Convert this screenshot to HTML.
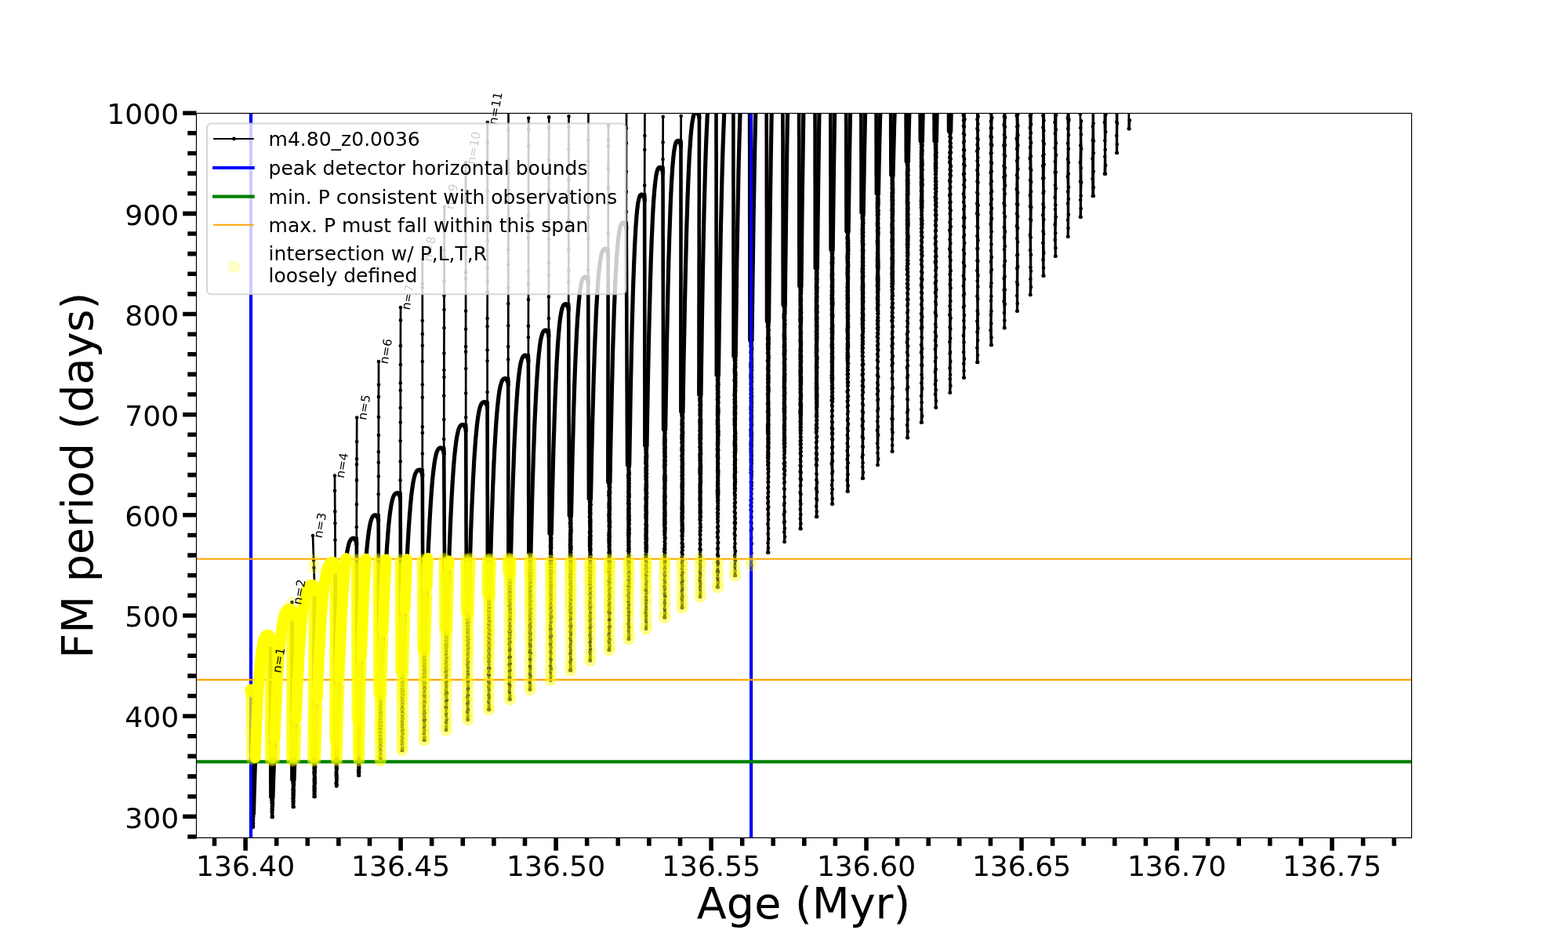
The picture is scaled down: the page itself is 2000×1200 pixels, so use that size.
<!DOCTYPE html>
<html><head><meta charset="utf-8"><title>FM period vs Age</title><style>html,body{margin:0;padding:0;background:#fff;overflow:hidden}svg{display:block}</style></head><body>
<svg width="2000" height="1200" viewBox="0 0 2000 1200">
<defs><clipPath id="ax"><rect x="250.5" y="144.5" width="1550.0" height="923.8499999999999"/></clipPath></defs>
<rect width="2000" height="1200" fill="#fff"/>
<g clip-path="url(#ax)">
<path d="M320.3 881L320.3 884L320.4 887L320.4 890L320.5 893L320.5 896L320.5 899L320.6 902L320.6 905L320.6 908L320.7 911L320.7 914L320.8 917L320.8 920L320.8 923L320.9 926L320.9 929L320.9 932L321 935L321 938L321.1 941L321.1 944L321.1 947L321.2 950L321.2 953L321.2 956L321.3 959L321.3 962L321.4 965L321.4 968L321.4 971L321.5 974L321.5 977L321.6 980L321.6 983L321.6 986L321.7 989L321.7 992L321.7 995L321.8 998L321.8 1001L321.9 1004L321.9 1007L321.9 1010L322 1013L322 1016L322 1019L322.1 1022L322.1 1025L322.2 1028L322.2 1031L322.2 1034L322.3 1037L322.3 1040L322.3 1043L322.4 1046L322.4 1049L322.5 1052L322.5 1055M322.8 1055L323.1 1053.4L323.1 1050L323 1046.9L323.1 1044.6L323.3 1041.4L323.5 1038.8L323.5 1037.1M346.7 1042L347 1038.7L346.6 1035.3L346.7 1032.1L346.8 1028.5L347 1026L346.6 1023.7L346.4 1020.6L346.3 1018L346.6 1016.4M345.4 1016.4L346.6 1017.9M347.7 1042L347.6 1040.4L347.5 1036.6L347.7 1033.1L347.7 1030L348.1 1026.6L348 1023.8L348 1021.7L348.2 1018.8L348 1016.4M372.7 779.7L372.5 768M373.7 1029L373.7 1025.7L373.5 1022.2L373.5 1019.1L373.5 1016.7L373.5 1013.3L373.6 1010.8L373.4 1007.5L373.7 1004.9L373.8 1001.8L373.5 998.8L373.5 996.5L373.6 994.4M372.4 994.4L373.6 995.9M374.8 1029L374.3 1027.3L374.4 1024.6L374.6 1021.8L374.5 1018.6L374.6 1016.3L374.8 1013.6L374.9 1010.1L374.9 1007.3L374.6 1004.4L375.1 1001.2L375.1 998.3L374.9 996L375 994.4M401.2 748.9L400.4 724L400.1 714.6L399 683M400.5 1016L400.6 1012.6L400.7 1009.9L400.5 1007.4L400.5 1004.8L400.5 1002L400.8 998.5L400.6 996.1L400.6 993.6L400.9 991.4L400.7 988.1L400.4 985.6L400.6 983.6L400.8 981.5L400.4 979.5L400.6 976.7L400.6 974.8L400.6 973.1L400.6 971.1M399.4 971.1L400.6 972.6M401.7 1016L401.6 1014.3L401.5 1011.4L401.7 1008.7L401.8 1005.5L401.5 1002.7L402 999.2L401.9 995.8L401.9 992.6L401.8 990.3L401.5 987.9L401.7 986L402 983.8L401.9 980.8L402.2 978L401.9 975.2L401.8 973.2L401.8 971.2L402 971.1M427.7 720.1L427.5 688.6L427.4 667.2L427.3 652.4L427.1 625.8L427 606.5M429 1002.5L428.5 999.1L429 995.5L428.9 991.8L428.6 988.7L428.6 985.2L429 981.9L428.7 979.2L428.8 975.9L428.5 973.7L428.9 971.6L428.5 968.7L429 965.9L428.6 963.4L428.4 961.1L428.9 959.3L428.7 956.9L428.6 954.1L428.8 951.3L428.5 949.4L428.5 947.3L428.5 944.9L428.6 944.8M427.4 944.8L428.6 946.3M429.3 1002.5L429.8 1000.8L429.5 997.6L429.8 994.2L429.8 991.2L429.6 988.1L429.4 985L429.5 982.2L429.9 980.1L429.7 977.8L429.8 974.8L429.8 972.4L430 969.9L429.8 967.9L429.7 965.8L429.8 963.2L430 960.8L429.9 958L429.9 955.6L430 953.3L430 951.1L430.2 948.8L430.2 946.2L430 944.8M454.8 689.3L454.8 672.2L454.9 643.2L455 612.4L455 592.2L455.1 585.3L455.1 563.2L455.2 532.5M457.3 989L457 985.5L457 982.5L457.4 979L457.1 975.2L457.3 971.8L457.5 969.3L457.1 965.8L457.2 962.4L457.5 959.7L457 956.7L457.2 954.3L457 952.1L457.3 949.9L457.2 948.2L456.9 945.9L457.2 943.8L456.9 941.5L457.3 938.7L456.9 935.8L456.9 933.8L457 931.2L457.1 929.3L457.3 926.5L456.9 924.5L457.2 921.7L456.9 919.2L457.1 918.5M455.9 918.5L457.1 920M458.1 989L458 987.2L458.3 984.5L458.2 981L458.3 978.4L458.3 975.9L458 972.9L458.4 969.8L457.9 967.2L458 964.4L458 962.2L458 960.1L458.1 957.8L458.1 954.9L458.1 952.5L458 950.3L458 948.3L458.3 945.7L458.3 943.8L458.1 941L458.3 938.3L458.6 936L458.4 933.8L458.7 931.3L458.6 929.2L458.5 926.7L458.4 924.5L458.2 922.7L458.6 920.9L458.3 918.9L458.5 918.5M482.7 659.8L482.7 630.2L482.8 607.5L482.8 589.8L482.8 576.3L482.9 555L482.9 531.8L482.9 506.1L483 490.6L483 461M484.8 970L484.6 964.8L485.1 958.4L484.6 953.3L484.6 947.2L484.4 942.7L484.7 938.3L484.5 933.7L484.4 929.1L484.4 925.2L484.4 921L484.6 917.8L484.7 914.1L484.8 909.9L484.8 905.5L484.6 900.7L484.9 897.2L484.8 894L484.3 890L484.8 885.7L484.6 885.4M483.4 885.4L484.6 886.9M485.6 970L485.7 967.4L485.6 963.1L485.8 958L485.8 952.2L485.9 947.1L485.8 941.9L485.4 937.8L485.6 934L485.9 930.4L485.8 925.8L485.9 921.1L485.5 916.8L486 912L485.9 907.9L485.6 903.5L485.8 899.1L485.8 896L485.8 891.8L486.3 887.6L486 885.4M510.6 631.6L510.6 612.4L510.7 588.5L510.7 562.2L510.8 538.6L510.8 520.1L510.8 497.8L510.8 488.4L510.9 465.1L510.9 441L511 408.4L511 392M512.7 957L512.8 950L512.5 944.9L512.9 939.1L512.9 932.1L512.7 926.6L512.7 920.7L513 916.1L513 911.3L512.4 904.7L512.9 899.6L512.6 893.4L512.5 889.1L512.5 883.4L512.4 878.7L512.9 874.4L512.8 871L512.9 866.9L512.4 862.6L512.6 858.1L512.6 857M511.4 857L512.6 858.5M513.2 957L513.5 953.5L513.4 946.8L513.5 941.3L513.8 935.5L513.8 930.8L513.4 923.6L513.8 916.5L513.6 909.8L513.7 904.8L513.8 898.2L513.8 893.6L513.6 889.3L514.1 885.6L514.1 881.5L513.8 877.7L513.7 873.4L514.2 869.5L514.1 864.7L514.2 860.6L514 857M538.8 602.2L538.8 578.5L538.8 552.1L538.8 544.3L538.8 506.7L538.8 490.3L538.8 461L538.8 440.8L538.8 426.1L538.8 408.7L538.8 366.8L538.8 361.8L538.8 331M540.8 944L540.7 935.5L540.9 928.2L540.6 918.5L540.6 910.5L540.7 903.3L540.5 897.6L541 892.1L540.5 885.8L541 878.6L540.5 873.1L540.4 868.5L540.4 863.7L540.5 859.3L540.9 854.3L540.6 849.1L540.6 844.8L540.5 840.9L540.5 837.7L540.4 832.9L540.6 829.9M539.4 829.9L540.6 831.4M541.6 944L541.7 939.8L541.4 932.6L541.5 925.6L541.9 918.1L541.9 909.4L541.4 904.1L541.9 896.6L541.8 890.2L541.7 885.6L542 878.4L542.1 871.7L541.6 867L541.9 862.7L542.1 857.2L542 852L541.9 846.8L541.7 842.4L541.8 837.7L542.1 833L542 829.9M566.2 574L566.2 560L566.3 535.1L566.3 504.5L566.4 481L566.4 471.7L566.4 450.5L566.5 418.3L566.5 394.9L566.5 377L566.6 358.5L566.6 328L566.7 318.8L566.7 290.3L566.8 263.8M568.8 931L569.1 921L569 910.8L568.6 901.9L569 894.5L568.6 885.5L568.7 879.6L568.7 871.5L568.8 865.3L568.5 857.2L568.6 852.3L568.8 846.5L568.8 841.6L568.7 835.4L568.9 830.9L568.8 826.4L568.5 822.3L568.5 817.1L568.6 811.8L568.4 808.4L568.7 804.7L568.6 802.8M567.4 802.8L568.6 804.3M569.3 931L569.5 926L569.8 917.6L569.3 910L569.5 903L569.9 892.7L570 883.7L569.6 874.4L570 868.3L569.5 860.6L569.7 853.6L569.7 847.9L569.5 843L569.8 838L569.7 831.4L569.7 825.2L570.1 820.8L569.9 815.6L569.9 812.3L570.2 808.5L569.9 805.2L570 802.8M594.2 544.5L594.2 532.3L594.2 501.5L594.2 470.1L594.1 448.6L594.1 442.1L594.1 419.7L594.1 396.6L594.1 355.3L594.1 347.3L594.1 314.1L594 288.2L594 278L594 257L594 219.4L594 207M596.4 918L596.1 907.9L596.2 897.2L596 889.1L596.5 879.2L596.5 870.3L596.1 864.3L596.5 856.8L596.1 847.9L596.1 841.9L596.4 835.4L596.4 830.1L596.4 823.4L596.2 816.9L596 812L596.3 807.2L595.9 803.3L596 798L595.8 794.4L596 790L596.3 784.9L596.1 782.2M594.9 782.2L596.1 783.7M596.9 918L596.8 912.9L597 905.1L597.1 894.5L597.1 886.7L597.3 877.5L597.4 868.3L597 859.9L597.1 851.2L597.2 844L597.1 836.5L597.2 831L597.6 826L597.3 820L597.7 814.7L597.2 809.4L597.5 803.6L597.2 797.7L597.7 793.3L597.7 788.3L597.4 785.1L597.5 782.2M621.6 515.7L621.6 500L621.6 460.3L621.6 446.4L621.6 416.3L621.6 406.1L621.7 372.7L621.7 359.4L621.7 341.1L621.7 307.2L621.7 281.1L621.7 277.1L621.7 243.8L621.7 220.8L621.7 207.2L621.7 181.4L621.8 156M623.1 905L623.1 894.8L623.3 886.2L623.1 876.1L623.1 869.3L623 859.9L623.1 852.4L623.2 843.3L623 837.4L623.2 830.6L622.9 823.1L623.3 817.6L623 811.5L623.4 806L623.2 800.7L623.1 795.5L623.4 789.1L623 784.3L623 778.8L623.4 775.3L623.3 771L623.3 766.9L622.9 762.8L623.1 759.8L623.1 757.6M621.9 757.6L623.1 759.1M624.2 905L623.8 899.9L624 889.3L623.9 879.7L624.1 871.6L623.9 860.9L624.4 852.7L624 842.9L624.5 836.8L624.3 827.9L624.5 822.6L624.5 816.3L624.5 809.6L624.5 804.6L624.3 799.6L624.6 793.1L624.2 788.6L624.4 783.8L624.2 779.2L624.6 775.1L624.2 769.7L624.6 765.3L624.7 762.2L624.6 759L624.5 757.6M648.2 485.5L648.2 458.4L648.2 442.1L648.3 415.3L648.3 387.3L648.3 367L648.3 337.3L648.3 318.3L648.4 294.5L648.4 280.4L648.4 242L648.4 221L648.4 203.1L648.5 166.3L648.5 141.9M649.8 892L649.6 881.6L649.5 871.9L649.7 864.1L649.7 856.8L649.5 847.9L649.5 838.8L649.9 829.7L649.4 821.9L649.6 814.5L649.5 805.8L650 797.8L649.9 790.7L650 785.5L649.9 779.6L649.5 772.8L649.9 766.6L649.6 762.6L649.4 757.1L649.5 751.4L649.4 746.2L649.9 742L649.5 738.5L649.5 734.5L649.4 731.6L649.6 730.5M648.4 730.5L649.6 732M650.8 892L650.6 886.8L650.4 874.7L650.4 863.7L650.7 854.4L650.9 846.2L650.7 837.5L650.5 827.9L650.8 818.4L650.9 811.5L651.1 805.3L650.7 798.3L650.8 791L651 785.9L651 781.3L650.9 776.3L650.9 769.4L650.8 763.8L650.6 760L651 756.1L650.9 751.5L650.7 746.2L651.1 742.5L650.7 739.4L650.7 735.7L650.8 732.2L651 730.5M673.9 456.1L673.9 430.2L673.9 415.8L674 382L674 361.9L674 346.4L674 303.5L674 296.4L674.1 275L674.1 252.6L674.1 215.9L674.1 186.6L674.2 165.1L674.2 150.5M675.7 879.5L675.5 869L675.8 858.3L675.9 849.5L676 840.6L675.6 830.8L675.5 820.8L675.7 812.9L675.5 806.3L675.4 798.1L676 791.1L675.5 785.7L675.7 779L675.9 772.6L675.6 767.8L675.4 762.8L675.8 756.5L675.4 751L675.8 745.4L675.8 740.9L675.5 736.7L675.5 733.4L675.5 730.3L675.7 726L675.7 721.7L675.6 718.6L675.8 715.4L675.5 712L675.9 708.5L675.8 705.6L675.6 705.2M674.4 705.2L675.6 706.7M676.4 879.5L676.4 874.3L676.8 862.8L676.5 851.9L676.5 840.9L676.9 833.2L676.8 824.3L677 815.6L676.9 808.1L676.9 800L676.9 793.3L676.7 786.4L676.9 781L677 776.2L676.5 771.4L677.1 766.8L676.6 761.8L676.6 757.7L676.9 752.2L677 746.9L676.9 743.3L677.1 739.2L677.2 734.3L677.1 731.1L677.2 726.4L676.8 723.5L676.7 720.6L677.2 716.6L677.2 713L676.9 709.5L676.8 706.8L677 705.2M699.9 424L699.9 406.1L699.9 378.4L700 351L700 335.7L700 305.1L700 279.5L700.1 244.1L700.1 227.5L700.1 203.7L700.2 163.3L700.2 149.4M702.3 867.5L702.2 856.9L702 849.2L702.2 839.8L702.2 831.2L701.9 822.1L701.8 812.2L701.8 802.9L701.8 797.2L702.3 789L702 783.8L702.2 777.1L702 771.8L702.2 766.2L702.3 761L701.8 756.1L702 750.2L702.1 746.1L702.1 742.2L702.1 737L701.9 732.3L701.9 728.3L701.7 723.4L701.7 718.9L701.8 715.8L701.9 711.6L702.2 708.5L701.9 705.8L702.1 702.7L702 699.3L701.8 696.4L702.1 693.9L702.1 690.6L701.9 688L702 684.5L701.9 682L701.9 680.4M700.7 680.4L701.9 681.9M702.6 867.5L702.6 862.2L703 852.9L702.7 841.3L702.7 833.5L702.9 825.3L702.8 818.2L703.2 811.2L702.7 802.3L702.8 793.1L703.3 786.4L703.2 778.6L702.9 772.4L702.8 765.9L703 760.9L703 756.6L703.2 750.4L703.2 745.4L702.9 740.6L703.1 735.7L703.4 730.8L703.2 726.8L703.1 722.3L703.3 719L703.4 714.7L703.4 711L703.3 707.4L703.1 704.4L703 701.2L703.4 698.2L703.3 694.8L703.2 692.2L703.3 689.2L703.4 686.2L703.1 682.5L703.3 680.4M725.2 390.7L725.2 359.8L725.3 345L725.3 318.3L725.3 282.5L725.3 280.8L725.4 244.5L725.4 229.4L725.4 190.3L725.5 162.3L725.5 148.2M727.1 855L727.3 844.3L727.4 833.9L727.4 824.3L727.3 813.7L727.5 805.5L727.4 798.6L727.4 791.2L727.5 785.2L727 778.7L727.2 772.7L727.2 767.8L727.3 761.9L727.1 756.5L727.3 751.7L727.2 745.2L727.4 740.9L727 736.4L727.3 732.7L727.3 727.7L727.2 723.7L727.4 720.4L727.2 717L727.3 712.9L727 709.7L726.9 706.5L727.1 703L727 699.7L727 697.1L726.9 694.4L727.3 692.3L727 689.8L727.1 687.3L727.2 684.6L727 681.5L727.3 678.1L727.3 676L727.3 672.6L727.3 670.3L726.8 667.3L727.4 665.2L727 662.2L726.9 659.9L727.1 657.6M725.9 657.6L727.1 659.1M728.2 855L727.9 849.6L728.3 841L727.9 829.6L728.2 818.4L728.2 808.3L728.3 798.4L728 789.4L728.2 781.4L728.2 773.7L728.3 766L728.1 760.6L728.2 755.9L728.2 751.6L728.3 747.2L728.3 742.1L728 736.4L728.3 731.1L728.4 726.7L728.3 722L728.6 718.4L728.4 715.6L728.1 711.9L728.5 708.5L728.3 704.8L728.4 701.2L728.6 698.4L728.5 696.3L728.3 693.3L728.3 690L728.4 687.2L728.3 684.1L728.4 681.3L728.6 678.5L728.7 676L728.5 673.3L728.5 670.8L728.6 667.3L728.4 664.1L728.4 661.6L728.6 658.7L728.5 657.6M750.2 356.1L750.2 344L750.3 304.4L750.3 277.4L750.3 262.4L750.3 251.1L750.4 221.9L750.4 205.8L750.4 178.3L750.5 137.5M752.4 842.5L752.4 831.7L752.5 820L752.3 809.9L752.4 800.4L752.4 791.6L752.3 784.8L752.4 777.4L752 771.7L752.4 766.5L752.3 758.6L752.4 753L752.2 746.4L752.1 741.7L752.1 736.8L752.3 732.2L751.9 726.7L751.9 722.3L752.4 719.1L752.4 715.1L751.9 711.7L752.2 708.5L752.5 704.6L752.1 701.7L752.2 699.4L752 697.1L751.9 695.1L751.9 692.2L751.9 688.9L751.9 685.7L752.3 683.7L752.3 681.3L751.9 679.1L752.3 676L752.3 672.9L752.2 670.8L752.1 667.8L752 664.6L752.3 661.3L751.8 659.2L752.3 656.4L752 654.3L751.9 651.3L752.1 648.1L752 646L752.1 643.3L751.9 640.3L752 637.3L752.1 636.2M750.9 636.2L752.1 637.7M753.1 842.5L753 837.1L753.2 827.2L753.2 815L753 805.4L753.4 798.6L753.3 789.5L753.2 782.3L753.4 773.2L753.1 765.9L753.4 759.7L753.3 754L753.5 747.9L753.1 741.6L753.1 737.8L753.3 733.1L753.5 727.8L753.5 724.5L753.5 719.8L753.2 715.8L753.5 711.5L753.6 707.9L753.1 704.9L753.5 701.9L753.5 699.5L753.2 696.2L753.5 693.4L753.2 690.8L753.5 688.4L753.4 685.4L753.6 683.2L753.2 680.2L753.6 677.4L753.4 674.2L753.5 671.6L753.2 669.3L753.5 667.1L753.5 664.6L753.4 662L753.2 659.8L753.4 656.5L753.5 654.3L753.3 651.3L753.4 648.5L753.2 645.8L753.8 643.7L753.5 640.6L753.4 637.8L753.5 636.2M775.7 320.2L775.7 297.5L775.8 260.6L775.8 240.4L775.9 214.7L775.9 186.8L775.9 179.3L775.9 160.1M776.6 829L776.6 818.1L776.5 809.9L777 799.9L777 791L776.5 780.6L776.7 772.3L777 766.3L776.8 760.1L777 753L776.7 746.3L776.5 740.7L777 734L776.4 729.7L776.6 725.5L776.9 720.1L776.4 715.2L776.8 710.8L777 707L776.5 704.4L776.9 700.8L776.6 697.6L776.8 694.8L776.6 692.7L776.4 690.5L776.5 687.9L776.5 685.7L776.4 682.9L776.5 680.1L776.9 678.1L776.9 676L776.9 672.9L776.6 670.8L776.9 668.8L776.7 665.8L776.5 663.3L776.6 660.4L776.4 657.7L776.4 655.5L776.7 652.6L776.9 650.5L776.6 648.3L776.5 646.2L776.5 643.2L776.6 641.1L776.9 638.8L776.9 636.7L776.9 634.7L776.4 631.9L776.5 629.4L776.4 627.2L776.9 624.8L776.9 621.6L776.5 619.6L776.3 616.5L776.6 615M775.4 615L776.6 616.5M777.4 829L777.8 823.5L777.7 815.5L777.3 806.2L777.8 799.1L777.4 789.9L777.9 781.6L777.7 774.8L777.4 768.6L777.8 760.4L777.4 754.8L777.8 749.8L777.6 743.8L777.8 739L777.9 733.1L777.6 727.9L777.9 724.3L777.9 720.1L777.9 716.9L778 713.2L777.8 708.8L778 706.2L778 703L777.6 700.3L777.7 696.9L777.7 694.6L777.5 691.9L777.8 689.4L777.6 686.8L778 684L777.7 680.9L777.8 678.1L777.6 675.3L778.1 672.2L777.9 669.7L777.9 667.1L778.2 665.2L777.7 663L777.7 660.9L777.6 658L778 655.9L777.6 653.8L778 651.1L778 648.5L778.1 646.5L777.7 643.6L777.9 641.6L777.8 639L777.9 637L778 634.9L777.7 631.9L778.1 629.2L778.2 627.1L777.9 624L778.2 621.5L777.9 619L778.2 615.8L778 615M798.8 286.9L798.8 269.9L798.9 244.5L798.9 218.8L799 182.5L799 163.6L799.1 137.8M801.7 815L801.7 803.9L801.5 795.9L801.7 784L801.4 776.1L801.4 767.2L801.2 759.3L801.4 752.3L801.2 747.1L801.6 739.2L801.5 732L801.7 725.8L801.1 719.9L801.3 715L801.3 710.4L801.7 706.4L801.2 702.6L801.4 699.2L801.3 695.3L801.5 692.7L801.4 690.6L801.4 687.4L801.4 685.3L801.2 682.8L801.2 680.8L801.3 678.7L801.2 676.5L801.4 674.6L801.4 671.7L801.5 669.2L801.5 667.2L801.4 664.8L801.3 662.2L801.2 660L801.4 657.9L801.4 655.7L801.3 653.8L801.2 651L801.3 648.5L801.6 646.3L801.5 644.1L801.1 642.1L801.3 639.2L801.3 637.4L801.5 635L801.2 633.1L801.5 630.1L801.2 628.1L801.4 625.8L801.5 623.3L801.3 620.4L801.5 617.7L801.3 615L801.4 612.2L801.1 609.3L801 606.4L801.4 603.7L801.6 601.2L801.3 598.7L801.5 596L801.2 593.4L801.3 593.3M800.1 593.3L801.3 594.8M802.2 815L802.3 809.5L802.2 799.9L802.2 789.6L802.4 781.1L802.3 770.8L802.1 763L802.1 756.3L802.4 748.9L802.6 743.8L802.6 738.1L802.7 731.3L802.4 726.8L802.1 720.7L802.5 717.2L802.7 712.8L802.5 708.2L802.5 703.5L802.6 700L802.4 697L802.4 693.9L802.6 690.5L802.2 687.9L802.4 685.6L802.5 683.1L802.8 680.2L802.5 677.8L802.8 675.3L802.5 673L802.3 670.2L802.8 668L802.5 665.2L802.8 663.2L802.7 660.6L802.8 657.6L802.4 655.2L802.6 653.1L802.4 650.6L802.7 648.6L802.5 646L802.7 643L802.5 641.2L802.5 638.4L802.3 635.7L802.8 633.5L802.7 631L802.6 628.9L802.5 626.5L802.6 623.9L802.7 620.8L802.4 618.5L802.8 616.5L802.4 614.6L802.7 612.5L802.7 609.7L802.4 606.9L802.8 605.1L802.8 602.9L802.5 600.6L802.4 598.5L802.7 595.6L802.7 593.3M822.2 251L822.2 236.4L822.3 191L822.4 173.1L822.5 138.8M823.8 801.7L823.9 790.5L823.5 781.5L824 769.7L824 761.8L823.6 752.3L824 744.5L824 737.6L823.7 732.1L823.6 725.5L824 720.6L823.9 715.6L823.5 711.5L823.5 707.4L823.6 702.4L823.5 698.5L823.6 695.1L823.4 692.1L823.9 689.7L823.5 687.2L823.6 685L823.4 682.9L823.6 680.4L823.8 678.5L823.6 676.7L823.5 674L823.9 671.8L823.5 669.1L823.8 667L824 664.8L824 662.9L823.5 660.6L823.5 658.3L823.5 655.8L823.7 653L823.5 650.9L823.5 648.5L823.4 645.7L823.7 643.4L823.8 641.4L823.8 639.2L823.5 636.8L823.4 634.7L823.9 632.7L823.8 630.6L823.7 628.8L823.7 626.6L823.4 624.6L823.5 622.5L823.8 620.6L823.6 618.6L823.8 615.8L823.9 613.1L823.5 611.2L823.7 609.4L823.5 606.9L823.7 604.7L823.5 602.2L823.5 599.5L823.4 597.1L823.9 595.2L823.7 592.6L823.3 590.9L823.4 589L823.5 586.9L823.5 585.1L823.4 582.7L823.7 580L823.5 577.4L823.7 575.2L823.3 573.1L823.8 570.4L823.6 568.4M822.4 568.4L823.6 569.9M824.2 801.7L824.7 796.1L824.3 784.8L824.3 776.1L824.4 765.5L824.7 755.3L824.7 749.2L824.8 742.4L824.5 734.6L824.9 729.7L824.9 724.2L824.8 718.3L824.8 712.6L824.4 708.3L824.7 703.7L825 699.9L824.9 697L824.9 694.5L824.6 690.9L825 688L824.8 685.2L824.5 683.1L824.7 681L824.6 679L824.9 677.1L824.6 674.6L824.8 672.6L825 670.4L824.7 668.3L824.6 665.5L824.7 663.1L824.8 660.5L824.6 657.9L824.9 655.4L825 653.1L824.6 650.5L824.7 648.4L824.6 646.4L824.7 644.4L824.8 641.9L824.7 640L824.8 637.7L824.6 635.8L825.2 634.1L824.6 631.5L825.2 628.9L824.6 626.6L824.8 624.3L824.9 622.3L825.1 620.6L825 618.1L825 615.3L824.8 613.3L824.6 611.4L825.1 608.8L824.7 606.8L825.1 604.3L824.7 601.5L825.1 598.9L824.8 596.3L825.1 594.4L824.9 592.3L824.9 589.9L824.8 587.2L825 585.5L825.2 583L825.2 580.5L825 577.7L824.8 575.4L825 573.3L825.1 571.5L825 569.6L825 568.4M845.5 216.4L845.5 203.3L845.6 181.5L845.7 148.9M847.3 787.5L847.6 776.2L847.7 768.4L847.6 756.9L847.3 748.3L847.5 739.5L847.4 732.3L847.5 725.6L847.7 718.2L847.3 713.3L847.5 708.1L847.2 703.5L847.3 699.8L847.7 695.5L847.6 690.7L847.7 686.2L847.6 682.8L847.5 680.5L847.3 677.5L847.7 674.8L847.5 672.5L847.3 670.4L847.1 667.7L847.5 665.7L847.1 663.5L847.3 661L847.3 658.6L847.4 656.3L847.2 654.1L847.6 652.2L847.2 649.8L847.2 647.1L847.4 645.3L847.4 643.3L847.2 640.9L847.1 638.5L847.4 636.2L847.3 634.4L847.3 632.6L847.4 629.8L847.5 627.3L847.7 625.4L847.1 622.9L847.3 620.2L847.6 618.3L847.5 615.9L847.5 614L847.2 612.2L847.1 610.1L847.2 607.7L847.5 605.6L847.6 603.4L847.6 601L847.6 598.6L847.1 595.9L847.2 593.3L847.4 590.7L847.1 588L847.5 585.8L847.5 583L847.4 581.3L847.4 579.4L847.1 576.8L847.4 574L847.1 572L847.5 569.7L847.1 567.3L847.1 565.6L847.1 562.9L847.2 560.6L847.2 558.1L847.5 556.2L847.4 553.8L847.6 551.2L847.2 549.4L847.3 547.8M846.1 547.8L847.3 549.3M848.2 787.5L848.4 781.9L848 769.4L848.4 761.1L848.2 751.1L848.1 742.8L848.2 733.7L848.4 725.3L848.2 720.3L848.6 715.2L848.1 709.4L848.3 705.1L848.4 700.4L848.3 696.3L848.4 693.2L848.1 689.7L848.7 686.3L848.2 683.7L848.3 680.4L848.4 677.9L848.5 675.6L848.7 673.2L848.2 670.3L848.6 667.9L848.6 665.2L848.5 662.8L848.3 660.6L848.7 658L848.6 655.2L848.6 653.1L848.5 650.5L848.4 648.1L848.4 645.7L848.4 643.9L848.8 641.8L848.4 639.5L848.4 637.5L848.3 635.4L848.7 633.7L848.5 631.4L848.4 629.1L848.3 627.1L848.4 625.1L848.6 622.5L848.5 619.7L848.6 616.9L848.4 615.1L848.9 612.7L848.7 610.6L848.8 608.4L848.6 606.5L848.4 603.8L848.3 601.8L848.5 599.9L848.4 597.3L848.4 595.1L848.8 592.7L848.4 590.2L848.9 587.7L848.4 585.3L848.9 582.6L848.4 580.5L848.7 578.5L848.7 575.8L848.5 573L848.8 570.9L848.6 568.5L848.6 566L848.6 564.2L848.7 562.4L848.7 560.3L848.5 557.9L848.4 555.6L848.7 552.8L848.4 550L848.7 547.8M868.5 182.4L868.7 148.1M869.7 775L869.5 763.6L869.6 754.9L869.5 743.9L869.7 733.7L869.8 725.6L869.8 718.1L869.6 711.1L869.6 704.3L869.9 698.2L869.6 692.6L870 687.4L869.6 683.4L870 679.6L869.4 676.8L869.8 673.7L869.6 670.3L869.6 667L869.5 664.3L869.5 662.6L869.7 660.8L869.5 658.4L869.6 655.6L869.5 653.7L870 651.2L869.4 649.2L869.5 646.6L869.7 643.8L869.6 641.3L869.7 638.7L869.9 636.6L869.8 634.7L869.8 632.9L869.9 630.7L869.7 628.9L869.9 626.7L869.8 623.9L869.5 621.9L869.6 619.9L869.5 617.9L869.8 615.3L870 613.3L869.7 611.3L869.9 609.4L869.5 606.7L869.9 604.1L869.6 602L869.9 599.7L869.8 597.8L869.6 595.4L869.9 593L869.9 591.1L869.8 588.9L869.5 586.2L869.9 583.5L869.4 581.4L869.9 579.6L869.9 577.8L869.8 575.9L869.4 574.1L869.4 571.6L869.9 569.5L869.9 566.9L869.4 564.1L869.8 562.1L869.4 559.5L869.5 557.2L869.4 555L869.9 553.3L869.8 551.2L869.6 549.3L869.6 547.4L869.7 545.5L869.8 543.6L869.4 541.3L869.6 539.2L869.5 536.4L869.9 534.4L869.7 531.7L869.4 529.6L869.3 527.6L869.6 525.8L869.6 525.1M868.4 525.1L869.6 526.6M870.5 775L870.4 769.3L870.6 761L870.6 750L870.7 740.5L870.8 729.9L870.5 721.4L870.6 715.1L870.6 707.2L870.6 701.8L871 697.4L870.7 693.7L870.5 688.1L870.6 683.8L870.5 680.5L870.9 677.6L870.9 673.9L870.8 671.6L870.8 669.1L870.6 666.5L870.4 663.6L870.9 661L870.8 658.7L870.6 655.8L870.9 653.4L870.9 651.2L870.8 649L870.9 646.6L870.8 644.5L870.6 642.2L870.6 639.7L870.8 637L870.8 634.4L870.6 632.1L871 630.3L870.8 627.9L871 625.6L870.6 623.6L870.8 620.9L871 618.5L871 615.7L870.8 613.9L871 611.2L870.6 609.4L870.6 607.4L871 605.2L870.8 602.9L870.8 601.1L871 598.2L870.8 596L871 593.3L871 591.4L870.9 589.3L870.8 587.3L870.8 585.2L870.7 583.4L870.6 581L871 579.1L870.8 577.1L871.1 575.1L871 573.2L870.7 570.5L871.1 568.3L870.8 565.9L870.9 564.1L871.1 562L870.9 559.9L871.1 557.4L870.9 555.3L871.2 552.9L871.2 550.9L870.9 548.4L870.9 545.9L871.1 544.1L871 541.9L871.2 539.7L870.7 537.1L871 534.6L871.2 532.4L871 530.2L871 527.4L871 525.2L871 525.1M892.9 761L892.9 749.5L892.5 739.4L892.8 728.7L892.9 718.6L892.6 712L892.9 706L892.5 700.3L892.8 692.8L892.9 688L892.7 681.7L892.8 677.7L892.8 673L892.9 667.4L892.5 662.6L892.7 659.3L893 656.7L892.6 653.9L892.6 651.2L892.7 648L892.7 645.5L892.6 643.7L892.9 641L892.6 638.3L892.4 636.3L892.6 634L892.7 631.7L892.6 629.3L892.5 626.7L892.7 623.9L892.6 622.1L892.6 619.8L892.6 617.4L892.9 615.3L892.8 613.3L892.7 610.6L892.9 608.4L892.9 606.2L892.6 604.4L892.4 601.9L892.4 599.2L892.5 596.8L892.7 594L892.7 591.3L892.8 588.8L892.5 586.8L892.5 584.1L892.5 581.3L892.4 579.5L892.9 576.8L892.8 574.6L892.9 572.6L892.4 570.1L892.8 568.3L892.9 566.5L892.5 564.5L892.5 562.1L892.4 559.7L892.5 556.9L892.4 554.2L892.9 551.6L892.4 549.4L892.7 547.3L892.7 545.3L892.6 543.5L892.6 540.9L892.4 538.4L892.4 535.7L892.9 532.9L892.6 530.1L892.5 528.1L892.6 525.5L892.4 522.7L892.8 520.4L892.6 518L892.4 516.2L892.8 514.1L892.4 511.4L892.3 508.6L892.9 506.2L892.9 504.1L892.6 503.4M891.4 503.4L892.6 504.9M893.2 761L893.4 755.2L893.4 744.4L893.4 733L893.5 722.4L893.6 715.8L893.6 709.4L893.7 701L893.3 694.4L893.4 688.1L893.4 682L893.6 676.6L893.8 672.1L893.5 668.5L893.6 663.4L893.9 659.1L893.5 655.7L893.9 653.2L893.7 650.9L893.5 648.1L893.5 645.7L893.7 643.3L893.6 641.2L893.6 639L893.6 637.1L893.7 634.4L893.5 631.6L893.7 628.8L893.8 626.2L893.6 623.7L893.6 621.1L893.5 619.1L893.8 616.9L894 614.8L893.8 613L893.8 611L893.9 608.4L893.6 606.6L894.1 604.2L893.9 602.4L894 599.9L894 597.8L894.1 595.5L894.1 593.8L893.8 591.6L893.7 589.7L893.9 587.2L893.7 585.3L893.7 583.4L893.7 581.4L894.2 578.6L893.8 575.9L894 573.6L894 570.9L893.7 568.4L894.1 566L893.6 563.3L893.8 560.8L894.2 558.9L894 556.4L894.1 554.5L894.1 551.7L894.1 549.1L894 546.5L894.1 544.2L894.1 541.6L894.2 539.5L894.2 537.2L894.2 535.3L893.8 532.7L893.8 530L893.9 528.1L894 526.1L894.1 523.3L893.9 520.8L894.1 518.1L894.2 515.6L893.9 513L894.1 511.1L893.9 508.4L894.2 506L894 503.4M914.9 748.8L915.2 737.2L915 729L915.1 717.3L915.1 707.6L915 699.8L915.4 692.5L915 684.7L915 679.4L915.1 672.4L915.3 666.2L915.2 661.9L915.3 658L915 654.1L915 648.7L915.4 645.3L915.4 641.4L915.1 638.2L915.1 634.3L914.9 630.8L914.9 627.7L914.8 625.4L915.4 623.4L915.3 621.2L915 619.2L915.1 617.3L915.1 614.6L915.4 612.5L915.2 609.7L915.2 607.9L915.4 605.7L915.2 603.5L915 601.1L915.2 598.7L915.1 596L915.4 593.8L915.3 592L915.1 589.5L915.2 587.3L915.2 584.5L914.8 581.9L914.9 579.8L915.3 577L915.1 575.1L914.8 572.7L915.2 570.6L914.9 568.1L914.9 565.5L915 563.2L915.1 560.3L915.2 557.7L915.3 555.5L915.2 552.9L914.9 550.9L915.2 548.5L915 545.9L915.1 544L914.8 541.3L914.8 538.7L914.8 536.6L915 534.5L915.3 531.7L914.9 529.8L914.9 526.9L915 524.9L914.9 523L915 520.8L914.9 518L915.3 516L915.2 513.8L915.2 511.3L914.8 509.2L915 506.7L915.1 504.3L914.9 501.7L915.3 499.5L914.9 497.2L914.9 494.8L914.7 492.2L915 489.5L915.3 487.3L914.9 485.3L915 483.5L915.1 480.9L915.2 478.7L915 478.4M913.8 478.4L915 479.9M915.8 748.8L916 743L916 729.2L916.1 718L916.2 709.3L915.9 699.6L916.2 692.1L915.8 685.4L916.1 677.4L916.1 671.1L915.8 664.3L915.8 659.6L916.1 655L916.2 649.7L916 645.5L916 641.7L916.3 637.7L915.9 634L916.3 631L916.4 628.4L916.3 625.5L916.2 622.8L915.9 620.1L916.3 617.5L916 615.1L916.2 613.3L916 610.6L916 608.7L916.3 606.8L916.3 604L916.3 601.8L916.4 600L915.9 597.9L916 595.5L915.9 593.4L916.2 591.2L915.9 588.6L916 585.9L916.3 583.9L916.1 581.8L916 579.4L916 576.8L916.4 574.1L915.9 571.7L915.9 569.1L916.2 566.8L916.3 565L916.3 562.4L916.3 560.3L916.1 557.9L916.6 555.1L916.5 552.5L916.6 550.4L916.3 548.6L916.2 546.7L916.4 544.2L916.2 541.9L916.2 540L916.1 537.9L916.3 535.4L916.1 533.1L916.1 530.6L916.3 528.6L916.6 526.1L916.6 523.5L916.5 520.7L916.1 518.1L916 516.2L916.5 513.5L916.2 511L916.1 508.9L916.6 506.4L916.1 504.3L916.3 502.4L916.5 499.7L916.1 497.4L916.2 495.6L916.4 492.9L916.6 490.1L916.4 487.4L916.2 484.8L916.4 482.9L916.2 480.6L916.1 478.6L916.4 478.4M937.2 734L937.3 722.2L937 708.7L937 697.7L937.2 687.2L936.7 680.4L937.1 673.7L936.7 666.8L937.2 658.9L936.7 652.8L937 645.9L936.9 641.8L937.2 636.5L937.1 632L936.8 628.4L936.9 623.6L937 620.7L936.8 617.9L937 614.8L937.1 611.7L936.7 609L936.7 606.2L936.9 603.9L937.1 601.4L937 599.4L936.9 596.9L937.2 595L936.7 592.6L937.2 590.6L936.9 588.6L937.1 586L937.1 583.5L936.7 581.7L937.1 578.9L936.7 577.1L937.2 575.1L937 573.1L937 570.3L936.8 567.6L936.6 565.7L936.7 563.1L937.1 560.2L937.1 558.3L936.9 556.4L937.1 554.5L937.2 551.8L937.1 550L937.1 547.7L937 545.4L937.1 543L936.6 541.2L936.8 538.8L936.6 536.6L936.6 534L937.1 531.4L936.7 529.1L936.7 526.6L936.7 524.4L936.9 521.6L936.7 519.4L937.1 516.9L936.7 514.2L936.8 512L936.7 509.4L937.2 507L936.6 504.4L936.7 502.6L936.9 500.1L936.9 497.7L936.9 495.5L937.1 493.1L937.1 490.5L937.1 487.7L936.6 485.2L937.1 482.7L937.1 480.5L937.1 478.5L937 476.3L936.7 474.3L936.8 472.1L936.8 470.3L937 467.5L937 464.7L937.2 462L936.7 459.4L936.8 457.4L936.7 455.6L936.9 454.6M935.6 454.6L936.9 456.1M938 734L937.7 728.1L937.9 715.3L938 702.9L937.6 693.2L937.7 683.1L937.8 674.5L938.1 667L937.9 661.4L937.9 654.5L937.8 647.3L938 640.8L937.7 634.8L937.8 631L937.7 626L938.1 622.7L937.8 618.3L938.1 615.1L938.1 611.9L937.8 608.8L937.7 606.6L937.8 604L938.3 602L938 599.5L938.1 597L937.9 594.5L937.7 592.7L937.9 591L937.8 589.1L938.3 586.8L937.9 584.3L937.8 581.6L937.9 579.8L938.1 577.6L938.2 575.4L938.3 573.5L938.2 571.4L938.2 569.7L938.3 567.7L938.2 565L937.8 563L938.3 561L938.2 559.1L938.2 556.7L937.9 554.8L938.4 553L938.2 550.8L937.9 548.4L937.8 546.6L937.9 543.9L938 541.1L937.9 538.5L938 535.9L938.1 533.7L938 531.9L938 529.3L938.3 527.1L937.9 525.1L938.1 523.1L938.2 521L938.4 518.7L938.2 516.9L938 514.3L938.1 512.5L938.1 510.6L937.9 508.1L938.1 506.2L938 504.3L937.9 502.1L938.1 500.3L938.4 498L937.9 495.6L938.3 493.7L938.4 491.3L938.4 488.5L938.5 486.6L938 484.3L938.4 482.4L938 480.4L938.5 478.4L938.4 476.1L938.2 474.3L938 472.2L938.1 469.7L938.5 467.9L938 465.6L938.3 463.8L938 461.5L938.4 459.3L938.1 456.9L938.2 454.6M957.9 721L957.9 709.1L958 700L957.9 687.4L957.7 676.2L957.6 665.8L957.8 659L957.5 650.1L957.5 644.2L957.5 638.1L957.9 633.1L958 627.3L957.8 622.4L958 618.7L957.7 614.8L958 610.5L958 606.6L957.5 602.7L957.5 598.8L957.7 594.9L958 592.5L957.7 590.1L957.8 587.8L957.6 586.1L957.9 584.1L957.8 582.4L957.7 580.4L957.8 578L957.5 576.1L958 574.3L957.5 572.4L957.7 570.1L957.4 567.3L957.5 565.3L957.7 562.9L957.9 560.7L957.9 558.2L957.5 555.4L957.6 552.6L957.9 550.8L957.4 549L957.6 546.9L957.9 544.1L957.7 541.9L957.9 539.2L957.7 536.7L957.5 534.8L957.7 532.4L957.9 529.7L957.5 526.9L957.9 525.1L957.5 522.7L957.5 520.2L957.6 518.2L957.8 515.8L957.8 514L957.6 511.6L957.8 509.1L957.6 507.3L957.8 504.8L957.5 502.4L957.8 499.5L957.6 497.6L957.5 494.7L957.9 492.5L957.5 489.8L957.6 487.2L957.8 484.7L957.5 482.8L957.5 480.9L957.4 479.1L957.6 476.9L957.7 475.1L957.7 472.3L957.7 470.2L957.4 467.9L957.3 465.6L957.4 463.1L957.9 461L957.8 458.4L957.7 455.9L957.9 453.4L957.8 451.4L957.5 449.4L957.7 446.7L957.8 444L957.4 441.6L957.6 439.9L957.5 437.3L957.3 435.5L957.6 433.9M956.4 433.9L957.6 435.4M958.6 721L958.2 715.1L958.4 705.2L958.8 693.3L958.3 685.8L958.9 674.4L958.5 667.3L958.5 659.2L958.6 652.1L958.4 646L958.4 640.9L958.7 636L958.5 629.7L958.8 623.6L958.7 619.1L958.9 615.2L958.4 610.8L958.8 607.5L958.8 604L958.9 601L958.5 597.3L958.5 594.2L958.9 591.1L958.6 588.2L958.8 586.3L958.5 584L958.8 582L958.8 580.2L958.6 578.2L958.8 576L958.5 573.4L958.6 570.8L958.8 568.8L958.8 566.3L958.6 563.5L958.9 561.4L958.6 559.4L958.9 557.4L958.9 554.7L959 551.9L958.7 549.8L958.5 547.3L958.6 544.8L958.8 543.1L959.1 541.2L958.8 538.4L958.6 536.5L958.8 534.2L959 532L959 529.7L958.6 527.8L958.8 525.7L958.9 523.7L958.7 521.7L959 519.4L958.8 516.8L959.1 514.6L958.9 511.8L958.8 509.9L958.7 507.5L959.2 505.7L958.7 502.9L959 500.7L958.6 498.6L959.1 496L958.6 493.8L958.7 491.6L958.6 488.8L959.1 486.7L958.7 484.8L958.7 483L959.1 480.7L958.7 478.8L958.9 476.2L958.7 474L959.2 472L958.8 470.2L959.2 467.6L958.9 464.8L959 462L958.9 459.9L959.1 457.4L958.8 455.5L958.7 452.7L958.9 450L958.8 448L959.3 445.8L959.2 443.9L958.8 441.8L958.9 439.2L958.9 437.3L959.2 434.6L959 433.9M979.1 704.6L979.5 692.6L979.6 680.8L979.3 668.2L979.6 657.1L979.3 649.4L979.3 641.8L979.1 634.7L979.6 628.5L979.4 622.2L979.5 614.7L979.6 609.8L979.6 603.6L979.5 598.1L979.2 592.9L979.2 588.4L979.1 583.9L979.2 580.3L979.2 576.4L979.5 572.9L979.1 569.6L979.5 566.5L979.4 564L979.5 562.2L979.3 559.8L979.5 557.7L979.5 555.1L979.2 553.1L979.1 551.1L979 549L979.1 546.4L979 544.6L979.1 542L979.2 539.7L979.6 537.1L979.4 535L979.3 532.3L979.4 529.5L979.5 527.4L979 525L979.5 522.6L979.3 520.3L979.5 518.1L979.1 515.6L979.2 513.5L979.4 510.6L979.5 508.8L979.3 507L979.4 504.8L979 502.6L979.5 500.2L979.2 497.6L979.4 495.6L979.1 493L979.6 490.2L979.2 488L979.5 485.5L979.1 483.5L979.4 481.4L979.3 479.5L979.3 477.2L979.5 475.3L979.3 472.4L979.1 469.8L979.3 467L979.5 464.4L979.5 462.3L978.9 460.3L979.5 458L979.5 455.2L979.5 452.9L979 450.6L979.4 448.1L979.3 445.9L979.1 443.9L979.2 441.7L979 439.4L979.1 437.7L979.4 435.1L979.1 433.1L979 430.8L979.5 428.4L979.3 426.4L979.4 423.9L979.3 421.3L979.4 419.3L978.9 416.5L979.2 413.7L978.9 411.9L979.2 409.8M978 409.8L979.2 411.3M980.2 704.6L979.9 698.6L980.2 687.3L980.1 673.8L980 662.6L980 654.9L980.3 646.8L980 639.6L980 633.2L980.1 627.3L980.1 620.7L980.2 614.7L980.3 607.6L980.3 601.2L980.3 597.2L980.1 593.5L980.4 590.2L980.2 585.3L980.3 581.9L980.4 578.8L980.1 575.8L980.4 572.3L980.5 570.2L980.2 567.3L980.6 564.8L980.3 562.6L980.4 560.5L980.5 558L980.1 555.2L980.6 553.1L980.4 550.5L980.3 547.9L980.4 545.1L980.2 542.9L980.6 541.1L980.1 538.4L980.4 536.3L980.3 534.1L980.3 531.3L980.7 529L980.4 526.5L980.3 524.4L980.6 522L980.3 519.9L980.3 517.8L980.4 515L980.3 513L980.2 510.3L980.1 507.8L980.2 505.8L980.2 503.2L980.2 501.2L980.6 499.2L980.7 496.6L980.5 493.8L980.2 491L980.4 488.2L980.6 486.3L980.4 483.6L980.7 481.7L980.5 479.1L980.2 476.3L980.3 474.5L980.6 472.7L980.3 470.3L980.3 468.4L980.6 466L980.4 463.1L980.5 460.3L980.4 458.1L980.8 456.1L980.6 453.2L980.3 451.3L980.4 449.4L980.3 446.8L980.6 444.5L980.5 442.7L980.6 440.1L980.8 437.9L980.5 435.4L980.8 433.3L980.8 430.5L980.4 428.2L980.5 426.2L980.3 423.7L980.8 421.1L980.3 418.8L980.5 416.1L980.6 413.6L980.5 411.1L980.6 409.8M1000.4 691L1000.3 678.5L1000 666.3L999.9 656.2L1000.2 644.2L1000.3 633.8L1000.2 623.3L1000.2 616.3L1000.1 610L1000.3 604.4L999.9 598.1L999.8 591L1000.2 584.4L1000.2 580.4L1000.3 575.6L1000 571.1L999.8 566.3L999.8 562.1L999.8 559.2L1000 555.5L999.9 552.3L1000.1 549.3L1000 547.4L999.8 544.8L999.9 542.4L1000.3 540.2L1000.3 537.4L1000 535.2L1000.2 532.5L1000.2 530.3L1000.3 528.1L999.8 525.8L999.8 523.2L999.7 520.7L1000 517.9L999.8 515.3L999.9 512.8L1000.2 510.8L1000 509.1L1000.2 507.2L999.7 504.5L1000 502.2L1000.1 499.7L1000.2 497.5L999.8 495.6L999.7 492.9L1000 491L999.8 488.9L999.9 486.1L999.8 483.5L999.8 480.7L1000 477.9L1000.1 475.1L1000 472.6L999.9 469.9L1000.2 468.1L1000.1 465.4L999.8 462.9L1000.1 460.6L1000.2 457.8L1000.1 455.9L999.9 453.5L999.7 451.6L999.9 449.3L999.9 447.3L1000.1 444.9L999.7 442.5L999.9 439.8L1000.2 436.9L1000 435.1L999.9 432.2L999.8 429.9L999.7 428.1L999.8 426.2L1000 423.8L1000 421L1000.2 418.8L999.9 416.4L1000 413.7L1000 411.5L1000.2 409.5L1000.2 407.4L999.6 405.6L999.7 403.3L999.7 401L1000 398.3L1000.2 395.8L1000 392.9L999.6 390.4L999.9 388.9M998.7 388.9L999.9 390.4M1000.8 691L1001.1 684.8L1000.9 673.9L1000.8 665.4L1000.9 652.6L1000.6 641.3L1000.7 633.7L1000.7 623.9L1000.8 614.5L1000.9 606.1L1001.2 600.2L1001.1 594.5L1001.2 590.1L1000.7 583.5L1000.8 578L1000.9 574.3L1001.3 569.8L1001.3 565L1001.1 561.2L1001.2 558.5L1000.9 555.3L1000.9 551.9L1000.8 549.8L1001.1 547.7L1000.8 545.1L1001.1 542.8L1001 540.4L1000.8 538L1001 536.2L1001.2 534.2L1001.3 532.2L1000.8 530.2L1001 528L1001.2 525.9L1001.2 523.9L1001.1 521.2L1001.3 518.9L1000.9 516.5L1000.8 514.7L1000.8 512.6L1001.1 510.1L1001.1 508L1001 505.2L1001 503.3L1001.4 501.2L1001.1 498.7L1000.8 496.7L1001.3 494.9L1000.9 492.4L1000.9 490L1001 487.7L1001.3 485.8L1001.2 483.3L1001.2 481.3L1001.2 479.1L1001.4 477.3L1001 475.6L1001 473.4L1001.3 471.6L1001.1 468.7L1001.3 466.7L1001.1 464.7L1001.1 462.2L1000.9 460.3L1001.5 457.9L1001 455.1L1001.2 452.8L1001.3 450.9L1001.4 448.6L1001.5 446.5L1001.2 443.9L1001.2 442L1001.3 440.1L1001.3 437.6L1001 434.7L1001.4 432.2L1001.1 430.3L1001.3 428.5L1001.1 426L1001.2 423.4L1001.1 420.9L1001.2 418.1L1001 416.3L1001.5 413.8L1001.1 411.3L1001.4 408.6L1001.2 406.7L1001 404.2L1001.2 402.5L1001.6 399.7L1001.5 397.6L1001.5 395L1001.6 392.6L1001.6 390.1L1001.3 388.9M1020.6 674.3L1020.8 661.4L1020.7 649.5L1020.8 639L1020.6 628.2L1020.8 619.6L1020.7 610.6L1020.6 601.5L1020.6 593.7L1020.9 585.6L1020.7 578L1021 572.8L1020.7 567.1L1020.7 562.4L1020.9 556.9L1020.9 552.4L1020.7 548.8L1020.6 545.1L1020.9 541.7L1020.5 537.9L1020.9 535.1L1020.8 531.9L1020.8 529L1020.4 526.7L1020.4 524.5L1020.7 521.7L1021 519.2L1020.5 516.5L1020.5 514.4L1020.8 511.8L1020.6 509.5L1020.7 507.4L1020.9 504.9L1020.9 502.2L1020.6 500L1021 497.9L1020.5 496L1020.9 493.9L1020.6 491.2L1020.9 488.5L1020.5 486.3L1020.6 483.7L1020.9 481.8L1020.6 479.6L1020.5 477.2L1020.6 475.4L1020.4 473.3L1020.8 471.1L1020.8 469L1020.5 466.5L1020.8 464.8L1020.5 462.4L1020.9 460.4L1020.5 457.6L1020.7 455.2L1020.4 453.2L1020.7 451.1L1020.7 448.6L1020.5 446.8L1020.6 444.7L1020.9 442.5L1020.9 440.7L1020.9 438.7L1020.7 436.7L1020.4 434.5L1020.8 431.9L1020.8 429.8L1020.9 427.6L1020.6 425.8L1020.7 423.8L1020.8 421.2L1020.6 418.8L1020.4 416.2L1020.8 414.2L1020.9 411.9L1020.6 410.1L1020.3 408.1L1020.4 406.3L1020.6 404.1L1020.5 401.8L1020.6 399.3L1020.4 396.4L1020.6 394.1L1020.8 392L1020.8 390L1020.5 387.9L1020.7 385.4L1020.4 383.4L1020.5 380.6L1020.7 378.7L1020.5 376.4L1020.8 374.3L1020.6 372.2L1020.5 369.3L1020.4 367.1L1020.6 364.9M1019.4 364.9L1020.6 366.4M1021.6 674.3L1021.5 667.8L1021.4 656L1021.5 642.7L1021.5 630.2L1021.3 619.3L1021.9 611.6L1021.7 602.4L1021.6 594.6L1021.4 588.5L1021.8 581.2L1021.7 575.7L1021.7 570.9L1021.7 566.2L1021.7 561.5L1021.7 557.5L1021.5 552.7L1021.8 548.9L1021.8 544.8L1021.8 540.6L1021.7 537.7L1021.8 534L1021.7 530.8L1022 528.2L1021.8 525.3L1021.8 523.4L1022 521.7L1021.9 518.8L1022 516.8L1022 514.9L1021.5 512.6L1021.7 509.8L1021.9 507.1L1022 504.8L1022 502.8L1021.5 500.7L1021.5 498.6L1021.9 496.8L1021.6 494.9L1021.7 492.9L1022 490.1L1022.1 487.4L1022 485.1L1022.1 483.1L1022 480.4L1021.6 478.4L1021.9 475.7L1022 473.2L1021.9 471.3L1022 469.1L1021.7 466.8L1021.7 464L1022 461.4L1022 459.4L1021.7 457.2L1022.1 455.3L1021.9 453.1L1021.6 450.8L1022 448.2L1021.8 445.5L1021.8 443.5L1022 440.9L1021.9 438.8L1022.1 436.9L1021.9 434.6L1021.7 432L1021.8 429.4L1021.7 426.7L1022 424.7L1021.8 422.4L1021.7 420L1021.6 417.8L1021.8 415.2L1022 412.5L1022 410.1L1022.1 408.2L1022.2 406.1L1022 403.5L1021.9 400.8L1022.2 398.3L1021.7 396.4L1022 394.2L1021.8 392.3L1021.9 389.6L1021.8 387.7L1021.8 385.3L1022 383L1022 380.8L1021.7 378.1L1021.8 375.3L1022.1 373.5L1022 371.2L1022.2 369.2L1022.1 367.1L1022 365.1L1022 364.9M1041.1 659L1041.2 645.6L1041.3 635.9L1041 623.1L1041.3 612L1041.4 604L1040.9 592.8L1040.9 585.3L1040.9 578.2L1041 570.7L1041.1 564.4L1041.3 558.2L1040.9 551.4L1040.8 546.6L1040.9 541.7L1041.3 536.3L1040.9 530.7L1041.3 527.5L1041.4 523.7L1041 520.3L1041.4 517.6L1041.1 514.4L1041.3 511.6L1041.1 508.3L1041 506.2L1041 503.4L1041.1 500.9L1041.1 498.6L1041.1 496.6L1040.8 493.9L1041.3 491.8L1040.8 488.9L1041.2 486.5L1041.1 483.8L1041 481.9L1041.2 479.4L1041.2 477.4L1041.2 474.9L1041 473.2L1041.1 471.1L1040.9 469L1041 466.5L1041 463.8L1041.3 461.5L1041.2 459.6L1041.3 457.8L1041.2 456.1L1040.9 453.9L1041.1 451.7L1040.8 449.5L1040.9 447.2L1041 444.4L1040.9 442.1L1041 439.3L1041.3 436.8L1041.2 434.7L1040.8 432.6L1041 430.8L1040.9 428.1L1041.2 425.9L1040.8 423.8L1041 421.5L1041.3 418.7L1041.1 416.7L1040.8 414.5L1041.3 412.3L1041.1 410.2L1040.8 407.7L1040.8 404.9L1041.2 402.8L1041 401L1041 399.2L1040.8 397.4L1040.8 395.4L1040.8 393.6L1040.8 391.3L1041 388.6L1040.9 386.6L1040.8 383.9L1040.8 381.3L1041 378.5L1041.2 376.1L1040.8 374.3L1041.1 371.8L1040.9 369.2L1040.8 366.9L1040.9 364.7L1040.9 362.3L1041.1 360.2L1041.2 358.4L1040.8 356.1L1041 354.3L1041.1 352L1041 349.8L1040.9 347.1L1041.2 344.2L1041 342.3M1039.8 342.3L1041 343.8M1042.2 659L1041.8 652.3L1042 637.4L1042.2 627.3L1042.2 615.4L1041.7 604.8L1041.8 593.6L1042.1 586L1042 579.1L1041.8 570.7L1041.8 563.1L1042.2 556.7L1041.8 550.1L1042.4 545.5L1042 540.5L1042.2 536L1042.2 530.9L1042.2 527L1041.9 523.1L1042.4 518.7L1042.4 515L1042.3 512L1042.3 509.6L1042.4 506.7L1042.4 503.9L1042.3 501.8L1042 499.6L1042.3 497.4L1042.4 494.7L1042 492.2L1042.2 490.3L1042.1 488.4L1042 486.5L1042 484L1042.1 481.3L1042.1 478.6L1042.1 476.5L1042.2 474.8L1041.9 472.6L1042.1 469.9L1042.5 468.2L1042.1 466.2L1042 464.5L1042.3 461.9L1042.1 459.6L1042.5 457.6L1042.5 455.4L1042 452.7L1041.9 450L1042.4 447.4L1042.3 444.9L1042 442.2L1042.1 439.9L1042.1 437.7L1042.3 435.2L1042.3 432.5L1042.5 430.1L1042.3 427.5L1042.5 425.4L1042 423.2L1042.4 421.1L1042.4 418.3L1042.5 415.8L1042.3 413.2L1042.4 410.9L1042.1 408.9L1042.5 406.4L1042.4 404.4L1042.1 401.7L1042.3 399.8L1042.6 397.7L1042.3 394.8L1042.4 392.2L1042.6 390.2L1042.1 388.3L1042 386.1L1042.3 383.8L1042.3 381L1042.5 378.3L1042.2 375.9L1042.3 373.8L1042.4 371.6L1042.3 369.3L1042.7 366.9L1042.3 364.9L1042.1 363.2L1042.3 361.4L1042.5 358.7L1042.6 355.9L1042.4 353.5L1042.3 351.7L1042.5 349.7L1042.4 347.9L1042.4 345.7L1042.2 343.6L1042.4 342.3M1061.2 642.8L1061.1 629L1061 618.5L1061.3 604.1L1060.7 591.4L1061.1 579.1L1061.2 570.7L1061.2 560.3L1061 553.1L1060.8 545.9L1061 537.7L1061 531.6L1061 524L1061 517.1L1060.6 510.5L1060.9 505.8L1061.2 500.8L1060.9 496.4L1060.9 492.3L1061.2 488.3L1060.8 485.8L1060.6 482.1L1060.6 478.8L1061.1 476L1060.8 473.8L1061 471.8L1061 469.5L1060.9 467.4L1061.1 464.6L1060.7 461.7L1060.8 459.4L1061.1 457.3L1060.9 455.4L1061.1 452.8L1060.7 451L1061.1 448.7L1061.1 446.8L1060.9 444.6L1060.6 441.8L1060.7 439.7L1060.8 437.9L1060.9 435.3L1061.1 433.5L1060.7 431.2L1061.1 428.5L1061.1 426.5L1060.7 423.9L1061.1 422.1L1060.6 419.5L1061 416.8L1061.1 414.4L1060.8 411.5L1061.1 408.9L1061 406.8L1061.1 404.3L1060.7 401.9L1060.9 399.9L1061.1 398L1060.7 395.2L1060.9 392.7L1061 390.8L1060.7 388.2L1060.7 386.4L1060.8 383.8L1060.6 381.1L1060.7 379.3L1060.6 376.5L1061 374.7L1060.9 372.9L1060.7 371.1L1061.1 368.6L1060.8 366.4L1060.7 364.6L1061 362.6L1061 360.1L1060.9 357.7L1060.8 355.9L1060.7 353.8L1060.6 351.2L1060.7 349.1L1060.9 346.4L1060.7 344.1L1061.1 341.4L1060.9 339.1L1060.7 336.4L1060.6 334.4L1061 332.1L1060.8 330.2L1060.8 327.3L1061 325.1L1060.7 322.4L1060.9 320.5L1060.8 318.7M1059.6 318.7L1060.8 320.2M1062 642.8L1061.8 635.9L1061.7 623.8L1061.7 612.6L1062 601L1062 587.8L1062.1 577.8L1062.1 570.1L1062.1 560.6L1062.1 552.7L1062.1 546.8L1061.8 538.4L1061.7 530.5L1061.9 523.6L1061.7 518.1L1062 512L1062.2 508.1L1061.8 504.1L1062 499.9L1062.2 495L1061.9 491L1061.7 488.2L1062 484.9L1062.2 481.9L1061.9 479.1L1061.8 476.6L1062 473.5L1061.9 471.2L1061.9 469.2L1061.9 466.9L1062 464L1061.7 462L1061.9 460.1L1062.2 457.5L1062.2 455.5L1062 453.3L1061.7 450.9L1062.1 449.1L1061.9 446.6L1062.2 443.8L1061.8 441.8L1062.1 439.4L1061.7 437.4L1061.7 435.1L1062.1 432.6L1062 430.5L1061.8 428.5L1062.2 426.6L1062.2 424.4L1062.2 422.2L1062.1 419.8L1062.1 417.6L1062.3 415.7L1062.1 413.2L1061.8 410.7L1061.9 408.6L1061.8 405.9L1062.3 403.7L1062.2 401.1L1061.9 399L1062 396.5L1062 393.9L1062.1 391.3L1062.4 388.6L1062.4 386.5L1062.3 384.8L1062.1 383L1062.3 380.8L1061.9 378.7L1062.1 376.1L1062.1 373.5L1062.3 371.7L1062.1 369.8L1062 368L1062.3 365.6L1062.1 363.1L1062.2 360.5L1062.2 358.6L1062.3 356.2L1062 354.2L1061.9 352.1L1062.3 350L1062 347.6L1061.9 345L1062 342.4L1062 340.6L1062 338.3L1062.4 335.5L1062.3 333.5L1062.2 330.9L1062.5 328.9L1061.9 326.1L1062.1 324L1062.2 322L1061.9 319.3L1062.2 318.7M1080.8 626.6L1080.6 612.3L1080.7 596.2L1080.6 585.7L1080.6 574.8L1080.7 565.6L1080.8 554.9L1080.9 546.2L1081 535.9L1081.1 528.1L1080.9 519.1L1080.7 511.8L1081.1 506.3L1080.6 499.4L1081.1 492.1L1080.9 487.8L1080.8 483.3L1080.7 477.4L1080.9 472.8L1080.9 469.2L1081.1 465.3L1080.9 462.1L1080.7 459.3L1080.6 456.5L1080.6 453.2L1080.6 449.8L1081 446.8L1080.6 444.7L1080.8 441.9L1080.7 439.1L1081.1 436.9L1081.1 434.8L1080.6 432L1081 429.7L1081 427.8L1080.9 425.2L1080.5 422.8L1080.5 420L1080.9 417.3L1080.9 415.2L1080.9 413L1081 411.3L1081 409.1L1081 406.8L1080.8 404.8L1080.8 403L1081 401.2L1080.7 398.7L1081 395.8L1080.5 393L1080.9 390.5L1080.5 388.1L1080.7 385.3L1080.9 382.9L1080.5 380.8L1080.6 378L1080.5 376.3L1080.9 373.4L1080.5 371.4L1080.8 368.7L1080.5 366.3L1081 364.1L1080.7 362.3L1081 360.6L1081 358.7L1080.9 356L1080.9 354.2L1080.7 351.9L1080.7 350.1L1080.5 347.4L1080.7 344.7L1080.6 342.6L1080.8 340.4L1081 338L1080.7 335.7L1080.6 332.8L1080.6 331.1L1080.5 329L1080.4 326.8L1080.7 324L1080.8 321.3L1080.9 318.7L1080.9 316.6L1080.7 314.7L1080.9 312.3L1080.6 310.4L1080.9 307.7L1080.5 304.8L1080.5 302.9L1080.9 300.3L1080.9 297.8L1080.7 295.5L1080.7 295.2M1079.5 295.2L1080.7 296.7M1081.7 626.6L1081.7 619.4L1081.6 605L1081.7 590.4L1081.6 580.7L1081.6 569.8L1081.6 558.9L1081.7 549.5L1082 540.8L1081.5 533.9L1081.7 524.7L1081.8 517.2L1081.6 510.5L1082 505.4L1081.7 497.6L1081.7 491.7L1082 487.4L1081.7 481.3L1081.9 477L1081.8 471.8L1081.7 467.8L1082.1 463.2L1081.6 458.9L1082.1 455.3L1081.8 451.8L1081.6 449.4L1081.6 446.3L1082 443.3L1082.1 441L1082 438.2L1081.9 436.3L1081.7 434.1L1082 431.3L1081.7 429.5L1081.9 427.4L1081.9 425.3L1081.7 422.6L1081.8 420L1082.2 417.2L1082 415.1L1081.9 413.3L1082 410.8L1081.6 408.7L1082 406.9L1081.8 404.9L1082.2 402.5L1081.8 400.2L1081.8 397.8L1081.7 395.2L1081.9 393.1L1081.8 390.4L1081.7 388.4L1081.9 386.4L1082.1 384.3L1082 382.1L1082.1 379.9L1081.9 377.1L1081.8 374.3L1082 371.5L1081.9 369L1081.8 366.9L1081.9 364.2L1082 361.7L1081.8 359.3L1081.9 357.4L1082 354.9L1082.1 353.2L1081.8 351L1081.8 348.9L1082.1 346.3L1081.9 344.2L1081.9 342.1L1082.2 340L1082.2 337.3L1082.1 334.6L1081.8 332.7L1081.9 330.8L1082.2 328.5L1082 326.1L1082.3 324.1L1082 321.5L1082.4 319.7L1082.3 317.7L1082.2 315.9L1082.3 313.7L1081.8 311.6L1082.3 309.7L1082.2 306.8L1082 304.3L1081.8 302.3L1081.8 299.4L1082 297L1082.1 295.2M1100 610L1100.2 595.2L1099.8 583.1L1100.1 569.2L1099.8 556.9L1099.7 543.3L1099.8 534.4L1099.9 524.3L1100.1 514.6L1099.9 504.1L1100.1 497.8L1099.8 491.9L1100 485.8L1099.7 477.8L1100.1 471.9L1099.7 465.2L1100.1 458.9L1099.7 453.8L1099.8 448.4L1099.7 444.6L1099.7 440.3L1099.9 436.4L1099.8 432.3L1099.6 428.1L1100.2 425L1100.1 421.1L1099.9 417.8L1099.9 414.6L1099.7 412.5L1100.1 410.5L1099.8 408.4L1099.6 406.1L1100.1 403.5L1100.1 400.9L1099.7 398.8L1100 396.2L1099.8 394L1100.1 392.1L1100.1 389.9L1099.8 387.8L1100 385.5L1099.8 382.7L1099.8 380.2L1100 377.5L1099.8 375.1L1100.1 373.1L1099.7 370.4L1099.7 368.6L1099.6 365.8L1099.9 363.1L1099.9 360.8L1099.9 358.6L1100.1 356.7L1099.6 354.9L1099.9 352.4L1100 349.7L1099.6 346.9L1099.7 345.2L1099.6 342.6L1100 340.2L1099.9 338.3L1100 335.6L1099.8 333.4L1100.1 331.4L1099.9 328.7L1100 326.7L1100 324.4L1100.1 322.2L1099.8 319.7L1100 317.3L1100.1 315L1100.1 313.3L1099.8 310.7L1099.6 308L1099.9 305.9L1099.7 303.2L1099.9 300.4L1099.6 298.6L1099.9 296.8L1099.7 294.7L1099.6 292.4L1100 289.7L1099.8 287.3L1099.9 285.2L1100.1 283.1L1099.9 280.3L1099.5 277.6L1099.7 275.7L1099.8 273.9L1099.8 271.3M1098.6 271.3L1099.8 272.8M1100.9 610L1101 602.6L1100.6 590.3L1100.6 580L1100.8 569.9L1100.9 558.9L1100.9 547L1100.9 537.2L1101 526L1100.8 516.6L1100.6 508.6L1100.9 500.3L1101.1 493.6L1101.1 484.7L1100.9 476.7L1100.8 471.2L1101.2 464.4L1100.6 459.8L1100.8 454.8L1100.7 449.5L1100.8 443.9L1100.9 438.6L1100.8 434.9L1101 430.2L1100.7 426L1101.1 422.7L1101.2 418.8L1100.9 416.6L1101 413.2L1100.8 410.1L1101.3 408.4L1101 406.3L1101.1 404.2L1101.3 401.4L1100.9 398.7L1100.7 396L1101.3 393.8L1100.9 391.8L1100.9 389.4L1101.1 386.8L1101.3 385L1101.2 383.2L1100.8 381.1L1101.3 379.2L1101 376.6L1101.3 374L1101.1 371.2L1101.1 369.1L1101.2 366.3L1101.3 363.8L1101.1 361.6L1100.9 358.9L1100.8 356.2L1101.1 353.8L1101.3 351.9L1100.9 349.7L1101.1 347.5L1100.8 345.3L1101.2 343.5L1100.9 341.6L1101.3 338.9L1100.9 336.2L1101.3 334.5L1101 332L1101.1 330.3L1101.2 328.3L1100.9 325.4L1101.2 323.6L1101 321.8L1101.4 319.6L1101 317.5L1100.9 315.2L1101.3 313L1101.3 310.9L1100.9 309L1101.1 306.5L1100.9 303.7L1101.3 301.2L1100.9 299L1101.3 296.6L1101.1 294.3L1101.2 291.8L1101 289.6L1101.2 287.3L1101.5 284.6L1101.1 282.2L1101.3 280.2L1101 277.6L1101.5 275.1L1101.5 273L1101.2 271.3M1119.3 593L1119.4 577.8L1119.1 565.6L1118.9 548.7L1119.2 537.4L1119.2 524L1119.3 510.5L1118.9 502.8L1119.1 495.3L1119.2 488.1L1119 478.6L1119.1 468.8L1119 459.2L1119.1 451.6L1119.3 445.6L1119 440.8L1119.3 435.3L1118.8 429.5L1119.2 424.7L1118.9 418.7L1119 413.3L1119 408.8L1119.4 404.8L1119.3 400L1119.2 396L1118.8 393.2L1119.2 389.4L1119 386.2L1119.3 383.7L1118.8 381L1119 378.7L1119.4 376.9L1119.3 374.1L1119 372.4L1119.2 370.5L1119.2 367.9L1118.8 365.2L1118.8 363.5L1119.3 360.8L1118.9 358.5L1118.8 355.8L1118.8 353.7L1119 350.8L1119.2 348.2L1119.3 345.8L1119.3 343.2L1118.8 340.4L1118.9 337.8L1119 335.7L1118.8 332.8L1118.8 330.6L1119 327.7L1119.1 325.2L1118.9 322.6L1119.2 320.4L1119.3 317.8L1119.2 315.8L1119.1 313.2L1119.1 311L1118.8 309.2L1118.8 307.1L1119.2 305.3L1119.1 302.8L1119.2 300.8L1119.1 298.1L1119.1 296.1L1118.9 293.9L1119.2 292.1L1119.3 289.6L1118.9 287.7L1118.8 285.4L1119 283.3L1119.3 281L1119.1 278.6L1119.2 276.2L1118.7 274.1L1119.2 271.2L1118.8 269.4L1119.1 267.4L1118.7 265.5L1118.7 263.2L1118.9 261.2L1118.7 259.2L1118.9 257.2L1119 255.1L1118.9 253L1119.2 251.2L1119 248.6L1119 247M1117.8 247L1119 248.5M1119.7 593L1120.2 585.4L1119.8 570.9L1120.2 554.8L1120 544.3L1119.8 531.6L1120.1 521.1L1120.1 509.3L1120 498.4L1119.8 491L1120.3 480.3L1119.8 470.1L1119.9 461.2L1119.9 454.5L1120.3 446.3L1120.1 438.8L1120 431.6L1120.2 425.8L1120.1 421.3L1120.3 417.4L1119.9 413.4L1120.2 409.5L1120.2 405L1120.3 400.3L1120.2 397.2L1120 394.3L1119.9 391.6L1120.4 388.7L1120 385.5L1120.3 383.1L1119.9 380.5L1120.2 378.5L1120 376L1120.1 373.4L1120.2 371L1120.5 368.9L1120.2 366.7L1120.4 364.4L1120.4 361.5L1120.4 359.2L1120.5 356.7L1120.4 353.9L1120.3 351.9L1120.1 349.7L1120.1 347L1120.3 344.5L1120.4 342.3L1120.6 339.7L1120.5 336.8L1120.4 334.8L1120.5 332.5L1120.2 330.3L1120.3 328.5L1120.2 326.2L1120.3 324.3L1120.1 322.5L1120.2 320.3L1120.3 318L1120.1 315.8L1120.3 314.1L1120.2 311.2L1120.2 309.1L1120.3 306.5L1120 303.9L1120.1 302L1120.3 299.9L1120.6 297.7L1120.4 295.5L1120.4 292.6L1120.5 290.2L1120.1 288.1L1120.4 285.3L1120.1 282.9L1120.3 280.3L1120.2 277.9L1120.3 275.1L1120.6 273L1120.2 271.1L1120.7 268.8L1120.2 266.9L1120.1 264.3L1120.5 262.1L1120.6 259.5L1120.6 257.7L1120.6 255.5L1120.6 253.3L1120.2 251L1120.4 249.1L1120.2 247.3L1120.4 247M1137.8 575.7L1138 560L1137.8 547.8L1137.5 534L1138 522.3L1137.8 508.3L1138 495.8L1137.8 482.3L1138 474.3L1137.6 466.1L1137.7 458.5L1137.7 449.3L1137.5 441L1137.7 432.3L1137.9 425.6L1138 417.1L1137.4 409.1L1137.7 403.4L1137.8 398.4L1137.5 391.9L1138 386.9L1137.7 381.2L1137.7 377.7L1137.9 373.4L1137.6 370.1L1137.4 365.4L1137.4 361.8L1137.6 358.1L1137.5 354.4L1137.5 351L1137.4 348.9L1137.6 347L1137.6 344L1137.4 341.4L1137.7 339.1L1137.7 337.3L1137.6 335L1137.8 332.3L1137.4 330.5L1137.5 328.7L1137.9 326.2L1137.9 323.4L1137.8 321.5L1137.6 318.9L1137.7 316.1L1137.5 314.2L1137.7 312.3L1137.9 309.9L1137.4 308.1L1137.5 305.3L1137.9 303.3L1137.8 301.4L1137.7 298.7L1137.3 296.2L1137.7 293.8L1137.6 291.2L1137.5 289.3L1137.4 286.9L1137.5 285L1137.7 282.4L1137.9 280.2L1137.5 277.9L1137.8 275.5L1137.6 273.3L1137.9 270.9L1137.4 268.5L1137.5 266.1L1137.8 263.8L1137.6 262.1L1137.7 260L1137.6 257.3L1137.5 254.9L1137.6 252.8L1137.4 250.5L1137.6 247.9L1137.5 245.8L1137.9 243.1L1137.5 240.3L1137.7 238.5L1137.8 236.7L1137.5 234.2L1137.7 232L1137.5 230.1L1137.7 227.4L1137.4 225L1137.6 223.3M1136.4 223.3L1137.6 224.8M1138.4 575.7L1138.2 567.9L1138.6 551.6L1138.6 534.2L1138.6 518.2L1138.5 505.7L1138.9 494.3L1138.3 483.4L1138.5 473.8L1138.7 463.4L1138.9 454.4L1138.4 444.6L1138.8 438.4L1138.8 430.3L1138.4 423L1138.9 416.4L1138.5 409.6L1139 404.7L1138.5 398.8L1139 392.8L1138.9 386.8L1138.5 381.4L1139 377L1138.6 373.2L1138.9 368.5L1138.5 365.8L1139.1 362.2L1139 358.7L1138.9 356.2L1138.7 353.7L1138.8 351.4L1138.9 349.3L1139.1 346.6L1138.6 343.9L1138.9 341.2L1138.8 338.4L1139 336.6L1139.1 334.6L1139.1 332.3L1138.7 330L1139 327.5L1138.7 325.2L1139 323L1138.7 321.1L1139 318.8L1138.7 317L1138.7 314.1L1138.8 311.5L1138.9 309.7L1139 307L1139 305.2L1138.9 302.7L1138.9 300.3L1139 298.3L1138.8 296.4L1138.9 293.7L1139 291.4L1138.8 289.1L1138.6 286.8L1138.6 284.7L1139.2 281.8L1138.7 279.3L1138.8 276.6L1139 273.9L1139.1 271.5L1139.1 269.5L1139.1 267.1L1138.8 264.5L1138.9 262.3L1139.2 260.4L1138.9 257.9L1139.2 255.6L1138.9 253.8L1139 251.3L1138.8 249L1139.1 247L1139.2 244.9L1139.3 242.1L1139 240.1L1138.9 238.2L1139 236.4L1139.1 233.6L1138.9 231.4L1138.7 228.6L1139.2 225.9L1139.3 224.1L1139 223.3M1157.1 558.3L1157.1 542.1L1157.2 526L1157.4 508.9L1156.9 496.5L1157.2 481.8L1156.9 468.7L1157.4 459.6L1157.1 449.4L1156.9 436.5L1156.9 426L1157.3 416.5L1157.3 409.3L1157.3 398.9L1157.4 390L1157.1 381.8L1157.3 373.8L1157.2 366.9L1157 361.7L1157.3 356.4L1157 350L1156.8 343.4L1157 339.6L1157.3 335.9L1157 331.7L1157.1 326.6L1157 322.3L1157.3 318.6L1157.1 315.4L1156.8 312L1157.1 309.3L1157 305.7L1157.3 303.4L1157.3 301.1L1157.1 299L1156.9 296.9L1157.2 294.5L1157 292.2L1157.1 290L1157.3 288L1156.8 286L1157 283.7L1156.8 281.1L1157 278.6L1156.9 275.8L1156.9 273.6L1156.9 271.2L1157 268.8L1156.9 266.2L1157.1 264L1157.1 261.4L1156.8 259.2L1156.8 257.3L1156.8 255.4L1156.9 252.9L1156.9 250.1L1156.8 248.1L1157.1 246.2L1156.9 243.9L1157.1 241.2L1157.1 239L1157 236.5L1156.9 234.7L1156.9 231.9L1156.8 229.4L1157.2 226.8L1156.9 224.6L1156.9 222.3L1156.8 220.3L1157 217.8L1157.3 215L1157.3 212.3L1156.7 209.6L1157.3 207.7L1157 205.9M1155.8 205.9L1157 207.4M1158 558.3L1158 550.2L1157.9 535L1158 522.7L1157.7 510L1158 493.9L1157.9 478.7L1157.9 466.2L1157.9 453L1158.1 441.6L1157.8 432.4L1158.1 422.9L1157.9 412.4L1158 405.2L1158 395.8L1157.9 387.7L1158.3 381.9L1157.9 375L1158.4 368.5L1158.2 362.7L1158.2 357L1158.4 352.6L1158.1 347L1158 342.5L1158.4 336.5L1158.3 332.3L1158 327.8L1158.4 324.7L1158.3 321.4L1158 318.6L1158.3 315.6L1158.5 311.9L1158.3 308.4L1158.5 306L1158.5 303.1L1158.5 300.9L1158.1 298.3L1158 295.8L1158.1 293.3L1158.1 290.8L1158.4 288.3L1158.6 285.7L1158.4 283.7L1158.5 281.5L1158.5 278.8L1158.2 276.4L1158.6 273.6L1158.2 270.8L1158.4 268.1L1158.5 265.4L1158.3 263.2L1158.4 260.6L1158.5 258.2L1158 256.4L1158.1 254.2L1158.1 251.5L1158.2 248.8L1158.5 246.9L1158.3 244.4L1158.4 242L1158.4 239.1L1158.3 236.8L1158.5 234.6L1158.5 232.7L1158.5 230L1158.3 227.6L1158.1 225.8L1158.6 223.4L1158.2 220.7L1158.6 218.1L1158.6 215.8L1158.3 213.9L1158.5 211.6L1158.3 209.3L1158.3 206.6L1158.4 205.9M1175 538.8L1175.2 522.2L1175.1 504.7L1175.2 488.5L1175.4 477.8L1175.2 465.5L1175 449.4L1175 439.8L1175.4 430L1174.9 418.5L1175.1 408.9L1175 400.1L1175.1 388.2L1175.2 380L1175.1 372.7L1174.9 363.4L1175 355L1175.2 346.2L1175.2 337.3L1174.9 331.5L1175.3 324.1L1175 319.1L1175.1 313.7L1175.1 306.8L1175.2 300.6L1175.1 296L1175 291.3L1175.2 286.4L1175.3 282.7L1174.9 279L1175.3 274.1L1175.3 270.4L1175.3 267.6L1174.8 264.5L1174.8 260.5L1174.7 256.8L1175 254.3L1175 251.9L1175.2 249.3L1175.3 246.5L1174.8 243.4L1175.3 240.4L1175 238L1174.9 236.1L1174.8 234.1L1174.9 231.7L1175.1 229.1L1174.8 226.4L1175 223.7L1174.9 221.3L1175 218.7L1175.1 216.2L1174.9 214.3L1174.7 211.7L1175 209.3L1174.9 206.7L1175 204.4L1174.8 201.9L1174.9 199.5L1174.9 197.1L1174.8 195.2L1174.9 192.4L1175.1 189.7L1175 187.7L1175.3 185.9L1174.8 183.5L1175 181.1L1175 180M1173.8 180L1175 181.5M1175.8 538.8L1176.2 530.5L1175.7 513.3L1176.2 495.4L1176.1 482.3L1176.2 465.9L1176.2 455.6L1176.2 444.6L1176 431.3L1176.3 417.5L1176.4 404.1L1176.2 393.5L1176.1 383L1176.1 373.9L1176 366.4L1176.4 356.6L1176.3 347.9L1176.2 340.4L1175.9 332.7L1176.5 326.1L1176.2 320.7L1176.1 315.8L1175.9 308.9L1176.4 302.4L1176.1 296.2L1176.2 290.1L1176.5 285.5L1176.4 280.9L1176 277.5L1176 273.8L1176.1 269.3L1176.4 264.7L1176.4 261.8L1176.3 258.7L1176.5 256.2L1176.3 252.7L1176.2 249.5L1176.2 247.2L1176.3 244.2L1176.2 242.2L1176 239.8L1176.3 238L1176.6 236.1L1176.5 234.3L1176.2 231.6L1176.6 229.3L1176.3 226.8L1176.2 224L1176.2 221.2L1176.2 219L1176.6 216.5L1176.2 214L1176.5 211.1L1176.6 208.8L1176.4 206.9L1176.5 204.3L1176.1 201.8L1176.2 199.5L1176.3 197.1L1176.4 194.9L1176.6 192.5L1176.3 190.4L1176.2 188.5L1176.6 185.8L1176.3 183.9L1176.6 181.1L1176.4 180M1193.4 519.8L1193 502.7L1192.9 489.9L1192.8 474.2L1193 461L1192.8 445.2L1192.9 434L1192.8 423.5L1193.2 413.2L1192.8 398.5L1193.2 385L1192.9 373.1L1192.8 360.8L1193.3 353.1L1193.2 344.7L1192.7 334.2L1193.1 327.2L1193.1 320.2L1192.8 311.2L1192.8 303.5L1193 294.6L1193 286.9L1193.2 281.6L1193 274.2L1192.9 267.7L1193 261L1193 256.1L1192.6 251.5L1193.2 246.2L1192.8 240.7L1193 236L1192.9 231.3L1193 227L1192.9 222.2L1193 217.7L1192.8 214.8L1192.8 211.5L1192.8 208.1L1193.1 204.1L1193 201.2L1192.7 197.6L1193.2 194.7L1193.1 192.2L1192.8 189.2L1193.1 187.2L1192.8 185L1193 182.8L1192.9 180.2M1191.7 180.2L1192.9 181.7M1194 519.8L1194 511.3L1193.8 497.3L1193.7 485.2L1193.7 470.9L1193.7 456.1L1193.9 440.8L1194 428.9L1193.7 417L1194.1 402.4L1193.9 388.3L1194.1 378.3L1194.3 369.4L1194.1 358.2L1193.9 350.5L1194.4 341.3L1194.1 333.8L1194.4 326.8L1194.3 317.3L1193.9 308.2L1193.8 301.5L1193.9 293.9L1193.9 287.9L1194.3 279.7L1194.4 274L1194 268.8L1194.4 263.2L1194.4 258.7L1194.4 253.1L1193.9 248.3L1194.3 244.2L1194.4 239.4L1194.1 235.4L1194.4 231.6L1194 226.9L1194 222.3L1194.1 218.5L1194.4 214.3L1194.1 210.4L1194.3 207.8L1194 204.3L1194.5 200.7L1194.3 198L1194.5 194.9L1194.3 192.1L1194.3 189.2L1194.3 187.3L1194.2 185.1L1194.1 182.9L1194.4 180.8L1194.3 180.2M1211.5 500.7L1211.7 483.2L1211.5 469.4L1211.6 451L1211.3 436L1211.5 417.2L1211.3 401.5L1211.5 390.2L1211.7 377.1L1211.6 362.8L1211.6 349.7L1211.7 339.7L1211.5 327.3L1211.1 317.6L1211.5 305.3L1211.2 293.7L1211.5 283.5L1211.6 272.8L1211.5 265.2L1211.4 258.2L1211.1 249L1211.4 240.6L1211.1 230.6L1211.5 222.5L1211.6 216.2L1211.2 206.9L1211.1 200.7L1211.3 194.6L1211.6 187.1L1211.6 180.3L1211.4 174.2L1211.3 169.6L1211.3 167.5M1210.1 167.5L1211.3 169M1212 500.7L1212.4 491.9L1212.1 478L1212.3 461.1L1212 448.7L1212.2 431.6L1212.3 419.6L1212.6 405.8L1212.2 394.8L1212.4 383.9L1212.6 367.3L1212.4 357L1212.7 345.3L1212.5 332L1212.4 321.8L1212.4 310.3L1212.3 299.1L1212.8 289L1212.5 279.4L1212.7 268.4L1212.5 257.8L1212.4 247.8L1212.3 238.6L1212.4 231.5L1212.8 224L1212.8 218L1212.9 211.9L1212.7 202.8L1212.9 194.5L1212.9 187.8L1212.8 182.8L1212.9 175.9L1212.4 170.8L1212.7 167.5M1229.2 481.7L1229.2 463.7L1229.1 449L1228.9 428L1229.3 408.9L1229 391.7L1229 376.9L1228.8 364.8L1228.8 351.8L1228.9 334.8L1229 318.5L1229.2 302.6L1229 288.5L1229 277.7L1229.2 266.8L1229.1 257.7L1228.9 247.2L1229.3 235.8L1228.9 222.3L1229.2 209.5L1229 199.3L1229.1 191L1229.1 181.5L1229 170.3L1228.9 160.6L1228.9 153.5L1228.7 146.9L1228.8 136.7M1229.9 481.7L1229.6 472.7L1229.9 457.5L1229.6 436.5L1229.9 418L1229.9 402L1229.8 390.1L1229.9 374.6L1229.9 356.1L1230.2 339.3L1230 323.4L1230.2 310L1229.9 299.5L1230.1 289.9L1230.4 277.8L1230.1 263.1L1229.9 251.5L1230.2 238.8L1230.4 229.7L1230 221.5L1230.5 211.2L1230.1 202.9L1230.1 191.6L1229.9 180L1230.1 172L1230 161.5L1230.5 152.1L1230.5 141.7L1230.3 135.5M1246.3 462L1246.3 443.6L1246.5 423.6L1246.3 409.6L1246.7 396.4L1246.4 377.8L1246.7 358.2L1246.3 345.1L1246.5 332.4L1246.4 317.1L1246.4 301L1246.5 288.6L1246.1 272.3L1246.2 259.5L1246.3 245.5L1246.5 231.4L1246.4 217.1L1246.6 205.3L1246.2 192.8L1246.6 184.4L1246.6 176.3L1246.4 164.1L1246.4 152.3L1246.4 141.8L1246.1 134M1247.2 462L1247 452.8L1247.1 434.1L1247.5 418.6L1247.4 400.5L1247.3 381.3L1247.3 365.6L1247.5 351.2L1247.3 333.1L1247.2 316.9L1247.5 306.2L1247.4 290.5L1247.6 273.8L1247.7 262.1L1247.3 247.4L1247.5 232.8L1247.5 222.4L1247.6 210.8L1247.3 200.9L1247.7 189.5L1247.6 178L1247.4 166.2L1247.4 158.2L1247.7 148.5L1247.7 140.5L1247.4 133.7M1264 440L1263.5 421.2L1263.8 401.5L1264 383.5L1264 365.2L1264 347.1L1263.9 334.1L1264 319.8L1264 302.3L1263.6 285.7L1263.9 271.2L1263.7 260.5L1263.8 246.5L1263.7 234.4L1263.6 220.1L1263.9 206.7L1263.7 195.5L1263.8 184L1263.5 174L1263.7 163.6L1263.9 154.8L1263.8 144.4L1263.3 134.7M1264.8 440L1264.6 430.6L1264.3 412.5L1264.5 396.7L1264.4 377.9L1264.5 361.1L1264.8 344L1264.8 327.9L1264.5 311.5L1264.7 295.3L1265 278.8L1265 265.8L1264.9 254L1265 243.9L1264.8 231.3L1264.8 218.6L1265 208L1264.6 195.2L1265.2 185L1264.8 174.9L1264.9 163.5L1265.3 150.4L1264.8 142L1265 133.6M1280.9 418.3L1281 399.1L1280.5 384.5L1280.7 369.8L1280.7 355.3L1280.9 339.1L1281 318.3L1280.8 302.7L1280.8 289.8L1280.9 271.5L1280.5 259.3L1280.8 241.8L1280.4 226L1280.4 211.7L1280.8 197L1280.3 185.5L1280.9 171.7L1280.5 159.1L1280.8 148.5L1280.5 134.6M1281.5 418.3L1281.4 408.7L1281.8 387.7L1281.8 369.6L1281.6 352.8L1281.9 332.9L1281.8 314.1L1282 295.3L1281.8 276.2L1281.5 262L1281.7 247.3L1282.1 236.6L1282.1 224.1L1281.8 213.9L1282 198.9L1281.9 185.1L1282.1 175.3L1281.9 161.7L1282.1 149.7L1282 138.4M1297.2 396.7L1297.2 377.1L1297.2 359.7L1297.2 342.3L1297.3 325.4L1297.2 304.1L1296.9 288.2L1297.1 272.4L1297 260.2L1296.7 241.3L1297 223.3L1297.1 205.3L1297.1 189.8L1296.7 176.9L1297.2 161.5L1296.7 147.4L1296.9 135.2M1297.8 396.7L1297.8 386.9L1297.9 363L1298.2 339.9L1298.1 324.9L1298 308.5L1298.1 290.9L1298.1 276.1L1298.2 261.1L1298.2 245.6L1298 226.7L1298.4 215.7L1298.3 201.3L1298.4 185.2L1298.5 172.6L1298.4 160.4L1298.2 145.7L1298.2 134M1314 376L1314.3 356L1314.4 340.9L1314.1 319.1L1313.9 299.5L1314.2 279.5L1314 263.3L1313.8 249L1314.1 229.9L1314.1 214.7L1313.7 201.9L1314 188.1L1314 176L1313.8 163.1L1313.8 147.8L1314.1 133M1314.5 376L1315 366L1314.9 345.8L1314.9 324.9L1314.7 302.7L1315.1 280.7L1315.3 264.3L1315.1 244.3L1315.2 232.2L1315.2 217.1L1314.9 199.3L1315.1 182L1314.9 169.6L1315.1 158.4L1315.5 144.7L1315.2 133.7M1330.6 351.7L1330.4 331.3L1330.3 309.8L1330.5 295L1330.2 274.2L1330.5 260.2L1330.7 246.4L1330.2 227.5L1330.1 211.5L1330.3 198.7L1330.6 179.8L1330.4 162.6L1330.3 147.2M1331.4 351.7L1331.1 341.5L1331.4 322.4L1331.2 298.3L1331.3 280.1L1331.3 264.5L1331.3 244.1L1331.3 227.1L1331.7 209.8L1331.5 196.7L1331.7 183.4L1331.4 166.6L1331.5 153.8L1331.9 140.5M1346 326.7L1345.7 305.9L1345.6 286.2L1346 267L1345.7 251.8L1345.9 236.1L1345.7 219.8L1345.8 206.1L1345.8 188.8L1345.8 170.3L1345.5 156.1L1345.3 139.6M1346.6 326.7L1346.5 316.3L1346.3 297.2L1346.8 276.8L1346.4 261.2L1346.7 240.6L1346.7 219.7L1347 197.8L1346.9 182.4L1346.9 165.2L1347.1 146.7M1362 301.7L1362.1 280.5L1362.1 259.5L1362.2 244.4L1361.8 225.4L1362 203.1L1362.1 182.7L1362.2 164L1361.8 150.7L1362 136.8M1362.5 301.7L1362.6 291.1L1362.9 273.6L1362.9 253.7L1363 238.8L1362.8 221.8L1362.9 207.2L1362.9 189.7L1363 172.2L1363.5 152.9L1363 137.6M1377.9 276.7L1378.2 255.1L1378 231.5L1377.8 207.3L1378.2 185.6L1378.2 163L1377.9 145.4M1378.7 276.7L1378.7 265.9L1378.7 249.6L1379.2 232.6L1378.9 214.2L1379.2 189.8L1378.9 171.5L1379.1 154.3M1393.7 250L1393.5 228L1393.5 202.4L1393.7 178.9L1393.9 161.2L1393.9 142.5M1394.8 250L1394.8 239L1394.7 218.7L1394.8 195.2L1394.9 179.7L1394.7 157.2L1394.7 141.9M1408.9 221.7L1409.3 199.7L1409.3 179.3L1408.9 156.1L1408.9 139.2M1410 221.7L1410.1 210.7L1409.7 190.9L1410.2 168.1L1410.4 146.2M1424.2 195L1424.2 173L1424.3 155.6L1423.7 133.1M1424.9 195L1424.8 184L1425 157.6L1425.2 136.8M1439.7 164.3L1439.9 142.3M1440.5 164.3L1440.9 153.3" fill="none" stroke="#000" stroke-width="2.7"/>
<path d="M323.5 1037.1L324 1017.3L324.6 999L325.1 982L325.6 966.2L326.2 951.6L326.7 938L327.2 925.6L327.7 914.1L328.2 903.5L328.6 893.8L329.1 884.9L329.6 876.8L330.1 869.4L330.5 862.6L331 856.5L331.4 851L331.9 846L332.3 841.5L332.7 837.4L333.1 833.8L333.5 830.5L333.9 827.7L334.3 825.1L334.7 822.9L335.1 820.9L335.5 819.2L335.8 817.7L336.2 816.4L336.5 815.2L336.9 814.3L337.2 813.5L337.5 812.8L337.8 812.2L338.1 811.7L338.4 811.3L338.7 811L339 810.8L339.2 810.6L339.5 810.4L339.7 810.3L340 810.2L340.2 810.1L340.4 810.1L340.6 810L340.8 810L340.9 810L341.1 810L341.2 810L341.4 810L341.5 810L341.6 810L341.7 810L344.7 815L344.9 818M348 1016.4L348.6 995.6L349.3 976.2L349.9 958.2L350.5 941.5L351.1 926.1L351.7 911.8L352.3 898.7L352.9 886.5L353.5 875.4L354.1 865.1L354.6 855.8L355.2 847.2L355.7 839.4L356.3 832.3L356.8 825.8L357.3 819.9L357.9 814.6L358.4 809.9L358.9 805.6L359.4 801.8L359.8 798.4L360.3 795.3L360.8 792.6L361.2 790.3L361.7 788.2L362.1 786.4L362.5 784.8L363 783.4L363.4 782.2L363.8 781.2L364.2 780.3L364.5 779.6L364.9 779L365.3 778.5L365.6 778.1L365.9 777.8L366.3 777.5L366.6 777.3L366.9 777.1L367.2 777L367.4 776.9L367.7 776.8L367.9 776.8L368.2 776.7L368.4 776.7L368.6 776.7L368.8 776.7L369 776.7L369.1 776.7L369.2 776.7L369.4 776.7L369.4 776.7L369.5 776.7L372.5 781.7L372.7 784.7M375 994.4L375.7 972.8L376.4 952.7L377 934.1L377.7 916.8L378.4 900.8L379 886L379.6 872.4L380.3 859.8L380.9 848.2L381.5 837.6L382.1 827.9L382.7 819L383.3 810.9L383.9 803.5L384.4 796.8L385 790.8L385.6 785.3L386.1 780.3L386.6 775.9L387.2 771.9L387.7 768.4L388.2 765.3L388.7 762.5L389.2 760L389.6 757.8L390.1 756L390.6 754.3L391 752.9L391.4 751.7L391.9 750.6L392.3 749.7L392.7 749L393.1 748.3L393.5 747.8L393.8 747.4L394.2 747L394.5 746.8L394.9 746.5L395.2 746.4L395.5 746.2L395.8 746.1L396.1 746.1L396.3 746L396.6 746L396.8 745.9L397 745.9L397.2 745.9L397.4 745.9L397.6 745.9L397.7 745.9L397.8 745.9L397.9 745.9L398 745.9L401 750.9L401.2 753.9M402 971.1L402.7 949.1L403.3 928.6L404 909.5L404.6 891.8L405.3 875.5L405.9 860.3L406.5 846.4L407.2 833.5L407.8 821.7L408.4 810.9L409 800.9L409.5 791.8L410.1 783.5L410.7 776L411.2 769.1L411.8 762.9L412.3 757.3L412.9 752.3L413.4 747.8L413.9 743.7L414.4 740.1L414.9 736.9L415.4 734L415.9 731.5L416.3 729.3L416.8 727.3L417.2 725.7L417.7 724.2L418.1 723L418.5 721.9L418.9 721L419.3 720.2L419.7 719.6L420.1 719L420.4 718.6L420.8 718.2L421.1 717.9L421.4 717.7L421.8 717.5L422.1 717.4L422.3 717.3L422.6 717.2L422.9 717.2L423.1 717.1L423.3 717.1L423.6 717.1L423.8 717.1L423.9 717.1L424.1 717.1L424.2 717.1L424.3 717.1L424.4 717.1L424.5 717.1L427.5 722.1L427.7 725.1M430 944.8L430.6 922.4L431.3 901.5L431.9 882.1L432.5 864.1L433.1 847.5L433.8 832.1L434.4 817.9L434.9 804.8L435.5 792.8L436.1 781.7L436.7 771.6L437.2 762.4L437.8 753.9L438.3 746.3L438.9 739.3L439.4 733L439.9 727.3L440.4 722.1L440.9 717.5L441.4 713.4L441.9 709.7L442.4 706.4L442.8 703.5L443.3 701L443.7 698.7L444.2 696.8L444.6 695.1L445 693.6L445.4 692.3L445.8 691.2L446.2 690.3L446.6 689.5L447 688.8L447.3 688.3L447.7 687.9L448 687.5L448.3 687.2L448.7 687L449 686.8L449.2 686.6L449.5 686.5L449.8 686.5L450 686.4L450.3 686.4L450.5 686.4L450.7 686.3L450.9 686.3L451.1 686.3L451.2 686.3L451.3 686.3L451.5 686.3L451.5 686.3L451.6 686.3L454.6 691.3L454.8 694.3M458.5 918.5L459.1 895.8L459.7 874.7L460.4 855L461 836.8L461.6 820L462.2 804.4L462.7 790L463.3 776.8L463.9 764.6L464.4 753.4L465 743.2L465.5 733.8L466.1 725.3L466.6 717.5L467.1 710.5L467.6 704.1L468.1 698.3L468.6 693.1L469.1 688.4L469.6 684.3L470.1 680.5L470.5 677.2L471 674.3L471.4 671.7L471.9 669.4L472.3 667.4L472.7 665.7L473.1 664.2L473.5 662.9L473.9 661.8L474.3 660.8L474.7 660.1L475 659.4L475.4 658.8L475.7 658.4L476 658L476.3 657.7L476.6 657.5L476.9 657.3L477.2 657.2L477.5 657.1L477.7 657L478 656.9L478.2 656.9L478.4 656.9L478.6 656.9L478.8 656.8L479 656.8L479.1 656.8L479.3 656.8L479.4 656.8L479.4 656.8L479.5 656.8L482.5 661.8L482.7 664.8M486 885.4L486.6 863.1L487.3 842.4L487.9 823.1L488.5 805.3L489.1 788.7L489.7 773.4L490.3 759.3L490.9 746.3L491.5 734.4L492 723.4L492.6 713.4L493.2 704.2L493.7 695.8L494.3 688.2L494.8 681.3L495.3 675L495.8 669.3L496.3 664.2L496.8 659.6L497.3 655.5L497.8 651.9L498.3 648.6L498.7 645.8L499.2 643.2L499.6 641L500.1 639L500.5 637.3L500.9 635.9L501.3 634.6L501.7 633.5L502.1 632.6L502.5 631.8L502.8 631.2L503.2 630.6L503.5 630.2L503.9 629.8L504.2 629.5L504.5 629.3L504.8 629.1L505.1 629L505.3 628.9L505.6 628.8L505.9 628.7L506.1 628.7L506.3 628.7L506.5 628.7L506.7 628.7L506.9 628.6L507 628.6L507.1 628.6L507.3 628.6L507.3 628.6L507.4 628.6L510.4 633.6L510.6 636.6M514 857L514.6 834.6L515.3 813.8L515.9 794.5L516.5 776.5L517.1 759.9L517.8 744.6L518.4 730.4L518.9 717.4L519.5 705.4L520.1 694.3L520.7 684.3L521.2 675L521.8 666.6L522.3 659L522.9 652L523.4 645.7L523.9 640L524.4 634.9L524.9 630.3L525.4 626.2L525.9 622.5L526.4 619.2L526.8 616.3L527.3 613.8L527.7 611.6L528.2 609.6L528.6 607.9L529 606.4L529.4 605.1L529.8 604L530.2 603.1L530.6 602.3L531 601.7L531.3 601.1L531.7 600.7L532 600.3L532.3 600L532.7 599.8L533 599.6L533.2 599.5L533.5 599.4L533.8 599.3L534 599.3L534.3 599.2L534.5 599.2L534.7 599.2L534.9 599.2L535.1 599.2L535.2 599.2L535.3 599.2L535.5 599.2L535.5 599.2L535.6 599.2L538.6 604.2L538.8 607.2M542 829.9L542.6 807.4L543.2 786.5L543.9 767.1L544.5 749.1L545.1 732.4L545.7 717L546.2 702.8L546.8 689.7L547.4 677.6L547.9 666.6L548.5 656.4L549 647.2L549.6 638.7L550.1 631L550.6 624L551.1 617.7L551.6 612L552.1 606.9L552.6 602.2L553.1 598.1L553.6 594.4L554 591.1L554.5 588.2L554.9 585.7L555.4 583.4L555.8 581.4L556.2 579.7L556.6 578.2L557 577L557.4 575.9L557.8 574.9L558.2 574.2L558.5 573.5L558.9 573L559.2 572.5L559.5 572.1L559.8 571.9L560.1 571.6L560.4 571.4L560.7 571.3L561 571.2L561.2 571.1L561.5 571.1L561.7 571L561.9 571L562.1 571L562.3 571L562.5 571L562.6 571L562.8 571L562.9 571L562.9 571L563 571L566 576L566.2 579M570 802.8L570.6 780.1L571.2 759L571.9 739.4L572.5 721.3L573.1 704.4L573.7 688.9L574.2 674.5L574.8 661.3L575.4 649.1L575.9 638L576.5 627.7L577 618.4L577.6 609.9L578.1 602.1L578.6 595L579.1 588.7L579.6 582.9L580.1 577.7L580.6 573.1L581.1 568.9L581.6 565.2L582 561.8L582.5 558.9L582.9 556.3L583.4 554L583.8 552.1L584.2 550.3L584.6 548.8L585 547.5L585.4 546.4L585.8 545.5L586.2 544.7L586.5 544L586.9 543.5L587.2 543L587.5 542.7L587.8 542.4L588.1 542.2L588.4 542L588.7 541.8L589 541.7L589.2 541.7L589.5 541.6L589.7 541.6L589.9 541.5L590.1 541.5L590.3 541.5L590.5 541.5L590.6 541.5L590.8 541.5L590.9 541.5L590.9 541.5L591 541.5L594 546.5L594.2 549.5M597.5 782.2L598.1 758.7L598.7 737L599.3 716.8L600 698L600.5 680.7L601.1 664.6L601.7 649.8L602.3 636.2L602.9 623.6L603.4 612.1L604 601.6L604.5 591.9L605 583.2L605.6 575.1L606.1 567.9L606.6 561.3L607.1 555.4L607.6 550L608.1 545.2L608.5 540.9L609 537.1L609.5 533.6L609.9 530.6L610.4 527.9L610.8 525.6L611.2 523.6L611.6 521.8L612 520.2L612.4 518.9L612.8 517.8L613.2 516.8L613.6 516L613.9 515.3L614.3 514.7L614.6 514.3L614.9 513.9L615.3 513.6L615.6 513.3L615.8 513.2L616.1 513L616.4 512.9L616.6 512.8L616.9 512.8L617.1 512.7L617.3 512.7L617.5 512.7L617.7 512.7L617.9 512.7L618 512.7L618.2 512.7L618.3 512.7L618.3 512.7L618.4 512.7L621.4 517.7L621.6 520.7M624.5 757.6L625.1 733.7L625.7 711.5L626.3 690.9L626.9 671.7L627.5 654L628.1 637.7L628.6 622.5L629.2 608.6L629.7 595.8L630.3 584.1L630.8 573.3L631.4 563.5L631.9 554.5L632.4 546.3L632.9 538.9L633.4 532.2L633.9 526.1L634.4 520.7L634.9 515.8L635.3 511.4L635.8 507.4L636.2 504L636.7 500.9L637.1 498.1L637.5 495.8L638 493.7L638.4 491.8L638.8 490.3L639.2 488.9L639.5 487.7L639.9 486.8L640.3 485.9L640.6 485.2L641 484.7L641.3 484.2L641.6 483.8L641.9 483.5L642.2 483.2L642.5 483L642.8 482.9L643 482.8L643.3 482.7L643.5 482.6L643.7 482.6L643.9 482.6L644.1 482.6L644.3 482.6L644.5 482.5L644.6 482.5L644.8 482.5L644.9 482.5L644.9 482.5L648 487.5L648.2 490.5M651 730.5L651.6 706.4L652.2 684L652.7 663.2L653.3 643.9L653.9 626L654.4 609.5L655 594.3L655.5 580.2L656 567.3L656.6 555.5L657.1 544.6L657.6 534.7L658.1 525.6L658.6 517.4L659.1 509.9L659.6 503.1L660 497L660.5 491.5L661 486.6L661.4 482.1L661.9 478.2L662.3 474.7L662.7 471.6L663.1 468.8L663.5 466.4L663.9 464.3L664.3 462.4L664.7 460.9L665.1 459.5L665.5 458.3L665.8 457.3L666.2 456.5L666.5 455.8L666.8 455.2L667.1 454.7L667.4 454.3L667.7 454L668 453.8L668.3 453.6L668.6 453.4L668.8 453.3L669 453.2L669.3 453.2L669.5 453.1L669.7 453.1L669.9 453.1L670 453.1L670.2 453.1L670.3 453.1L670.5 453.1L670.6 453.1L670.6 453.1L673.7 458.1L673.9 461.1M677 705.2L677.6 680.5L678.2 657.6L678.7 636.3L679.3 616.5L679.9 598.2L680.4 581.3L681 565.7L681.5 551.3L682 538.1L682.6 525.9L683.1 514.8L683.6 504.6L684.1 495.4L684.6 486.9L685.1 479.3L685.6 472.3L686 466.1L686.5 460.4L687 455.3L687.4 450.8L687.9 446.7L688.3 443.1L688.7 440L689.1 437.1L689.5 434.7L689.9 432.5L690.3 430.6L690.7 429L691.1 427.6L691.5 426.4L691.8 425.4L692.2 424.5L692.5 423.8L692.8 423.2L693.1 422.7L693.4 422.3L693.7 422L694 421.7L694.3 421.5L694.6 421.4L694.8 421.3L695 421.2L695.3 421.1L695.5 421.1L695.7 421.1L695.9 421L696 421L696.2 421L696.3 421L696.5 421L696.6 421L696.6 421L699.7 426L699.9 429M703.3 680.4L703.9 655L704.4 631.3L705 609.4L705.5 589L706 570.2L706.6 552.7L707.1 536.7L707.6 521.9L708.1 508.2L708.6 495.7L709.1 484.3L709.6 473.8L710 464.3L710.5 455.6L711 447.7L711.4 440.5L711.9 434.1L712.3 428.3L712.8 423L713.2 418.4L713.6 414.2L714 410.5L714.4 407.2L714.8 404.3L715.2 401.8L715.6 399.5L716 397.6L716.3 395.9L716.7 394.5L717 393.2L717.4 392.2L717.7 391.3L718 390.6L718.3 389.9L718.6 389.4L718.9 389L719.2 388.7L719.5 388.4L719.7 388.2L720 388.1L720.2 388L720.4 387.9L720.6 387.8L720.8 387.8L721 387.7L721.2 387.7L721.4 387.7L721.5 387.7L721.7 387.7L721.8 387.7L721.9 387.7L721.9 387.7L725 392.7L725.2 395.7M728.5 657.6L729.1 631.2L729.6 606.6L730.1 583.7L730.7 562.6L731.2 543L731.7 524.8L732.2 508.1L732.7 492.7L733.2 478.5L733.7 465.5L734.2 453.6L734.7 442.7L735.2 432.8L735.6 423.7L736.1 415.5L736.5 408.1L737 401.4L737.4 395.3L737.9 389.9L738.3 385L738.7 380.7L739.1 376.8L739.5 373.4L739.9 370.4L740.3 367.7L740.7 365.4L741 363.4L741.4 361.6L741.7 360.1L742.1 358.9L742.4 357.8L742.7 356.8L743 356.1L743.4 355.4L743.6 354.9L743.9 354.5L744.2 354.1L744.5 353.9L744.7 353.7L745 353.5L745.2 353.4L745.4 353.3L745.7 353.2L745.9 353.2L746.1 353.1L746.2 353.1L746.4 353.1L746.5 353.1L746.7 353.1L746.8 353.1L746.9 353.1L746.9 353.1L750 358.1L750.2 361.1M753.5 636.2L754.1 608.5L754.6 582.7L755.2 558.8L755.7 536.6L756.3 516.1L756.8 497.1L757.3 479.6L757.9 463.4L758.4 448.6L758.9 434.9L759.4 422.5L759.9 411.1L760.3 400.6L760.8 391.2L761.3 382.6L761.8 374.8L762.2 367.8L762.7 361.4L763.1 355.7L763.5 350.6L764 346.1L764.4 342L764.8 338.5L765.2 335.3L765.6 332.5L766 330.1L766.4 328L766.7 326.2L767.1 324.6L767.4 323.2L767.8 322.1L768.1 321.1L768.4 320.3L768.8 319.7L769.1 319.1L769.4 318.7L769.6 318.3L769.9 318L770.2 317.8L770.4 317.6L770.7 317.5L770.9 317.4L771.1 317.3L771.3 317.3L771.5 317.3L771.7 317.2L771.9 317.2L772 317.2L772.2 317.2L772.3 317.2L772.4 317.2L772.4 317.2L775.5 322.2L775.7 325.2M778 615L778.5 586.2L779 559.5L779.6 534.6L780.1 511.6L780.6 490.3L781.1 470.6L781.5 452.4L782 435.6L782.5 420.2L783 406.1L783.4 393.1L783.9 381.3L784.3 370.5L784.8 360.7L785.2 351.7L785.7 343.7L786.1 336.4L786.5 329.8L786.9 323.9L787.3 318.6L787.7 313.9L788.1 309.7L788.5 306L788.8 302.7L789.2 299.8L789.6 297.3L789.9 295.1L790.3 293.2L790.6 291.6L790.9 290.2L791.2 289L791.5 288L791.8 287.1L792.1 286.4L792.4 285.9L792.7 285.4L793 285L793.2 284.7L793.4 284.5L793.7 284.3L793.9 284.2L794.1 284.1L794.3 284L794.5 284L794.7 283.9L794.9 283.9L795 283.9L795.2 283.9L795.3 283.9L795.4 283.9L795.5 283.9L795.6 283.9L798.6 288.9L798.8 291.9M802.7 593.3L803.2 563.3L803.7 535.4L804.1 509.5L804.6 485.5L805.1 463.3L805.5 442.7L806 423.7L806.4 406.3L806.9 390.2L807.3 375.5L807.7 361.9L808.2 349.6L808.6 338.3L809 328.1L809.4 318.8L809.8 310.3L810.2 302.7L810.6 295.9L810.9 289.7L811.3 284.2L811.7 279.3L812 274.9L812.4 271L812.7 267.6L813.1 264.6L813.4 262L813.7 259.7L814 257.7L814.4 256L814.7 254.5L815 253.3L815.2 252.3L815.5 251.4L815.8 250.7L816 250.1L816.3 249.6L816.5 249.2L816.8 248.9L817 248.6L817.2 248.5L817.4 248.3L817.6 248.2L817.8 248.1L818 248.1L818.2 248.1L818.3 248L818.5 248L818.6 248L818.7 248L818.8 248L818.9 248L819 248L822 253L822.2 256M825 568.4L825.5 537.6L826 508.9L826.5 482.3L827 457.6L827.5 434.8L828 413.6L828.5 394.1L829 376.1L829.4 359.6L829.9 344.5L830.3 330.6L830.8 317.9L831.2 306.3L831.7 295.7L832.1 286.2L832.5 277.5L832.9 269.7L833.3 262.6L833.7 256.3L834.1 250.6L834.5 245.5L834.9 241L835.3 237.1L835.7 233.5L836 230.5L836.4 227.8L836.7 225.4L837 223.4L837.4 221.6L837.7 220.1L838 218.8L838.3 217.8L838.6 216.9L838.9 216.1L839.2 215.5L839.4 215L839.7 214.6L839.9 214.3L840.2 214.1L840.4 213.9L840.6 213.7L840.8 213.6L841 213.5L841.2 213.5L841.4 213.5L841.6 213.4L841.7 213.4L841.9 213.4L842 213.4L842.1 213.4L842.2 213.4L842.3 213.4L845.3 218.4L845.5 221.4M848.7 547.8L849.2 515.8L849.7 486.1L850.2 458.5L850.6 432.8L851.1 409.1L851.6 387.2L852 366.9L852.5 348.3L852.9 331.2L853.4 315.4L853.8 301L854.3 287.8L854.7 275.8L855.1 264.9L855.5 254.9L855.9 245.9L856.3 237.8L856.7 230.5L857.1 223.9L857.5 218L857.8 212.8L858.2 208.1L858.6 204L858.9 200.3L859.3 197.1L859.6 194.3L859.9 191.9L860.3 189.8L860.6 188L860.9 186.4L861.2 185.1L861.5 184L861.8 183L862 182.3L862.3 181.6L862.6 181.1L862.8 180.7L863 180.4L863.3 180.1L863.5 179.9L863.7 179.8L863.9 179.7L864.1 179.6L864.3 179.5L864.4 179.5L864.6 179.5L864.8 179.5L864.9 179.4L865 179.4L865.1 179.4L865.2 179.4L865.3 179.4L868.3 184.4L868.5 187.4M871 525.1L871.5 491.9L872 461L872.6 432.4L873.1 405.8L873.6 381.2L874.1 358.4L874.6 337.4L875.1 318.1L875.5 300.3L876 284L876.5 269L876.9 255.4L877.4 242.9L877.8 231.5L878.3 221.2L878.7 211.9L879.1 203.5L879.5 195.9L880 189.1L880.4 183L880.8 177.5L881.1 172.7L881.5 168.4L881.9 164.6L882.3 161.3L882.6 158.4L883 155.8L883.3 153.6L883.7 151.8L884 150.1L884.3 148.8L884.6 147.6L884.9 146.7L885.2 145.8L885.5 145.2L885.8 144.7L886 144.2L886.3 143.9L886.5 143.6L886.8 143.4L887 143.3L887.2 143.1L887.4 143.1L887.6 143L887.8 143L888 142.9L888.1 142.9L888.3 142.9L888.4 142.9L888.5 142.9L888.6 142.9L888.7 142.9L891.7 147.9L891.9 150.9M894 503.4L894.5 468.5L895 436.1L895.4 406L895.9 378.1L896.3 352.2L896.8 328.3L897.2 306.3L897.7 286L898.1 267.3L898.6 250.1L899 234.4L899.4 220.1L899.8 207L900.2 195.1L900.6 184.2L901 174.4L901.4 165.6L901.8 157.6L902.1 150.4L902.5 144L902.9 138.3L903.2 133.2M916.4 478.4L916.9 444.5L917.3 412.9L917.8 383.7L918.2 356.5L918.7 331.4L919.1 308.1L919.5 286.7L920 266.9L920.4 248.8L920.8 232.1L921.2 216.8L921.6 202.8L922 190.1L922.4 178.5L922.8 168L923.2 158.5L923.5 149.8L923.9 142.1L924.3 135.1L924.4 133M938.2 454.6L938.7 420.3L939.1 388.4L939.5 358.7L939.9 331.2L940.4 305.8L940.8 282.3L941.2 260.6L941.6 240.6L941.9 222.2L942.3 205.3L942.7 189.8L943.1 175.7L943.5 162.8L943.8 151.1L944.2 140.4L944.4 133.9M959 433.9L959.5 396.7L959.9 362.2L960.4 330.1L960.8 300.3L961.2 272.7L961.7 247.2L962.1 223.7L962.5 202.1L962.9 182.1L963.3 163.8L963.7 147.1L964 136.7M980.6 409.8L981 369.9L981.5 332.8L981.9 298.4L982.3 266.4L982.7 236.8L983.1 209.5L983.5 184.2L983.9 161L984.3 139.6L984.4 132.8M1001.3 388.9L1001.7 348.8L1002.2 311.4L1002.6 276.8L1003 244.6L1003.4 214.9L1003.8 187.4L1004.2 162L1004.6 138.6M1022 364.9L1022.4 325.4L1022.8 288.7L1023.2 254.5L1023.7 222.9L1024.1 193.6L1024.5 166.6L1024.8 141.6L1025 133.7M1042.4 342.3L1042.8 305.9L1043.2 272.2L1043.6 240.8L1044 211.7L1044.4 184.8L1044.7 159.9L1045.1 136.9M1062.2 318.7L1062.6 284.4L1063 252.5L1063.4 222.8L1063.8 195.3L1064.2 169.9L1064.6 146.3L1064.7 138.9M1082.1 295.2L1082.5 266.9L1082.9 240.6L1083.2 216.2L1083.6 193.5L1084 172.6L1084.3 153.2L1084.7 135.3M1101.2 271.3L1101.6 247.3L1102 225.1L1102.3 204.4L1102.7 185.2L1103.1 167.4L1103.4 151L1103.8 135.8M1120.4 247L1120.8 228.3L1121.1 211L1121.5 194.9L1121.8 179.9L1122.2 166.1L1122.5 153.3L1122.9 141.5L1123.1 134.2M1139 223.3L1139.4 206.6L1139.8 191L1140.2 176.6L1140.5 163.2L1140.9 150.9L1141.3 139.4L1141.4 135.8M1158.4 205.9L1158.7 189.2L1159.1 173.6L1159.4 159.2L1159.8 145.8L1160.1 133.5M1176.4 180L1176.7 163.3L1177.1 147.7L1177.4 133.3M1194.3 180.2L1194.7 163.5L1195 148L1195.4 133.5M1212.7 167.5L1213 150.8L1213.4 135.3" fill="none" stroke="#000" stroke-width="5.2" stroke-linecap="round" stroke-linejoin="round"/>
<path d="M344.9 810L344.9 820.3L344.9 830.6L345 840.9L345 851.3L345 861.6L345 871.9L345.1 882.2L345.1 892.5L345.1 902.9L345.1 913.2L345.2 923.5L345.2 933.8L345.2 944.1L345.2 954.5L345.3 964.8L345.3 975.1L345.3 985.4L345.3 995.7L345.4 1006L345.4 1016.4M372.7 776.7L372.7 787.6L372.7 798.4L372.7 809.3L372.6 820.2L372.6 831.1L372.6 842L372.6 852.9L372.6 863.8L372.6 874.6L372.5 885.5L372.5 896.4L372.5 907.3L372.5 918.2L372.5 929.1L372.5 940L372.5 950.9L372.4 961.7L372.4 972.6L372.4 983.5L372.4 994.4M401.2 745.9L401.1 757.2L401 768.4L400.9 779.7L400.8 791L400.8 802.2L400.7 813.5L400.6 824.7L400.5 836L400.4 847.3L400.3 858.5L400.2 869.8L400.1 881.1L400 892.3L399.9 903.6L399.8 914.8L399.8 926.1L399.7 937.4L399.6 948.6L399.5 959.9L399.4 971.1M427.7 717.1L427.7 728.5L427.7 739.9L427.7 751.2L427.6 762.6L427.6 774L427.6 785.4L427.6 796.8L427.6 808.2L427.6 819.6L427.5 831L427.5 842.3L427.5 853.7L427.5 865.1L427.5 876.5L427.5 887.9L427.5 899.3L427.4 910.7L427.4 922.1L427.4 933.4L427.4 944.8M454.8 686.3L454.9 697.9L454.9 709.5L455 721.1L455 732.8L455.1 744.4L455.1 756L455.2 767.6L455.2 779.2L455.3 790.8L455.4 802.4L455.4 814L455.5 825.6L455.5 837.2L455.6 848.9L455.6 860.5L455.7 872.1L455.7 883.7L455.8 895.3L455.8 906.9L455.9 918.5M482.7 656.8L482.7 668.3L482.8 679.7L482.8 691.1L482.8 702.6L482.9 714L482.9 725.4L482.9 736.8L483 748.3L483 759.7L483 771.1L483.1 782.6L483.1 794L483.2 805.4L483.2 816.8L483.2 828.3L483.3 839.7L483.3 851.1L483.3 862.6L483.4 874L483.4 885.4M510.6 628.6L510.6 640.1L510.7 651.5L510.7 662.9L510.8 674.3L510.8 685.7L510.8 697.2L510.9 708.6L510.9 720L511 731.4L511 742.8L511 754.3L511.1 765.7L511.1 777.1L511.2 788.5L511.2 799.9L511.2 811.4L511.3 822.8L511.3 834.2L511.4 845.6L511.4 857M538.8 599.2L538.8 610.7L538.9 622.2L538.9 633.8L538.9 645.3L539 656.9L539 668.4L539 679.9L539 691.5L539.1 703L539.1 714.6L539.1 726.1L539.2 737.6L539.2 749.2L539.2 760.7L539.2 772.2L539.3 783.8L539.3 795.3L539.3 806.9L539.4 818.4L539.4 829.9M566.2 571L566.3 582.6L566.3 594.2L566.4 605.8L566.4 617.3L566.5 628.9L566.6 640.5L566.6 652.1L566.7 663.7L566.7 675.3L566.8 686.9L566.9 698.5L566.9 710.1L567 721.7L567 733.3L567.1 744.9L567.2 756.5L567.2 768.1L567.3 779.7L567.3 791.2L567.4 802.8M594.2 541.5L594.2 553.5L594.3 565.6L594.3 577.6L594.3 589.6L594.4 601.7L594.4 613.7L594.4 625.7L594.5 637.8L594.5 649.8L594.5 661.8L594.6 673.9L594.6 685.9L594.7 697.9L594.7 710L594.7 722L594.8 734L594.8 746.1L594.8 758.1L594.9 770.1L594.9 782.2M621.6 512.7L621.6 524.9L621.6 537.2L621.6 549.4L621.7 561.7L621.7 573.9L621.7 586.1L621.7 598.4L621.7 610.6L621.7 622.9L621.8 635.1L621.8 647.4L621.8 659.6L621.8 671.9L621.8 684.1L621.8 696.4L621.8 708.6L621.9 720.9L621.9 733.1L621.9 745.4L621.9 757.6M648.2 482.5L648.2 494.9L648.2 507.3L648.2 519.7L648.2 532.1L648.2 544.5L648.3 556.9L648.3 569.3L648.3 581.7L648.3 594.1L648.3 606.5L648.3 618.9L648.3 631.3L648.3 643.7L648.3 656.1L648.4 668.5L648.4 680.9L648.4 693.3L648.4 705.7L648.4 718.1L648.4 730.5M673.9 453.1L673.9 465.7L674 478.3L674 490.9L674 503.5L674 516.1L674.1 528.7L674.1 541.3L674.1 553.9L674.1 566.5L674.2 579.1L674.2 591.7L674.2 604.3L674.2 617L674.2 629.6L674.3 642.2L674.3 654.8L674.3 667.4L674.4 680L674.4 692.6L674.4 705.2M699.9 421L699.9 434L700 447L700 459.9L700.1 472.9L700.1 485.9L700.1 498.8L700.2 511.8L700.2 524.8L700.3 537.7L700.3 550.7L700.3 563.7L700.4 576.6L700.4 589.6L700.5 602.6L700.5 615.5L700.5 628.5L700.6 641.5L700.6 654.5L700.7 667.4L700.7 680.4M725.2 387.7L725.2 401.2L725.3 414.7L725.3 428.2L725.3 441.7L725.4 455.2L725.4 468.7L725.4 482.2L725.5 495.7L725.5 509.2L725.5 522.7L725.6 536.2L725.6 549.7L725.7 563.2L725.7 576.7L725.7 590.2L725.8 603.6L725.8 617.1L725.8 630.6L725.9 644.1L725.9 657.6M750.2 353.1L750.2 367.3L750.3 381.4L750.3 395.6L750.3 409.7L750.4 423.9L750.4 438L750.4 452.2L750.5 466.3L750.5 480.5L750.5 494.6L750.6 508.8L750.6 522.9L750.7 537.1L750.7 551.2L750.7 565.4L750.8 579.6L750.8 593.7L750.8 607.9L750.9 622L750.9 636.2M775.7 317.2L775.7 332.1L775.7 347L775.7 361.9L775.6 376.8L775.6 391.7L775.6 406.5L775.6 421.4L775.6 436.3L775.6 451.2L775.5 466.1L775.5 481L775.5 495.9L775.5 510.8L775.5 525.6L775.5 540.5L775.5 555.4L775.4 570.3L775.4 585.2L775.4 600.1L775.4 615M798.8 283.9L798.9 299.4L798.9 314.8L799 330.3L799.1 345.8L799.1 361.2L799.2 376.7L799.3 392.2L799.3 407.6L799.4 423.1L799.5 438.6L799.5 454.1L799.6 469.5L799.6 485L799.7 500.5L799.8 515.9L799.8 531.4L799.9 546.9L800 562.3L800 577.8L800.1 593.3M822.2 248L822.2 264L822.2 280.1L822.2 296.1L822.2 312.1L822.2 328.1L822.3 344.1L822.3 360.2L822.3 376.2L822.3 392.2L822.3 408.2L822.3 424.3L822.3 440.3L822.3 456.3L822.3 472.3L822.4 488.3L822.4 504.4L822.4 520.4L822.4 536.4L822.4 552.4L822.4 568.4M845.5 213.4L845.5 230.1L845.6 246.8L845.6 263.6L845.6 280.3L845.6 297L845.7 313.7L845.7 330.5L845.7 347.2L845.8 363.9L845.8 380.6L845.8 397.3L845.9 414.1L845.9 430.8L845.9 447.5L846 464.2L846 481L846 497.7L846 514.4L846.1 531.1L846.1 547.8M868.5 179.4L868.5 196.7L868.5 214L868.5 231.3L868.5 248.6L868.5 265.9L868.5 283.1L868.5 300.4L868.5 317.7L868.5 335L868.5 352.3L868.4 369.5L868.4 386.8L868.4 404.1L868.4 421.4L868.4 438.7L868.4 456L868.4 473.2L868.4 490.5L868.4 507.8L868.4 525.1M891.9 142.9L891.9 160.9L891.9 179L891.8 197L891.8 215L891.8 233L891.8 251.1L891.7 269.1L891.7 287.1L891.7 305.1L891.7 323.2L891.6 341.2L891.6 359.2L891.6 377.2L891.5 395.3L891.5 413.3L891.5 431.3L891.5 449.3L891.5 467.4L891.4 485.4L891.4 503.4M913.5 142.6L913.5 160.3L913.5 178L913.6 195.7L913.6 213.3L913.6 231L913.6 248.7L913.6 266.3L913.6 284L913.6 301.7L913.7 319.3L913.7 337L913.7 354.7L913.7 372.4L913.7 390L913.7 407.7L913.8 425.4L913.8 443L913.8 460.7L913.8 478.4M935.4 141.5L935.4 157.9L935.4 174.4L935.4 190.9L935.4 207.4L935.4 223.9L935.5 240.3L935.5 256.8L935.5 273.3L935.5 289.8L935.5 306.3L935.5 322.8L935.5 339.2L935.6 355.7L935.6 372.2L935.6 388.7L935.6 405.2L935.6 421.6L935.6 438.1L935.6 454.6M956.1 140.4L956.1 155.9L956.1 171.3L956.2 186.8L956.2 202.2L956.2 217.7L956.2 233.1L956.2 248.6L956.2 264L956.2 279.4L956.3 294.9L956.3 310.3L956.3 325.8L956.3 341.2L956.3 356.7L956.3 372.1L956.4 387.6L956.4 403L956.4 418.5L956.4 433.9M977.7 139.2L977.7 153.5L977.7 167.7L977.8 181.9L977.8 196.2L977.8 210.4L977.8 224.7L977.8 238.9L977.8 253.2L977.9 267.4L977.9 281.6L977.9 295.9L977.9 310.1L977.9 324.4L977.9 338.6L977.9 352.9L978 367.1L978 381.3L978 395.6L978 409.8M998.4 138.2L998.4 151.4L998.4 164.6L998.5 177.8L998.5 191L998.5 204.2L998.5 217.4L998.5 230.5L998.5 243.7L998.5 256.9L998.6 270.1L998.6 283.3L998.6 296.5L998.6 309.7L998.6 322.9L998.6 336.1L998.7 349.3L998.7 362.5L998.7 375.7L998.7 388.9M1019.1 137L1019.1 149L1019.1 161L1019.2 173L1019.2 185L1019.2 196.9L1019.2 208.9L1019.2 220.9L1019.2 232.9L1019.2 244.9L1019.3 256.9L1019.3 268.9L1019.3 280.9L1019.3 292.9L1019.3 304.9L1019.3 316.9L1019.4 328.9L1019.4 340.9L1019.4 352.9L1019.4 364.9M1039.5 135.8L1039.5 146.7L1039.5 157.6L1039.6 168.4L1039.6 179.3L1039.6 190.2L1039.6 201L1039.6 211.9L1039.6 222.8L1039.7 233.6L1039.7 244.5L1039.7 255.3L1039.7 266.2L1039.7 277.1L1039.7 287.9L1039.7 298.8L1039.8 309.7L1039.8 320.5L1039.8 331.4L1039.8 342.3M1059.3 134.7L1059.3 144.4L1059.3 154L1059.4 163.7L1059.4 173.4L1059.4 183.1L1059.4 192.8L1059.4 202.5L1059.4 212.2L1059.5 221.9L1059.5 231.5L1059.5 241.2L1059.5 250.9L1059.5 260.6L1059.5 270.3L1059.5 280L1059.6 289.7L1059.6 299.4L1059.6 309.1L1059.6 318.7M1079.2 133.5L1079.2 142L1079.2 150.5L1079.3 159L1079.3 167.5L1079.3 176L1079.3 184.6L1079.3 193.1L1079.3 201.6L1079.3 210.1L1079.4 218.6L1079.4 227.1L1079.4 235.6L1079.4 244.1L1079.4 252.7L1079.4 261.2L1079.5 269.7L1079.5 278.2L1079.5 286.7L1079.5 295.2M1098.3 139.6L1098.3 146.9L1098.4 154.2L1098.4 161.6L1098.4 168.9L1098.4 176.2L1098.4 183.5L1098.4 190.8L1098.5 198.1L1098.5 205.4L1098.5 212.8L1098.5 220.1L1098.5 227.4L1098.5 234.7L1098.5 242L1098.6 249.3L1098.6 256.7L1098.6 264L1098.6 271.3M1117.5 137.2L1117.5 143.3L1117.6 149.4L1117.6 155.5L1117.6 161.6L1117.6 167.7L1117.6 173.8L1117.6 179.9L1117.7 186L1117.7 192.1L1117.7 198.2L1117.7 204.3L1117.7 210.4L1117.7 216.5L1117.7 222.6L1117.8 228.7L1117.8 234.8L1117.8 240.9L1117.8 247M1136.1 134.8L1136.1 139.7L1136.2 144.6L1136.2 149.5L1136.2 154.5L1136.2 159.4L1136.2 164.3L1136.2 169.2L1136.2 174.1L1136.3 179L1136.3 183.9L1136.3 188.9L1136.3 193.8L1136.3 198.7L1136.3 203.6L1136.4 208.5L1136.4 213.4L1136.4 218.3L1136.4 223.3M1155.5 133.1L1155.5 137.1L1155.6 141.2L1155.6 145.2L1155.6 149.2L1155.6 153.3L1155.6 157.3L1155.6 161.4L1155.7 165.4L1155.7 169.5L1155.7 173.5L1155.7 177.6L1155.7 181.6L1155.7 185.6L1155.7 189.7L1155.8 193.7L1155.8 197.8L1155.8 201.8L1155.8 205.9M1173.5 133.2L1173.6 136L1173.6 138.7L1173.6 141.5L1173.6 144.2L1173.6 147L1173.6 149.7L1173.7 152.5L1173.7 155.2L1173.7 158L1173.7 160.7L1173.7 163.5L1173.7 166.2L1173.7 169L1173.8 171.7L1173.8 174.5L1173.8 177.2L1173.8 180M1191.4 133.3L1191.5 136L1191.5 138.8L1191.5 141.5L1191.5 144.3L1191.5 147.1L1191.5 149.8L1191.5 152.6L1191.6 155.3L1191.6 158.1L1191.6 160.9L1191.6 163.6L1191.6 166.4L1191.6 169.1L1191.7 171.9L1191.7 174.7L1191.7 177.4L1191.7 180.2M1209.9 133.5L1209.9 135.6L1209.9 137.7L1209.9 139.9L1209.9 142L1209.9 144.1L1210 146.2L1210 148.4L1210 150.5L1210 152.6L1210 154.7L1210 156.9L1210 159L1210.1 161.1L1210.1 163.2L1210.1 165.4L1210.1 167.5" fill="none" stroke="#000" stroke-width="4.6" stroke-linecap="round" stroke-linejoin="round"/>
<path d="M320.3 881h0M320.3 884h0M320.4 887h0M320.4 890h0M320.5 893h0M320.5 896h0M320.5 899h0M320.6 902h0M320.6 905h0M320.6 908h0M320.7 911h0M320.7 914h0M320.8 917h0M320.8 920h0M320.8 923h0M320.9 926h0M320.9 929h0M320.9 932h0M321 935h0M321 938h0M321.1 941h0M321.1 944h0M321.1 947h0M321.2 950h0M321.2 953h0M321.2 956h0M321.3 959h0M321.3 962h0M321.4 965h0M321.4 968h0M321.4 971h0M321.5 974h0M321.5 977h0M321.6 980h0M321.6 983h0M321.6 986h0M321.7 989h0M321.7 992h0M321.7 995h0M321.8 998h0M321.8 1001h0M321.9 1004h0M321.9 1007h0M321.9 1010h0M322 1013h0M322 1016h0M322 1019h0M322.1 1022h0M322.1 1025h0M322.2 1028h0M322.2 1031h0M322.2 1034h0M322.3 1037h0M322.3 1040h0M322.3 1043h0M322.4 1046h0M322.4 1049h0M322.5 1052h0M322.5 1055h0M320.1 880h0M320.5 879.7h0M320.3 880.6h0M319.8 881h0M319.7 880.8h0M319.8 879.8h0M320.2 882h0M319.8 880.2h0M320.5 882.3h0M320.4 880.7h0M320.9 879.6h0M320.7 880.4h0M319.9 879.9h0M320.1 881.9h0M322.8 1055h0M323.1 1053.4h0M323.1 1050h0M323 1046.9h0M323.1 1044.6h0M323.3 1041.4h0M323.5 1038.8h0M323.5 1037.1h0M346.7 1042h0M347 1038.7h0M346.6 1035.3h0M346.7 1032.1h0M346.8 1028.5h0M347 1026h0M346.6 1023.7h0M346.4 1020.6h0M346.3 1018h0M346.6 1016.4h0M347.7 1042h0M347.6 1040.4h0M347.5 1036.6h0M347.7 1033.1h0M347.7 1030h0M348.1 1026.6h0M348 1023.8h0M348 1021.7h0M348.2 1018.8h0M348 1016.4h0M372.7 779.7h0M372.5 768h0M373.7 1029h0M373.7 1025.7h0M373.5 1022.2h0M373.5 1019.1h0M373.5 1016.7h0M373.5 1013.3h0M373.6 1010.8h0M373.4 1007.5h0M373.7 1004.9h0M373.8 1001.8h0M373.5 998.8h0M373.5 996.5h0M373.6 994.4h0M374.8 1029h0M374.3 1027.3h0M374.4 1024.6h0M374.6 1021.8h0M374.5 1018.6h0M374.6 1016.3h0M374.8 1013.6h0M374.9 1010.1h0M374.9 1007.3h0M374.6 1004.4h0M375.1 1001.2h0M375.1 998.3h0M374.9 996h0M375 994.4h0M401.2 748.9h0M400.4 724h0M400.1 714.6h0M399 683h0M400.5 1016h0M400.6 1012.6h0M400.7 1009.9h0M400.5 1007.4h0M400.5 1004.8h0M400.5 1002h0M400.8 998.5h0M400.6 996.1h0M400.6 993.6h0M400.9 991.4h0M400.7 988.1h0M400.4 985.6h0M400.6 983.6h0M400.8 981.5h0M400.4 979.5h0M400.6 976.7h0M400.6 974.8h0M400.6 973.1h0M400.6 971.1h0M401.7 1016h0M401.6 1014.3h0M401.5 1011.4h0M401.7 1008.7h0M401.8 1005.5h0M401.5 1002.7h0M402 999.2h0M401.9 995.8h0M401.9 992.6h0M401.8 990.3h0M401.5 987.9h0M401.7 986h0M402 983.8h0M401.9 980.8h0M402.2 978h0M401.9 975.2h0M401.8 973.2h0M401.8 971.2h0M402 971.1h0M427.7 720.1h0M427.5 688.6h0M427.4 667.2h0M427.3 652.4h0M427.1 625.8h0M427 606.5h0M429 1002.5h0M428.5 999.1h0M429 995.5h0M428.9 991.8h0M428.6 988.7h0M428.6 985.2h0M429 981.9h0M428.7 979.2h0M428.8 975.9h0M428.5 973.7h0M428.9 971.6h0M428.5 968.7h0M429 965.9h0M428.6 963.4h0M428.4 961.1h0M428.9 959.3h0M428.7 956.9h0M428.6 954.1h0M428.8 951.3h0M428.5 949.4h0M428.5 947.3h0M428.5 944.9h0M428.6 944.8h0M429.3 1002.5h0M429.8 1000.8h0M429.5 997.6h0M429.8 994.2h0M429.8 991.2h0M429.6 988.1h0M429.4 985h0M429.5 982.2h0M429.9 980.1h0M429.7 977.8h0M429.8 974.8h0M429.8 972.4h0M430 969.9h0M429.8 967.9h0M429.7 965.8h0M429.8 963.2h0M430 960.8h0M429.9 958h0M429.9 955.6h0M430 953.3h0M430 951.1h0M430.2 948.8h0M430.2 946.2h0M430 944.8h0M454.8 689.3h0M454.8 672.2h0M454.9 643.2h0M455 612.4h0M455 592.2h0M455.1 585.3h0M455.1 563.2h0M455.2 532.5h0M457.3 989h0M457 985.5h0M457 982.5h0M457.4 979h0M457.1 975.2h0M457.3 971.8h0M457.5 969.3h0M457.1 965.8h0M457.2 962.4h0M457.5 959.7h0M457 956.7h0M457.2 954.3h0M457 952.1h0M457.3 949.9h0M457.2 948.2h0M456.9 945.9h0M457.2 943.8h0M456.9 941.5h0M457.3 938.7h0M456.9 935.8h0M456.9 933.8h0M457 931.2h0M457.1 929.3h0M457.3 926.5h0M456.9 924.5h0M457.2 921.7h0M456.9 919.2h0M457.1 918.5h0M458.1 989h0M458 987.2h0M458.3 984.5h0M458.2 981h0M458.3 978.4h0M458.3 975.9h0M458 972.9h0M458.4 969.8h0M457.9 967.2h0M458 964.4h0M458 962.2h0M458 960.1h0M458.1 957.8h0M458.1 954.9h0M458.1 952.5h0M458 950.3h0M458 948.3h0M458.3 945.7h0M458.3 943.8h0M458.1 941h0M458.3 938.3h0M458.6 936h0M458.4 933.8h0M458.7 931.3h0M458.6 929.2h0M458.5 926.7h0M458.4 924.5h0M458.2 922.7h0M458.6 920.9h0M458.3 918.9h0M458.5 918.5h0M482.7 659.8h0M482.7 630.2h0M482.8 607.5h0M482.8 589.8h0M482.8 576.3h0M482.9 555h0M482.9 531.8h0M482.9 506.1h0M483 490.6h0M483 461h0M484.8 970h0M484.6 964.8h0M485.1 958.4h0M484.6 953.3h0M484.6 947.2h0M484.4 942.7h0M484.7 938.3h0M484.5 933.7h0M484.4 929.1h0M484.4 925.2h0M484.4 921h0M484.6 917.8h0M484.7 914.1h0M484.8 909.9h0M484.8 905.5h0M484.6 900.7h0M484.9 897.2h0M484.8 894h0M484.3 890h0M484.8 885.7h0M484.6 885.4h0M485.6 970h0M485.7 967.4h0M485.6 963.1h0M485.8 958h0M485.8 952.2h0M485.9 947.1h0M485.8 941.9h0M485.4 937.8h0M485.6 934h0M485.9 930.4h0M485.8 925.8h0M485.9 921.1h0M485.5 916.8h0M486 912h0M485.9 907.9h0M485.6 903.5h0M485.8 899.1h0M485.8 896h0M485.8 891.8h0M486.3 887.6h0M486 885.4h0M510.6 631.6h0M510.6 612.4h0M510.7 588.5h0M510.7 562.2h0M510.8 538.6h0M510.8 520.1h0M510.8 497.8h0M510.8 488.4h0M510.9 465.1h0M510.9 441h0M511 408.4h0M511 392h0M512.7 957h0M512.8 950h0M512.5 944.9h0M512.9 939.1h0M512.9 932.1h0M512.7 926.6h0M512.7 920.7h0M513 916.1h0M513 911.3h0M512.4 904.7h0M512.9 899.6h0M512.6 893.4h0M512.5 889.1h0M512.5 883.4h0M512.4 878.7h0M512.9 874.4h0M512.8 871h0M512.9 866.9h0M512.4 862.6h0M512.6 858.1h0M512.6 857h0M513.2 957h0M513.5 953.5h0M513.4 946.8h0M513.5 941.3h0M513.8 935.5h0M513.8 930.8h0M513.4 923.6h0M513.8 916.5h0M513.6 909.8h0M513.7 904.8h0M513.8 898.2h0M513.8 893.6h0M513.6 889.3h0M514.1 885.6h0M514.1 881.5h0M513.8 877.7h0M513.7 873.4h0M514.2 869.5h0M514.1 864.7h0M514.2 860.6h0M514 857h0M538.8 602.2h0M538.8 578.5h0M538.8 552.1h0M538.8 544.3h0M538.8 506.7h0M538.8 490.3h0M538.8 461h0M538.8 440.8h0M538.8 426.1h0M538.8 408.7h0M538.8 366.8h0M538.8 361.8h0M538.8 331h0M540.8 944h0M540.7 935.5h0M540.9 928.2h0M540.6 918.5h0M540.6 910.5h0M540.7 903.3h0M540.5 897.6h0M541 892.1h0M540.5 885.8h0M541 878.6h0M540.5 873.1h0M540.4 868.5h0M540.4 863.7h0M540.5 859.3h0M540.9 854.3h0M540.6 849.1h0M540.6 844.8h0M540.5 840.9h0M540.5 837.7h0M540.4 832.9h0M540.6 829.9h0M541.6 944h0M541.7 939.8h0M541.4 932.6h0M541.5 925.6h0M541.9 918.1h0M541.9 909.4h0M541.4 904.1h0M541.9 896.6h0M541.8 890.2h0M541.7 885.6h0M542 878.4h0M542.1 871.7h0M541.6 867h0M541.9 862.7h0M542.1 857.2h0M542 852h0M541.9 846.8h0M541.7 842.4h0M541.8 837.7h0M542.1 833h0M542 829.9h0M566.2 574h0M566.2 560h0M566.3 535.1h0M566.3 504.5h0M566.4 481h0M566.4 471.7h0M566.4 450.5h0M566.5 418.3h0M566.5 394.9h0M566.5 377h0M566.6 358.5h0M566.6 328h0M566.7 318.8h0M566.7 290.3h0M566.8 263.8h0M568.8 931h0M569.1 921h0M569 910.8h0M568.6 901.9h0M569 894.5h0M568.6 885.5h0M568.7 879.6h0M568.7 871.5h0M568.8 865.3h0M568.5 857.2h0M568.6 852.3h0M568.8 846.5h0M568.8 841.6h0M568.7 835.4h0M568.9 830.9h0M568.8 826.4h0M568.5 822.3h0M568.5 817.1h0M568.6 811.8h0M568.4 808.4h0M568.7 804.7h0M568.6 802.8h0M569.3 931h0M569.5 926h0M569.8 917.6h0M569.3 910h0M569.5 903h0M569.9 892.7h0M570 883.7h0M569.6 874.4h0M570 868.3h0M569.5 860.6h0M569.7 853.6h0M569.7 847.9h0M569.5 843h0M569.8 838h0M569.7 831.4h0M569.7 825.2h0M570.1 820.8h0M569.9 815.6h0M569.9 812.3h0M570.2 808.5h0M569.9 805.2h0M570 802.8h0M594.2 544.5h0M594.2 532.3h0M594.2 501.5h0M594.2 470.1h0M594.1 448.6h0M594.1 442.1h0M594.1 419.7h0M594.1 396.6h0M594.1 355.3h0M594.1 347.3h0M594.1 314.1h0M594 288.2h0M594 278h0M594 257h0M594 219.4h0M594 207h0M596.4 918h0M596.1 907.9h0M596.2 897.2h0M596 889.1h0M596.5 879.2h0M596.5 870.3h0M596.1 864.3h0M596.5 856.8h0M596.1 847.9h0M596.1 841.9h0M596.4 835.4h0M596.4 830.1h0M596.4 823.4h0M596.2 816.9h0M596 812h0M596.3 807.2h0M595.9 803.3h0M596 798h0M595.8 794.4h0M596 790h0M596.3 784.9h0M596.1 782.2h0M596.9 918h0M596.8 912.9h0M597 905.1h0M597.1 894.5h0M597.1 886.7h0M597.3 877.5h0M597.4 868.3h0M597 859.9h0M597.1 851.2h0M597.2 844h0M597.1 836.5h0M597.2 831h0M597.6 826h0M597.3 820h0M597.7 814.7h0M597.2 809.4h0M597.5 803.6h0M597.2 797.7h0M597.7 793.3h0M597.7 788.3h0M597.4 785.1h0M597.5 782.2h0M621.6 515.7h0M621.6 500h0M621.6 460.3h0M621.6 446.4h0M621.6 416.3h0M621.6 406.1h0M621.7 372.7h0M621.7 359.4h0M621.7 341.1h0M621.7 307.2h0M621.7 281.1h0M621.7 277.1h0M621.7 243.8h0M621.7 220.8h0M621.7 207.2h0M621.7 181.4h0M621.8 156h0M623.1 905h0M623.1 894.8h0M623.3 886.2h0M623.1 876.1h0M623.1 869.3h0M623 859.9h0M623.1 852.4h0M623.2 843.3h0M623 837.4h0M623.2 830.6h0M622.9 823.1h0M623.3 817.6h0M623 811.5h0M623.4 806h0M623.2 800.7h0M623.1 795.5h0M623.4 789.1h0M623 784.3h0M623 778.8h0M623.4 775.3h0M623.3 771h0M623.3 766.9h0M622.9 762.8h0M623.1 759.8h0M623.1 757.6h0M624.2 905h0M623.8 899.9h0M624 889.3h0M623.9 879.7h0M624.1 871.6h0M623.9 860.9h0M624.4 852.7h0M624 842.9h0M624.5 836.8h0M624.3 827.9h0M624.5 822.6h0M624.5 816.3h0M624.5 809.6h0M624.5 804.6h0M624.3 799.6h0M624.6 793.1h0M624.2 788.6h0M624.4 783.8h0M624.2 779.2h0M624.6 775.1h0M624.2 769.7h0M624.6 765.3h0M624.7 762.2h0M624.6 759h0M624.5 757.6h0M648.2 485.5h0M648.2 458.4h0M648.2 442.1h0M648.3 415.3h0M648.3 387.3h0M648.3 367h0M648.3 337.3h0M648.3 318.3h0M648.4 294.5h0M648.4 280.4h0M648.4 242h0M648.4 221h0M648.4 203.1h0M648.5 166.3h0M648.5 141.9h0M649.8 892h0M649.6 881.6h0M649.5 871.9h0M649.7 864.1h0M649.7 856.8h0M649.5 847.9h0M649.5 838.8h0M649.9 829.7h0M649.4 821.9h0M649.6 814.5h0M649.5 805.8h0M650 797.8h0M649.9 790.7h0M650 785.5h0M649.9 779.6h0M649.5 772.8h0M649.9 766.6h0M649.6 762.6h0M649.4 757.1h0M649.5 751.4h0M649.4 746.2h0M649.9 742h0M649.5 738.5h0M649.5 734.5h0M649.4 731.6h0M649.6 730.5h0M650.8 892h0M650.6 886.8h0M650.4 874.7h0M650.4 863.7h0M650.7 854.4h0M650.9 846.2h0M650.7 837.5h0M650.5 827.9h0M650.8 818.4h0M650.9 811.5h0M651.1 805.3h0M650.7 798.3h0M650.8 791h0M651 785.9h0M651 781.3h0M650.9 776.3h0M650.9 769.4h0M650.8 763.8h0M650.6 760h0M651 756.1h0M650.9 751.5h0M650.7 746.2h0M651.1 742.5h0M650.7 739.4h0M650.7 735.7h0M650.8 732.2h0M651 730.5h0M673.9 456.1h0M673.9 430.2h0M673.9 415.8h0M674 382h0M674 361.9h0M674 346.4h0M674 303.5h0M674 296.4h0M674.1 275h0M674.1 252.6h0M674.1 215.9h0M674.1 186.6h0M674.2 165.1h0M674.2 150.5h0M675.7 879.5h0M675.5 869h0M675.8 858.3h0M675.9 849.5h0M676 840.6h0M675.6 830.8h0M675.5 820.8h0M675.7 812.9h0M675.5 806.3h0M675.4 798.1h0M676 791.1h0M675.5 785.7h0M675.7 779h0M675.9 772.6h0M675.6 767.8h0M675.4 762.8h0M675.8 756.5h0M675.4 751h0M675.8 745.4h0M675.8 740.9h0M675.5 736.7h0M675.5 733.4h0M675.5 730.3h0M675.7 726h0M675.7 721.7h0M675.6 718.6h0M675.8 715.4h0M675.5 712h0M675.9 708.5h0M675.8 705.6h0M675.6 705.2h0M676.4 879.5h0M676.4 874.3h0M676.8 862.8h0M676.5 851.9h0M676.5 840.9h0M676.9 833.2h0M676.8 824.3h0M677 815.6h0M676.9 808.1h0M676.9 800h0M676.9 793.3h0M676.7 786.4h0M676.9 781h0M677 776.2h0M676.5 771.4h0M677.1 766.8h0M676.6 761.8h0M676.6 757.7h0M676.9 752.2h0M677 746.9h0M676.9 743.3h0M677.1 739.2h0M677.2 734.3h0M677.1 731.1h0M677.2 726.4h0M676.8 723.5h0M676.7 720.6h0M677.2 716.6h0M677.2 713h0M676.9 709.5h0M676.8 706.8h0M677 705.2h0M699.9 424h0M699.9 406.1h0M699.9 378.4h0M700 351h0M700 335.7h0M700 305.1h0M700 279.5h0M700.1 244.1h0M700.1 227.5h0M700.1 203.7h0M700.2 163.3h0M700.2 149.4h0M702.3 867.5h0M702.2 856.9h0M702 849.2h0M702.2 839.8h0M702.2 831.2h0M701.9 822.1h0M701.8 812.2h0M701.8 802.9h0M701.8 797.2h0M702.3 789h0M702 783.8h0M702.2 777.1h0M702 771.8h0M702.2 766.2h0M702.3 761h0M701.8 756.1h0M702 750.2h0M702.1 746.1h0M702.1 742.2h0M702.1 737h0M701.9 732.3h0M701.9 728.3h0M701.7 723.4h0M701.7 718.9h0M701.8 715.8h0M701.9 711.6h0M702.2 708.5h0M701.9 705.8h0M702.1 702.7h0M702 699.3h0M701.8 696.4h0M702.1 693.9h0M702.1 690.6h0M701.9 688h0M702 684.5h0M701.9 682h0M701.9 680.4h0M702.6 867.5h0M702.6 862.2h0M703 852.9h0M702.7 841.3h0M702.7 833.5h0M702.9 825.3h0M702.8 818.2h0M703.2 811.2h0M702.7 802.3h0M702.8 793.1h0M703.3 786.4h0M703.2 778.6h0M702.9 772.4h0M702.8 765.9h0M703 760.9h0M703 756.6h0M703.2 750.4h0M703.2 745.4h0M702.9 740.6h0M703.1 735.7h0M703.4 730.8h0M703.2 726.8h0M703.1 722.3h0M703.3 719h0M703.4 714.7h0M703.4 711h0M703.3 707.4h0M703.1 704.4h0M703 701.2h0M703.4 698.2h0M703.3 694.8h0M703.2 692.2h0M703.3 689.2h0M703.4 686.2h0M703.1 682.5h0M703.3 680.4h0M725.2 390.7h0M725.2 359.8h0M725.3 345h0M725.3 318.3h0M725.3 282.5h0M725.3 280.8h0M725.4 244.5h0M725.4 229.4h0M725.4 190.3h0M725.5 162.3h0M725.5 148.2h0M727.1 855h0M727.3 844.3h0M727.4 833.9h0M727.4 824.3h0M727.3 813.7h0M727.5 805.5h0M727.4 798.6h0M727.4 791.2h0M727.5 785.2h0M727 778.7h0M727.2 772.7h0M727.2 767.8h0M727.3 761.9h0M727.1 756.5h0M727.3 751.7h0M727.2 745.2h0M727.4 740.9h0M727 736.4h0M727.3 732.7h0M727.3 727.7h0M727.2 723.7h0M727.4 720.4h0M727.2 717h0M727.3 712.9h0M727 709.7h0M726.9 706.5h0M727.1 703h0M727 699.7h0M727 697.1h0M726.9 694.4h0M727.3 692.3h0M727 689.8h0M727.1 687.3h0M727.2 684.6h0M727 681.5h0M727.3 678.1h0M727.3 676h0M727.3 672.6h0M727.3 670.3h0M726.8 667.3h0M727.4 665.2h0M727 662.2h0M726.9 659.9h0M727.1 657.6h0M728.2 855h0M727.9 849.6h0M728.3 841h0M727.9 829.6h0M728.2 818.4h0M728.2 808.3h0M728.3 798.4h0M728 789.4h0M728.2 781.4h0M728.2 773.7h0M728.3 766h0M728.1 760.6h0M728.2 755.9h0M728.2 751.6h0M728.3 747.2h0M728.3 742.1h0M728 736.4h0M728.3 731.1h0M728.4 726.7h0M728.3 722h0M728.6 718.4h0M728.4 715.6h0M728.1 711.9h0M728.5 708.5h0M728.3 704.8h0M728.4 701.2h0M728.6 698.4h0M728.5 696.3h0M728.3 693.3h0M728.3 690h0M728.4 687.2h0M728.3 684.1h0M728.4 681.3h0M728.6 678.5h0M728.7 676h0M728.5 673.3h0M728.5 670.8h0M728.6 667.3h0M728.4 664.1h0M728.4 661.6h0M728.6 658.7h0M728.5 657.6h0M750.2 356.1h0M750.2 344h0M750.3 304.4h0M750.3 277.4h0M750.3 262.4h0M750.3 251.1h0M750.4 221.9h0M750.4 205.8h0M750.4 178.3h0M750.5 137.5h0M752.4 842.5h0M752.4 831.7h0M752.5 820h0M752.3 809.9h0M752.4 800.4h0M752.4 791.6h0M752.3 784.8h0M752.4 777.4h0M752 771.7h0M752.4 766.5h0M752.3 758.6h0M752.4 753h0M752.2 746.4h0M752.1 741.7h0M752.1 736.8h0M752.3 732.2h0M751.9 726.7h0M751.9 722.3h0M752.4 719.1h0M752.4 715.1h0M751.9 711.7h0M752.2 708.5h0M752.5 704.6h0M752.1 701.7h0M752.2 699.4h0M752 697.1h0M751.9 695.1h0M751.9 692.2h0M751.9 688.9h0M751.9 685.7h0M752.3 683.7h0M752.3 681.3h0M751.9 679.1h0M752.3 676h0M752.3 672.9h0M752.2 670.8h0M752.1 667.8h0M752 664.6h0M752.3 661.3h0M751.8 659.2h0M752.3 656.4h0M752 654.3h0M751.9 651.3h0M752.1 648.1h0M752 646h0M752.1 643.3h0M751.9 640.3h0M752 637.3h0M752.1 636.2h0M753.1 842.5h0M753 837.1h0M753.2 827.2h0M753.2 815h0M753 805.4h0M753.4 798.6h0M753.3 789.5h0M753.2 782.3h0M753.4 773.2h0M753.1 765.9h0M753.4 759.7h0M753.3 754h0M753.5 747.9h0M753.1 741.6h0M753.1 737.8h0M753.3 733.1h0M753.5 727.8h0M753.5 724.5h0M753.5 719.8h0M753.2 715.8h0M753.5 711.5h0M753.6 707.9h0M753.1 704.9h0M753.5 701.9h0M753.5 699.5h0M753.2 696.2h0M753.5 693.4h0M753.2 690.8h0M753.5 688.4h0M753.4 685.4h0M753.6 683.2h0M753.2 680.2h0M753.6 677.4h0M753.4 674.2h0M753.5 671.6h0M753.2 669.3h0M753.5 667.1h0M753.5 664.6h0M753.4 662h0M753.2 659.8h0M753.4 656.5h0M753.5 654.3h0M753.3 651.3h0M753.4 648.5h0M753.2 645.8h0M753.8 643.7h0M753.5 640.6h0M753.4 637.8h0M753.5 636.2h0M775.7 320.2h0M775.7 297.5h0M775.8 260.6h0M775.8 240.4h0M775.9 214.7h0M775.9 186.8h0M775.9 179.3h0M775.9 160.1h0M776.6 829h0M776.6 818.1h0M776.5 809.9h0M777 799.9h0M777 791h0M776.5 780.6h0M776.7 772.3h0M777 766.3h0M776.8 760.1h0M777 753h0M776.7 746.3h0M776.5 740.7h0M777 734h0M776.4 729.7h0M776.6 725.5h0M776.9 720.1h0M776.4 715.2h0M776.8 710.8h0M777 707h0M776.5 704.4h0M776.9 700.8h0M776.6 697.6h0M776.8 694.8h0M776.6 692.7h0M776.4 690.5h0M776.5 687.9h0M776.5 685.7h0M776.4 682.9h0M776.5 680.1h0M776.9 678.1h0M776.9 676h0M776.9 672.9h0M776.6 670.8h0M776.9 668.8h0M776.7 665.8h0M776.5 663.3h0M776.6 660.4h0M776.4 657.7h0M776.4 655.5h0M776.7 652.6h0M776.9 650.5h0M776.6 648.3h0M776.5 646.2h0M776.5 643.2h0M776.6 641.1h0M776.9 638.8h0M776.9 636.7h0M776.9 634.7h0M776.4 631.9h0M776.5 629.4h0M776.4 627.2h0M776.9 624.8h0M776.9 621.6h0M776.5 619.6h0M776.3 616.5h0M776.6 615h0M777.4 829h0M777.8 823.5h0M777.7 815.5h0M777.3 806.2h0M777.8 799.1h0M777.4 789.9h0M777.9 781.6h0M777.7 774.8h0M777.4 768.6h0M777.8 760.4h0M777.4 754.8h0M777.8 749.8h0M777.6 743.8h0M777.8 739h0M777.9 733.1h0M777.6 727.9h0M777.9 724.3h0M777.9 720.1h0M777.9 716.9h0M778 713.2h0M777.8 708.8h0M778 706.2h0M778 703h0M777.6 700.3h0M777.7 696.9h0M777.7 694.6h0M777.5 691.9h0M777.8 689.4h0M777.6 686.8h0M778 684h0M777.7 680.9h0M777.8 678.1h0M777.6 675.3h0M778.1 672.2h0M777.9 669.7h0M777.9 667.1h0M778.2 665.2h0M777.7 663h0M777.7 660.9h0M777.6 658h0M778 655.9h0M777.6 653.8h0M778 651.1h0M778 648.5h0M778.1 646.5h0M777.7 643.6h0M777.9 641.6h0M777.8 639h0M777.9 637h0M778 634.9h0M777.7 631.9h0M778.1 629.2h0M778.2 627.1h0M777.9 624h0M778.2 621.5h0M777.9 619h0M778.2 615.8h0M778 615h0M798.8 286.9h0M798.8 269.9h0M798.9 244.5h0M798.9 218.8h0M799 182.5h0M799 163.6h0M799.1 137.8h0M801.7 815h0M801.7 803.9h0M801.5 795.9h0M801.7 784h0M801.4 776.1h0M801.4 767.2h0M801.2 759.3h0M801.4 752.3h0M801.2 747.1h0M801.6 739.2h0M801.5 732h0M801.7 725.8h0M801.1 719.9h0M801.3 715h0M801.3 710.4h0M801.7 706.4h0M801.2 702.6h0M801.4 699.2h0M801.3 695.3h0M801.5 692.7h0M801.4 690.6h0M801.4 687.4h0M801.4 685.3h0M801.2 682.8h0M801.2 680.8h0M801.3 678.7h0M801.2 676.5h0M801.4 674.6h0M801.4 671.7h0M801.5 669.2h0M801.5 667.2h0M801.4 664.8h0M801.3 662.2h0M801.2 660h0M801.4 657.9h0M801.4 655.7h0M801.3 653.8h0M801.2 651h0M801.3 648.5h0M801.6 646.3h0M801.5 644.1h0M801.1 642.1h0M801.3 639.2h0M801.3 637.4h0M801.5 635h0M801.2 633.1h0M801.5 630.1h0M801.2 628.1h0M801.4 625.8h0M801.5 623.3h0M801.3 620.4h0M801.5 617.7h0M801.3 615h0M801.4 612.2h0M801.1 609.3h0M801 606.4h0M801.4 603.7h0M801.6 601.2h0M801.3 598.7h0M801.5 596h0M801.2 593.4h0M801.3 593.3h0M802.2 815h0M802.3 809.5h0M802.2 799.9h0M802.2 789.6h0M802.4 781.1h0M802.3 770.8h0M802.1 763h0M802.1 756.3h0M802.4 748.9h0M802.6 743.8h0M802.6 738.1h0M802.7 731.3h0M802.4 726.8h0M802.1 720.7h0M802.5 717.2h0M802.7 712.8h0M802.5 708.2h0M802.5 703.5h0M802.6 700h0M802.4 697h0M802.4 693.9h0M802.6 690.5h0M802.2 687.9h0M802.4 685.6h0M802.5 683.1h0M802.8 680.2h0M802.5 677.8h0M802.8 675.3h0M802.5 673h0M802.3 670.2h0M802.8 668h0M802.5 665.2h0M802.8 663.2h0M802.7 660.6h0M802.8 657.6h0M802.4 655.2h0M802.6 653.1h0M802.4 650.6h0M802.7 648.6h0M802.5 646h0M802.7 643h0M802.5 641.2h0M802.5 638.4h0M802.3 635.7h0M802.8 633.5h0M802.7 631h0M802.6 628.9h0M802.5 626.5h0M802.6 623.9h0M802.7 620.8h0M802.4 618.5h0M802.8 616.5h0M802.4 614.6h0M802.7 612.5h0M802.7 609.7h0M802.4 606.9h0M802.8 605.1h0M802.8 602.9h0M802.5 600.6h0M802.4 598.5h0M802.7 595.6h0M802.7 593.3h0M802.7 593.3h0M822.2 251h0M822.2 236.4h0M822.3 191h0M822.4 173.1h0M822.5 138.8h0M823.8 801.7h0M823.9 790.5h0M823.5 781.5h0M824 769.7h0M824 761.8h0M823.6 752.3h0M824 744.5h0M824 737.6h0M823.7 732.1h0M823.6 725.5h0M824 720.6h0M823.9 715.6h0M823.5 711.5h0M823.5 707.4h0M823.6 702.4h0M823.5 698.5h0M823.6 695.1h0M823.4 692.1h0M823.9 689.7h0M823.5 687.2h0M823.6 685h0M823.4 682.9h0M823.6 680.4h0M823.8 678.5h0M823.6 676.7h0M823.5 674h0M823.9 671.8h0M823.5 669.1h0M823.8 667h0M824 664.8h0M824 662.9h0M823.5 660.6h0M823.5 658.3h0M823.5 655.8h0M823.7 653h0M823.5 650.9h0M823.5 648.5h0M823.4 645.7h0M823.7 643.4h0M823.8 641.4h0M823.8 639.2h0M823.5 636.8h0M823.4 634.7h0M823.9 632.7h0M823.8 630.6h0M823.7 628.8h0M823.7 626.6h0M823.4 624.6h0M823.5 622.5h0M823.8 620.6h0M823.6 618.6h0M823.8 615.8h0M823.9 613.1h0M823.5 611.2h0M823.7 609.4h0M823.5 606.9h0M823.7 604.7h0M823.5 602.2h0M823.5 599.5h0M823.4 597.1h0M823.9 595.2h0M823.7 592.6h0M823.3 590.9h0M823.4 589h0M823.5 586.9h0M823.5 585.1h0M823.4 582.7h0M823.7 580h0M823.5 577.4h0M823.7 575.2h0M823.3 573.1h0M823.8 570.4h0M823.6 568.4h0M824.2 801.7h0M824.7 796.1h0M824.3 784.8h0M824.3 776.1h0M824.4 765.5h0M824.7 755.3h0M824.7 749.2h0M824.8 742.4h0M824.5 734.6h0M824.9 729.7h0M824.9 724.2h0M824.8 718.3h0M824.8 712.6h0M824.4 708.3h0M824.7 703.7h0M825 699.9h0M824.9 697h0M824.9 694.5h0M824.6 690.9h0M825 688h0M824.8 685.2h0M824.5 683.1h0M824.7 681h0M824.6 679h0M824.9 677.1h0M824.6 674.6h0M824.8 672.6h0M825 670.4h0M824.7 668.3h0M824.6 665.5h0M824.7 663.1h0M824.8 660.5h0M824.6 657.9h0M824.9 655.4h0M825 653.1h0M824.6 650.5h0M824.7 648.4h0M824.6 646.4h0M824.7 644.4h0M824.8 641.9h0M824.7 640h0M824.8 637.7h0M824.6 635.8h0M825.2 634.1h0M824.6 631.5h0M825.2 628.9h0M824.6 626.6h0M824.8 624.3h0M824.9 622.3h0M825.1 620.6h0M825 618.1h0M825 615.3h0M824.8 613.3h0M824.6 611.4h0M825.1 608.8h0M824.7 606.8h0M825.1 604.3h0M824.7 601.5h0M825.1 598.9h0M824.8 596.3h0M825.1 594.4h0M824.9 592.3h0M824.9 589.9h0M824.8 587.2h0M825 585.5h0M825.2 583h0M825.2 580.5h0M825 577.7h0M824.8 575.4h0M825 573.3h0M825.1 571.5h0M825 569.6h0M825 568.4h0M845.5 216.4h0M845.5 203.3h0M845.6 181.5h0M845.7 148.9h0M847.3 787.5h0M847.6 776.2h0M847.7 768.4h0M847.6 756.9h0M847.3 748.3h0M847.5 739.5h0M847.4 732.3h0M847.5 725.6h0M847.7 718.2h0M847.3 713.3h0M847.5 708.1h0M847.2 703.5h0M847.3 699.8h0M847.7 695.5h0M847.6 690.7h0M847.7 686.2h0M847.6 682.8h0M847.5 680.5h0M847.3 677.5h0M847.7 674.8h0M847.5 672.5h0M847.3 670.4h0M847.1 667.7h0M847.5 665.7h0M847.1 663.5h0M847.3 661h0M847.3 658.6h0M847.4 656.3h0M847.2 654.1h0M847.6 652.2h0M847.2 649.8h0M847.2 647.1h0M847.4 645.3h0M847.4 643.3h0M847.2 640.9h0M847.1 638.5h0M847.4 636.2h0M847.3 634.4h0M847.3 632.6h0M847.4 629.8h0M847.5 627.3h0M847.7 625.4h0M847.1 622.9h0M847.3 620.2h0M847.6 618.3h0M847.5 615.9h0M847.5 614h0M847.2 612.2h0M847.1 610.1h0M847.2 607.7h0M847.5 605.6h0M847.6 603.4h0M847.6 601h0M847.6 598.6h0M847.1 595.9h0M847.2 593.3h0M847.4 590.7h0M847.1 588h0M847.5 585.8h0M847.5 583h0M847.4 581.3h0M847.4 579.4h0M847.1 576.8h0M847.4 574h0M847.1 572h0M847.5 569.7h0M847.1 567.3h0M847.1 565.6h0M847.1 562.9h0M847.2 560.6h0M847.2 558.1h0M847.5 556.2h0M847.4 553.8h0M847.6 551.2h0M847.2 549.4h0M847.3 547.8h0M848.2 787.5h0M848.4 781.9h0M848 769.4h0M848.4 761.1h0M848.2 751.1h0M848.1 742.8h0M848.2 733.7h0M848.4 725.3h0M848.2 720.3h0M848.6 715.2h0M848.1 709.4h0M848.3 705.1h0M848.4 700.4h0M848.3 696.3h0M848.4 693.2h0M848.1 689.7h0M848.7 686.3h0M848.2 683.7h0M848.3 680.4h0M848.4 677.9h0M848.5 675.6h0M848.7 673.2h0M848.2 670.3h0M848.6 667.9h0M848.6 665.2h0M848.5 662.8h0M848.3 660.6h0M848.7 658h0M848.6 655.2h0M848.6 653.1h0M848.5 650.5h0M848.4 648.1h0M848.4 645.7h0M848.4 643.9h0M848.8 641.8h0M848.4 639.5h0M848.4 637.5h0M848.3 635.4h0M848.7 633.7h0M848.5 631.4h0M848.4 629.1h0M848.3 627.1h0M848.4 625.1h0M848.6 622.5h0M848.5 619.7h0M848.6 616.9h0M848.4 615.1h0M848.9 612.7h0M848.7 610.6h0M848.8 608.4h0M848.6 606.5h0M848.4 603.8h0M848.3 601.8h0M848.5 599.9h0M848.4 597.3h0M848.4 595.1h0M848.8 592.7h0M848.4 590.2h0M848.9 587.7h0M848.4 585.3h0M848.9 582.6h0M848.4 580.5h0M848.7 578.5h0M848.7 575.8h0M848.5 573h0M848.8 570.9h0M848.6 568.5h0M848.6 566h0M848.6 564.2h0M848.7 562.4h0M848.7 560.3h0M848.5 557.9h0M848.4 555.6h0M848.7 552.8h0M848.4 550h0M848.7 547.8h0M868.5 182.4h0M868.7 148.1h0M869.7 775h0M869.5 763.6h0M869.6 754.9h0M869.5 743.9h0M869.7 733.7h0M869.8 725.6h0M869.8 718.1h0M869.6 711.1h0M869.6 704.3h0M869.9 698.2h0M869.6 692.6h0M870 687.4h0M869.6 683.4h0M870 679.6h0M869.4 676.8h0M869.8 673.7h0M869.6 670.3h0M869.6 667h0M869.5 664.3h0M869.5 662.6h0M869.7 660.8h0M869.5 658.4h0M869.6 655.6h0M869.5 653.7h0M870 651.2h0M869.4 649.2h0M869.5 646.6h0M869.7 643.8h0M869.6 641.3h0M869.7 638.7h0M869.9 636.6h0M869.8 634.7h0M869.8 632.9h0M869.9 630.7h0M869.7 628.9h0M869.9 626.7h0M869.8 623.9h0M869.5 621.9h0M869.6 619.9h0M869.5 617.9h0M869.8 615.3h0M870 613.3h0M869.7 611.3h0M869.9 609.4h0M869.5 606.7h0M869.9 604.1h0M869.6 602h0M869.9 599.7h0M869.8 597.8h0M869.6 595.4h0M869.9 593h0M869.9 591.1h0M869.8 588.9h0M869.5 586.2h0M869.9 583.5h0M869.4 581.4h0M869.9 579.6h0M869.9 577.8h0M869.8 575.9h0M869.4 574.1h0M869.4 571.6h0M869.9 569.5h0M869.9 566.9h0M869.4 564.1h0M869.8 562.1h0M869.4 559.5h0M869.5 557.2h0M869.4 555h0M869.9 553.3h0M869.8 551.2h0M869.6 549.3h0M869.6 547.4h0M869.7 545.5h0M869.8 543.6h0M869.4 541.3h0M869.6 539.2h0M869.5 536.4h0M869.9 534.4h0M869.7 531.7h0M869.4 529.6h0M869.3 527.6h0M869.6 525.8h0M869.6 525.1h0M870.5 775h0M870.4 769.3h0M870.6 761h0M870.6 750h0M870.7 740.5h0M870.8 729.9h0M870.5 721.4h0M870.6 715.1h0M870.6 707.2h0M870.6 701.8h0M871 697.4h0M870.7 693.7h0M870.5 688.1h0M870.6 683.8h0M870.5 680.5h0M870.9 677.6h0M870.9 673.9h0M870.8 671.6h0M870.8 669.1h0M870.6 666.5h0M870.4 663.6h0M870.9 661h0M870.8 658.7h0M870.6 655.8h0M870.9 653.4h0M870.9 651.2h0M870.8 649h0M870.9 646.6h0M870.8 644.5h0M870.6 642.2h0M870.6 639.7h0M870.8 637h0M870.8 634.4h0M870.6 632.1h0M871 630.3h0M870.8 627.9h0M871 625.6h0M870.6 623.6h0M870.8 620.9h0M871 618.5h0M871 615.7h0M870.8 613.9h0M871 611.2h0M870.6 609.4h0M870.6 607.4h0M871 605.2h0M870.8 602.9h0M870.8 601.1h0M871 598.2h0M870.8 596h0M871 593.3h0M871 591.4h0M870.9 589.3h0M870.8 587.3h0M870.8 585.2h0M870.7 583.4h0M870.6 581h0M871 579.1h0M870.8 577.1h0M871.1 575.1h0M871 573.2h0M870.7 570.5h0M871.1 568.3h0M870.8 565.9h0M870.9 564.1h0M871.1 562h0M870.9 559.9h0M871.1 557.4h0M870.9 555.3h0M871.2 552.9h0M871.2 550.9h0M870.9 548.4h0M870.9 545.9h0M871.1 544.1h0M871 541.9h0M871.2 539.7h0M870.7 537.1h0M871 534.6h0M871.2 532.4h0M871 530.2h0M871 527.4h0M871 525.2h0M871 525.1h0M892.9 761h0M892.9 749.5h0M892.5 739.4h0M892.8 728.7h0M892.9 718.6h0M892.6 712h0M892.9 706h0M892.5 700.3h0M892.8 692.8h0M892.9 688h0M892.7 681.7h0M892.8 677.7h0M892.8 673h0M892.9 667.4h0M892.5 662.6h0M892.7 659.3h0M893 656.7h0M892.6 653.9h0M892.6 651.2h0M892.7 648h0M892.7 645.5h0M892.6 643.7h0M892.9 641h0M892.6 638.3h0M892.4 636.3h0M892.6 634h0M892.7 631.7h0M892.6 629.3h0M892.5 626.7h0M892.7 623.9h0M892.6 622.1h0M892.6 619.8h0M892.6 617.4h0M892.9 615.3h0M892.8 613.3h0M892.7 610.6h0M892.9 608.4h0M892.9 606.2h0M892.6 604.4h0M892.4 601.9h0M892.4 599.2h0M892.5 596.8h0M892.7 594h0M892.7 591.3h0M892.8 588.8h0M892.5 586.8h0M892.5 584.1h0M892.5 581.3h0M892.4 579.5h0M892.9 576.8h0M892.8 574.6h0M892.9 572.6h0M892.4 570.1h0M892.8 568.3h0M892.9 566.5h0M892.5 564.5h0M892.5 562.1h0M892.4 559.7h0M892.5 556.9h0M892.4 554.2h0M892.9 551.6h0M892.4 549.4h0M892.7 547.3h0M892.7 545.3h0M892.6 543.5h0M892.6 540.9h0M892.4 538.4h0M892.4 535.7h0M892.9 532.9h0M892.6 530.1h0M892.5 528.1h0M892.6 525.5h0M892.4 522.7h0M892.8 520.4h0M892.6 518h0M892.4 516.2h0M892.8 514.1h0M892.4 511.4h0M892.3 508.6h0M892.9 506.2h0M892.9 504.1h0M892.6 503.4h0M893.2 761h0M893.4 755.2h0M893.4 744.4h0M893.4 733h0M893.5 722.4h0M893.6 715.8h0M893.6 709.4h0M893.7 701h0M893.3 694.4h0M893.4 688.1h0M893.4 682h0M893.6 676.6h0M893.8 672.1h0M893.5 668.5h0M893.6 663.4h0M893.9 659.1h0M893.5 655.7h0M893.9 653.2h0M893.7 650.9h0M893.5 648.1h0M893.5 645.7h0M893.7 643.3h0M893.6 641.2h0M893.6 639h0M893.6 637.1h0M893.7 634.4h0M893.5 631.6h0M893.7 628.8h0M893.8 626.2h0M893.6 623.7h0M893.6 621.1h0M893.5 619.1h0M893.8 616.9h0M894 614.8h0M893.8 613h0M893.8 611h0M893.9 608.4h0M893.6 606.6h0M894.1 604.2h0M893.9 602.4h0M894 599.9h0M894 597.8h0M894.1 595.5h0M894.1 593.8h0M893.8 591.6h0M893.7 589.7h0M893.9 587.2h0M893.7 585.3h0M893.7 583.4h0M893.7 581.4h0M894.2 578.6h0M893.8 575.9h0M894 573.6h0M894 570.9h0M893.7 568.4h0M894.1 566h0M893.6 563.3h0M893.8 560.8h0M894.2 558.9h0M894 556.4h0M894.1 554.5h0M894.1 551.7h0M894.1 549.1h0M894 546.5h0M894.1 544.2h0M894.1 541.6h0M894.2 539.5h0M894.2 537.2h0M894.2 535.3h0M893.8 532.7h0M893.8 530h0M893.9 528.1h0M894 526.1h0M894.1 523.3h0M893.9 520.8h0M894.1 518.1h0M894.2 515.6h0M893.9 513h0M894.1 511.1h0M893.9 508.4h0M894.2 506h0M894 503.4h0M914.9 748.8h0M915.2 737.2h0M915 729h0M915.1 717.3h0M915.1 707.6h0M915 699.8h0M915.4 692.5h0M915 684.7h0M915 679.4h0M915.1 672.4h0M915.3 666.2h0M915.2 661.9h0M915.3 658h0M915 654.1h0M915 648.7h0M915.4 645.3h0M915.4 641.4h0M915.1 638.2h0M915.1 634.3h0M914.9 630.8h0M914.9 627.7h0M914.8 625.4h0M915.4 623.4h0M915.3 621.2h0M915 619.2h0M915.1 617.3h0M915.1 614.6h0M915.4 612.5h0M915.2 609.7h0M915.2 607.9h0M915.4 605.7h0M915.2 603.5h0M915 601.1h0M915.2 598.7h0M915.1 596h0M915.4 593.8h0M915.3 592h0M915.1 589.5h0M915.2 587.3h0M915.2 584.5h0M914.8 581.9h0M914.9 579.8h0M915.3 577h0M915.1 575.1h0M914.8 572.7h0M915.2 570.6h0M914.9 568.1h0M914.9 565.5h0M915 563.2h0M915.1 560.3h0M915.2 557.7h0M915.3 555.5h0M915.2 552.9h0M914.9 550.9h0M915.2 548.5h0M915 545.9h0M915.1 544h0M914.8 541.3h0M914.8 538.7h0M914.8 536.6h0M915 534.5h0M915.3 531.7h0M914.9 529.8h0M914.9 526.9h0M915 524.9h0M914.9 523h0M915 520.8h0M914.9 518h0M915.3 516h0M915.2 513.8h0M915.2 511.3h0M914.8 509.2h0M915 506.7h0M915.1 504.3h0M914.9 501.7h0M915.3 499.5h0M914.9 497.2h0M914.9 494.8h0M914.7 492.2h0M915 489.5h0M915.3 487.3h0M914.9 485.3h0M915 483.5h0M915.1 480.9h0M915.2 478.7h0M915 478.4h0M915.8 748.8h0M916 743h0M916 729.2h0M916.1 718h0M916.2 709.3h0M915.9 699.6h0M916.2 692.1h0M915.8 685.4h0M916.1 677.4h0M916.1 671.1h0M915.8 664.3h0M915.8 659.6h0M916.1 655h0M916.2 649.7h0M916 645.5h0M916 641.7h0M916.3 637.7h0M915.9 634h0M916.3 631h0M916.4 628.4h0M916.3 625.5h0M916.2 622.8h0M915.9 620.1h0M916.3 617.5h0M916 615.1h0M916.2 613.3h0M916 610.6h0M916 608.7h0M916.3 606.8h0M916.3 604h0M916.3 601.8h0M916.4 600h0M915.9 597.9h0M916 595.5h0M915.9 593.4h0M916.2 591.2h0M915.9 588.6h0M916 585.9h0M916.3 583.9h0M916.1 581.8h0M916 579.4h0M916 576.8h0M916.4 574.1h0M915.9 571.7h0M915.9 569.1h0M916.2 566.8h0M916.3 565h0M916.3 562.4h0M916.3 560.3h0M916.1 557.9h0M916.6 555.1h0M916.5 552.5h0M916.6 550.4h0M916.3 548.6h0M916.2 546.7h0M916.4 544.2h0M916.2 541.9h0M916.2 540h0M916.1 537.9h0M916.3 535.4h0M916.1 533.1h0M916.1 530.6h0M916.3 528.6h0M916.6 526.1h0M916.6 523.5h0M916.5 520.7h0M916.1 518.1h0M916 516.2h0M916.5 513.5h0M916.2 511h0M916.1 508.9h0M916.6 506.4h0M916.1 504.3h0M916.3 502.4h0M916.5 499.7h0M916.1 497.4h0M916.2 495.6h0M916.4 492.9h0M916.6 490.1h0M916.4 487.4h0M916.2 484.8h0M916.4 482.9h0M916.2 480.6h0M916.1 478.6h0M916.4 478.4h0M937.2 734h0M937.3 722.2h0M937 708.7h0M937 697.7h0M937.2 687.2h0M936.7 680.4h0M937.1 673.7h0M936.7 666.8h0M937.2 658.9h0M936.7 652.8h0M937 645.9h0M936.9 641.8h0M937.2 636.5h0M937.1 632h0M936.8 628.4h0M936.9 623.6h0M937 620.7h0M936.8 617.9h0M937 614.8h0M937.1 611.7h0M936.7 609h0M936.7 606.2h0M936.9 603.9h0M937.1 601.4h0M937 599.4h0M936.9 596.9h0M937.2 595h0M936.7 592.6h0M937.2 590.6h0M936.9 588.6h0M937.1 586h0M937.1 583.5h0M936.7 581.7h0M937.1 578.9h0M936.7 577.1h0M937.2 575.1h0M937 573.1h0M937 570.3h0M936.8 567.6h0M936.6 565.7h0M936.7 563.1h0M937.1 560.2h0M937.1 558.3h0M936.9 556.4h0M937.1 554.5h0M937.2 551.8h0M937.1 550h0M937.1 547.7h0M937 545.4h0M937.1 543h0M936.6 541.2h0M936.8 538.8h0M936.6 536.6h0M936.6 534h0M937.1 531.4h0M936.7 529.1h0M936.7 526.6h0M936.7 524.4h0M936.9 521.6h0M936.7 519.4h0M937.1 516.9h0M936.7 514.2h0M936.8 512h0M936.7 509.4h0M937.2 507h0M936.6 504.4h0M936.7 502.6h0M936.9 500.1h0M936.9 497.7h0M936.9 495.5h0M937.1 493.1h0M937.1 490.5h0M937.1 487.7h0M936.6 485.2h0M937.1 482.7h0M937.1 480.5h0M937.1 478.5h0M937 476.3h0M936.7 474.3h0M936.8 472.1h0M936.8 470.3h0M937 467.5h0M937 464.7h0M937.2 462h0M936.7 459.4h0M936.8 457.4h0M936.7 455.6h0M936.9 454.6h0M938 734h0M937.7 728.1h0M937.9 715.3h0M938 702.9h0M937.6 693.2h0M937.7 683.1h0M937.8 674.5h0M938.1 667h0M937.9 661.4h0M937.9 654.5h0M937.8 647.3h0M938 640.8h0M937.7 634.8h0M937.8 631h0M937.7 626h0M938.1 622.7h0M937.8 618.3h0M938.1 615.1h0M938.1 611.9h0M937.8 608.8h0M937.7 606.6h0M937.8 604h0M938.3 602h0M938 599.5h0M938.1 597h0M937.9 594.5h0M937.7 592.7h0M937.9 591h0M937.8 589.1h0M938.3 586.8h0M937.9 584.3h0M937.8 581.6h0M937.9 579.8h0M938.1 577.6h0M938.2 575.4h0M938.3 573.5h0M938.2 571.4h0M938.2 569.7h0M938.3 567.7h0M938.2 565h0M937.8 563h0M938.3 561h0M938.2 559.1h0M938.2 556.7h0M937.9 554.8h0M938.4 553h0M938.2 550.8h0M937.9 548.4h0M937.8 546.6h0M937.9 543.9h0M938 541.1h0M937.9 538.5h0M938 535.9h0M938.1 533.7h0M938 531.9h0M938 529.3h0M938.3 527.1h0M937.9 525.1h0M938.1 523.1h0M938.2 521h0M938.4 518.7h0M938.2 516.9h0M938 514.3h0M938.1 512.5h0M938.1 510.6h0M937.9 508.1h0M938.1 506.2h0M938 504.3h0M937.9 502.1h0M938.1 500.3h0M938.4 498h0M937.9 495.6h0M938.3 493.7h0M938.4 491.3h0M938.4 488.5h0M938.5 486.6h0M938 484.3h0M938.4 482.4h0M938 480.4h0M938.5 478.4h0M938.4 476.1h0M938.2 474.3h0M938 472.2h0M938.1 469.7h0M938.5 467.9h0M938 465.6h0M938.3 463.8h0M938 461.5h0M938.4 459.3h0M938.1 456.9h0M938.2 454.6h0M957.9 721h0M957.9 709.1h0M958 700h0M957.9 687.4h0M957.7 676.2h0M957.6 665.8h0M957.8 659h0M957.5 650.1h0M957.5 644.2h0M957.5 638.1h0M957.9 633.1h0M958 627.3h0M957.8 622.4h0M958 618.7h0M957.7 614.8h0M958 610.5h0M958 606.6h0M957.5 602.7h0M957.5 598.8h0M957.7 594.9h0M958 592.5h0M957.7 590.1h0M957.8 587.8h0M957.6 586.1h0M957.9 584.1h0M957.8 582.4h0M957.7 580.4h0M957.8 578h0M957.5 576.1h0M958 574.3h0M957.5 572.4h0M957.7 570.1h0M957.4 567.3h0M957.5 565.3h0M957.7 562.9h0M957.9 560.7h0M957.9 558.2h0M957.5 555.4h0M957.6 552.6h0M957.9 550.8h0M957.4 549h0M957.6 546.9h0M957.9 544.1h0M957.7 541.9h0M957.9 539.2h0M957.7 536.7h0M957.5 534.8h0M957.7 532.4h0M957.9 529.7h0M957.5 526.9h0M957.9 525.1h0M957.5 522.7h0M957.5 520.2h0M957.6 518.2h0M957.8 515.8h0M957.8 514h0M957.6 511.6h0M957.8 509.1h0M957.6 507.3h0M957.8 504.8h0M957.5 502.4h0M957.8 499.5h0M957.6 497.6h0M957.5 494.7h0M957.9 492.5h0M957.5 489.8h0M957.6 487.2h0M957.8 484.7h0M957.5 482.8h0M957.5 480.9h0M957.4 479.1h0M957.6 476.9h0M957.7 475.1h0M957.7 472.3h0M957.7 470.2h0M957.4 467.9h0M957.3 465.6h0M957.4 463.1h0M957.9 461h0M957.8 458.4h0M957.7 455.9h0M957.9 453.4h0M957.8 451.4h0M957.5 449.4h0M957.7 446.7h0M957.8 444h0M957.4 441.6h0M957.6 439.9h0M957.5 437.3h0M957.3 435.5h0M957.6 433.9h0M958.6 721h0M958.2 715.1h0M958.4 705.2h0M958.8 693.3h0M958.3 685.8h0M958.9 674.4h0M958.5 667.3h0M958.5 659.2h0M958.6 652.1h0M958.4 646h0M958.4 640.9h0M958.7 636h0M958.5 629.7h0M958.8 623.6h0M958.7 619.1h0M958.9 615.2h0M958.4 610.8h0M958.8 607.5h0M958.8 604h0M958.9 601h0M958.5 597.3h0M958.5 594.2h0M958.9 591.1h0M958.6 588.2h0M958.8 586.3h0M958.5 584h0M958.8 582h0M958.8 580.2h0M958.6 578.2h0M958.8 576h0M958.5 573.4h0M958.6 570.8h0M958.8 568.8h0M958.8 566.3h0M958.6 563.5h0M958.9 561.4h0M958.6 559.4h0M958.9 557.4h0M958.9 554.7h0M959 551.9h0M958.7 549.8h0M958.5 547.3h0M958.6 544.8h0M958.8 543.1h0M959.1 541.2h0M958.8 538.4h0M958.6 536.5h0M958.8 534.2h0M959 532h0M959 529.7h0M958.6 527.8h0M958.8 525.7h0M958.9 523.7h0M958.7 521.7h0M959 519.4h0M958.8 516.8h0M959.1 514.6h0M958.9 511.8h0M958.8 509.9h0M958.7 507.5h0M959.2 505.7h0M958.7 502.9h0M959 500.7h0M958.6 498.6h0M959.1 496h0M958.6 493.8h0M958.7 491.6h0M958.6 488.8h0M959.1 486.7h0M958.7 484.8h0M958.7 483h0M959.1 480.7h0M958.7 478.8h0M958.9 476.2h0M958.7 474h0M959.2 472h0M958.8 470.2h0M959.2 467.6h0M958.9 464.8h0M959 462h0M958.9 459.9h0M959.1 457.4h0M958.8 455.5h0M958.7 452.7h0M958.9 450h0M958.8 448h0M959.3 445.8h0M959.2 443.9h0M958.8 441.8h0M958.9 439.2h0M958.9 437.3h0M959.2 434.6h0M959 433.9h0M979.1 704.6h0M979.5 692.6h0M979.6 680.8h0M979.3 668.2h0M979.6 657.1h0M979.3 649.4h0M979.3 641.8h0M979.1 634.7h0M979.6 628.5h0M979.4 622.2h0M979.5 614.7h0M979.6 609.8h0M979.6 603.6h0M979.5 598.1h0M979.2 592.9h0M979.2 588.4h0M979.1 583.9h0M979.2 580.3h0M979.2 576.4h0M979.5 572.9h0M979.1 569.6h0M979.5 566.5h0M979.4 564h0M979.5 562.2h0M979.3 559.8h0M979.5 557.7h0M979.5 555.1h0M979.2 553.1h0M979.1 551.1h0M979 549h0M979.1 546.4h0M979 544.6h0M979.1 542h0M979.2 539.7h0M979.6 537.1h0M979.4 535h0M979.3 532.3h0M979.4 529.5h0M979.5 527.4h0M979 525h0M979.5 522.6h0M979.3 520.3h0M979.5 518.1h0M979.1 515.6h0M979.2 513.5h0M979.4 510.6h0M979.5 508.8h0M979.3 507h0M979.4 504.8h0M979 502.6h0M979.5 500.2h0M979.2 497.6h0M979.4 495.6h0M979.1 493h0M979.6 490.2h0M979.2 488h0M979.5 485.5h0M979.1 483.5h0M979.4 481.4h0M979.3 479.5h0M979.3 477.2h0M979.5 475.3h0M979.3 472.4h0M979.1 469.8h0M979.3 467h0M979.5 464.4h0M979.5 462.3h0M978.9 460.3h0M979.5 458h0M979.5 455.2h0M979.5 452.9h0M979 450.6h0M979.4 448.1h0M979.3 445.9h0M979.1 443.9h0M979.2 441.7h0M979 439.4h0M979.1 437.7h0M979.4 435.1h0M979.1 433.1h0M979 430.8h0M979.5 428.4h0M979.3 426.4h0M979.4 423.9h0M979.3 421.3h0M979.4 419.3h0M978.9 416.5h0M979.2 413.7h0M978.9 411.9h0M979.2 409.8h0M980.2 704.6h0M979.9 698.6h0M980.2 687.3h0M980.1 673.8h0M980 662.6h0M980 654.9h0M980.3 646.8h0M980 639.6h0M980 633.2h0M980.1 627.3h0M980.1 620.7h0M980.2 614.7h0M980.3 607.6h0M980.3 601.2h0M980.3 597.2h0M980.1 593.5h0M980.4 590.2h0M980.2 585.3h0M980.3 581.9h0M980.4 578.8h0M980.1 575.8h0M980.4 572.3h0M980.5 570.2h0M980.2 567.3h0M980.6 564.8h0M980.3 562.6h0M980.4 560.5h0M980.5 558h0M980.1 555.2h0M980.6 553.1h0M980.4 550.5h0M980.3 547.9h0M980.4 545.1h0M980.2 542.9h0M980.6 541.1h0M980.1 538.4h0M980.4 536.3h0M980.3 534.1h0M980.3 531.3h0M980.7 529h0M980.4 526.5h0M980.3 524.4h0M980.6 522h0M980.3 519.9h0M980.3 517.8h0M980.4 515h0M980.3 513h0M980.2 510.3h0M980.1 507.8h0M980.2 505.8h0M980.2 503.2h0M980.2 501.2h0M980.6 499.2h0M980.7 496.6h0M980.5 493.8h0M980.2 491h0M980.4 488.2h0M980.6 486.3h0M980.4 483.6h0M980.7 481.7h0M980.5 479.1h0M980.2 476.3h0M980.3 474.5h0M980.6 472.7h0M980.3 470.3h0M980.3 468.4h0M980.6 466h0M980.4 463.1h0M980.5 460.3h0M980.4 458.1h0M980.8 456.1h0M980.6 453.2h0M980.3 451.3h0M980.4 449.4h0M980.3 446.8h0M980.6 444.5h0M980.5 442.7h0M980.6 440.1h0M980.8 437.9h0M980.5 435.4h0M980.8 433.3h0M980.8 430.5h0M980.4 428.2h0M980.5 426.2h0M980.3 423.7h0M980.8 421.1h0M980.3 418.8h0M980.5 416.1h0M980.6 413.6h0M980.5 411.1h0M980.6 409.8h0M1000.4 691h0M1000.3 678.5h0M1000 666.3h0M999.9 656.2h0M1000.2 644.2h0M1000.3 633.8h0M1000.2 623.3h0M1000.2 616.3h0M1000.1 610h0M1000.3 604.4h0M999.9 598.1h0M999.8 591h0M1000.2 584.4h0M1000.2 580.4h0M1000.3 575.6h0M1000 571.1h0M999.8 566.3h0M999.8 562.1h0M999.8 559.2h0M1000 555.5h0M999.9 552.3h0M1000.1 549.3h0M1000 547.4h0M999.8 544.8h0M999.9 542.4h0M1000.3 540.2h0M1000.3 537.4h0M1000 535.2h0M1000.2 532.5h0M1000.2 530.3h0M1000.3 528.1h0M999.8 525.8h0M999.8 523.2h0M999.7 520.7h0M1000 517.9h0M999.8 515.3h0M999.9 512.8h0M1000.2 510.8h0M1000 509.1h0M1000.2 507.2h0M999.7 504.5h0M1000 502.2h0M1000.1 499.7h0M1000.2 497.5h0M999.8 495.6h0M999.7 492.9h0M1000 491h0M999.8 488.9h0M999.9 486.1h0M999.8 483.5h0M999.8 480.7h0M1000 477.9h0M1000.1 475.1h0M1000 472.6h0M999.9 469.9h0M1000.2 468.1h0M1000.1 465.4h0M999.8 462.9h0M1000.1 460.6h0M1000.2 457.8h0M1000.1 455.9h0M999.9 453.5h0M999.7 451.6h0M999.9 449.3h0M999.9 447.3h0M1000.1 444.9h0M999.7 442.5h0M999.9 439.8h0M1000.2 436.9h0M1000 435.1h0M999.9 432.2h0M999.8 429.9h0M999.7 428.1h0M999.8 426.2h0M1000 423.8h0M1000 421h0M1000.2 418.8h0M999.9 416.4h0M1000 413.7h0M1000 411.5h0M1000.2 409.5h0M1000.2 407.4h0M999.6 405.6h0M999.7 403.3h0M999.7 401h0M1000 398.3h0M1000.2 395.8h0M1000 392.9h0M999.6 390.4h0M999.9 388.9h0M1000.8 691h0M1001.1 684.8h0M1000.9 673.9h0M1000.8 665.4h0M1000.9 652.6h0M1000.6 641.3h0M1000.7 633.7h0M1000.7 623.9h0M1000.8 614.5h0M1000.9 606.1h0M1001.2 600.2h0M1001.1 594.5h0M1001.2 590.1h0M1000.7 583.5h0M1000.8 578h0M1000.9 574.3h0M1001.3 569.8h0M1001.3 565h0M1001.1 561.2h0M1001.2 558.5h0M1000.9 555.3h0M1000.9 551.9h0M1000.8 549.8h0M1001.1 547.7h0M1000.8 545.1h0M1001.1 542.8h0M1001 540.4h0M1000.8 538h0M1001 536.2h0M1001.2 534.2h0M1001.3 532.2h0M1000.8 530.2h0M1001 528h0M1001.2 525.9h0M1001.2 523.9h0M1001.1 521.2h0M1001.3 518.9h0M1000.9 516.5h0M1000.8 514.7h0M1000.8 512.6h0M1001.1 510.1h0M1001.1 508h0M1001 505.2h0M1001 503.3h0M1001.4 501.2h0M1001.1 498.7h0M1000.8 496.7h0M1001.3 494.9h0M1000.9 492.4h0M1000.9 490h0M1001 487.7h0M1001.3 485.8h0M1001.2 483.3h0M1001.2 481.3h0M1001.2 479.1h0M1001.4 477.3h0M1001 475.6h0M1001 473.4h0M1001.3 471.6h0M1001.1 468.7h0M1001.3 466.7h0M1001.1 464.7h0M1001.1 462.2h0M1000.9 460.3h0M1001.5 457.9h0M1001 455.1h0M1001.2 452.8h0M1001.3 450.9h0M1001.4 448.6h0M1001.5 446.5h0M1001.2 443.9h0M1001.2 442h0M1001.3 440.1h0M1001.3 437.6h0M1001 434.7h0M1001.4 432.2h0M1001.1 430.3h0M1001.3 428.5h0M1001.1 426h0M1001.2 423.4h0M1001.1 420.9h0M1001.2 418.1h0M1001 416.3h0M1001.5 413.8h0M1001.1 411.3h0M1001.4 408.6h0M1001.2 406.7h0M1001 404.2h0M1001.2 402.5h0M1001.6 399.7h0M1001.5 397.6h0M1001.5 395h0M1001.6 392.6h0M1001.6 390.1h0M1001.3 388.9h0M1020.6 674.3h0M1020.8 661.4h0M1020.7 649.5h0M1020.8 639h0M1020.6 628.2h0M1020.8 619.6h0M1020.7 610.6h0M1020.6 601.5h0M1020.6 593.7h0M1020.9 585.6h0M1020.7 578h0M1021 572.8h0M1020.7 567.1h0M1020.7 562.4h0M1020.9 556.9h0M1020.9 552.4h0M1020.7 548.8h0M1020.6 545.1h0M1020.9 541.7h0M1020.5 537.9h0M1020.9 535.1h0M1020.8 531.9h0M1020.8 529h0M1020.4 526.7h0M1020.4 524.5h0M1020.7 521.7h0M1021 519.2h0M1020.5 516.5h0M1020.5 514.4h0M1020.8 511.8h0M1020.6 509.5h0M1020.7 507.4h0M1020.9 504.9h0M1020.9 502.2h0M1020.6 500h0M1021 497.9h0M1020.5 496h0M1020.9 493.9h0M1020.6 491.2h0M1020.9 488.5h0M1020.5 486.3h0M1020.6 483.7h0M1020.9 481.8h0M1020.6 479.6h0M1020.5 477.2h0M1020.6 475.4h0M1020.4 473.3h0M1020.8 471.1h0M1020.8 469h0M1020.5 466.5h0M1020.8 464.8h0M1020.5 462.4h0M1020.9 460.4h0M1020.5 457.6h0M1020.7 455.2h0M1020.4 453.2h0M1020.7 451.1h0M1020.7 448.6h0M1020.5 446.8h0M1020.6 444.7h0M1020.9 442.5h0M1020.9 440.7h0M1020.9 438.7h0M1020.7 436.7h0M1020.4 434.5h0M1020.8 431.9h0M1020.8 429.8h0M1020.9 427.6h0M1020.6 425.8h0M1020.7 423.8h0M1020.8 421.2h0M1020.6 418.8h0M1020.4 416.2h0M1020.8 414.2h0M1020.9 411.9h0M1020.6 410.1h0M1020.3 408.1h0M1020.4 406.3h0M1020.6 404.1h0M1020.5 401.8h0M1020.6 399.3h0M1020.4 396.4h0M1020.6 394.1h0M1020.8 392h0M1020.8 390h0M1020.5 387.9h0M1020.7 385.4h0M1020.4 383.4h0M1020.5 380.6h0M1020.7 378.7h0M1020.5 376.4h0M1020.8 374.3h0M1020.6 372.2h0M1020.5 369.3h0M1020.4 367.1h0M1020.6 364.9h0M1021.6 674.3h0M1021.5 667.8h0M1021.4 656h0M1021.5 642.7h0M1021.5 630.2h0M1021.3 619.3h0M1021.9 611.6h0M1021.7 602.4h0M1021.6 594.6h0M1021.4 588.5h0M1021.8 581.2h0M1021.7 575.7h0M1021.7 570.9h0M1021.7 566.2h0M1021.7 561.5h0M1021.7 557.5h0M1021.5 552.7h0M1021.8 548.9h0M1021.8 544.8h0M1021.8 540.6h0M1021.7 537.7h0M1021.8 534h0M1021.7 530.8h0M1022 528.2h0M1021.8 525.3h0M1021.8 523.4h0M1022 521.7h0M1021.9 518.8h0M1022 516.8h0M1022 514.9h0M1021.5 512.6h0M1021.7 509.8h0M1021.9 507.1h0M1022 504.8h0M1022 502.8h0M1021.5 500.7h0M1021.5 498.6h0M1021.9 496.8h0M1021.6 494.9h0M1021.7 492.9h0M1022 490.1h0M1022.1 487.4h0M1022 485.1h0M1022.1 483.1h0M1022 480.4h0M1021.6 478.4h0M1021.9 475.7h0M1022 473.2h0M1021.9 471.3h0M1022 469.1h0M1021.7 466.8h0M1021.7 464h0M1022 461.4h0M1022 459.4h0M1021.7 457.2h0M1022.1 455.3h0M1021.9 453.1h0M1021.6 450.8h0M1022 448.2h0M1021.8 445.5h0M1021.8 443.5h0M1022 440.9h0M1021.9 438.8h0M1022.1 436.9h0M1021.9 434.6h0M1021.7 432h0M1021.8 429.4h0M1021.7 426.7h0M1022 424.7h0M1021.8 422.4h0M1021.7 420h0M1021.6 417.8h0M1021.8 415.2h0M1022 412.5h0M1022 410.1h0M1022.1 408.2h0M1022.2 406.1h0M1022 403.5h0M1021.9 400.8h0M1022.2 398.3h0M1021.7 396.4h0M1022 394.2h0M1021.8 392.3h0M1021.9 389.6h0M1021.8 387.7h0M1021.8 385.3h0M1022 383h0M1022 380.8h0M1021.7 378.1h0M1021.8 375.3h0M1022.1 373.5h0M1022 371.2h0M1022.2 369.2h0M1022.1 367.1h0M1022 365.1h0M1022 364.9h0M1041.1 659h0M1041.2 645.6h0M1041.3 635.9h0M1041 623.1h0M1041.3 612h0M1041.4 604h0M1040.9 592.8h0M1040.9 585.3h0M1040.9 578.2h0M1041 570.7h0M1041.1 564.4h0M1041.3 558.2h0M1040.9 551.4h0M1040.8 546.6h0M1040.9 541.7h0M1041.3 536.3h0M1040.9 530.7h0M1041.3 527.5h0M1041.4 523.7h0M1041 520.3h0M1041.4 517.6h0M1041.1 514.4h0M1041.3 511.6h0M1041.1 508.3h0M1041 506.2h0M1041 503.4h0M1041.1 500.9h0M1041.1 498.6h0M1041.1 496.6h0M1040.8 493.9h0M1041.3 491.8h0M1040.8 488.9h0M1041.2 486.5h0M1041.1 483.8h0M1041 481.9h0M1041.2 479.4h0M1041.2 477.4h0M1041.2 474.9h0M1041 473.2h0M1041.1 471.1h0M1040.9 469h0M1041 466.5h0M1041 463.8h0M1041.3 461.5h0M1041.2 459.6h0M1041.3 457.8h0M1041.2 456.1h0M1040.9 453.9h0M1041.1 451.7h0M1040.8 449.5h0M1040.9 447.2h0M1041 444.4h0M1040.9 442.1h0M1041 439.3h0M1041.3 436.8h0M1041.2 434.7h0M1040.8 432.6h0M1041 430.8h0M1040.9 428.1h0M1041.2 425.9h0M1040.8 423.8h0M1041 421.5h0M1041.3 418.7h0M1041.1 416.7h0M1040.8 414.5h0M1041.3 412.3h0M1041.1 410.2h0M1040.8 407.7h0M1040.8 404.9h0M1041.2 402.8h0M1041 401h0M1041 399.2h0M1040.8 397.4h0M1040.8 395.4h0M1040.8 393.6h0M1040.8 391.3h0M1041 388.6h0M1040.9 386.6h0M1040.8 383.9h0M1040.8 381.3h0M1041 378.5h0M1041.2 376.1h0M1040.8 374.3h0M1041.1 371.8h0M1040.9 369.2h0M1040.8 366.9h0M1040.9 364.7h0M1040.9 362.3h0M1041.1 360.2h0M1041.2 358.4h0M1040.8 356.1h0M1041 354.3h0M1041.1 352h0M1041 349.8h0M1040.9 347.1h0M1041.2 344.2h0M1041 342.3h0M1042.2 659h0M1041.8 652.3h0M1042 637.4h0M1042.2 627.3h0M1042.2 615.4h0M1041.7 604.8h0M1041.8 593.6h0M1042.1 586h0M1042 579.1h0M1041.8 570.7h0M1041.8 563.1h0M1042.2 556.7h0M1041.8 550.1h0M1042.4 545.5h0M1042 540.5h0M1042.2 536h0M1042.2 530.9h0M1042.2 527h0M1041.9 523.1h0M1042.4 518.7h0M1042.4 515h0M1042.3 512h0M1042.3 509.6h0M1042.4 506.7h0M1042.4 503.9h0M1042.3 501.8h0M1042 499.6h0M1042.3 497.4h0M1042.4 494.7h0M1042 492.2h0M1042.2 490.3h0M1042.1 488.4h0M1042 486.5h0M1042 484h0M1042.1 481.3h0M1042.1 478.6h0M1042.1 476.5h0M1042.2 474.8h0M1041.9 472.6h0M1042.1 469.9h0M1042.5 468.2h0M1042.1 466.2h0M1042 464.5h0M1042.3 461.9h0M1042.1 459.6h0M1042.5 457.6h0M1042.5 455.4h0M1042 452.7h0M1041.9 450h0M1042.4 447.4h0M1042.3 444.9h0M1042 442.2h0M1042.1 439.9h0M1042.1 437.7h0M1042.3 435.2h0M1042.3 432.5h0M1042.5 430.1h0M1042.3 427.5h0M1042.5 425.4h0M1042 423.2h0M1042.4 421.1h0M1042.4 418.3h0M1042.5 415.8h0M1042.3 413.2h0M1042.4 410.9h0M1042.1 408.9h0M1042.5 406.4h0M1042.4 404.4h0M1042.1 401.7h0M1042.3 399.8h0M1042.6 397.7h0M1042.3 394.8h0M1042.4 392.2h0M1042.6 390.2h0M1042.1 388.3h0M1042 386.1h0M1042.3 383.8h0M1042.3 381h0M1042.5 378.3h0M1042.2 375.9h0M1042.3 373.8h0M1042.4 371.6h0M1042.3 369.3h0M1042.7 366.9h0M1042.3 364.9h0M1042.1 363.2h0M1042.3 361.4h0M1042.5 358.7h0M1042.6 355.9h0M1042.4 353.5h0M1042.3 351.7h0M1042.5 349.7h0M1042.4 347.9h0M1042.4 345.7h0M1042.2 343.6h0M1042.4 342.3h0M1061.2 642.8h0M1061.1 629h0M1061 618.5h0M1061.3 604.1h0M1060.7 591.4h0M1061.1 579.1h0M1061.2 570.7h0M1061.2 560.3h0M1061 553.1h0M1060.8 545.9h0M1061 537.7h0M1061 531.6h0M1061 524h0M1061 517.1h0M1060.6 510.5h0M1060.9 505.8h0M1061.2 500.8h0M1060.9 496.4h0M1060.9 492.3h0M1061.2 488.3h0M1060.8 485.8h0M1060.6 482.1h0M1060.6 478.8h0M1061.1 476h0M1060.8 473.8h0M1061 471.8h0M1061 469.5h0M1060.9 467.4h0M1061.1 464.6h0M1060.7 461.7h0M1060.8 459.4h0M1061.1 457.3h0M1060.9 455.4h0M1061.1 452.8h0M1060.7 451h0M1061.1 448.7h0M1061.1 446.8h0M1060.9 444.6h0M1060.6 441.8h0M1060.7 439.7h0M1060.8 437.9h0M1060.9 435.3h0M1061.1 433.5h0M1060.7 431.2h0M1061.1 428.5h0M1061.1 426.5h0M1060.7 423.9h0M1061.1 422.1h0M1060.6 419.5h0M1061 416.8h0M1061.1 414.4h0M1060.8 411.5h0M1061.1 408.9h0M1061 406.8h0M1061.1 404.3h0M1060.7 401.9h0M1060.9 399.9h0M1061.1 398h0M1060.7 395.2h0M1060.9 392.7h0M1061 390.8h0M1060.7 388.2h0M1060.7 386.4h0M1060.8 383.8h0M1060.6 381.1h0M1060.7 379.3h0M1060.6 376.5h0M1061 374.7h0M1060.9 372.9h0M1060.7 371.1h0M1061.1 368.6h0M1060.8 366.4h0M1060.7 364.6h0M1061 362.6h0M1061 360.1h0M1060.9 357.7h0M1060.8 355.9h0M1060.7 353.8h0M1060.6 351.2h0M1060.7 349.1h0M1060.9 346.4h0M1060.7 344.1h0M1061.1 341.4h0M1060.9 339.1h0M1060.7 336.4h0M1060.6 334.4h0M1061 332.1h0M1060.8 330.2h0M1060.8 327.3h0M1061 325.1h0M1060.7 322.4h0M1060.9 320.5h0M1060.8 318.7h0M1062 642.8h0M1061.8 635.9h0M1061.7 623.8h0M1061.7 612.6h0M1062 601h0M1062 587.8h0M1062.1 577.8h0M1062.1 570.1h0M1062.1 560.6h0M1062.1 552.7h0M1062.1 546.8h0M1061.8 538.4h0M1061.7 530.5h0M1061.9 523.6h0M1061.7 518.1h0M1062 512h0M1062.2 508.1h0M1061.8 504.1h0M1062 499.9h0M1062.2 495h0M1061.9 491h0M1061.7 488.2h0M1062 484.9h0M1062.2 481.9h0M1061.9 479.1h0M1061.8 476.6h0M1062 473.5h0M1061.9 471.2h0M1061.9 469.2h0M1061.9 466.9h0M1062 464h0M1061.7 462h0M1061.9 460.1h0M1062.2 457.5h0M1062.2 455.5h0M1062 453.3h0M1061.7 450.9h0M1062.1 449.1h0M1061.9 446.6h0M1062.2 443.8h0M1061.8 441.8h0M1062.1 439.4h0M1061.7 437.4h0M1061.7 435.1h0M1062.1 432.6h0M1062 430.5h0M1061.8 428.5h0M1062.2 426.6h0M1062.2 424.4h0M1062.2 422.2h0M1062.1 419.8h0M1062.1 417.6h0M1062.3 415.7h0M1062.1 413.2h0M1061.8 410.7h0M1061.9 408.6h0M1061.8 405.9h0M1062.3 403.7h0M1062.2 401.1h0M1061.9 399h0M1062 396.5h0M1062 393.9h0M1062.1 391.3h0M1062.4 388.6h0M1062.4 386.5h0M1062.3 384.8h0M1062.1 383h0M1062.3 380.8h0M1061.9 378.7h0M1062.1 376.1h0M1062.1 373.5h0M1062.3 371.7h0M1062.1 369.8h0M1062 368h0M1062.3 365.6h0M1062.1 363.1h0M1062.2 360.5h0M1062.2 358.6h0M1062.3 356.2h0M1062 354.2h0M1061.9 352.1h0M1062.3 350h0M1062 347.6h0M1061.9 345h0M1062 342.4h0M1062 340.6h0M1062 338.3h0M1062.4 335.5h0M1062.3 333.5h0M1062.2 330.9h0M1062.5 328.9h0M1061.9 326.1h0M1062.1 324h0M1062.2 322h0M1061.9 319.3h0M1062.2 318.7h0M1080.8 626.6h0M1080.6 612.3h0M1080.7 596.2h0M1080.6 585.7h0M1080.6 574.8h0M1080.7 565.6h0M1080.8 554.9h0M1080.9 546.2h0M1081 535.9h0M1081.1 528.1h0M1080.9 519.1h0M1080.7 511.8h0M1081.1 506.3h0M1080.6 499.4h0M1081.1 492.1h0M1080.9 487.8h0M1080.8 483.3h0M1080.7 477.4h0M1080.9 472.8h0M1080.9 469.2h0M1081.1 465.3h0M1080.9 462.1h0M1080.7 459.3h0M1080.6 456.5h0M1080.6 453.2h0M1080.6 449.8h0M1081 446.8h0M1080.6 444.7h0M1080.8 441.9h0M1080.7 439.1h0M1081.1 436.9h0M1081.1 434.8h0M1080.6 432h0M1081 429.7h0M1081 427.8h0M1080.9 425.2h0M1080.5 422.8h0M1080.5 420h0M1080.9 417.3h0M1080.9 415.2h0M1080.9 413h0M1081 411.3h0M1081 409.1h0M1081 406.8h0M1080.8 404.8h0M1080.8 403h0M1081 401.2h0M1080.7 398.7h0M1081 395.8h0M1080.5 393h0M1080.9 390.5h0M1080.5 388.1h0M1080.7 385.3h0M1080.9 382.9h0M1080.5 380.8h0M1080.6 378h0M1080.5 376.3h0M1080.9 373.4h0M1080.5 371.4h0M1080.8 368.7h0M1080.5 366.3h0M1081 364.1h0M1080.7 362.3h0M1081 360.6h0M1081 358.7h0M1080.9 356h0M1080.9 354.2h0M1080.7 351.9h0M1080.7 350.1h0M1080.5 347.4h0M1080.7 344.7h0M1080.6 342.6h0M1080.8 340.4h0M1081 338h0M1080.7 335.7h0M1080.6 332.8h0M1080.6 331.1h0M1080.5 329h0M1080.4 326.8h0M1080.7 324h0M1080.8 321.3h0M1080.9 318.7h0M1080.9 316.6h0M1080.7 314.7h0M1080.9 312.3h0M1080.6 310.4h0M1080.9 307.7h0M1080.5 304.8h0M1080.5 302.9h0M1080.9 300.3h0M1080.9 297.8h0M1080.7 295.5h0M1080.7 295.2h0M1081.7 626.6h0M1081.7 619.4h0M1081.6 605h0M1081.7 590.4h0M1081.6 580.7h0M1081.6 569.8h0M1081.6 558.9h0M1081.7 549.5h0M1082 540.8h0M1081.5 533.9h0M1081.7 524.7h0M1081.8 517.2h0M1081.6 510.5h0M1082 505.4h0M1081.7 497.6h0M1081.7 491.7h0M1082 487.4h0M1081.7 481.3h0M1081.9 477h0M1081.8 471.8h0M1081.7 467.8h0M1082.1 463.2h0M1081.6 458.9h0M1082.1 455.3h0M1081.8 451.8h0M1081.6 449.4h0M1081.6 446.3h0M1082 443.3h0M1082.1 441h0M1082 438.2h0M1081.9 436.3h0M1081.7 434.1h0M1082 431.3h0M1081.7 429.5h0M1081.9 427.4h0M1081.9 425.3h0M1081.7 422.6h0M1081.8 420h0M1082.2 417.2h0M1082 415.1h0M1081.9 413.3h0M1082 410.8h0M1081.6 408.7h0M1082 406.9h0M1081.8 404.9h0M1082.2 402.5h0M1081.8 400.2h0M1081.8 397.8h0M1081.7 395.2h0M1081.9 393.1h0M1081.8 390.4h0M1081.7 388.4h0M1081.9 386.4h0M1082.1 384.3h0M1082 382.1h0M1082.1 379.9h0M1081.9 377.1h0M1081.8 374.3h0M1082 371.5h0M1081.9 369h0M1081.8 366.9h0M1081.9 364.2h0M1082 361.7h0M1081.8 359.3h0M1081.9 357.4h0M1082 354.9h0M1082.1 353.2h0M1081.8 351h0M1081.8 348.9h0M1082.1 346.3h0M1081.9 344.2h0M1081.9 342.1h0M1082.2 340h0M1082.2 337.3h0M1082.1 334.6h0M1081.8 332.7h0M1081.9 330.8h0M1082.2 328.5h0M1082 326.1h0M1082.3 324.1h0M1082 321.5h0M1082.4 319.7h0M1082.3 317.7h0M1082.2 315.9h0M1082.3 313.7h0M1081.8 311.6h0M1082.3 309.7h0M1082.2 306.8h0M1082 304.3h0M1081.8 302.3h0M1081.8 299.4h0M1082 297h0M1082.1 295.2h0M1100 610h0M1100.2 595.2h0M1099.8 583.1h0M1100.1 569.2h0M1099.8 556.9h0M1099.7 543.3h0M1099.8 534.4h0M1099.9 524.3h0M1100.1 514.6h0M1099.9 504.1h0M1100.1 497.8h0M1099.8 491.9h0M1100 485.8h0M1099.7 477.8h0M1100.1 471.9h0M1099.7 465.2h0M1100.1 458.9h0M1099.7 453.8h0M1099.8 448.4h0M1099.7 444.6h0M1099.7 440.3h0M1099.9 436.4h0M1099.8 432.3h0M1099.6 428.1h0M1100.2 425h0M1100.1 421.1h0M1099.9 417.8h0M1099.9 414.6h0M1099.7 412.5h0M1100.1 410.5h0M1099.8 408.4h0M1099.6 406.1h0M1100.1 403.5h0M1100.1 400.9h0M1099.7 398.8h0M1100 396.2h0M1099.8 394h0M1100.1 392.1h0M1100.1 389.9h0M1099.8 387.8h0M1100 385.5h0M1099.8 382.7h0M1099.8 380.2h0M1100 377.5h0M1099.8 375.1h0M1100.1 373.1h0M1099.7 370.4h0M1099.7 368.6h0M1099.6 365.8h0M1099.9 363.1h0M1099.9 360.8h0M1099.9 358.6h0M1100.1 356.7h0M1099.6 354.9h0M1099.9 352.4h0M1100 349.7h0M1099.6 346.9h0M1099.7 345.2h0M1099.6 342.6h0M1100 340.2h0M1099.9 338.3h0M1100 335.6h0M1099.8 333.4h0M1100.1 331.4h0M1099.9 328.7h0M1100 326.7h0M1100 324.4h0M1100.1 322.2h0M1099.8 319.7h0M1100 317.3h0M1100.1 315h0M1100.1 313.3h0M1099.8 310.7h0M1099.6 308h0M1099.9 305.9h0M1099.7 303.2h0M1099.9 300.4h0M1099.6 298.6h0M1099.9 296.8h0M1099.7 294.7h0M1099.6 292.4h0M1100 289.7h0M1099.8 287.3h0M1099.9 285.2h0M1100.1 283.1h0M1099.9 280.3h0M1099.5 277.6h0M1099.7 275.7h0M1099.8 273.9h0M1099.8 271.3h0M1100.9 610h0M1101 602.6h0M1100.6 590.3h0M1100.6 580h0M1100.8 569.9h0M1100.9 558.9h0M1100.9 547h0M1100.9 537.2h0M1101 526h0M1100.8 516.6h0M1100.6 508.6h0M1100.9 500.3h0M1101.1 493.6h0M1101.1 484.7h0M1100.9 476.7h0M1100.8 471.2h0M1101.2 464.4h0M1100.6 459.8h0M1100.8 454.8h0M1100.7 449.5h0M1100.8 443.9h0M1100.9 438.6h0M1100.8 434.9h0M1101 430.2h0M1100.7 426h0M1101.1 422.7h0M1101.2 418.8h0M1100.9 416.6h0M1101 413.2h0M1100.8 410.1h0M1101.3 408.4h0M1101 406.3h0M1101.1 404.2h0M1101.3 401.4h0M1100.9 398.7h0M1100.7 396h0M1101.3 393.8h0M1100.9 391.8h0M1100.9 389.4h0M1101.1 386.8h0M1101.3 385h0M1101.2 383.2h0M1100.8 381.1h0M1101.3 379.2h0M1101 376.6h0M1101.3 374h0M1101.1 371.2h0M1101.1 369.1h0M1101.2 366.3h0M1101.3 363.8h0M1101.1 361.6h0M1100.9 358.9h0M1100.8 356.2h0M1101.1 353.8h0M1101.3 351.9h0M1100.9 349.7h0M1101.1 347.5h0M1100.8 345.3h0M1101.2 343.5h0M1100.9 341.6h0M1101.3 338.9h0M1100.9 336.2h0M1101.3 334.5h0M1101 332h0M1101.1 330.3h0M1101.2 328.3h0M1100.9 325.4h0M1101.2 323.6h0M1101 321.8h0M1101.4 319.6h0M1101 317.5h0M1100.9 315.2h0M1101.3 313h0M1101.3 310.9h0M1100.9 309h0M1101.1 306.5h0M1100.9 303.7h0M1101.3 301.2h0M1100.9 299h0M1101.3 296.6h0M1101.1 294.3h0M1101.2 291.8h0M1101 289.6h0M1101.2 287.3h0M1101.5 284.6h0M1101.1 282.2h0M1101.3 280.2h0M1101 277.6h0M1101.5 275.1h0M1101.5 273h0M1101.2 271.3h0M1119.3 593h0M1119.4 577.8h0M1119.1 565.6h0M1118.9 548.7h0M1119.2 537.4h0M1119.2 524h0M1119.3 510.5h0M1118.9 502.8h0M1119.1 495.3h0M1119.2 488.1h0M1119 478.6h0M1119.1 468.8h0M1119 459.2h0M1119.1 451.6h0M1119.3 445.6h0M1119 440.8h0M1119.3 435.3h0M1118.8 429.5h0M1119.2 424.7h0M1118.9 418.7h0M1119 413.3h0M1119 408.8h0M1119.4 404.8h0M1119.3 400h0M1119.2 396h0M1118.8 393.2h0M1119.2 389.4h0M1119 386.2h0M1119.3 383.7h0M1118.8 381h0M1119 378.7h0M1119.4 376.9h0M1119.3 374.1h0M1119 372.4h0M1119.2 370.5h0M1119.2 367.9h0M1118.8 365.2h0M1118.8 363.5h0M1119.3 360.8h0M1118.9 358.5h0M1118.8 355.8h0M1118.8 353.7h0M1119 350.8h0M1119.2 348.2h0M1119.3 345.8h0M1119.3 343.2h0M1118.8 340.4h0M1118.9 337.8h0M1119 335.7h0M1118.8 332.8h0M1118.8 330.6h0M1119 327.7h0M1119.1 325.2h0M1118.9 322.6h0M1119.2 320.4h0M1119.3 317.8h0M1119.2 315.8h0M1119.1 313.2h0M1119.1 311h0M1118.8 309.2h0M1118.8 307.1h0M1119.2 305.3h0M1119.1 302.8h0M1119.2 300.8h0M1119.1 298.1h0M1119.1 296.1h0M1118.9 293.9h0M1119.2 292.1h0M1119.3 289.6h0M1118.9 287.7h0M1118.8 285.4h0M1119 283.3h0M1119.3 281h0M1119.1 278.6h0M1119.2 276.2h0M1118.7 274.1h0M1119.2 271.2h0M1118.8 269.4h0M1119.1 267.4h0M1118.7 265.5h0M1118.7 263.2h0M1118.9 261.2h0M1118.7 259.2h0M1118.9 257.2h0M1119 255.1h0M1118.9 253h0M1119.2 251.2h0M1119 248.6h0M1119 247h0M1119.7 593h0M1120.2 585.4h0M1119.8 570.9h0M1120.2 554.8h0M1120 544.3h0M1119.8 531.6h0M1120.1 521.1h0M1120.1 509.3h0M1120 498.4h0M1119.8 491h0M1120.3 480.3h0M1119.8 470.1h0M1119.9 461.2h0M1119.9 454.5h0M1120.3 446.3h0M1120.1 438.8h0M1120 431.6h0M1120.2 425.8h0M1120.1 421.3h0M1120.3 417.4h0M1119.9 413.4h0M1120.2 409.5h0M1120.2 405h0M1120.3 400.3h0M1120.2 397.2h0M1120 394.3h0M1119.9 391.6h0M1120.4 388.7h0M1120 385.5h0M1120.3 383.1h0M1119.9 380.5h0M1120.2 378.5h0M1120 376h0M1120.1 373.4h0M1120.2 371h0M1120.5 368.9h0M1120.2 366.7h0M1120.4 364.4h0M1120.4 361.5h0M1120.4 359.2h0M1120.5 356.7h0M1120.4 353.9h0M1120.3 351.9h0M1120.1 349.7h0M1120.1 347h0M1120.3 344.5h0M1120.4 342.3h0M1120.6 339.7h0M1120.5 336.8h0M1120.4 334.8h0M1120.5 332.5h0M1120.2 330.3h0M1120.3 328.5h0M1120.2 326.2h0M1120.3 324.3h0M1120.1 322.5h0M1120.2 320.3h0M1120.3 318h0M1120.1 315.8h0M1120.3 314.1h0M1120.2 311.2h0M1120.2 309.1h0M1120.3 306.5h0M1120 303.9h0M1120.1 302h0M1120.3 299.9h0M1120.6 297.7h0M1120.4 295.5h0M1120.4 292.6h0M1120.5 290.2h0M1120.1 288.1h0M1120.4 285.3h0M1120.1 282.9h0M1120.3 280.3h0M1120.2 277.9h0M1120.3 275.1h0M1120.6 273h0M1120.2 271.1h0M1120.7 268.8h0M1120.2 266.9h0M1120.1 264.3h0M1120.5 262.1h0M1120.6 259.5h0M1120.6 257.7h0M1120.6 255.5h0M1120.6 253.3h0M1120.2 251h0M1120.4 249.1h0M1120.2 247.3h0M1120.4 247h0M1137.8 575.7h0M1138 560h0M1137.8 547.8h0M1137.5 534h0M1138 522.3h0M1137.8 508.3h0M1138 495.8h0M1137.8 482.3h0M1138 474.3h0M1137.6 466.1h0M1137.7 458.5h0M1137.7 449.3h0M1137.5 441h0M1137.7 432.3h0M1137.9 425.6h0M1138 417.1h0M1137.4 409.1h0M1137.7 403.4h0M1137.8 398.4h0M1137.5 391.9h0M1138 386.9h0M1137.7 381.2h0M1137.7 377.7h0M1137.9 373.4h0M1137.6 370.1h0M1137.4 365.4h0M1137.4 361.8h0M1137.6 358.1h0M1137.5 354.4h0M1137.5 351h0M1137.4 348.9h0M1137.6 347h0M1137.6 344h0M1137.4 341.4h0M1137.7 339.1h0M1137.7 337.3h0M1137.6 335h0M1137.8 332.3h0M1137.4 330.5h0M1137.5 328.7h0M1137.9 326.2h0M1137.9 323.4h0M1137.8 321.5h0M1137.6 318.9h0M1137.7 316.1h0M1137.5 314.2h0M1137.7 312.3h0M1137.9 309.9h0M1137.4 308.1h0M1137.5 305.3h0M1137.9 303.3h0M1137.8 301.4h0M1137.7 298.7h0M1137.3 296.2h0M1137.7 293.8h0M1137.6 291.2h0M1137.5 289.3h0M1137.4 286.9h0M1137.5 285h0M1137.7 282.4h0M1137.9 280.2h0M1137.5 277.9h0M1137.8 275.5h0M1137.6 273.3h0M1137.9 270.9h0M1137.4 268.5h0M1137.5 266.1h0M1137.8 263.8h0M1137.6 262.1h0M1137.7 260h0M1137.6 257.3h0M1137.5 254.9h0M1137.6 252.8h0M1137.4 250.5h0M1137.6 247.9h0M1137.5 245.8h0M1137.9 243.1h0M1137.5 240.3h0M1137.7 238.5h0M1137.8 236.7h0M1137.5 234.2h0M1137.7 232h0M1137.5 230.1h0M1137.7 227.4h0M1137.4 225h0M1137.6 223.3h0M1138.4 575.7h0M1138.2 567.9h0M1138.6 551.6h0M1138.6 534.2h0M1138.6 518.2h0M1138.5 505.7h0M1138.9 494.3h0M1138.3 483.4h0M1138.5 473.8h0M1138.7 463.4h0M1138.9 454.4h0M1138.4 444.6h0M1138.8 438.4h0M1138.8 430.3h0M1138.4 423h0M1138.9 416.4h0M1138.5 409.6h0M1139 404.7h0M1138.5 398.8h0M1139 392.8h0M1138.9 386.8h0M1138.5 381.4h0M1139 377h0M1138.6 373.2h0M1138.9 368.5h0M1138.5 365.8h0M1139.1 362.2h0M1139 358.7h0M1138.9 356.2h0M1138.7 353.7h0M1138.8 351.4h0M1138.9 349.3h0M1139.1 346.6h0M1138.6 343.9h0M1138.9 341.2h0M1138.8 338.4h0M1139 336.6h0M1139.1 334.6h0M1139.1 332.3h0M1138.7 330h0M1139 327.5h0M1138.7 325.2h0M1139 323h0M1138.7 321.1h0M1139 318.8h0M1138.7 317h0M1138.7 314.1h0M1138.8 311.5h0M1138.9 309.7h0M1139 307h0M1139 305.2h0M1138.9 302.7h0M1138.9 300.3h0M1139 298.3h0M1138.8 296.4h0M1138.9 293.7h0M1139 291.4h0M1138.8 289.1h0M1138.6 286.8h0M1138.6 284.7h0M1139.2 281.8h0M1138.7 279.3h0M1138.8 276.6h0M1139 273.9h0M1139.1 271.5h0M1139.1 269.5h0M1139.1 267.1h0M1138.8 264.5h0M1138.9 262.3h0M1139.2 260.4h0M1138.9 257.9h0M1139.2 255.6h0M1138.9 253.8h0M1139 251.3h0M1138.8 249h0M1139.1 247h0M1139.2 244.9h0M1139.3 242.1h0M1139 240.1h0M1138.9 238.2h0M1139 236.4h0M1139.1 233.6h0M1138.9 231.4h0M1138.7 228.6h0M1139.2 225.9h0M1139.3 224.1h0M1139 223.3h0M1157.1 558.3h0M1157.1 542.1h0M1157.2 526h0M1157.4 508.9h0M1156.9 496.5h0M1157.2 481.8h0M1156.9 468.7h0M1157.4 459.6h0M1157.1 449.4h0M1156.9 436.5h0M1156.9 426h0M1157.3 416.5h0M1157.3 409.3h0M1157.3 398.9h0M1157.4 390h0M1157.1 381.8h0M1157.3 373.8h0M1157.2 366.9h0M1157 361.7h0M1157.3 356.4h0M1157 350h0M1156.8 343.4h0M1157 339.6h0M1157.3 335.9h0M1157 331.7h0M1157.1 326.6h0M1157 322.3h0M1157.3 318.6h0M1157.1 315.4h0M1156.8 312h0M1157.1 309.3h0M1157 305.7h0M1157.3 303.4h0M1157.3 301.1h0M1157.1 299h0M1156.9 296.9h0M1157.2 294.5h0M1157 292.2h0M1157.1 290h0M1157.3 288h0M1156.8 286h0M1157 283.7h0M1156.8 281.1h0M1157 278.6h0M1156.9 275.8h0M1156.9 273.6h0M1156.9 271.2h0M1157 268.8h0M1156.9 266.2h0M1157.1 264h0M1157.1 261.4h0M1156.8 259.2h0M1156.8 257.3h0M1156.8 255.4h0M1156.9 252.9h0M1156.9 250.1h0M1156.8 248.1h0M1157.1 246.2h0M1156.9 243.9h0M1157.1 241.2h0M1157.1 239h0M1157 236.5h0M1156.9 234.7h0M1156.9 231.9h0M1156.8 229.4h0M1157.2 226.8h0M1156.9 224.6h0M1156.9 222.3h0M1156.8 220.3h0M1157 217.8h0M1157.3 215h0M1157.3 212.3h0M1156.7 209.6h0M1157.3 207.7h0M1157 205.9h0M1158 558.3h0M1158 550.2h0M1157.9 535h0M1158 522.7h0M1157.7 510h0M1158 493.9h0M1157.9 478.7h0M1157.9 466.2h0M1157.9 453h0M1158.1 441.6h0M1157.8 432.4h0M1158.1 422.9h0M1157.9 412.4h0M1158 405.2h0M1158 395.8h0M1157.9 387.7h0M1158.3 381.9h0M1157.9 375h0M1158.4 368.5h0M1158.2 362.7h0M1158.2 357h0M1158.4 352.6h0M1158.1 347h0M1158 342.5h0M1158.4 336.5h0M1158.3 332.3h0M1158 327.8h0M1158.4 324.7h0M1158.3 321.4h0M1158 318.6h0M1158.3 315.6h0M1158.5 311.9h0M1158.3 308.4h0M1158.5 306h0M1158.5 303.1h0M1158.5 300.9h0M1158.1 298.3h0M1158 295.8h0M1158.1 293.3h0M1158.1 290.8h0M1158.4 288.3h0M1158.6 285.7h0M1158.4 283.7h0M1158.5 281.5h0M1158.5 278.8h0M1158.2 276.4h0M1158.6 273.6h0M1158.2 270.8h0M1158.4 268.1h0M1158.5 265.4h0M1158.3 263.2h0M1158.4 260.6h0M1158.5 258.2h0M1158 256.4h0M1158.1 254.2h0M1158.1 251.5h0M1158.2 248.8h0M1158.5 246.9h0M1158.3 244.4h0M1158.4 242h0M1158.4 239.1h0M1158.3 236.8h0M1158.5 234.6h0M1158.5 232.7h0M1158.5 230h0M1158.3 227.6h0M1158.1 225.8h0M1158.6 223.4h0M1158.2 220.7h0M1158.6 218.1h0M1158.6 215.8h0M1158.3 213.9h0M1158.5 211.6h0M1158.3 209.3h0M1158.3 206.6h0M1158.4 205.9h0M1175 538.8h0M1175.2 522.2h0M1175.1 504.7h0M1175.2 488.5h0M1175.4 477.8h0M1175.2 465.5h0M1175 449.4h0M1175 439.8h0M1175.4 430h0M1174.9 418.5h0M1175.1 408.9h0M1175 400.1h0M1175.1 388.2h0M1175.2 380h0M1175.1 372.7h0M1174.9 363.4h0M1175 355h0M1175.2 346.2h0M1175.2 337.3h0M1174.9 331.5h0M1175.3 324.1h0M1175 319.1h0M1175.1 313.7h0M1175.1 306.8h0M1175.2 300.6h0M1175.1 296h0M1175 291.3h0M1175.2 286.4h0M1175.3 282.7h0M1174.9 279h0M1175.3 274.1h0M1175.3 270.4h0M1175.3 267.6h0M1174.8 264.5h0M1174.8 260.5h0M1174.7 256.8h0M1175 254.3h0M1175 251.9h0M1175.2 249.3h0M1175.3 246.5h0M1174.8 243.4h0M1175.3 240.4h0M1175 238h0M1174.9 236.1h0M1174.8 234.1h0M1174.9 231.7h0M1175.1 229.1h0M1174.8 226.4h0M1175 223.7h0M1174.9 221.3h0M1175 218.7h0M1175.1 216.2h0M1174.9 214.3h0M1174.7 211.7h0M1175 209.3h0M1174.9 206.7h0M1175 204.4h0M1174.8 201.9h0M1174.9 199.5h0M1174.9 197.1h0M1174.8 195.2h0M1174.9 192.4h0M1175.1 189.7h0M1175 187.7h0M1175.3 185.9h0M1174.8 183.5h0M1175 181.1h0M1175 180h0M1175.8 538.8h0M1176.2 530.5h0M1175.7 513.3h0M1176.2 495.4h0M1176.1 482.3h0M1176.2 465.9h0M1176.2 455.6h0M1176.2 444.6h0M1176 431.3h0M1176.3 417.5h0M1176.4 404.1h0M1176.2 393.5h0M1176.1 383h0M1176.1 373.9h0M1176 366.4h0M1176.4 356.6h0M1176.3 347.9h0M1176.2 340.4h0M1175.9 332.7h0M1176.5 326.1h0M1176.2 320.7h0M1176.1 315.8h0M1175.9 308.9h0M1176.4 302.4h0M1176.1 296.2h0M1176.2 290.1h0M1176.5 285.5h0M1176.4 280.9h0M1176 277.5h0M1176 273.8h0M1176.1 269.3h0M1176.4 264.7h0M1176.4 261.8h0M1176.3 258.7h0M1176.5 256.2h0M1176.3 252.7h0M1176.2 249.5h0M1176.2 247.2h0M1176.3 244.2h0M1176.2 242.2h0M1176 239.8h0M1176.3 238h0M1176.6 236.1h0M1176.5 234.3h0M1176.2 231.6h0M1176.6 229.3h0M1176.3 226.8h0M1176.2 224h0M1176.2 221.2h0M1176.2 219h0M1176.6 216.5h0M1176.2 214h0M1176.5 211.1h0M1176.6 208.8h0M1176.4 206.9h0M1176.5 204.3h0M1176.1 201.8h0M1176.2 199.5h0M1176.3 197.1h0M1176.4 194.9h0M1176.6 192.5h0M1176.3 190.4h0M1176.2 188.5h0M1176.6 185.8h0M1176.3 183.9h0M1176.6 181.1h0M1176.4 180h0M1193.4 519.8h0M1193 502.7h0M1192.9 489.9h0M1192.8 474.2h0M1193 461h0M1192.8 445.2h0M1192.9 434h0M1192.8 423.5h0M1193.2 413.2h0M1192.8 398.5h0M1193.2 385h0M1192.9 373.1h0M1192.8 360.8h0M1193.3 353.1h0M1193.2 344.7h0M1192.7 334.2h0M1193.1 327.2h0M1193.1 320.2h0M1192.8 311.2h0M1192.8 303.5h0M1193 294.6h0M1193 286.9h0M1193.2 281.6h0M1193 274.2h0M1192.9 267.7h0M1193 261h0M1193 256.1h0M1192.6 251.5h0M1193.2 246.2h0M1192.8 240.7h0M1193 236h0M1192.9 231.3h0M1193 227h0M1192.9 222.2h0M1193 217.7h0M1192.8 214.8h0M1192.8 211.5h0M1192.8 208.1h0M1193.1 204.1h0M1193 201.2h0M1192.7 197.6h0M1193.2 194.7h0M1193.1 192.2h0M1192.8 189.2h0M1193.1 187.2h0M1192.8 185h0M1193 182.8h0M1192.9 180.2h0M1194 519.8h0M1194 511.3h0M1193.8 497.3h0M1193.7 485.2h0M1193.7 470.9h0M1193.7 456.1h0M1193.9 440.8h0M1194 428.9h0M1193.7 417h0M1194.1 402.4h0M1193.9 388.3h0M1194.1 378.3h0M1194.3 369.4h0M1194.1 358.2h0M1193.9 350.5h0M1194.4 341.3h0M1194.1 333.8h0M1194.4 326.8h0M1194.3 317.3h0M1193.9 308.2h0M1193.8 301.5h0M1193.9 293.9h0M1193.9 287.9h0M1194.3 279.7h0M1194.4 274h0M1194 268.8h0M1194.4 263.2h0M1194.4 258.7h0M1194.4 253.1h0M1193.9 248.3h0M1194.3 244.2h0M1194.4 239.4h0M1194.1 235.4h0M1194.4 231.6h0M1194 226.9h0M1194 222.3h0M1194.1 218.5h0M1194.4 214.3h0M1194.1 210.4h0M1194.3 207.8h0M1194 204.3h0M1194.5 200.7h0M1194.3 198h0M1194.5 194.9h0M1194.3 192.1h0M1194.3 189.2h0M1194.3 187.3h0M1194.2 185.1h0M1194.1 182.9h0M1194.4 180.8h0M1194.3 180.2h0M1211.5 500.7h0M1211.7 483.2h0M1211.5 469.4h0M1211.6 451h0M1211.3 436h0M1211.5 417.2h0M1211.3 401.5h0M1211.5 390.2h0M1211.7 377.1h0M1211.6 362.8h0M1211.6 349.7h0M1211.7 339.7h0M1211.5 327.3h0M1211.1 317.6h0M1211.5 305.3h0M1211.2 293.7h0M1211.5 283.5h0M1211.6 272.8h0M1211.5 265.2h0M1211.4 258.2h0M1211.1 249h0M1211.4 240.6h0M1211.1 230.6h0M1211.5 222.5h0M1211.6 216.2h0M1211.2 206.9h0M1211.1 200.7h0M1211.3 194.6h0M1211.6 187.1h0M1211.6 180.3h0M1211.4 174.2h0M1211.3 169.6h0M1211.3 167.5h0M1212 500.7h0M1212.4 491.9h0M1212.1 478h0M1212.3 461.1h0M1212 448.7h0M1212.2 431.6h0M1212.3 419.6h0M1212.6 405.8h0M1212.2 394.8h0M1212.4 383.9h0M1212.6 367.3h0M1212.4 357h0M1212.7 345.3h0M1212.5 332h0M1212.4 321.8h0M1212.4 310.3h0M1212.3 299.1h0M1212.8 289h0M1212.5 279.4h0M1212.7 268.4h0M1212.5 257.8h0M1212.4 247.8h0M1212.3 238.6h0M1212.4 231.5h0M1212.8 224h0M1212.8 218h0M1212.9 211.9h0M1212.7 202.8h0M1212.9 194.5h0M1212.9 187.8h0M1212.8 182.8h0M1212.9 175.9h0M1212.4 170.8h0M1212.7 167.5h0M1229.2 481.7h0M1229.2 463.7h0M1229.1 449h0M1228.9 428h0M1229.3 408.9h0M1229 391.7h0M1229 376.9h0M1228.8 364.8h0M1228.8 351.8h0M1228.9 334.8h0M1229 318.5h0M1229.2 302.6h0M1229 288.5h0M1229 277.7h0M1229.2 266.8h0M1229.1 257.7h0M1228.9 247.2h0M1229.3 235.8h0M1228.9 222.3h0M1229.2 209.5h0M1229 199.3h0M1229.1 191h0M1229.1 181.5h0M1229 170.3h0M1228.9 160.6h0M1228.9 153.5h0M1228.7 146.9h0M1228.8 136.7h0M1229.9 481.7h0M1229.6 472.7h0M1229.9 457.5h0M1229.6 436.5h0M1229.9 418h0M1229.9 402h0M1229.8 390.1h0M1229.9 374.6h0M1229.9 356.1h0M1230.2 339.3h0M1230 323.4h0M1230.2 310h0M1229.9 299.5h0M1230.1 289.9h0M1230.4 277.8h0M1230.1 263.1h0M1229.9 251.5h0M1230.2 238.8h0M1230.4 229.7h0M1230 221.5h0M1230.5 211.2h0M1230.1 202.9h0M1230.1 191.6h0M1229.9 180h0M1230.1 172h0M1230 161.5h0M1230.5 152.1h0M1230.5 141.7h0M1230.3 135.5h0M1246.3 462h0M1246.3 443.6h0M1246.5 423.6h0M1246.3 409.6h0M1246.7 396.4h0M1246.4 377.8h0M1246.7 358.2h0M1246.3 345.1h0M1246.5 332.4h0M1246.4 317.1h0M1246.4 301h0M1246.5 288.6h0M1246.1 272.3h0M1246.2 259.5h0M1246.3 245.5h0M1246.5 231.4h0M1246.4 217.1h0M1246.6 205.3h0M1246.2 192.8h0M1246.6 184.4h0M1246.6 176.3h0M1246.4 164.1h0M1246.4 152.3h0M1246.4 141.8h0M1246.1 134h0M1247.2 462h0M1247 452.8h0M1247.1 434.1h0M1247.5 418.6h0M1247.4 400.5h0M1247.3 381.3h0M1247.3 365.6h0M1247.5 351.2h0M1247.3 333.1h0M1247.2 316.9h0M1247.5 306.2h0M1247.4 290.5h0M1247.6 273.8h0M1247.7 262.1h0M1247.3 247.4h0M1247.5 232.8h0M1247.5 222.4h0M1247.6 210.8h0M1247.3 200.9h0M1247.7 189.5h0M1247.6 178h0M1247.4 166.2h0M1247.4 158.2h0M1247.7 148.5h0M1247.7 140.5h0M1247.4 133.7h0M1264 440h0M1263.5 421.2h0M1263.8 401.5h0M1264 383.5h0M1264 365.2h0M1264 347.1h0M1263.9 334.1h0M1264 319.8h0M1264 302.3h0M1263.6 285.7h0M1263.9 271.2h0M1263.7 260.5h0M1263.8 246.5h0M1263.7 234.4h0M1263.6 220.1h0M1263.9 206.7h0M1263.7 195.5h0M1263.8 184h0M1263.5 174h0M1263.7 163.6h0M1263.9 154.8h0M1263.8 144.4h0M1263.3 134.7h0M1264.8 440h0M1264.6 430.6h0M1264.3 412.5h0M1264.5 396.7h0M1264.4 377.9h0M1264.5 361.1h0M1264.8 344h0M1264.8 327.9h0M1264.5 311.5h0M1264.7 295.3h0M1265 278.8h0M1265 265.8h0M1264.9 254h0M1265 243.9h0M1264.8 231.3h0M1264.8 218.6h0M1265 208h0M1264.6 195.2h0M1265.2 185h0M1264.8 174.9h0M1264.9 163.5h0M1265.3 150.4h0M1264.8 142h0M1265 133.6h0M1280.9 418.3h0M1281 399.1h0M1280.5 384.5h0M1280.7 369.8h0M1280.7 355.3h0M1280.9 339.1h0M1281 318.3h0M1280.8 302.7h0M1280.8 289.8h0M1280.9 271.5h0M1280.5 259.3h0M1280.8 241.8h0M1280.4 226h0M1280.4 211.7h0M1280.8 197h0M1280.3 185.5h0M1280.9 171.7h0M1280.5 159.1h0M1280.8 148.5h0M1280.5 134.6h0M1281.5 418.3h0M1281.4 408.7h0M1281.8 387.7h0M1281.8 369.6h0M1281.6 352.8h0M1281.9 332.9h0M1281.8 314.1h0M1282 295.3h0M1281.8 276.2h0M1281.5 262h0M1281.7 247.3h0M1282.1 236.6h0M1282.1 224.1h0M1281.8 213.9h0M1282 198.9h0M1281.9 185.1h0M1282.1 175.3h0M1281.9 161.7h0M1282.1 149.7h0M1282 138.4h0M1297.2 396.7h0M1297.2 377.1h0M1297.2 359.7h0M1297.2 342.3h0M1297.3 325.4h0M1297.2 304.1h0M1296.9 288.2h0M1297.1 272.4h0M1297 260.2h0M1296.7 241.3h0M1297 223.3h0M1297.1 205.3h0M1297.1 189.8h0M1296.7 176.9h0M1297.2 161.5h0M1296.7 147.4h0M1296.9 135.2h0M1297.8 396.7h0M1297.8 386.9h0M1297.9 363h0M1298.2 339.9h0M1298.1 324.9h0M1298 308.5h0M1298.1 290.9h0M1298.1 276.1h0M1298.2 261.1h0M1298.2 245.6h0M1298 226.7h0M1298.4 215.7h0M1298.3 201.3h0M1298.4 185.2h0M1298.5 172.6h0M1298.4 160.4h0M1298.2 145.7h0M1298.2 134h0M1314 376h0M1314.3 356h0M1314.4 340.9h0M1314.1 319.1h0M1313.9 299.5h0M1314.2 279.5h0M1314 263.3h0M1313.8 249h0M1314.1 229.9h0M1314.1 214.7h0M1313.7 201.9h0M1314 188.1h0M1314 176h0M1313.8 163.1h0M1313.8 147.8h0M1314.1 133h0M1314.5 376h0M1315 366h0M1314.9 345.8h0M1314.9 324.9h0M1314.7 302.7h0M1315.1 280.7h0M1315.3 264.3h0M1315.1 244.3h0M1315.2 232.2h0M1315.2 217.1h0M1314.9 199.3h0M1315.1 182h0M1314.9 169.6h0M1315.1 158.4h0M1315.5 144.7h0M1315.2 133.7h0M1330.6 351.7h0M1330.4 331.3h0M1330.3 309.8h0M1330.5 295h0M1330.2 274.2h0M1330.5 260.2h0M1330.7 246.4h0M1330.2 227.5h0M1330.1 211.5h0M1330.3 198.7h0M1330.6 179.8h0M1330.4 162.6h0M1330.3 147.2h0M1331.4 351.7h0M1331.1 341.5h0M1331.4 322.4h0M1331.2 298.3h0M1331.3 280.1h0M1331.3 264.5h0M1331.3 244.1h0M1331.3 227.1h0M1331.7 209.8h0M1331.5 196.7h0M1331.7 183.4h0M1331.4 166.6h0M1331.5 153.8h0M1331.9 140.5h0M1346 326.7h0M1345.7 305.9h0M1345.6 286.2h0M1346 267h0M1345.7 251.8h0M1345.9 236.1h0M1345.7 219.8h0M1345.8 206.1h0M1345.8 188.8h0M1345.8 170.3h0M1345.5 156.1h0M1345.3 139.6h0M1346.6 326.7h0M1346.5 316.3h0M1346.3 297.2h0M1346.8 276.8h0M1346.4 261.2h0M1346.7 240.6h0M1346.7 219.7h0M1347 197.8h0M1346.9 182.4h0M1346.9 165.2h0M1347.1 146.7h0M1362 301.7h0M1362.1 280.5h0M1362.1 259.5h0M1362.2 244.4h0M1361.8 225.4h0M1362 203.1h0M1362.1 182.7h0M1362.2 164h0M1361.8 150.7h0M1362 136.8h0M1362.5 301.7h0M1362.6 291.1h0M1362.9 273.6h0M1362.9 253.7h0M1363 238.8h0M1362.8 221.8h0M1362.9 207.2h0M1362.9 189.7h0M1363 172.2h0M1363.5 152.9h0M1363 137.6h0M1377.9 276.7h0M1378.2 255.1h0M1378 231.5h0M1377.8 207.3h0M1378.2 185.6h0M1378.2 163h0M1377.9 145.4h0M1378.7 276.7h0M1378.7 265.9h0M1378.7 249.6h0M1379.2 232.6h0M1378.9 214.2h0M1379.2 189.8h0M1378.9 171.5h0M1379.1 154.3h0M1393.7 250h0M1393.5 228h0M1393.5 202.4h0M1393.7 178.9h0M1393.9 161.2h0M1393.9 142.5h0M1394.8 250h0M1394.8 239h0M1394.7 218.7h0M1394.8 195.2h0M1394.9 179.7h0M1394.7 157.2h0M1394.7 141.9h0M1408.9 221.7h0M1409.3 199.7h0M1409.3 179.3h0M1408.9 156.1h0M1408.9 139.2h0M1410 221.7h0M1410.1 210.7h0M1409.7 190.9h0M1410.2 168.1h0M1410.4 146.2h0M1424.2 195h0M1424.2 173h0M1424.3 155.6h0M1423.7 133.1h0M1424.9 195h0M1424.8 184h0M1425 157.6h0M1425.2 136.8h0M1439.7 164.3h0M1439.9 142.3h0M1440.5 164.3h0M1440.9 153.3h0M1454.9 134h0M1455.5 134h0" stroke="#000" stroke-width="4.6" stroke-linecap="round"/>
<path d="M320 0V1200M958.1 0V1200" stroke="#00f" stroke-width="4.17"/>
<path d="M0 971.3H2000" stroke="#008000" stroke-width="4.17"/>
<path d="M0 712.8H2000M0 866.9H2000" stroke="#ffa500" stroke-width="2.08"/>
<path d="M325.6 966.2L326.2 951.6L326.7 938L327.2 925.6L327.7 914.1L328.2 903.5L328.6 893.8L329.1 884.9L329.6 876.8L330.1 869.4L330.5 862.6L331 856.5L331.4 851L331.9 846L332.3 841.5L332.7 837.4L333.1 833.8L333.5 830.5L333.9 827.7L334.3 825.1L334.7 822.9L335.1 820.9L335.5 819.2L335.8 817.7L336.2 816.4L336.5 815.2L336.9 814.3L337.2 813.5L337.5 812.8L337.8 812.2L338.1 811.7L338.4 811.3L338.7 811L339 810.8L339.2 810.6L339.5 810.4L339.7 810.3L340 810.2L340.2 810.1L340.4 810.1L340.6 810L340.8 810L340.9 810L341.1 810L341.2 810L341.4 810L341.5 810L341.6 810L341.7 810L344.7 815L344.9 818M350.5 941.5L351.1 926.1L351.7 911.8L352.3 898.7L352.9 886.5L353.5 875.4L354.1 865.1L354.6 855.8L355.2 847.2L355.7 839.4L356.3 832.3L356.8 825.8L357.3 819.9L357.9 814.6L358.4 809.9L358.9 805.6L359.4 801.8L359.8 798.4L360.3 795.3L360.8 792.6L361.2 790.3L361.7 788.2L362.1 786.4L362.5 784.8L363 783.4L363.4 782.2L363.8 781.2L364.2 780.3L364.5 779.6L364.9 779L365.3 778.5L365.6 778.1L365.9 777.8L366.3 777.5L366.6 777.3L366.9 777.1L367.2 777L367.4 776.9L367.7 776.8L367.9 776.8L368.2 776.7L368.4 776.7L368.6 776.7L368.8 776.7L369 776.7L369.1 776.7L369.2 776.7L369.4 776.7L369.4 776.7L369.5 776.7L372.5 781.7L372.7 784.7M377.7 916.8L378.4 900.8L379 886L379.6 872.4L380.3 859.8L380.9 848.2L381.5 837.6L382.1 827.9L382.7 819L383.3 810.9L383.9 803.5L384.4 796.8L385 790.8L385.6 785.3L386.1 780.3L386.6 775.9L387.2 771.9L387.7 768.4L388.2 765.3L388.7 762.5L389.2 760L389.6 757.8L390.1 756L390.6 754.3L391 752.9L391.4 751.7L391.9 750.6L392.3 749.7L392.7 749L393.1 748.3L393.5 747.8L393.8 747.4L394.2 747L394.5 746.8L394.9 746.5L395.2 746.4L395.5 746.2L395.8 746.1L396.1 746.1L396.3 746L396.6 746L396.8 745.9L397 745.9L397.2 745.9L397.4 745.9L397.6 745.9L397.7 745.9L397.8 745.9L397.9 745.9L398 745.9L401 750.9L401.2 753.9M404.6 891.8L405.3 875.5L405.9 860.3L406.5 846.4L407.2 833.5L407.8 821.7L408.4 810.9L409 800.9L409.5 791.8L410.1 783.5L410.7 776L411.2 769.1L411.8 762.9L412.3 757.3L412.9 752.3L413.4 747.8L413.9 743.7L414.4 740.1L414.9 736.9L415.4 734L415.9 731.5L416.3 729.3L416.8 727.3L417.2 725.7L417.7 724.2L418.1 723L418.5 721.9L418.9 721L419.3 720.2L419.7 719.6L420.1 719L420.4 718.6L420.8 718.2L421.1 717.9L421.4 717.7L421.8 717.5L422.1 717.4L422.3 717.3L422.6 717.2L422.9 717.2L423.1 717.1L423.3 717.1L423.6 717.1L423.8 717.1L423.9 717.1L424.1 717.1L424.2 717.1L424.3 717.1L424.4 717.1L424.5 717.1L427.5 722.1L427.7 725.1M432.5 864.1L433.1 847.5L433.8 832.1L434.4 817.9L434.9 804.8L435.5 792.8L436.1 781.7L436.7 771.6L437.2 762.4L437.8 753.9L438.3 746.3L438.9 739.3L439.4 733L439.9 727.3L440.4 722.1L440.9 717.5L441.4 713.4L441.6 712.1M461 836.8L461.6 820L462.2 804.4L462.7 790L463.3 776.8L463.9 764.6L464.4 753.4L465 743.2L465.5 733.8L466.1 725.3L466.6 717.5L466.9 712.7M488.5 805.3L489.1 788.7L489.7 773.4L490.3 759.3L490.9 746.3L491.5 734.4L492 723.4L492.6 713.4M516.5 776.5L517.1 759.9L517.8 744.6L518.4 730.4L518.9 717.4L519.1 713.3M544.5 749.1L545.1 732.4L545.7 717L545.8 712.1M572.5 721.3L572.7 715.5" fill="none" stroke="#ff0" stroke-width="14" stroke-linecap="round" stroke-linejoin="round"/>
<g fill="#ff0" fill-opacity="0.22" stroke="#ff0" stroke-opacity="0.22" stroke-width="1.8">
<circle cx="320.3" cy="881" r="6.7"/>
<circle cx="320.3" cy="884" r="6.7"/>
<circle cx="320.4" cy="887" r="6.7"/>
<circle cx="320.4" cy="890" r="6.7"/>
<circle cx="320.5" cy="893" r="6.7"/>
<circle cx="320.5" cy="896" r="6.7"/>
<circle cx="320.5" cy="899" r="6.7"/>
<circle cx="320.6" cy="902" r="6.7"/>
<circle cx="320.6" cy="905" r="6.7"/>
<circle cx="320.6" cy="908" r="6.7"/>
<circle cx="320.7" cy="911" r="6.7"/>
<circle cx="320.7" cy="914" r="6.7"/>
<circle cx="320.8" cy="917" r="6.7"/>
<circle cx="320.8" cy="920" r="6.7"/>
<circle cx="320.8" cy="923" r="6.7"/>
<circle cx="320.9" cy="926" r="6.7"/>
<circle cx="320.9" cy="929" r="6.7"/>
<circle cx="320.9" cy="932" r="6.7"/>
<circle cx="321" cy="935" r="6.7"/>
<circle cx="321" cy="938" r="6.7"/>
<circle cx="321.1" cy="941" r="6.7"/>
<circle cx="321.1" cy="944" r="6.7"/>
<circle cx="321.1" cy="947" r="6.7"/>
<circle cx="321.2" cy="950" r="6.7"/>
<circle cx="321.2" cy="953" r="6.7"/>
<circle cx="321.2" cy="956" r="6.7"/>
<circle cx="321.3" cy="959" r="6.7"/>
<circle cx="321.3" cy="962" r="6.7"/>
<circle cx="321.4" cy="965" r="6.7"/>
<circle cx="321.4" cy="968" r="6.7"/>
<circle cx="320.1" cy="880" r="6.7"/>
<circle cx="320.5" cy="879.7" r="6.7"/>
<circle cx="320.3" cy="880.6" r="6.7"/>
<circle cx="319.8" cy="881" r="6.7"/>
<circle cx="319.7" cy="880.8" r="6.7"/>
<circle cx="319.8" cy="879.8" r="6.7"/>
<circle cx="320.2" cy="882" r="6.7"/>
<circle cx="319.8" cy="880.2" r="6.7"/>
<circle cx="320.5" cy="882.3" r="6.7"/>
<circle cx="320.4" cy="880.7" r="6.7"/>
<circle cx="320.9" cy="879.6" r="6.7"/>
<circle cx="320.7" cy="880.4" r="6.7"/>
<circle cx="319.9" cy="879.9" r="6.7"/>
<circle cx="320.1" cy="881.9" r="6.7"/>
<circle cx="372.7" cy="779.7" r="6.7"/>
<circle cx="372.5" cy="768" r="6.7"/>
<circle cx="401.2" cy="748.9" r="6.7"/>
<circle cx="400.4" cy="724" r="6.7"/>
<circle cx="400.1" cy="714.6" r="6.7"/>
<circle cx="427.7" cy="720.1" r="6.7"/>
<circle cx="428.5" cy="968.7" r="6.7"/>
<circle cx="429" cy="965.9" r="6.7"/>
<circle cx="428.6" cy="963.4" r="6.7"/>
<circle cx="428.4" cy="961.1" r="6.7"/>
<circle cx="428.9" cy="959.3" r="6.7"/>
<circle cx="428.7" cy="956.9" r="6.7"/>
<circle cx="428.6" cy="954.1" r="6.7"/>
<circle cx="428.8" cy="951.3" r="6.7"/>
<circle cx="428.5" cy="949.4" r="6.7"/>
<circle cx="428.5" cy="947.3" r="6.7"/>
<circle cx="428.5" cy="944.9" r="6.7"/>
<circle cx="428.6" cy="944.8" r="6.7"/>
<circle cx="430" cy="969.9" r="6.7"/>
<circle cx="429.8" cy="967.9" r="6.7"/>
<circle cx="429.7" cy="965.8" r="6.7"/>
<circle cx="429.8" cy="963.2" r="6.7"/>
<circle cx="430" cy="960.8" r="6.7"/>
<circle cx="429.9" cy="958" r="6.7"/>
<circle cx="429.9" cy="955.6" r="6.7"/>
<circle cx="430" cy="953.3" r="6.7"/>
<circle cx="430" cy="951.1" r="6.7"/>
<circle cx="430.2" cy="948.8" r="6.7"/>
<circle cx="430.2" cy="946.2" r="6.7"/>
<circle cx="430" cy="944.8" r="6.7"/>
<circle cx="457.5" cy="969.3" r="6.7"/>
<circle cx="457.1" cy="965.8" r="6.7"/>
<circle cx="457.2" cy="962.4" r="6.7"/>
<circle cx="457.5" cy="959.7" r="6.7"/>
<circle cx="457" cy="956.7" r="6.7"/>
<circle cx="457.2" cy="954.3" r="6.7"/>
<circle cx="457" cy="952.1" r="6.7"/>
<circle cx="457.3" cy="949.9" r="6.7"/>
<circle cx="457.2" cy="948.2" r="6.7"/>
<circle cx="456.9" cy="945.9" r="6.7"/>
<circle cx="457.2" cy="943.8" r="6.7"/>
<circle cx="456.9" cy="941.5" r="6.7"/>
<circle cx="457.3" cy="938.7" r="6.7"/>
<circle cx="456.9" cy="935.8" r="6.7"/>
<circle cx="456.9" cy="933.8" r="6.7"/>
<circle cx="457" cy="931.2" r="6.7"/>
<circle cx="457.1" cy="929.3" r="6.7"/>
<circle cx="457.3" cy="926.5" r="6.7"/>
<circle cx="456.9" cy="924.5" r="6.7"/>
<circle cx="457.2" cy="921.7" r="6.7"/>
<circle cx="456.9" cy="919.2" r="6.7"/>
<circle cx="457.1" cy="918.5" r="6.7"/>
<circle cx="458.4" cy="969.8" r="6.7"/>
<circle cx="457.9" cy="967.2" r="6.7"/>
<circle cx="458" cy="964.4" r="6.7"/>
<circle cx="458" cy="962.2" r="6.7"/>
<circle cx="458" cy="960.1" r="6.7"/>
<circle cx="458.1" cy="957.8" r="6.7"/>
<circle cx="458.1" cy="954.9" r="6.7"/>
<circle cx="458.1" cy="952.5" r="6.7"/>
<circle cx="458" cy="950.3" r="6.7"/>
<circle cx="458" cy="948.3" r="6.7"/>
<circle cx="458.3" cy="945.7" r="6.7"/>
<circle cx="458.3" cy="943.8" r="6.7"/>
<circle cx="458.1" cy="941" r="6.7"/>
<circle cx="458.3" cy="938.3" r="6.7"/>
<circle cx="458.6" cy="936" r="6.7"/>
<circle cx="458.4" cy="933.8" r="6.7"/>
<circle cx="458.7" cy="931.3" r="6.7"/>
<circle cx="458.6" cy="929.2" r="6.7"/>
<circle cx="458.5" cy="926.7" r="6.7"/>
<circle cx="458.4" cy="924.5" r="6.7"/>
<circle cx="458.2" cy="922.7" r="6.7"/>
<circle cx="458.6" cy="920.9" r="6.7"/>
<circle cx="458.3" cy="918.9" r="6.7"/>
<circle cx="458.5" cy="918.5" r="6.7"/>
<circle cx="484.8" cy="970" r="6.7"/>
<circle cx="484.6" cy="964.8" r="6.7"/>
<circle cx="485.1" cy="958.4" r="6.7"/>
<circle cx="484.6" cy="953.3" r="6.7"/>
<circle cx="484.6" cy="947.2" r="6.7"/>
<circle cx="484.4" cy="942.7" r="6.7"/>
<circle cx="484.7" cy="938.3" r="6.7"/>
<circle cx="484.5" cy="933.7" r="6.7"/>
<circle cx="484.4" cy="929.1" r="6.7"/>
<circle cx="484.4" cy="925.2" r="6.7"/>
<circle cx="484.4" cy="921" r="6.7"/>
<circle cx="484.6" cy="917.8" r="6.7"/>
<circle cx="484.7" cy="914.1" r="6.7"/>
<circle cx="484.8" cy="909.9" r="6.7"/>
<circle cx="484.8" cy="905.5" r="6.7"/>
<circle cx="484.6" cy="900.7" r="6.7"/>
<circle cx="484.9" cy="897.2" r="6.7"/>
<circle cx="484.8" cy="894" r="6.7"/>
<circle cx="484.3" cy="890" r="6.7"/>
<circle cx="484.8" cy="885.7" r="6.7"/>
<circle cx="484.6" cy="885.4" r="6.7"/>
<circle cx="485.6" cy="970" r="6.7"/>
<circle cx="485.7" cy="967.4" r="6.7"/>
<circle cx="485.6" cy="963.1" r="6.7"/>
<circle cx="485.8" cy="958" r="6.7"/>
<circle cx="485.8" cy="952.2" r="6.7"/>
<circle cx="485.9" cy="947.1" r="6.7"/>
<circle cx="485.8" cy="941.9" r="6.7"/>
<circle cx="485.4" cy="937.8" r="6.7"/>
<circle cx="485.6" cy="934" r="6.7"/>
<circle cx="485.9" cy="930.4" r="6.7"/>
<circle cx="485.8" cy="925.8" r="6.7"/>
<circle cx="485.9" cy="921.1" r="6.7"/>
<circle cx="485.5" cy="916.8" r="6.7"/>
<circle cx="486" cy="912" r="6.7"/>
<circle cx="485.9" cy="907.9" r="6.7"/>
<circle cx="485.6" cy="903.5" r="6.7"/>
<circle cx="485.8" cy="899.1" r="6.7"/>
<circle cx="485.8" cy="896" r="6.7"/>
<circle cx="485.8" cy="891.8" r="6.7"/>
<circle cx="486.3" cy="887.6" r="6.7"/>
<circle cx="486" cy="885.4" r="6.7"/>
<circle cx="512.7" cy="957" r="6.7"/>
<circle cx="512.8" cy="950" r="6.7"/>
<circle cx="512.5" cy="944.9" r="6.7"/>
<circle cx="512.9" cy="939.1" r="6.7"/>
<circle cx="512.9" cy="932.1" r="6.7"/>
<circle cx="512.7" cy="926.6" r="6.7"/>
<circle cx="512.7" cy="920.7" r="6.7"/>
<circle cx="513" cy="916.1" r="6.7"/>
<circle cx="513" cy="911.3" r="6.7"/>
<circle cx="512.4" cy="904.7" r="6.7"/>
<circle cx="512.9" cy="899.6" r="6.7"/>
<circle cx="512.6" cy="893.4" r="6.7"/>
<circle cx="512.5" cy="889.1" r="6.7"/>
<circle cx="512.5" cy="883.4" r="6.7"/>
<circle cx="512.4" cy="878.7" r="6.7"/>
<circle cx="512.9" cy="874.4" r="6.7"/>
<circle cx="512.8" cy="871" r="6.7"/>
<circle cx="512.9" cy="866.9" r="6.7"/>
<circle cx="512.4" cy="862.6" r="6.7"/>
<circle cx="512.6" cy="858.1" r="6.7"/>
<circle cx="512.6" cy="857" r="6.7"/>
<circle cx="513.2" cy="957" r="6.7"/>
<circle cx="513.5" cy="953.5" r="6.7"/>
<circle cx="513.4" cy="946.8" r="6.7"/>
<circle cx="513.5" cy="941.3" r="6.7"/>
<circle cx="513.8" cy="935.5" r="6.7"/>
<circle cx="513.8" cy="930.8" r="6.7"/>
<circle cx="513.4" cy="923.6" r="6.7"/>
<circle cx="513.8" cy="916.5" r="6.7"/>
<circle cx="513.6" cy="909.8" r="6.7"/>
<circle cx="513.7" cy="904.8" r="6.7"/>
<circle cx="513.8" cy="898.2" r="6.7"/>
<circle cx="513.8" cy="893.6" r="6.7"/>
<circle cx="513.6" cy="889.3" r="6.7"/>
<circle cx="514.1" cy="885.6" r="6.7"/>
<circle cx="514.1" cy="881.5" r="6.7"/>
<circle cx="513.8" cy="877.7" r="6.7"/>
<circle cx="513.7" cy="873.4" r="6.7"/>
<circle cx="514.2" cy="869.5" r="6.7"/>
<circle cx="514.1" cy="864.7" r="6.7"/>
<circle cx="514.2" cy="860.6" r="6.7"/>
<circle cx="514" cy="857" r="6.7"/>
<circle cx="540.8" cy="944" r="6.7"/>
<circle cx="540.7" cy="935.5" r="6.7"/>
<circle cx="540.9" cy="928.2" r="6.7"/>
<circle cx="540.6" cy="918.5" r="6.7"/>
<circle cx="540.6" cy="910.5" r="6.7"/>
<circle cx="540.7" cy="903.3" r="6.7"/>
<circle cx="540.5" cy="897.6" r="6.7"/>
<circle cx="541" cy="892.1" r="6.7"/>
<circle cx="540.5" cy="885.8" r="6.7"/>
<circle cx="541" cy="878.6" r="6.7"/>
<circle cx="540.5" cy="873.1" r="6.7"/>
<circle cx="540.4" cy="868.5" r="6.7"/>
<circle cx="540.4" cy="863.7" r="6.7"/>
<circle cx="540.5" cy="859.3" r="6.7"/>
<circle cx="540.9" cy="854.3" r="6.7"/>
<circle cx="540.6" cy="849.1" r="6.7"/>
<circle cx="540.6" cy="844.8" r="6.7"/>
<circle cx="540.5" cy="840.9" r="6.7"/>
<circle cx="540.5" cy="837.7" r="6.7"/>
<circle cx="540.4" cy="832.9" r="6.7"/>
<circle cx="540.6" cy="829.9" r="6.7"/>
<circle cx="541.6" cy="944" r="6.7"/>
<circle cx="541.7" cy="939.8" r="6.7"/>
<circle cx="541.4" cy="932.6" r="6.7"/>
<circle cx="541.5" cy="925.6" r="6.7"/>
<circle cx="541.9" cy="918.1" r="6.7"/>
<circle cx="541.9" cy="909.4" r="6.7"/>
<circle cx="541.4" cy="904.1" r="6.7"/>
<circle cx="541.9" cy="896.6" r="6.7"/>
<circle cx="541.8" cy="890.2" r="6.7"/>
<circle cx="541.7" cy="885.6" r="6.7"/>
<circle cx="542" cy="878.4" r="6.7"/>
<circle cx="542.1" cy="871.7" r="6.7"/>
<circle cx="541.6" cy="867" r="6.7"/>
<circle cx="541.9" cy="862.7" r="6.7"/>
<circle cx="542.1" cy="857.2" r="6.7"/>
<circle cx="542" cy="852" r="6.7"/>
<circle cx="541.9" cy="846.8" r="6.7"/>
<circle cx="541.7" cy="842.4" r="6.7"/>
<circle cx="541.8" cy="837.7" r="6.7"/>
<circle cx="542.1" cy="833" r="6.7"/>
<circle cx="542" cy="829.9" r="6.7"/>
<circle cx="568.8" cy="931" r="6.7"/>
<circle cx="569.1" cy="921" r="6.7"/>
<circle cx="569" cy="910.8" r="6.7"/>
<circle cx="568.6" cy="901.9" r="6.7"/>
<circle cx="569" cy="894.5" r="6.7"/>
<circle cx="568.6" cy="885.5" r="6.7"/>
<circle cx="568.7" cy="879.6" r="6.7"/>
<circle cx="568.7" cy="871.5" r="6.7"/>
<circle cx="568.8" cy="865.3" r="6.7"/>
<circle cx="568.5" cy="857.2" r="6.7"/>
<circle cx="568.6" cy="852.3" r="6.7"/>
<circle cx="568.8" cy="846.5" r="6.7"/>
<circle cx="568.8" cy="841.6" r="6.7"/>
<circle cx="568.7" cy="835.4" r="6.7"/>
<circle cx="568.9" cy="830.9" r="6.7"/>
<circle cx="568.8" cy="826.4" r="6.7"/>
<circle cx="568.5" cy="822.3" r="6.7"/>
<circle cx="568.5" cy="817.1" r="6.7"/>
<circle cx="568.6" cy="811.8" r="6.7"/>
<circle cx="568.4" cy="808.4" r="6.7"/>
<circle cx="568.7" cy="804.7" r="6.7"/>
<circle cx="568.6" cy="802.8" r="6.7"/>
<circle cx="569.3" cy="931" r="6.7"/>
<circle cx="569.5" cy="926" r="6.7"/>
<circle cx="569.8" cy="917.6" r="6.7"/>
<circle cx="569.3" cy="910" r="6.7"/>
<circle cx="569.5" cy="903" r="6.7"/>
<circle cx="569.9" cy="892.7" r="6.7"/>
<circle cx="570" cy="883.7" r="6.7"/>
<circle cx="569.6" cy="874.4" r="6.7"/>
<circle cx="570" cy="868.3" r="6.7"/>
<circle cx="569.5" cy="860.6" r="6.7"/>
<circle cx="569.7" cy="853.6" r="6.7"/>
<circle cx="569.7" cy="847.9" r="6.7"/>
<circle cx="569.5" cy="843" r="6.7"/>
<circle cx="569.8" cy="838" r="6.7"/>
<circle cx="569.7" cy="831.4" r="6.7"/>
<circle cx="569.7" cy="825.2" r="6.7"/>
<circle cx="570.1" cy="820.8" r="6.7"/>
<circle cx="569.9" cy="815.6" r="6.7"/>
<circle cx="569.9" cy="812.3" r="6.7"/>
<circle cx="570.2" cy="808.5" r="6.7"/>
<circle cx="569.9" cy="805.2" r="6.7"/>
<circle cx="570" cy="802.8" r="6.7"/>
<circle cx="596.4" cy="918" r="6.7"/>
<circle cx="596.1" cy="907.9" r="6.7"/>
<circle cx="596.2" cy="897.2" r="6.7"/>
<circle cx="596" cy="889.1" r="6.7"/>
<circle cx="596.5" cy="879.2" r="6.7"/>
<circle cx="596.5" cy="870.3" r="6.7"/>
<circle cx="596.1" cy="864.3" r="6.7"/>
<circle cx="596.5" cy="856.8" r="6.7"/>
<circle cx="596.1" cy="847.9" r="6.7"/>
<circle cx="596.1" cy="841.9" r="6.7"/>
<circle cx="596.4" cy="835.4" r="6.7"/>
<circle cx="596.4" cy="830.1" r="6.7"/>
<circle cx="596.4" cy="823.4" r="6.7"/>
<circle cx="596.2" cy="816.9" r="6.7"/>
<circle cx="596" cy="812" r="6.7"/>
<circle cx="596.3" cy="807.2" r="6.7"/>
<circle cx="595.9" cy="803.3" r="6.7"/>
<circle cx="596" cy="798" r="6.7"/>
<circle cx="595.8" cy="794.4" r="6.7"/>
<circle cx="596" cy="790" r="6.7"/>
<circle cx="596.3" cy="784.9" r="6.7"/>
<circle cx="596.1" cy="782.2" r="6.7"/>
<circle cx="596.9" cy="918" r="6.7"/>
<circle cx="596.8" cy="912.9" r="6.7"/>
<circle cx="597" cy="905.1" r="6.7"/>
<circle cx="597.1" cy="894.5" r="6.7"/>
<circle cx="597.1" cy="886.7" r="6.7"/>
<circle cx="597.3" cy="877.5" r="6.7"/>
<circle cx="597.4" cy="868.3" r="6.7"/>
<circle cx="597" cy="859.9" r="6.7"/>
<circle cx="597.1" cy="851.2" r="6.7"/>
<circle cx="597.2" cy="844" r="6.7"/>
<circle cx="597.1" cy="836.5" r="6.7"/>
<circle cx="597.2" cy="831" r="6.7"/>
<circle cx="597.6" cy="826" r="6.7"/>
<circle cx="597.3" cy="820" r="6.7"/>
<circle cx="597.7" cy="814.7" r="6.7"/>
<circle cx="597.2" cy="809.4" r="6.7"/>
<circle cx="597.5" cy="803.6" r="6.7"/>
<circle cx="597.2" cy="797.7" r="6.7"/>
<circle cx="597.7" cy="793.3" r="6.7"/>
<circle cx="597.7" cy="788.3" r="6.7"/>
<circle cx="597.4" cy="785.1" r="6.7"/>
<circle cx="597.5" cy="782.2" r="6.7"/>
<circle cx="623.1" cy="905" r="6.7"/>
<circle cx="623.1" cy="894.8" r="6.7"/>
<circle cx="623.3" cy="886.2" r="6.7"/>
<circle cx="623.1" cy="876.1" r="6.7"/>
<circle cx="623.1" cy="869.3" r="6.7"/>
<circle cx="623" cy="859.9" r="6.7"/>
<circle cx="623.1" cy="852.4" r="6.7"/>
<circle cx="623.2" cy="843.3" r="6.7"/>
<circle cx="623" cy="837.4" r="6.7"/>
<circle cx="623.2" cy="830.6" r="6.7"/>
<circle cx="622.9" cy="823.1" r="6.7"/>
<circle cx="623.3" cy="817.6" r="6.7"/>
<circle cx="623" cy="811.5" r="6.7"/>
<circle cx="623.4" cy="806" r="6.7"/>
<circle cx="623.2" cy="800.7" r="6.7"/>
<circle cx="623.1" cy="795.5" r="6.7"/>
<circle cx="623.4" cy="789.1" r="6.7"/>
<circle cx="623" cy="784.3" r="6.7"/>
<circle cx="623" cy="778.8" r="6.7"/>
<circle cx="623.4" cy="775.3" r="6.7"/>
<circle cx="623.3" cy="771" r="6.7"/>
<circle cx="623.3" cy="766.9" r="6.7"/>
<circle cx="622.9" cy="762.8" r="6.7"/>
<circle cx="623.1" cy="759.8" r="6.7"/>
<circle cx="623.1" cy="757.6" r="6.7"/>
<circle cx="624.2" cy="905" r="6.7"/>
<circle cx="623.8" cy="899.9" r="6.7"/>
<circle cx="624" cy="889.3" r="6.7"/>
<circle cx="623.9" cy="879.7" r="6.7"/>
<circle cx="624.1" cy="871.6" r="6.7"/>
<circle cx="623.9" cy="860.9" r="6.7"/>
<circle cx="624.4" cy="852.7" r="6.7"/>
<circle cx="624" cy="842.9" r="6.7"/>
<circle cx="624.5" cy="836.8" r="6.7"/>
<circle cx="624.3" cy="827.9" r="6.7"/>
<circle cx="624.5" cy="822.6" r="6.7"/>
<circle cx="624.5" cy="816.3" r="6.7"/>
<circle cx="624.5" cy="809.6" r="6.7"/>
<circle cx="624.5" cy="804.6" r="6.7"/>
<circle cx="624.3" cy="799.6" r="6.7"/>
<circle cx="624.6" cy="793.1" r="6.7"/>
<circle cx="624.2" cy="788.6" r="6.7"/>
<circle cx="624.4" cy="783.8" r="6.7"/>
<circle cx="624.2" cy="779.2" r="6.7"/>
<circle cx="624.6" cy="775.1" r="6.7"/>
<circle cx="624.2" cy="769.7" r="6.7"/>
<circle cx="624.6" cy="765.3" r="6.7"/>
<circle cx="624.7" cy="762.2" r="6.7"/>
<circle cx="624.6" cy="759" r="6.7"/>
<circle cx="624.5" cy="757.6" r="6.7"/>
<circle cx="649.8" cy="892" r="6.7"/>
<circle cx="649.6" cy="881.6" r="6.7"/>
<circle cx="649.5" cy="871.9" r="6.7"/>
<circle cx="649.7" cy="864.1" r="6.7"/>
<circle cx="649.7" cy="856.8" r="6.7"/>
<circle cx="649.5" cy="847.9" r="6.7"/>
<circle cx="649.5" cy="838.8" r="6.7"/>
<circle cx="649.9" cy="829.7" r="6.7"/>
<circle cx="649.4" cy="821.9" r="6.7"/>
<circle cx="649.6" cy="814.5" r="6.7"/>
<circle cx="649.5" cy="805.8" r="6.7"/>
<circle cx="650" cy="797.8" r="6.7"/>
<circle cx="649.9" cy="790.7" r="6.7"/>
<circle cx="650" cy="785.5" r="6.7"/>
<circle cx="649.9" cy="779.6" r="6.7"/>
<circle cx="649.5" cy="772.8" r="6.7"/>
<circle cx="649.9" cy="766.6" r="6.7"/>
<circle cx="649.6" cy="762.6" r="6.7"/>
<circle cx="649.4" cy="757.1" r="6.7"/>
<circle cx="649.5" cy="751.4" r="6.7"/>
<circle cx="649.4" cy="746.2" r="6.7"/>
<circle cx="649.9" cy="742" r="6.7"/>
<circle cx="649.5" cy="738.5" r="6.7"/>
<circle cx="649.5" cy="734.5" r="6.7"/>
<circle cx="649.4" cy="731.6" r="6.7"/>
<circle cx="649.6" cy="730.5" r="6.7"/>
<circle cx="650.8" cy="892" r="6.7"/>
<circle cx="650.6" cy="886.8" r="6.7"/>
<circle cx="650.4" cy="874.7" r="6.7"/>
<circle cx="650.4" cy="863.7" r="6.7"/>
<circle cx="650.7" cy="854.4" r="6.7"/>
<circle cx="650.9" cy="846.2" r="6.7"/>
<circle cx="650.7" cy="837.5" r="6.7"/>
<circle cx="650.5" cy="827.9" r="6.7"/>
<circle cx="650.8" cy="818.4" r="6.7"/>
<circle cx="650.9" cy="811.5" r="6.7"/>
<circle cx="651.1" cy="805.3" r="6.7"/>
<circle cx="650.7" cy="798.3" r="6.7"/>
<circle cx="650.8" cy="791" r="6.7"/>
<circle cx="651" cy="785.9" r="6.7"/>
<circle cx="651" cy="781.3" r="6.7"/>
<circle cx="650.9" cy="776.3" r="6.7"/>
<circle cx="650.9" cy="769.4" r="6.7"/>
<circle cx="650.8" cy="763.8" r="6.7"/>
<circle cx="650.6" cy="760" r="6.7"/>
<circle cx="651" cy="756.1" r="6.7"/>
<circle cx="650.9" cy="751.5" r="6.7"/>
<circle cx="650.7" cy="746.2" r="6.7"/>
<circle cx="651.1" cy="742.5" r="6.7"/>
<circle cx="650.7" cy="739.4" r="6.7"/>
<circle cx="650.7" cy="735.7" r="6.7"/>
<circle cx="650.8" cy="732.2" r="6.7"/>
<circle cx="651" cy="730.5" r="6.7"/>
<circle cx="675.7" cy="879.5" r="6.7"/>
<circle cx="675.5" cy="869" r="6.7"/>
<circle cx="675.8" cy="858.3" r="6.7"/>
<circle cx="675.9" cy="849.5" r="6.7"/>
<circle cx="676" cy="840.6" r="6.7"/>
<circle cx="675.6" cy="830.8" r="6.7"/>
<circle cx="675.5" cy="820.8" r="6.7"/>
<circle cx="675.7" cy="812.9" r="6.7"/>
<circle cx="675.5" cy="806.3" r="6.7"/>
<circle cx="675.4" cy="798.1" r="6.7"/>
<circle cx="676" cy="791.1" r="6.7"/>
<circle cx="675.5" cy="785.7" r="6.7"/>
<circle cx="675.7" cy="779" r="6.7"/>
<circle cx="675.9" cy="772.6" r="6.7"/>
<circle cx="675.6" cy="767.8" r="6.7"/>
<circle cx="675.4" cy="762.8" r="6.7"/>
<circle cx="675.8" cy="756.5" r="6.7"/>
<circle cx="675.4" cy="751" r="6.7"/>
<circle cx="675.8" cy="745.4" r="6.7"/>
<circle cx="675.8" cy="740.9" r="6.7"/>
<circle cx="675.5" cy="736.7" r="6.7"/>
<circle cx="675.5" cy="733.4" r="6.7"/>
<circle cx="675.5" cy="730.3" r="6.7"/>
<circle cx="675.7" cy="726" r="6.7"/>
<circle cx="675.7" cy="721.7" r="6.7"/>
<circle cx="675.6" cy="718.6" r="6.7"/>
<circle cx="675.8" cy="715.4" r="6.7"/>
<circle cx="675.5" cy="712" r="6.7"/>
<circle cx="676.4" cy="879.5" r="6.7"/>
<circle cx="676.4" cy="874.3" r="6.7"/>
<circle cx="676.8" cy="862.8" r="6.7"/>
<circle cx="676.5" cy="851.9" r="6.7"/>
<circle cx="676.5" cy="840.9" r="6.7"/>
<circle cx="676.9" cy="833.2" r="6.7"/>
<circle cx="676.8" cy="824.3" r="6.7"/>
<circle cx="677" cy="815.6" r="6.7"/>
<circle cx="676.9" cy="808.1" r="6.7"/>
<circle cx="676.9" cy="800" r="6.7"/>
<circle cx="676.9" cy="793.3" r="6.7"/>
<circle cx="676.7" cy="786.4" r="6.7"/>
<circle cx="676.9" cy="781" r="6.7"/>
<circle cx="677" cy="776.2" r="6.7"/>
<circle cx="676.5" cy="771.4" r="6.7"/>
<circle cx="677.1" cy="766.8" r="6.7"/>
<circle cx="676.6" cy="761.8" r="6.7"/>
<circle cx="676.6" cy="757.7" r="6.7"/>
<circle cx="676.9" cy="752.2" r="6.7"/>
<circle cx="677" cy="746.9" r="6.7"/>
<circle cx="676.9" cy="743.3" r="6.7"/>
<circle cx="677.1" cy="739.2" r="6.7"/>
<circle cx="677.2" cy="734.3" r="6.7"/>
<circle cx="677.1" cy="731.1" r="6.7"/>
<circle cx="677.2" cy="726.4" r="6.7"/>
<circle cx="676.8" cy="723.5" r="6.7"/>
<circle cx="676.7" cy="720.6" r="6.7"/>
<circle cx="677.2" cy="716.6" r="6.7"/>
<circle cx="677.2" cy="713" r="6.7"/>
<circle cx="702.3" cy="867.5" r="6.7"/>
<circle cx="702.2" cy="856.9" r="6.7"/>
<circle cx="702" cy="849.2" r="6.7"/>
<circle cx="702.2" cy="839.8" r="6.7"/>
<circle cx="702.2" cy="831.2" r="6.7"/>
<circle cx="701.9" cy="822.1" r="6.7"/>
<circle cx="701.8" cy="812.2" r="6.7"/>
<circle cx="701.8" cy="802.9" r="6.7"/>
<circle cx="701.8" cy="797.2" r="6.7"/>
<circle cx="702.3" cy="789" r="6.7"/>
<circle cx="702" cy="783.8" r="6.7"/>
<circle cx="702.2" cy="777.1" r="6.7"/>
<circle cx="702" cy="771.8" r="6.7"/>
<circle cx="702.2" cy="766.2" r="6.7"/>
<circle cx="702.3" cy="761" r="6.7"/>
<circle cx="701.8" cy="756.1" r="6.7"/>
<circle cx="702" cy="750.2" r="6.7"/>
<circle cx="702.1" cy="746.1" r="6.7"/>
<circle cx="702.1" cy="742.2" r="6.7"/>
<circle cx="702.1" cy="737" r="6.7"/>
<circle cx="701.9" cy="732.3" r="6.7"/>
<circle cx="701.9" cy="728.3" r="6.7"/>
<circle cx="701.7" cy="723.4" r="6.7"/>
<circle cx="701.7" cy="718.9" r="6.7"/>
<circle cx="701.8" cy="715.8" r="6.7"/>
<circle cx="702.6" cy="867.5" r="6.7"/>
<circle cx="702.6" cy="862.2" r="6.7"/>
<circle cx="703" cy="852.9" r="6.7"/>
<circle cx="702.7" cy="841.3" r="6.7"/>
<circle cx="702.7" cy="833.5" r="6.7"/>
<circle cx="702.9" cy="825.3" r="6.7"/>
<circle cx="702.8" cy="818.2" r="6.7"/>
<circle cx="703.2" cy="811.2" r="6.7"/>
<circle cx="702.7" cy="802.3" r="6.7"/>
<circle cx="702.8" cy="793.1" r="6.7"/>
<circle cx="703.3" cy="786.4" r="6.7"/>
<circle cx="703.2" cy="778.6" r="6.7"/>
<circle cx="702.9" cy="772.4" r="6.7"/>
<circle cx="702.8" cy="765.9" r="6.7"/>
<circle cx="703" cy="760.9" r="6.7"/>
<circle cx="703" cy="756.6" r="6.7"/>
<circle cx="703.2" cy="750.4" r="6.7"/>
<circle cx="703.2" cy="745.4" r="6.7"/>
<circle cx="702.9" cy="740.6" r="6.7"/>
<circle cx="703.1" cy="735.7" r="6.7"/>
<circle cx="703.4" cy="730.8" r="6.7"/>
<circle cx="703.2" cy="726.8" r="6.7"/>
<circle cx="703.1" cy="722.3" r="6.7"/>
<circle cx="703.3" cy="719" r="6.7"/>
<circle cx="703.4" cy="714.7" r="6.7"/>
<circle cx="727.1" cy="855" r="6.7"/>
<circle cx="727.3" cy="844.3" r="6.7"/>
<circle cx="727.4" cy="833.9" r="6.7"/>
<circle cx="727.4" cy="824.3" r="6.7"/>
<circle cx="727.3" cy="813.7" r="6.7"/>
<circle cx="727.5" cy="805.5" r="6.7"/>
<circle cx="727.4" cy="798.6" r="6.7"/>
<circle cx="727.4" cy="791.2" r="6.7"/>
<circle cx="727.5" cy="785.2" r="6.7"/>
<circle cx="727" cy="778.7" r="6.7"/>
<circle cx="727.2" cy="772.7" r="6.7"/>
<circle cx="727.2" cy="767.8" r="6.7"/>
<circle cx="727.3" cy="761.9" r="6.7"/>
<circle cx="727.1" cy="756.5" r="6.7"/>
<circle cx="727.3" cy="751.7" r="6.7"/>
<circle cx="727.2" cy="745.2" r="6.7"/>
<circle cx="727.4" cy="740.9" r="6.7"/>
<circle cx="727" cy="736.4" r="6.7"/>
<circle cx="727.3" cy="732.7" r="6.7"/>
<circle cx="727.3" cy="727.7" r="6.7"/>
<circle cx="727.2" cy="723.7" r="6.7"/>
<circle cx="727.4" cy="720.4" r="6.7"/>
<circle cx="727.2" cy="717" r="6.7"/>
<circle cx="727.3" cy="712.9" r="6.7"/>
<circle cx="728.2" cy="855" r="6.7"/>
<circle cx="727.9" cy="849.6" r="6.7"/>
<circle cx="728.3" cy="841" r="6.7"/>
<circle cx="727.9" cy="829.6" r="6.7"/>
<circle cx="728.2" cy="818.4" r="6.7"/>
<circle cx="728.2" cy="808.3" r="6.7"/>
<circle cx="728.3" cy="798.4" r="6.7"/>
<circle cx="728" cy="789.4" r="6.7"/>
<circle cx="728.2" cy="781.4" r="6.7"/>
<circle cx="728.2" cy="773.7" r="6.7"/>
<circle cx="728.3" cy="766" r="6.7"/>
<circle cx="728.1" cy="760.6" r="6.7"/>
<circle cx="728.2" cy="755.9" r="6.7"/>
<circle cx="728.2" cy="751.6" r="6.7"/>
<circle cx="728.3" cy="747.2" r="6.7"/>
<circle cx="728.3" cy="742.1" r="6.7"/>
<circle cx="728" cy="736.4" r="6.7"/>
<circle cx="728.3" cy="731.1" r="6.7"/>
<circle cx="728.4" cy="726.7" r="6.7"/>
<circle cx="728.3" cy="722" r="6.7"/>
<circle cx="728.6" cy="718.4" r="6.7"/>
<circle cx="728.4" cy="715.6" r="6.7"/>
<circle cx="752.4" cy="842.5" r="6.7"/>
<circle cx="752.4" cy="831.7" r="6.7"/>
<circle cx="752.5" cy="820" r="6.7"/>
<circle cx="752.3" cy="809.9" r="6.7"/>
<circle cx="752.4" cy="800.4" r="6.7"/>
<circle cx="752.4" cy="791.6" r="6.7"/>
<circle cx="752.3" cy="784.8" r="6.7"/>
<circle cx="752.4" cy="777.4" r="6.7"/>
<circle cx="752" cy="771.7" r="6.7"/>
<circle cx="752.4" cy="766.5" r="6.7"/>
<circle cx="752.3" cy="758.6" r="6.7"/>
<circle cx="752.4" cy="753" r="6.7"/>
<circle cx="752.2" cy="746.4" r="6.7"/>
<circle cx="752.1" cy="741.7" r="6.7"/>
<circle cx="752.1" cy="736.8" r="6.7"/>
<circle cx="752.3" cy="732.2" r="6.7"/>
<circle cx="751.9" cy="726.7" r="6.7"/>
<circle cx="751.9" cy="722.3" r="6.7"/>
<circle cx="752.4" cy="719.1" r="6.7"/>
<circle cx="752.4" cy="715.1" r="6.7"/>
<circle cx="753.1" cy="842.5" r="6.7"/>
<circle cx="753" cy="837.1" r="6.7"/>
<circle cx="753.2" cy="827.2" r="6.7"/>
<circle cx="753.2" cy="815" r="6.7"/>
<circle cx="753" cy="805.4" r="6.7"/>
<circle cx="753.4" cy="798.6" r="6.7"/>
<circle cx="753.3" cy="789.5" r="6.7"/>
<circle cx="753.2" cy="782.3" r="6.7"/>
<circle cx="753.4" cy="773.2" r="6.7"/>
<circle cx="753.1" cy="765.9" r="6.7"/>
<circle cx="753.4" cy="759.7" r="6.7"/>
<circle cx="753.3" cy="754" r="6.7"/>
<circle cx="753.5" cy="747.9" r="6.7"/>
<circle cx="753.1" cy="741.6" r="6.7"/>
<circle cx="753.1" cy="737.8" r="6.7"/>
<circle cx="753.3" cy="733.1" r="6.7"/>
<circle cx="753.5" cy="727.8" r="6.7"/>
<circle cx="753.5" cy="724.5" r="6.7"/>
<circle cx="753.5" cy="719.8" r="6.7"/>
<circle cx="753.2" cy="715.8" r="6.7"/>
<circle cx="776.6" cy="829" r="6.7"/>
<circle cx="776.6" cy="818.1" r="6.7"/>
<circle cx="776.5" cy="809.9" r="6.7"/>
<circle cx="777" cy="799.9" r="6.7"/>
<circle cx="777" cy="791" r="6.7"/>
<circle cx="776.5" cy="780.6" r="6.7"/>
<circle cx="776.7" cy="772.3" r="6.7"/>
<circle cx="777" cy="766.3" r="6.7"/>
<circle cx="776.8" cy="760.1" r="6.7"/>
<circle cx="777" cy="753" r="6.7"/>
<circle cx="776.7" cy="746.3" r="6.7"/>
<circle cx="776.5" cy="740.7" r="6.7"/>
<circle cx="777" cy="734" r="6.7"/>
<circle cx="776.4" cy="729.7" r="6.7"/>
<circle cx="776.6" cy="725.5" r="6.7"/>
<circle cx="776.9" cy="720.1" r="6.7"/>
<circle cx="776.4" cy="715.2" r="6.7"/>
<circle cx="777.4" cy="829" r="6.7"/>
<circle cx="777.8" cy="823.5" r="6.7"/>
<circle cx="777.7" cy="815.5" r="6.7"/>
<circle cx="777.3" cy="806.2" r="6.7"/>
<circle cx="777.8" cy="799.1" r="6.7"/>
<circle cx="777.4" cy="789.9" r="6.7"/>
<circle cx="777.9" cy="781.6" r="6.7"/>
<circle cx="777.7" cy="774.8" r="6.7"/>
<circle cx="777.4" cy="768.6" r="6.7"/>
<circle cx="777.8" cy="760.4" r="6.7"/>
<circle cx="777.4" cy="754.8" r="6.7"/>
<circle cx="777.8" cy="749.8" r="6.7"/>
<circle cx="777.6" cy="743.8" r="6.7"/>
<circle cx="777.8" cy="739" r="6.7"/>
<circle cx="777.9" cy="733.1" r="6.7"/>
<circle cx="777.6" cy="727.9" r="6.7"/>
<circle cx="777.9" cy="724.3" r="6.7"/>
<circle cx="777.9" cy="720.1" r="6.7"/>
<circle cx="777.9" cy="716.9" r="6.7"/>
<circle cx="778" cy="713.2" r="6.7"/>
<circle cx="801.7" cy="815" r="6.7"/>
<circle cx="801.7" cy="803.9" r="6.7"/>
<circle cx="801.5" cy="795.9" r="6.7"/>
<circle cx="801.7" cy="784" r="6.7"/>
<circle cx="801.4" cy="776.1" r="6.7"/>
<circle cx="801.4" cy="767.2" r="6.7"/>
<circle cx="801.2" cy="759.3" r="6.7"/>
<circle cx="801.4" cy="752.3" r="6.7"/>
<circle cx="801.2" cy="747.1" r="6.7"/>
<circle cx="801.6" cy="739.2" r="6.7"/>
<circle cx="801.5" cy="732" r="6.7"/>
<circle cx="801.7" cy="725.8" r="6.7"/>
<circle cx="801.1" cy="719.9" r="6.7"/>
<circle cx="801.3" cy="715" r="6.7"/>
<circle cx="802.2" cy="815" r="6.7"/>
<circle cx="802.3" cy="809.5" r="6.7"/>
<circle cx="802.2" cy="799.9" r="6.7"/>
<circle cx="802.2" cy="789.6" r="6.7"/>
<circle cx="802.4" cy="781.1" r="6.7"/>
<circle cx="802.3" cy="770.8" r="6.7"/>
<circle cx="802.1" cy="763" r="6.7"/>
<circle cx="802.1" cy="756.3" r="6.7"/>
<circle cx="802.4" cy="748.9" r="6.7"/>
<circle cx="802.6" cy="743.8" r="6.7"/>
<circle cx="802.6" cy="738.1" r="6.7"/>
<circle cx="802.7" cy="731.3" r="6.7"/>
<circle cx="802.4" cy="726.8" r="6.7"/>
<circle cx="802.1" cy="720.7" r="6.7"/>
<circle cx="802.5" cy="717.2" r="6.7"/>
<circle cx="802.7" cy="712.8" r="6.7"/>
<circle cx="823.8" cy="801.7" r="6.7"/>
<circle cx="823.9" cy="790.5" r="6.7"/>
<circle cx="823.5" cy="781.5" r="6.7"/>
<circle cx="824" cy="769.7" r="6.7"/>
<circle cx="824" cy="761.8" r="6.7"/>
<circle cx="823.6" cy="752.3" r="6.7"/>
<circle cx="824" cy="744.5" r="6.7"/>
<circle cx="824" cy="737.6" r="6.7"/>
<circle cx="823.7" cy="732.1" r="6.7"/>
<circle cx="823.6" cy="725.5" r="6.7"/>
<circle cx="824" cy="720.6" r="6.7"/>
<circle cx="823.9" cy="715.6" r="6.7"/>
<circle cx="824.2" cy="801.7" r="6.7"/>
<circle cx="824.7" cy="796.1" r="6.7"/>
<circle cx="824.3" cy="784.8" r="6.7"/>
<circle cx="824.3" cy="776.1" r="6.7"/>
<circle cx="824.4" cy="765.5" r="6.7"/>
<circle cx="824.7" cy="755.3" r="6.7"/>
<circle cx="824.7" cy="749.2" r="6.7"/>
<circle cx="824.8" cy="742.4" r="6.7"/>
<circle cx="824.5" cy="734.6" r="6.7"/>
<circle cx="824.9" cy="729.7" r="6.7"/>
<circle cx="824.9" cy="724.2" r="6.7"/>
<circle cx="824.8" cy="718.3" r="6.7"/>
<circle cx="824.8" cy="712.6" r="6.7"/>
<circle cx="847.3" cy="787.5" r="6.7"/>
<circle cx="847.6" cy="776.2" r="6.7"/>
<circle cx="847.7" cy="768.4" r="6.7"/>
<circle cx="847.6" cy="756.9" r="6.7"/>
<circle cx="847.3" cy="748.3" r="6.7"/>
<circle cx="847.5" cy="739.5" r="6.7"/>
<circle cx="847.4" cy="732.3" r="6.7"/>
<circle cx="847.5" cy="725.6" r="6.7"/>
<circle cx="847.7" cy="718.2" r="6.7"/>
<circle cx="847.3" cy="713.3" r="6.7"/>
<circle cx="848.2" cy="787.5" r="6.7"/>
<circle cx="848.4" cy="781.9" r="6.7"/>
<circle cx="848" cy="769.4" r="6.7"/>
<circle cx="848.4" cy="761.1" r="6.7"/>
<circle cx="848.2" cy="751.1" r="6.7"/>
<circle cx="848.1" cy="742.8" r="6.7"/>
<circle cx="848.2" cy="733.7" r="6.7"/>
<circle cx="848.4" cy="725.3" r="6.7"/>
<circle cx="848.2" cy="720.3" r="6.7"/>
<circle cx="848.6" cy="715.2" r="6.7"/>
<circle cx="869.7" cy="775" r="6.7"/>
<circle cx="869.5" cy="763.6" r="6.7"/>
<circle cx="869.6" cy="754.9" r="6.7"/>
<circle cx="869.5" cy="743.9" r="6.7"/>
<circle cx="869.7" cy="733.7" r="6.7"/>
<circle cx="869.8" cy="725.6" r="6.7"/>
<circle cx="869.8" cy="718.1" r="6.7"/>
<circle cx="870.5" cy="775" r="6.7"/>
<circle cx="870.4" cy="769.3" r="6.7"/>
<circle cx="870.6" cy="761" r="6.7"/>
<circle cx="870.6" cy="750" r="6.7"/>
<circle cx="870.7" cy="740.5" r="6.7"/>
<circle cx="870.8" cy="729.9" r="6.7"/>
<circle cx="870.5" cy="721.4" r="6.7"/>
<circle cx="870.6" cy="715.1" r="6.7"/>
<circle cx="892.9" cy="761" r="6.7"/>
<circle cx="892.9" cy="749.5" r="6.7"/>
<circle cx="892.5" cy="739.4" r="6.7"/>
<circle cx="892.8" cy="728.7" r="6.7"/>
<circle cx="892.9" cy="718.6" r="6.7"/>
<circle cx="892.6" cy="712" r="6.7"/>
<circle cx="893.2" cy="761" r="6.7"/>
<circle cx="893.4" cy="755.2" r="6.7"/>
<circle cx="893.4" cy="744.4" r="6.7"/>
<circle cx="893.4" cy="733" r="6.7"/>
<circle cx="893.5" cy="722.4" r="6.7"/>
<circle cx="893.6" cy="715.8" r="6.7"/>
<circle cx="914.9" cy="748.8" r="6.7"/>
<circle cx="915.2" cy="737.2" r="6.7"/>
<circle cx="915" cy="729" r="6.7"/>
<circle cx="915.1" cy="717.3" r="6.7"/>
<circle cx="915.8" cy="748.8" r="6.7"/>
<circle cx="916" cy="743" r="6.7"/>
<circle cx="916" cy="729.2" r="6.7"/>
<circle cx="916.1" cy="718" r="6.7"/>
<circle cx="937.2" cy="734" r="6.7"/>
<circle cx="937.3" cy="722.2" r="6.7"/>
<circle cx="938" cy="734" r="6.7"/>
<circle cx="937.7" cy="728.1" r="6.7"/>
<circle cx="937.9" cy="715.3" r="6.7"/>
<circle cx="957.9" cy="721" r="6.7"/>
<circle cx="958.2" cy="715.1" r="6.7"/>
<circle cx="349.5" cy="969.6" r="6.7"/>
<circle cx="349.6" cy="967.8" r="6.7"/>
<circle cx="349.6" cy="966" r="6.7"/>
<circle cx="349.7" cy="964.2" r="6.7"/>
<circle cx="349.8" cy="962.4" r="6.7"/>
<circle cx="349.8" cy="960.6" r="6.7"/>
<circle cx="349.9" cy="958.8" r="6.7"/>
<circle cx="349.9" cy="957" r="6.7"/>
<circle cx="350" cy="955.2" r="6.7"/>
<circle cx="350.1" cy="953.4" r="6.7"/>
<circle cx="350.1" cy="951.6" r="6.7"/>
<circle cx="350.2" cy="949.8" r="6.7"/>
<circle cx="350.3" cy="948" r="6.7"/>
<circle cx="375.8" cy="969.2" r="6.7"/>
<circle cx="375.9" cy="967.4" r="6.7"/>
<circle cx="375.9" cy="965.6" r="6.7"/>
<circle cx="376" cy="963.8" r="6.7"/>
<circle cx="376" cy="962" r="6.7"/>
<circle cx="376.1" cy="960.2" r="6.7"/>
<circle cx="376.2" cy="958.4" r="6.7"/>
<circle cx="376.2" cy="956.6" r="6.7"/>
<circle cx="376.3" cy="954.8" r="6.7"/>
<circle cx="376.4" cy="953" r="6.7"/>
<circle cx="376.4" cy="951.2" r="6.7"/>
<circle cx="376.5" cy="949.4" r="6.7"/>
<circle cx="376.5" cy="947.6" r="6.7"/>
<circle cx="376.6" cy="945.8" r="6.7"/>
<circle cx="376.7" cy="944" r="6.7"/>
<circle cx="376.7" cy="942.2" r="6.7"/>
<circle cx="376.8" cy="940.4" r="6.7"/>
<circle cx="376.9" cy="938.6" r="6.7"/>
<circle cx="376.9" cy="936.8" r="6.7"/>
<circle cx="377" cy="935" r="6.7"/>
<circle cx="377.1" cy="933.2" r="6.7"/>
<circle cx="377.1" cy="931.4" r="6.7"/>
<circle cx="377.2" cy="929.6" r="6.7"/>
<circle cx="377.3" cy="927.8" r="6.7"/>
<circle cx="377.3" cy="926" r="6.7"/>
<circle cx="377.4" cy="924.2" r="6.7"/>
<circle cx="402.1" cy="969.3" r="6.7"/>
<circle cx="402.1" cy="967.5" r="6.7"/>
<circle cx="402.2" cy="965.7" r="6.7"/>
<circle cx="402.2" cy="963.9" r="6.7"/>
<circle cx="402.3" cy="962.1" r="6.7"/>
<circle cx="402.3" cy="960.3" r="6.7"/>
<circle cx="402.4" cy="958.5" r="6.7"/>
<circle cx="402.4" cy="956.8" r="6.7"/>
<circle cx="402.5" cy="955" r="6.7"/>
<circle cx="402.5" cy="953.2" r="6.7"/>
<circle cx="402.6" cy="951.4" r="6.7"/>
<circle cx="402.7" cy="949.6" r="6.7"/>
<circle cx="402.7" cy="947.8" r="6.7"/>
<circle cx="402.8" cy="946" r="6.7"/>
<circle cx="402.8" cy="944.2" r="6.7"/>
<circle cx="402.9" cy="942.4" r="6.7"/>
<circle cx="402.9" cy="940.6" r="6.7"/>
<circle cx="403" cy="938.8" r="6.7"/>
<circle cx="403.1" cy="937" r="6.7"/>
<circle cx="403.1" cy="935.2" r="6.7"/>
<circle cx="403.2" cy="933.4" r="6.7"/>
<circle cx="403.2" cy="931.6" r="6.7"/>
<circle cx="403.3" cy="929.8" r="6.7"/>
<circle cx="403.4" cy="928" r="6.7"/>
<circle cx="403.4" cy="926.2" r="6.7"/>
<circle cx="403.5" cy="924.4" r="6.7"/>
<circle cx="403.5" cy="922.6" r="6.7"/>
<circle cx="403.6" cy="920.8" r="6.7"/>
<circle cx="403.7" cy="919" r="6.7"/>
<circle cx="403.7" cy="917.2" r="6.7"/>
<circle cx="403.8" cy="915.4" r="6.7"/>
<circle cx="403.8" cy="913.6" r="6.7"/>
<circle cx="403.9" cy="911.8" r="6.7"/>
<circle cx="404" cy="910" r="6.7"/>
<circle cx="404" cy="908.2" r="6.7"/>
<circle cx="404.1" cy="906.4" r="6.7"/>
<circle cx="404.2" cy="904.6" r="6.7"/>
<circle cx="404.2" cy="902.8" r="6.7"/>
<circle cx="404.3" cy="901" r="6.7"/>
<circle cx="404.4" cy="899.2" r="6.7"/>
<circle cx="430" cy="944.8" r="6.7"/>
<circle cx="430.1" cy="943" r="6.7"/>
<circle cx="430.1" cy="941.2" r="6.7"/>
<circle cx="430.2" cy="939.4" r="6.7"/>
<circle cx="430.2" cy="937.6" r="6.7"/>
<circle cx="430.3" cy="935.8" r="6.7"/>
<circle cx="430.3" cy="934" r="6.7"/>
<circle cx="430.4" cy="932.2" r="6.7"/>
<circle cx="430.4" cy="930.4" r="6.7"/>
<circle cx="430.5" cy="928.6" r="6.7"/>
<circle cx="430.5" cy="926.8" r="6.7"/>
<circle cx="430.6" cy="925" r="6.7"/>
<circle cx="430.6" cy="923.2" r="6.7"/>
<circle cx="430.7" cy="921.4" r="6.7"/>
<circle cx="430.7" cy="919.6" r="6.7"/>
<circle cx="430.8" cy="917.8" r="6.7"/>
<circle cx="430.8" cy="916" r="6.7"/>
<circle cx="430.9" cy="914.2" r="6.7"/>
<circle cx="430.9" cy="912.4" r="6.7"/>
<circle cx="431" cy="910.6" r="6.7"/>
<circle cx="431.1" cy="908.8" r="6.7"/>
<circle cx="431.1" cy="907" r="6.7"/>
<circle cx="431.2" cy="905.2" r="6.7"/>
<circle cx="431.2" cy="903.4" r="6.7"/>
<circle cx="431.3" cy="901.6" r="6.7"/>
<circle cx="431.3" cy="899.8" r="6.7"/>
<circle cx="431.4" cy="898" r="6.7"/>
<circle cx="431.4" cy="896.2" r="6.7"/>
<circle cx="431.5" cy="894.5" r="6.7"/>
<circle cx="431.6" cy="892.7" r="6.7"/>
<circle cx="431.6" cy="890.9" r="6.7"/>
<circle cx="431.7" cy="889.1" r="6.7"/>
<circle cx="431.7" cy="887.3" r="6.7"/>
<circle cx="431.8" cy="885.5" r="6.7"/>
<circle cx="431.9" cy="883.7" r="6.7"/>
<circle cx="431.9" cy="881.9" r="6.7"/>
<circle cx="432" cy="880.1" r="6.7"/>
<circle cx="432" cy="878.3" r="6.7"/>
<circle cx="432.1" cy="876.5" r="6.7"/>
<circle cx="432.2" cy="874.7" r="6.7"/>
<circle cx="432.2" cy="872.9" r="6.7"/>
<circle cx="432.3" cy="871.1" r="6.7"/>
<circle cx="458.5" cy="918.5" r="6.7"/>
<circle cx="458.5" cy="916.7" r="6.7"/>
<circle cx="458.6" cy="914.9" r="6.7"/>
<circle cx="458.6" cy="913.1" r="6.7"/>
<circle cx="458.7" cy="911.3" r="6.7"/>
<circle cx="458.7" cy="909.5" r="6.7"/>
<circle cx="458.8" cy="907.7" r="6.7"/>
<circle cx="458.8" cy="905.9" r="6.7"/>
<circle cx="458.9" cy="904.1" r="6.7"/>
<circle cx="458.9" cy="902.3" r="6.7"/>
<circle cx="459" cy="900.5" r="6.7"/>
<circle cx="459" cy="898.7" r="6.7"/>
<circle cx="459.1" cy="896.9" r="6.7"/>
<circle cx="459.1" cy="895.1" r="6.7"/>
<circle cx="459.2" cy="893.3" r="6.7"/>
<circle cx="459.2" cy="891.5" r="6.7"/>
<circle cx="459.3" cy="889.7" r="6.7"/>
<circle cx="459.4" cy="887.9" r="6.7"/>
<circle cx="459.4" cy="886.1" r="6.7"/>
<circle cx="459.5" cy="884.3" r="6.7"/>
<circle cx="459.5" cy="882.5" r="6.7"/>
<circle cx="459.6" cy="880.7" r="6.7"/>
<circle cx="459.6" cy="878.9" r="6.7"/>
<circle cx="459.7" cy="877.1" r="6.7"/>
<circle cx="459.7" cy="875.3" r="6.7"/>
<circle cx="459.8" cy="873.5" r="6.7"/>
<circle cx="459.8" cy="871.7" r="6.7"/>
<circle cx="459.9" cy="869.9" r="6.7"/>
<circle cx="459.9" cy="868.1" r="6.7"/>
<circle cx="460" cy="866.3" r="6.7"/>
<circle cx="460.1" cy="864.5" r="6.7"/>
<circle cx="460.1" cy="862.7" r="6.7"/>
<circle cx="460.2" cy="860.9" r="6.7"/>
<circle cx="460.2" cy="859.1" r="6.7"/>
<circle cx="460.3" cy="857.3" r="6.7"/>
<circle cx="460.3" cy="855.5" r="6.7"/>
<circle cx="460.4" cy="853.7" r="6.7"/>
<circle cx="460.5" cy="851.9" r="6.7"/>
<circle cx="460.5" cy="850.1" r="6.7"/>
<circle cx="460.6" cy="848.3" r="6.7"/>
<circle cx="460.6" cy="846.5" r="6.7"/>
<circle cx="460.7" cy="844.7" r="6.7"/>
<circle cx="460.8" cy="842.9" r="6.7"/>
<circle cx="486" cy="885.4" r="6.7"/>
<circle cx="486.1" cy="883.6" r="6.7"/>
<circle cx="486.1" cy="881.8" r="6.7"/>
<circle cx="486.2" cy="880" r="6.7"/>
<circle cx="486.2" cy="878.2" r="6.7"/>
<circle cx="486.3" cy="876.4" r="6.7"/>
<circle cx="486.3" cy="874.6" r="6.7"/>
<circle cx="486.4" cy="872.8" r="6.7"/>
<circle cx="486.4" cy="871" r="6.7"/>
<circle cx="486.5" cy="869.2" r="6.7"/>
<circle cx="486.5" cy="867.4" r="6.7"/>
<circle cx="486.6" cy="865.6" r="6.7"/>
<circle cx="486.6" cy="863.8" r="6.7"/>
<circle cx="486.7" cy="862" r="6.7"/>
<circle cx="486.7" cy="860.2" r="6.7"/>
<circle cx="486.8" cy="858.4" r="6.7"/>
<circle cx="486.8" cy="856.6" r="6.7"/>
<circle cx="486.9" cy="854.8" r="6.7"/>
<circle cx="486.9" cy="853" r="6.7"/>
<circle cx="487" cy="851.2" r="6.7"/>
<circle cx="487.1" cy="849.4" r="6.7"/>
<circle cx="487.1" cy="847.6" r="6.7"/>
<circle cx="487.2" cy="845.8" r="6.7"/>
<circle cx="487.2" cy="844" r="6.7"/>
<circle cx="487.3" cy="842.2" r="6.7"/>
<circle cx="487.3" cy="840.4" r="6.7"/>
<circle cx="487.4" cy="838.6" r="6.7"/>
<circle cx="487.4" cy="836.8" r="6.7"/>
<circle cx="487.5" cy="835" r="6.7"/>
<circle cx="487.6" cy="833.2" r="6.7"/>
<circle cx="487.6" cy="831.4" r="6.7"/>
<circle cx="487.7" cy="829.6" r="6.7"/>
<circle cx="487.7" cy="827.8" r="6.7"/>
<circle cx="487.8" cy="826" r="6.7"/>
<circle cx="487.9" cy="824.2" r="6.7"/>
<circle cx="487.9" cy="822.4" r="6.7"/>
<circle cx="488" cy="820.6" r="6.7"/>
<circle cx="488" cy="818.8" r="6.7"/>
<circle cx="488.1" cy="817" r="6.7"/>
<circle cx="488.2" cy="815.2" r="6.7"/>
<circle cx="488.2" cy="813.4" r="6.7"/>
<circle cx="488.3" cy="811.6" r="6.7"/>
<circle cx="514" cy="857" r="6.7"/>
<circle cx="514.1" cy="855.2" r="6.7"/>
<circle cx="514.1" cy="853.4" r="6.7"/>
<circle cx="514.2" cy="851.6" r="6.7"/>
<circle cx="514.2" cy="849.8" r="6.7"/>
<circle cx="514.3" cy="848" r="6.7"/>
<circle cx="514.3" cy="846.2" r="6.7"/>
<circle cx="514.4" cy="844.4" r="6.7"/>
<circle cx="514.4" cy="842.6" r="6.7"/>
<circle cx="514.5" cy="840.8" r="6.7"/>
<circle cx="514.5" cy="839" r="6.7"/>
<circle cx="514.6" cy="837.2" r="6.7"/>
<circle cx="514.6" cy="835.4" r="6.7"/>
<circle cx="514.7" cy="833.6" r="6.7"/>
<circle cx="514.7" cy="831.8" r="6.7"/>
<circle cx="514.8" cy="830" r="6.7"/>
<circle cx="514.8" cy="828.2" r="6.7"/>
<circle cx="514.9" cy="826.4" r="6.7"/>
<circle cx="514.9" cy="824.6" r="6.7"/>
<circle cx="515" cy="822.8" r="6.7"/>
<circle cx="515.1" cy="821.1" r="6.7"/>
<circle cx="515.1" cy="819.3" r="6.7"/>
<circle cx="515.2" cy="817.5" r="6.7"/>
<circle cx="515.2" cy="815.7" r="6.7"/>
<circle cx="515.3" cy="813.9" r="6.7"/>
<circle cx="515.3" cy="812.1" r="6.7"/>
<circle cx="515.4" cy="810.3" r="6.7"/>
<circle cx="515.5" cy="808.5" r="6.7"/>
<circle cx="515.5" cy="806.7" r="6.7"/>
<circle cx="515.6" cy="804.9" r="6.7"/>
<circle cx="515.6" cy="803.1" r="6.7"/>
<circle cx="515.7" cy="801.3" r="6.7"/>
<circle cx="515.7" cy="799.5" r="6.7"/>
<circle cx="515.8" cy="797.7" r="6.7"/>
<circle cx="515.9" cy="795.9" r="6.7"/>
<circle cx="515.9" cy="794.1" r="6.7"/>
<circle cx="516" cy="792.3" r="6.7"/>
<circle cx="516" cy="790.5" r="6.7"/>
<circle cx="516.1" cy="788.7" r="6.7"/>
<circle cx="516.2" cy="786.9" r="6.7"/>
<circle cx="516.2" cy="785.1" r="6.7"/>
<circle cx="516.3" cy="783.3" r="6.7"/>
<circle cx="542" cy="829.9" r="6.7"/>
<circle cx="542" cy="828.1" r="6.7"/>
<circle cx="542.1" cy="826.3" r="6.7"/>
<circle cx="542.1" cy="824.5" r="6.7"/>
<circle cx="542.2" cy="822.7" r="6.7"/>
<circle cx="542.2" cy="820.9" r="6.7"/>
<circle cx="542.3" cy="819.1" r="6.7"/>
<circle cx="542.3" cy="817.3" r="6.7"/>
<circle cx="542.4" cy="815.5" r="6.7"/>
<circle cx="542.4" cy="813.7" r="6.7"/>
<circle cx="542.5" cy="811.9" r="6.7"/>
<circle cx="542.5" cy="810.1" r="6.7"/>
<circle cx="542.6" cy="808.3" r="6.7"/>
<circle cx="542.7" cy="806.5" r="6.7"/>
<circle cx="542.7" cy="804.7" r="6.7"/>
<circle cx="542.8" cy="802.9" r="6.7"/>
<circle cx="542.8" cy="801.1" r="6.7"/>
<circle cx="542.9" cy="799.3" r="6.7"/>
<circle cx="542.9" cy="797.6" r="6.7"/>
<circle cx="543" cy="795.8" r="6.7"/>
<circle cx="543" cy="794" r="6.7"/>
<circle cx="543.1" cy="792.2" r="6.7"/>
<circle cx="543.1" cy="790.4" r="6.7"/>
<circle cx="543.2" cy="788.6" r="6.7"/>
<circle cx="543.2" cy="786.8" r="6.7"/>
<circle cx="543.3" cy="785" r="6.7"/>
<circle cx="543.3" cy="783.2" r="6.7"/>
<circle cx="543.4" cy="781.4" r="6.7"/>
<circle cx="543.5" cy="779.6" r="6.7"/>
<circle cx="543.5" cy="777.8" r="6.7"/>
<circle cx="543.6" cy="776" r="6.7"/>
<circle cx="543.6" cy="774.2" r="6.7"/>
<circle cx="543.7" cy="772.4" r="6.7"/>
<circle cx="543.7" cy="770.6" r="6.7"/>
<circle cx="543.8" cy="768.8" r="6.7"/>
<circle cx="543.9" cy="767" r="6.7"/>
<circle cx="543.9" cy="765.2" r="6.7"/>
<circle cx="544" cy="763.4" r="6.7"/>
<circle cx="544" cy="761.6" r="6.7"/>
<circle cx="544.1" cy="759.8" r="6.7"/>
<circle cx="544.2" cy="758" r="6.7"/>
<circle cx="544.2" cy="756.2" r="6.7"/>
<circle cx="570" cy="802.8" r="6.7"/>
<circle cx="570" cy="801" r="6.7"/>
<circle cx="570.1" cy="799.2" r="6.7"/>
<circle cx="570.1" cy="797.4" r="6.7"/>
<circle cx="570.2" cy="795.6" r="6.7"/>
<circle cx="570.2" cy="793.8" r="6.7"/>
<circle cx="570.3" cy="792" r="6.7"/>
<circle cx="570.3" cy="790.2" r="6.7"/>
<circle cx="570.4" cy="788.4" r="6.7"/>
<circle cx="570.4" cy="786.6" r="6.7"/>
<circle cx="570.5" cy="784.8" r="6.7"/>
<circle cx="570.5" cy="783" r="6.7"/>
<circle cx="570.6" cy="781.2" r="6.7"/>
<circle cx="570.6" cy="779.4" r="6.7"/>
<circle cx="570.7" cy="777.6" r="6.7"/>
<circle cx="570.7" cy="775.9" r="6.7"/>
<circle cx="570.8" cy="774.1" r="6.7"/>
<circle cx="570.9" cy="772.3" r="6.7"/>
<circle cx="570.9" cy="770.5" r="6.7"/>
<circle cx="571" cy="768.7" r="6.7"/>
<circle cx="571" cy="766.9" r="6.7"/>
<circle cx="571.1" cy="765.1" r="6.7"/>
<circle cx="571.1" cy="763.3" r="6.7"/>
<circle cx="571.2" cy="761.5" r="6.7"/>
<circle cx="571.2" cy="759.7" r="6.7"/>
<circle cx="571.3" cy="757.9" r="6.7"/>
<circle cx="571.3" cy="756.1" r="6.7"/>
<circle cx="571.4" cy="754.3" r="6.7"/>
<circle cx="571.4" cy="752.5" r="6.7"/>
<circle cx="571.5" cy="750.7" r="6.7"/>
<circle cx="571.6" cy="748.9" r="6.7"/>
<circle cx="571.6" cy="747.1" r="6.7"/>
<circle cx="571.7" cy="745.3" r="6.7"/>
<circle cx="571.7" cy="743.5" r="6.7"/>
<circle cx="571.8" cy="741.7" r="6.7"/>
<circle cx="571.8" cy="739.9" r="6.7"/>
<circle cx="571.9" cy="738.1" r="6.7"/>
<circle cx="572" cy="736.3" r="6.7"/>
<circle cx="572" cy="734.5" r="6.7"/>
<circle cx="572.1" cy="732.7" r="6.7"/>
<circle cx="572.1" cy="730.9" r="6.7"/>
<circle cx="572.2" cy="729.1" r="6.7"/>
<circle cx="572.3" cy="727.3" r="6.7"/>
<circle cx="597.5" cy="782.2" r="6.7"/>
<circle cx="597.5" cy="780.4" r="6.7"/>
<circle cx="597.6" cy="778.6" r="6.7"/>
<circle cx="597.6" cy="776.8" r="6.7"/>
<circle cx="597.7" cy="775" r="6.7"/>
<circle cx="597.7" cy="773.2" r="6.7"/>
<circle cx="597.8" cy="771.4" r="6.7"/>
<circle cx="597.8" cy="769.6" r="6.7"/>
<circle cx="597.9" cy="767.8" r="6.7"/>
<circle cx="597.9" cy="766" r="6.7"/>
<circle cx="598" cy="764.2" r="6.7"/>
<circle cx="598" cy="762.4" r="6.7"/>
<circle cx="598.1" cy="760.6" r="6.7"/>
<circle cx="598.1" cy="758.8" r="6.7"/>
<circle cx="598.2" cy="757" r="6.7"/>
<circle cx="598.2" cy="755.2" r="6.7"/>
<circle cx="598.3" cy="753.4" r="6.7"/>
<circle cx="598.3" cy="751.6" r="6.7"/>
<circle cx="598.4" cy="749.8" r="6.7"/>
<circle cx="598.4" cy="748" r="6.7"/>
<circle cx="598.5" cy="746.2" r="6.7"/>
<circle cx="598.5" cy="744.4" r="6.7"/>
<circle cx="598.6" cy="742.6" r="6.7"/>
<circle cx="598.6" cy="740.8" r="6.7"/>
<circle cx="598.7" cy="739" r="6.7"/>
<circle cx="598.7" cy="737.2" r="6.7"/>
<circle cx="598.8" cy="735.4" r="6.7"/>
<circle cx="598.8" cy="733.6" r="6.7"/>
<circle cx="598.9" cy="731.8" r="6.7"/>
<circle cx="598.9" cy="730" r="6.7"/>
<circle cx="599" cy="728.2" r="6.7"/>
<circle cx="599.1" cy="726.4" r="6.7"/>
<circle cx="599.1" cy="724.6" r="6.7"/>
<circle cx="599.2" cy="722.8" r="6.7"/>
<circle cx="599.2" cy="721" r="6.7"/>
<circle cx="599.3" cy="719.2" r="6.7"/>
<circle cx="599.3" cy="717.4" r="6.7"/>
<circle cx="599.4" cy="715.6" r="6.7"/>
<circle cx="599.4" cy="713.8" r="6.7"/>
<circle cx="599.5" cy="712" r="6.7"/>
<circle cx="624.5" cy="757.6" r="6.7"/>
<circle cx="624.5" cy="755.8" r="6.7"/>
<circle cx="624.6" cy="754" r="6.7"/>
<circle cx="624.6" cy="752.2" r="6.7"/>
<circle cx="624.7" cy="750.4" r="6.7"/>
<circle cx="624.7" cy="748.6" r="6.7"/>
<circle cx="624.8" cy="746.8" r="6.7"/>
<circle cx="624.8" cy="745" r="6.7"/>
<circle cx="624.9" cy="743.2" r="6.7"/>
<circle cx="624.9" cy="741.4" r="6.7"/>
<circle cx="625" cy="739.6" r="6.7"/>
<circle cx="625" cy="737.8" r="6.7"/>
<circle cx="625.1" cy="736" r="6.7"/>
<circle cx="625.1" cy="734.2" r="6.7"/>
<circle cx="625.1" cy="732.4" r="6.7"/>
<circle cx="625.2" cy="730.6" r="6.7"/>
<circle cx="625.2" cy="728.8" r="6.7"/>
<circle cx="625.3" cy="727" r="6.7"/>
<circle cx="625.3" cy="725.2" r="6.7"/>
<circle cx="625.4" cy="723.4" r="6.7"/>
<circle cx="625.4" cy="721.6" r="6.7"/>
<circle cx="625.5" cy="719.8" r="6.7"/>
<circle cx="625.5" cy="718" r="6.7"/>
<circle cx="625.6" cy="716.2" r="6.7"/>
<circle cx="625.6" cy="714.4" r="6.7"/>
<circle cx="625.7" cy="712.6" r="6.7"/>
<circle cx="651" cy="730.5" r="6.7"/>
<circle cx="651" cy="728.7" r="6.7"/>
<circle cx="651.1" cy="726.9" r="6.7"/>
<circle cx="651.1" cy="725.1" r="6.7"/>
<circle cx="651.2" cy="723.3" r="6.7"/>
<circle cx="651.2" cy="721.5" r="6.7"/>
<circle cx="651.3" cy="719.7" r="6.7"/>
<circle cx="651.3" cy="717.9" r="6.7"/>
<circle cx="651.3" cy="716.1" r="6.7"/>
<circle cx="651.4" cy="714.3" r="6.7"/>
<circle cx="651.4" cy="712.5" r="6.7"/>
<circle cx="344.9" cy="810" r="6.7"/>
<circle cx="344.9" cy="811.7" r="6.7"/>
<circle cx="344.9" cy="813.4" r="6.7"/>
<circle cx="344.9" cy="815.1" r="6.7"/>
<circle cx="344.9" cy="816.8" r="6.7"/>
<circle cx="344.9" cy="818.5" r="6.7"/>
<circle cx="344.9" cy="820.2" r="6.7"/>
<circle cx="344.9" cy="821.9" r="6.7"/>
<circle cx="344.9" cy="823.6" r="6.7"/>
<circle cx="344.9" cy="825.3" r="6.7"/>
<circle cx="344.9" cy="827" r="6.7"/>
<circle cx="344.9" cy="828.7" r="6.7"/>
<circle cx="344.9" cy="830.4" r="6.7"/>
<circle cx="345" cy="832.1" r="6.7"/>
<circle cx="345" cy="833.8" r="6.7"/>
<circle cx="345" cy="835.5" r="6.7"/>
<circle cx="345" cy="837.2" r="6.7"/>
<circle cx="345" cy="838.9" r="6.7"/>
<circle cx="345" cy="840.6" r="6.7"/>
<circle cx="345" cy="842.3" r="6.7"/>
<circle cx="345" cy="844" r="6.7"/>
<circle cx="345" cy="845.7" r="6.7"/>
<circle cx="345" cy="847.4" r="6.7"/>
<circle cx="345" cy="849.1" r="6.7"/>
<circle cx="345" cy="850.8" r="6.7"/>
<circle cx="345" cy="852.5" r="6.7"/>
<circle cx="345" cy="854.2" r="6.7"/>
<circle cx="345" cy="855.9" r="6.7"/>
<circle cx="345" cy="857.6" r="6.7"/>
<circle cx="345" cy="859.3" r="6.7"/>
<circle cx="345" cy="861" r="6.7"/>
<circle cx="345" cy="862.7" r="6.7"/>
<circle cx="345" cy="864.4" r="6.7"/>
<circle cx="345" cy="866.1" r="6.7"/>
<circle cx="345" cy="867.8" r="6.7"/>
<circle cx="345" cy="869.5" r="6.7"/>
<circle cx="345" cy="871.2" r="6.7"/>
<circle cx="345.1" cy="872.9" r="6.7"/>
<circle cx="345.1" cy="874.6" r="6.7"/>
<circle cx="345.1" cy="876.3" r="6.7"/>
<circle cx="345.1" cy="878" r="6.7"/>
<circle cx="345.1" cy="879.7" r="6.7"/>
<circle cx="345.1" cy="881.4" r="6.7"/>
<circle cx="345.1" cy="883.1" r="6.7"/>
<circle cx="345.1" cy="884.8" r="6.7"/>
<circle cx="345.1" cy="886.5" r="6.7"/>
<circle cx="345.1" cy="888.2" r="6.7"/>
<circle cx="345.1" cy="889.9" r="6.7"/>
<circle cx="345.1" cy="891.6" r="6.7"/>
<circle cx="345.1" cy="893.3" r="6.7"/>
<circle cx="345.1" cy="895" r="6.7"/>
<circle cx="345.1" cy="896.7" r="6.7"/>
<circle cx="345.1" cy="898.4" r="6.7"/>
<circle cx="345.1" cy="900.1" r="6.7"/>
<circle cx="345.1" cy="901.8" r="6.7"/>
<circle cx="345.1" cy="903.5" r="6.7"/>
<circle cx="345.1" cy="905.2" r="6.7"/>
<circle cx="345.1" cy="906.9" r="6.7"/>
<circle cx="345.1" cy="908.6" r="6.7"/>
<circle cx="345.1" cy="910.3" r="6.7"/>
<circle cx="345.1" cy="912" r="6.7"/>
<circle cx="345.2" cy="913.7" r="6.7"/>
<circle cx="345.2" cy="915.4" r="6.7"/>
<circle cx="345.2" cy="917.1" r="6.7"/>
<circle cx="345.2" cy="918.8" r="6.7"/>
<circle cx="345.2" cy="920.5" r="6.7"/>
<circle cx="345.2" cy="922.2" r="6.7"/>
<circle cx="345.2" cy="923.9" r="6.7"/>
<circle cx="345.2" cy="925.6" r="6.7"/>
<circle cx="345.2" cy="927.3" r="6.7"/>
<circle cx="345.2" cy="929" r="6.7"/>
<circle cx="345.2" cy="930.7" r="6.7"/>
<circle cx="345.2" cy="932.4" r="6.7"/>
<circle cx="345.2" cy="934.1" r="6.7"/>
<circle cx="345.2" cy="935.8" r="6.7"/>
<circle cx="345.2" cy="937.5" r="6.7"/>
<circle cx="345.2" cy="939.2" r="6.7"/>
<circle cx="345.2" cy="940.9" r="6.7"/>
<circle cx="345.2" cy="942.6" r="6.7"/>
<circle cx="345.2" cy="944.3" r="6.7"/>
<circle cx="345.2" cy="946" r="6.7"/>
<circle cx="345.2" cy="947.7" r="6.7"/>
<circle cx="345.2" cy="949.4" r="6.7"/>
<circle cx="345.2" cy="951.1" r="6.7"/>
<circle cx="345.2" cy="952.8" r="6.7"/>
<circle cx="345.3" cy="954.5" r="6.7"/>
<circle cx="345.3" cy="956.2" r="6.7"/>
<circle cx="345.3" cy="957.9" r="6.7"/>
<circle cx="345.3" cy="959.6" r="6.7"/>
<circle cx="345.3" cy="961.3" r="6.7"/>
<circle cx="345.3" cy="963" r="6.7"/>
<circle cx="345.3" cy="964.7" r="6.7"/>
<circle cx="345.3" cy="966.4" r="6.7"/>
<circle cx="345.3" cy="968.1" r="6.7"/>
<circle cx="345.3" cy="969.8" r="6.7"/>
<circle cx="372.7" cy="776.7" r="6.7"/>
<circle cx="372.7" cy="778.4" r="6.7"/>
<circle cx="372.7" cy="780.1" r="6.7"/>
<circle cx="372.7" cy="781.8" r="6.7"/>
<circle cx="372.7" cy="783.5" r="6.7"/>
<circle cx="372.7" cy="785.2" r="6.7"/>
<circle cx="372.7" cy="786.9" r="6.7"/>
<circle cx="372.7" cy="788.6" r="6.7"/>
<circle cx="372.7" cy="790.3" r="6.7"/>
<circle cx="372.7" cy="792" r="6.7"/>
<circle cx="372.7" cy="793.7" r="6.7"/>
<circle cx="372.7" cy="795.4" r="6.7"/>
<circle cx="372.7" cy="797.1" r="6.7"/>
<circle cx="372.7" cy="798.8" r="6.7"/>
<circle cx="372.7" cy="800.5" r="6.7"/>
<circle cx="372.7" cy="802.2" r="6.7"/>
<circle cx="372.7" cy="803.9" r="6.7"/>
<circle cx="372.7" cy="805.6" r="6.7"/>
<circle cx="372.7" cy="807.3" r="6.7"/>
<circle cx="372.7" cy="809" r="6.7"/>
<circle cx="372.7" cy="810.7" r="6.7"/>
<circle cx="372.7" cy="812.4" r="6.7"/>
<circle cx="372.6" cy="814.1" r="6.7"/>
<circle cx="372.6" cy="815.8" r="6.7"/>
<circle cx="372.6" cy="817.5" r="6.7"/>
<circle cx="372.6" cy="819.2" r="6.7"/>
<circle cx="372.6" cy="820.9" r="6.7"/>
<circle cx="372.6" cy="822.6" r="6.7"/>
<circle cx="372.6" cy="824.3" r="6.7"/>
<circle cx="372.6" cy="826" r="6.7"/>
<circle cx="372.6" cy="827.7" r="6.7"/>
<circle cx="372.6" cy="829.4" r="6.7"/>
<circle cx="372.6" cy="831.1" r="6.7"/>
<circle cx="372.6" cy="832.8" r="6.7"/>
<circle cx="372.6" cy="834.5" r="6.7"/>
<circle cx="372.6" cy="836.2" r="6.7"/>
<circle cx="372.6" cy="837.9" r="6.7"/>
<circle cx="372.6" cy="839.6" r="6.7"/>
<circle cx="372.6" cy="841.3" r="6.7"/>
<circle cx="372.6" cy="843" r="6.7"/>
<circle cx="372.6" cy="844.7" r="6.7"/>
<circle cx="372.6" cy="846.4" r="6.7"/>
<circle cx="372.6" cy="848.1" r="6.7"/>
<circle cx="372.6" cy="849.8" r="6.7"/>
<circle cx="372.6" cy="851.5" r="6.7"/>
<circle cx="372.6" cy="853.2" r="6.7"/>
<circle cx="372.6" cy="854.9" r="6.7"/>
<circle cx="372.6" cy="856.6" r="6.7"/>
<circle cx="372.6" cy="858.3" r="6.7"/>
<circle cx="372.6" cy="860" r="6.7"/>
<circle cx="372.6" cy="861.7" r="6.7"/>
<circle cx="372.6" cy="863.4" r="6.7"/>
<circle cx="372.6" cy="865.1" r="6.7"/>
<circle cx="372.6" cy="866.8" r="6.7"/>
<circle cx="372.6" cy="868.5" r="6.7"/>
<circle cx="372.6" cy="870.2" r="6.7"/>
<circle cx="372.6" cy="871.9" r="6.7"/>
<circle cx="372.6" cy="873.6" r="6.7"/>
<circle cx="372.6" cy="875.3" r="6.7"/>
<circle cx="372.6" cy="877" r="6.7"/>
<circle cx="372.6" cy="878.7" r="6.7"/>
<circle cx="372.6" cy="880.4" r="6.7"/>
<circle cx="372.6" cy="882.1" r="6.7"/>
<circle cx="372.6" cy="883.8" r="6.7"/>
<circle cx="372.6" cy="885.5" r="6.7"/>
<circle cx="372.5" cy="887.2" r="6.7"/>
<circle cx="372.5" cy="888.9" r="6.7"/>
<circle cx="372.5" cy="890.6" r="6.7"/>
<circle cx="372.5" cy="892.3" r="6.7"/>
<circle cx="372.5" cy="894" r="6.7"/>
<circle cx="372.5" cy="895.7" r="6.7"/>
<circle cx="372.5" cy="897.4" r="6.7"/>
<circle cx="372.5" cy="899.1" r="6.7"/>
<circle cx="372.5" cy="900.8" r="6.7"/>
<circle cx="372.5" cy="902.5" r="6.7"/>
<circle cx="372.5" cy="904.2" r="6.7"/>
<circle cx="372.5" cy="905.9" r="6.7"/>
<circle cx="372.5" cy="907.6" r="6.7"/>
<circle cx="372.5" cy="909.3" r="6.7"/>
<circle cx="372.5" cy="911" r="6.7"/>
<circle cx="372.5" cy="912.7" r="6.7"/>
<circle cx="372.5" cy="914.4" r="6.7"/>
<circle cx="372.5" cy="916.1" r="6.7"/>
<circle cx="372.5" cy="917.8" r="6.7"/>
<circle cx="372.5" cy="919.5" r="6.7"/>
<circle cx="372.5" cy="921.2" r="6.7"/>
<circle cx="372.5" cy="922.9" r="6.7"/>
<circle cx="372.5" cy="924.6" r="6.7"/>
<circle cx="372.5" cy="926.3" r="6.7"/>
<circle cx="372.5" cy="928" r="6.7"/>
<circle cx="372.5" cy="929.7" r="6.7"/>
<circle cx="372.5" cy="931.4" r="6.7"/>
<circle cx="372.5" cy="933.1" r="6.7"/>
<circle cx="372.5" cy="934.8" r="6.7"/>
<circle cx="372.5" cy="936.5" r="6.7"/>
<circle cx="372.5" cy="938.2" r="6.7"/>
<circle cx="372.5" cy="939.9" r="6.7"/>
<circle cx="372.5" cy="941.6" r="6.7"/>
<circle cx="372.5" cy="943.3" r="6.7"/>
<circle cx="372.5" cy="945" r="6.7"/>
<circle cx="372.5" cy="946.7" r="6.7"/>
<circle cx="372.5" cy="948.4" r="6.7"/>
<circle cx="372.5" cy="950.1" r="6.7"/>
<circle cx="372.5" cy="951.8" r="6.7"/>
<circle cx="372.5" cy="953.5" r="6.7"/>
<circle cx="372.5" cy="955.2" r="6.7"/>
<circle cx="372.5" cy="956.9" r="6.7"/>
<circle cx="372.4" cy="958.6" r="6.7"/>
<circle cx="372.4" cy="960.3" r="6.7"/>
<circle cx="372.4" cy="962" r="6.7"/>
<circle cx="372.4" cy="963.7" r="6.7"/>
<circle cx="372.4" cy="965.4" r="6.7"/>
<circle cx="372.4" cy="967.1" r="6.7"/>
<circle cx="372.4" cy="968.8" r="6.7"/>
<circle cx="372.4" cy="970.5" r="6.7"/>
<circle cx="401.2" cy="745.9" r="6.7"/>
<circle cx="401.2" cy="747.6" r="6.7"/>
<circle cx="401.2" cy="749.3" r="6.7"/>
<circle cx="401.2" cy="751" r="6.7"/>
<circle cx="401.1" cy="752.7" r="6.7"/>
<circle cx="401.1" cy="754.4" r="6.7"/>
<circle cx="401.1" cy="756.1" r="6.7"/>
<circle cx="401.1" cy="757.8" r="6.7"/>
<circle cx="401.1" cy="759.5" r="6.7"/>
<circle cx="401.1" cy="761.2" r="6.7"/>
<circle cx="401.1" cy="762.9" r="6.7"/>
<circle cx="401.1" cy="764.6" r="6.7"/>
<circle cx="401" cy="766.3" r="6.7"/>
<circle cx="401" cy="768" r="6.7"/>
<circle cx="401" cy="769.7" r="6.7"/>
<circle cx="401" cy="771.4" r="6.7"/>
<circle cx="401" cy="773.1" r="6.7"/>
<circle cx="401" cy="774.8" r="6.7"/>
<circle cx="401" cy="776.5" r="6.7"/>
<circle cx="400.9" cy="778.2" r="6.7"/>
<circle cx="400.9" cy="779.9" r="6.7"/>
<circle cx="400.9" cy="781.6" r="6.7"/>
<circle cx="400.9" cy="783.3" r="6.7"/>
<circle cx="400.9" cy="785" r="6.7"/>
<circle cx="400.9" cy="786.7" r="6.7"/>
<circle cx="400.9" cy="788.4" r="6.7"/>
<circle cx="400.8" cy="790.1" r="6.7"/>
<circle cx="400.8" cy="791.8" r="6.7"/>
<circle cx="400.8" cy="793.5" r="6.7"/>
<circle cx="400.8" cy="795.2" r="6.7"/>
<circle cx="400.8" cy="796.9" r="6.7"/>
<circle cx="400.8" cy="798.6" r="6.7"/>
<circle cx="400.8" cy="800.3" r="6.7"/>
<circle cx="400.8" cy="802" r="6.7"/>
<circle cx="400.7" cy="803.7" r="6.7"/>
<circle cx="400.7" cy="805.4" r="6.7"/>
<circle cx="400.7" cy="807.1" r="6.7"/>
<circle cx="400.7" cy="808.8" r="6.7"/>
<circle cx="400.7" cy="810.5" r="6.7"/>
<circle cx="400.7" cy="812.2" r="6.7"/>
<circle cx="400.7" cy="813.9" r="6.7"/>
<circle cx="400.6" cy="815.6" r="6.7"/>
<circle cx="400.6" cy="817.3" r="6.7"/>
<circle cx="400.6" cy="819" r="6.7"/>
<circle cx="400.6" cy="820.7" r="6.7"/>
<circle cx="400.6" cy="822.4" r="6.7"/>
<circle cx="400.6" cy="824.1" r="6.7"/>
<circle cx="400.6" cy="825.8" r="6.7"/>
<circle cx="400.5" cy="827.5" r="6.7"/>
<circle cx="400.5" cy="829.2" r="6.7"/>
<circle cx="400.5" cy="830.9" r="6.7"/>
<circle cx="400.5" cy="832.6" r="6.7"/>
<circle cx="400.5" cy="834.3" r="6.7"/>
<circle cx="400.5" cy="836" r="6.7"/>
<circle cx="400.5" cy="837.7" r="6.7"/>
<circle cx="400.5" cy="839.4" r="6.7"/>
<circle cx="400.4" cy="841.1" r="6.7"/>
<circle cx="400.4" cy="842.8" r="6.7"/>
<circle cx="400.4" cy="844.5" r="6.7"/>
<circle cx="400.4" cy="846.2" r="6.7"/>
<circle cx="400.4" cy="847.9" r="6.7"/>
<circle cx="400.4" cy="849.6" r="6.7"/>
<circle cx="400.4" cy="851.3" r="6.7"/>
<circle cx="400.3" cy="853" r="6.7"/>
<circle cx="400.3" cy="854.7" r="6.7"/>
<circle cx="400.3" cy="856.4" r="6.7"/>
<circle cx="400.3" cy="858.1" r="6.7"/>
<circle cx="400.3" cy="859.8" r="6.7"/>
<circle cx="400.3" cy="861.5" r="6.7"/>
<circle cx="400.3" cy="863.2" r="6.7"/>
<circle cx="400.2" cy="864.9" r="6.7"/>
<circle cx="400.2" cy="866.6" r="6.7"/>
<circle cx="400.2" cy="868.3" r="6.7"/>
<circle cx="400.2" cy="870" r="6.7"/>
<circle cx="400.2" cy="871.7" r="6.7"/>
<circle cx="400.2" cy="873.4" r="6.7"/>
<circle cx="400.2" cy="875.1" r="6.7"/>
<circle cx="400.2" cy="876.8" r="6.7"/>
<circle cx="400.1" cy="878.5" r="6.7"/>
<circle cx="400.1" cy="880.2" r="6.7"/>
<circle cx="400.1" cy="881.9" r="6.7"/>
<circle cx="400.1" cy="883.6" r="6.7"/>
<circle cx="400.1" cy="885.3" r="6.7"/>
<circle cx="400.1" cy="887" r="6.7"/>
<circle cx="400.1" cy="888.7" r="6.7"/>
<circle cx="400" cy="890.4" r="6.7"/>
<circle cx="400" cy="892.1" r="6.7"/>
<circle cx="400" cy="893.8" r="6.7"/>
<circle cx="400" cy="895.5" r="6.7"/>
<circle cx="400" cy="897.2" r="6.7"/>
<circle cx="400" cy="898.9" r="6.7"/>
<circle cx="400" cy="900.6" r="6.7"/>
<circle cx="400" cy="902.3" r="6.7"/>
<circle cx="399.9" cy="904" r="6.7"/>
<circle cx="399.9" cy="905.7" r="6.7"/>
<circle cx="399.9" cy="907.4" r="6.7"/>
<circle cx="399.9" cy="909.1" r="6.7"/>
<circle cx="399.9" cy="910.8" r="6.7"/>
<circle cx="399.9" cy="912.5" r="6.7"/>
<circle cx="399.9" cy="914.2" r="6.7"/>
<circle cx="399.8" cy="915.9" r="6.7"/>
<circle cx="399.8" cy="917.6" r="6.7"/>
<circle cx="399.8" cy="919.3" r="6.7"/>
<circle cx="399.8" cy="921" r="6.7"/>
<circle cx="399.8" cy="922.7" r="6.7"/>
<circle cx="399.8" cy="924.4" r="6.7"/>
<circle cx="399.8" cy="926.1" r="6.7"/>
<circle cx="399.7" cy="927.8" r="6.7"/>
<circle cx="399.7" cy="929.5" r="6.7"/>
<circle cx="399.7" cy="931.2" r="6.7"/>
<circle cx="399.7" cy="932.9" r="6.7"/>
<circle cx="399.7" cy="934.6" r="6.7"/>
<circle cx="399.7" cy="936.3" r="6.7"/>
<circle cx="399.7" cy="938" r="6.7"/>
<circle cx="399.7" cy="939.7" r="6.7"/>
<circle cx="399.6" cy="941.4" r="6.7"/>
<circle cx="399.6" cy="943.1" r="6.7"/>
<circle cx="399.6" cy="944.8" r="6.7"/>
<circle cx="399.6" cy="946.5" r="6.7"/>
<circle cx="399.6" cy="948.2" r="6.7"/>
<circle cx="399.6" cy="949.9" r="6.7"/>
<circle cx="399.6" cy="951.6" r="6.7"/>
<circle cx="399.5" cy="953.3" r="6.7"/>
<circle cx="399.5" cy="955" r="6.7"/>
<circle cx="399.5" cy="956.7" r="6.7"/>
<circle cx="399.5" cy="958.4" r="6.7"/>
<circle cx="399.5" cy="960.1" r="6.7"/>
<circle cx="399.5" cy="961.8" r="6.7"/>
<circle cx="399.5" cy="963.5" r="6.7"/>
<circle cx="399.4" cy="965.2" r="6.7"/>
<circle cx="399.4" cy="966.9" r="6.7"/>
<circle cx="399.4" cy="968.6" r="6.7"/>
<circle cx="399.4" cy="970.3" r="6.7"/>
<circle cx="427.7" cy="717.1" r="6.7"/>
<circle cx="427.7" cy="718.8" r="6.7"/>
<circle cx="427.7" cy="720.5" r="6.7"/>
<circle cx="427.7" cy="722.2" r="6.7"/>
<circle cx="427.7" cy="723.9" r="6.7"/>
<circle cx="427.7" cy="725.6" r="6.7"/>
<circle cx="427.7" cy="727.3" r="6.7"/>
<circle cx="427.7" cy="729" r="6.7"/>
<circle cx="427.7" cy="730.7" r="6.7"/>
<circle cx="427.7" cy="732.4" r="6.7"/>
<circle cx="427.7" cy="734.1" r="6.7"/>
<circle cx="427.7" cy="735.8" r="6.7"/>
<circle cx="427.7" cy="737.5" r="6.7"/>
<circle cx="427.7" cy="739.2" r="6.7"/>
<circle cx="427.7" cy="740.9" r="6.7"/>
<circle cx="427.7" cy="742.6" r="6.7"/>
<circle cx="427.7" cy="744.3" r="6.7"/>
<circle cx="427.7" cy="746" r="6.7"/>
<circle cx="427.7" cy="747.7" r="6.7"/>
<circle cx="427.7" cy="749.4" r="6.7"/>
<circle cx="427.7" cy="751.1" r="6.7"/>
<circle cx="427.7" cy="752.8" r="6.7"/>
<circle cx="427.7" cy="754.5" r="6.7"/>
<circle cx="427.6" cy="756.2" r="6.7"/>
<circle cx="427.6" cy="757.9" r="6.7"/>
<circle cx="427.6" cy="759.6" r="6.7"/>
<circle cx="427.6" cy="761.3" r="6.7"/>
<circle cx="427.6" cy="763" r="6.7"/>
<circle cx="427.6" cy="764.7" r="6.7"/>
<circle cx="427.6" cy="766.4" r="6.7"/>
<circle cx="427.6" cy="768.1" r="6.7"/>
<circle cx="427.6" cy="769.8" r="6.7"/>
<circle cx="427.6" cy="771.5" r="6.7"/>
<circle cx="427.6" cy="773.2" r="6.7"/>
<circle cx="427.6" cy="774.9" r="6.7"/>
<circle cx="427.6" cy="776.6" r="6.7"/>
<circle cx="427.6" cy="778.3" r="6.7"/>
<circle cx="427.6" cy="780" r="6.7"/>
<circle cx="427.6" cy="781.7" r="6.7"/>
<circle cx="427.6" cy="783.4" r="6.7"/>
<circle cx="427.6" cy="785.1" r="6.7"/>
<circle cx="427.6" cy="786.8" r="6.7"/>
<circle cx="427.6" cy="788.5" r="6.7"/>
<circle cx="427.6" cy="790.2" r="6.7"/>
<circle cx="427.6" cy="791.9" r="6.7"/>
<circle cx="427.6" cy="793.6" r="6.7"/>
<circle cx="427.6" cy="795.3" r="6.7"/>
<circle cx="427.6" cy="797" r="6.7"/>
<circle cx="427.6" cy="798.7" r="6.7"/>
<circle cx="427.6" cy="800.4" r="6.7"/>
<circle cx="427.6" cy="802.1" r="6.7"/>
<circle cx="427.6" cy="803.8" r="6.7"/>
<circle cx="427.6" cy="805.5" r="6.7"/>
<circle cx="427.6" cy="807.2" r="6.7"/>
<circle cx="427.6" cy="808.9" r="6.7"/>
<circle cx="427.6" cy="810.6" r="6.7"/>
<circle cx="427.6" cy="812.3" r="6.7"/>
<circle cx="427.6" cy="814" r="6.7"/>
<circle cx="427.6" cy="815.7" r="6.7"/>
<circle cx="427.6" cy="817.4" r="6.7"/>
<circle cx="427.6" cy="819.1" r="6.7"/>
<circle cx="427.6" cy="820.8" r="6.7"/>
<circle cx="427.6" cy="822.5" r="6.7"/>
<circle cx="427.6" cy="824.2" r="6.7"/>
<circle cx="427.6" cy="825.9" r="6.7"/>
<circle cx="427.6" cy="827.6" r="6.7"/>
<circle cx="427.6" cy="829.3" r="6.7"/>
<circle cx="427.5" cy="831" r="6.7"/>
<circle cx="427.5" cy="832.7" r="6.7"/>
<circle cx="427.5" cy="834.4" r="6.7"/>
<circle cx="427.5" cy="836.1" r="6.7"/>
<circle cx="427.5" cy="837.8" r="6.7"/>
<circle cx="427.5" cy="839.5" r="6.7"/>
<circle cx="427.5" cy="841.2" r="6.7"/>
<circle cx="427.5" cy="842.9" r="6.7"/>
<circle cx="427.5" cy="844.6" r="6.7"/>
<circle cx="427.5" cy="846.3" r="6.7"/>
<circle cx="427.5" cy="848" r="6.7"/>
<circle cx="427.5" cy="849.7" r="6.7"/>
<circle cx="427.5" cy="851.4" r="6.7"/>
<circle cx="427.5" cy="853.1" r="6.7"/>
<circle cx="427.5" cy="854.8" r="6.7"/>
<circle cx="427.5" cy="856.5" r="6.7"/>
<circle cx="427.5" cy="858.2" r="6.7"/>
<circle cx="427.5" cy="859.9" r="6.7"/>
<circle cx="427.5" cy="861.6" r="6.7"/>
<circle cx="427.5" cy="863.3" r="6.7"/>
<circle cx="427.5" cy="865" r="6.7"/>
<circle cx="427.5" cy="866.7" r="6.7"/>
<circle cx="427.5" cy="868.4" r="6.7"/>
<circle cx="427.5" cy="870.1" r="6.7"/>
<circle cx="427.5" cy="871.8" r="6.7"/>
<circle cx="427.5" cy="873.5" r="6.7"/>
<circle cx="427.5" cy="875.2" r="6.7"/>
<circle cx="427.5" cy="876.9" r="6.7"/>
<circle cx="427.5" cy="878.6" r="6.7"/>
<circle cx="427.5" cy="880.3" r="6.7"/>
<circle cx="427.5" cy="882" r="6.7"/>
<circle cx="427.5" cy="883.7" r="6.7"/>
<circle cx="427.5" cy="885.4" r="6.7"/>
<circle cx="427.5" cy="887.1" r="6.7"/>
<circle cx="427.5" cy="888.8" r="6.7"/>
<circle cx="427.5" cy="890.5" r="6.7"/>
<circle cx="427.5" cy="892.2" r="6.7"/>
<circle cx="427.5" cy="893.9" r="6.7"/>
<circle cx="427.5" cy="895.6" r="6.7"/>
<circle cx="427.5" cy="897.3" r="6.7"/>
<circle cx="427.5" cy="899" r="6.7"/>
<circle cx="427.5" cy="900.7" r="6.7"/>
<circle cx="427.5" cy="902.4" r="6.7"/>
<circle cx="427.5" cy="904.1" r="6.7"/>
<circle cx="427.5" cy="905.8" r="6.7"/>
<circle cx="427.4" cy="907.5" r="6.7"/>
<circle cx="427.4" cy="909.2" r="6.7"/>
<circle cx="427.4" cy="910.9" r="6.7"/>
<circle cx="427.4" cy="912.6" r="6.7"/>
<circle cx="427.4" cy="914.3" r="6.7"/>
<circle cx="427.4" cy="916" r="6.7"/>
<circle cx="427.4" cy="917.7" r="6.7"/>
<circle cx="427.4" cy="919.4" r="6.7"/>
<circle cx="427.4" cy="921.1" r="6.7"/>
<circle cx="427.4" cy="922.8" r="6.7"/>
<circle cx="427.4" cy="924.5" r="6.7"/>
<circle cx="427.4" cy="926.2" r="6.7"/>
<circle cx="427.4" cy="927.9" r="6.7"/>
<circle cx="427.4" cy="929.6" r="6.7"/>
<circle cx="427.4" cy="931.3" r="6.7"/>
<circle cx="427.4" cy="933" r="6.7"/>
<circle cx="427.4" cy="934.7" r="6.7"/>
<circle cx="427.4" cy="936.4" r="6.7"/>
<circle cx="427.4" cy="938.1" r="6.7"/>
<circle cx="427.4" cy="939.8" r="6.7"/>
<circle cx="427.4" cy="941.5" r="6.7"/>
<circle cx="427.4" cy="943.2" r="6.7"/>
<circle cx="454.9" cy="713.5" r="6.7"/>
<circle cx="454.9" cy="715.2" r="6.7"/>
<circle cx="454.9" cy="716.9" r="6.7"/>
<circle cx="455" cy="718.6" r="6.7"/>
<circle cx="455" cy="720.3" r="6.7"/>
<circle cx="455" cy="722" r="6.7"/>
<circle cx="455" cy="723.7" r="6.7"/>
<circle cx="455" cy="725.4" r="6.7"/>
<circle cx="455" cy="727.1" r="6.7"/>
<circle cx="455" cy="728.8" r="6.7"/>
<circle cx="455" cy="730.5" r="6.7"/>
<circle cx="455" cy="732.2" r="6.7"/>
<circle cx="455" cy="733.9" r="6.7"/>
<circle cx="455" cy="735.6" r="6.7"/>
<circle cx="455" cy="737.3" r="6.7"/>
<circle cx="455" cy="739" r="6.7"/>
<circle cx="455.1" cy="740.7" r="6.7"/>
<circle cx="455.1" cy="742.4" r="6.7"/>
<circle cx="455.1" cy="744.1" r="6.7"/>
<circle cx="455.1" cy="745.8" r="6.7"/>
<circle cx="455.1" cy="747.5" r="6.7"/>
<circle cx="455.1" cy="749.2" r="6.7"/>
<circle cx="455.1" cy="750.9" r="6.7"/>
<circle cx="455.1" cy="752.6" r="6.7"/>
<circle cx="455.1" cy="754.3" r="6.7"/>
<circle cx="455.1" cy="756" r="6.7"/>
<circle cx="455.1" cy="757.7" r="6.7"/>
<circle cx="455.1" cy="759.4" r="6.7"/>
<circle cx="455.2" cy="761.1" r="6.7"/>
<circle cx="455.2" cy="762.8" r="6.7"/>
<circle cx="455.2" cy="764.5" r="6.7"/>
<circle cx="455.2" cy="766.2" r="6.7"/>
<circle cx="455.2" cy="767.9" r="6.7"/>
<circle cx="455.2" cy="769.6" r="6.7"/>
<circle cx="455.2" cy="771.3" r="6.7"/>
<circle cx="455.2" cy="773" r="6.7"/>
<circle cx="455.2" cy="774.7" r="6.7"/>
<circle cx="455.2" cy="776.4" r="6.7"/>
<circle cx="455.2" cy="778.1" r="6.7"/>
<circle cx="455.2" cy="779.8" r="6.7"/>
<circle cx="455.3" cy="781.5" r="6.7"/>
<circle cx="455.3" cy="783.2" r="6.7"/>
<circle cx="455.3" cy="784.9" r="6.7"/>
<circle cx="455.3" cy="786.6" r="6.7"/>
<circle cx="455.3" cy="788.3" r="6.7"/>
<circle cx="455.3" cy="790" r="6.7"/>
<circle cx="455.3" cy="791.7" r="6.7"/>
<circle cx="455.3" cy="793.4" r="6.7"/>
<circle cx="455.3" cy="795.1" r="6.7"/>
<circle cx="455.3" cy="796.8" r="6.7"/>
<circle cx="455.3" cy="798.5" r="6.7"/>
<circle cx="455.3" cy="800.2" r="6.7"/>
<circle cx="455.3" cy="801.9" r="6.7"/>
<circle cx="455.4" cy="803.6" r="6.7"/>
<circle cx="455.4" cy="805.3" r="6.7"/>
<circle cx="455.4" cy="807" r="6.7"/>
<circle cx="455.4" cy="808.7" r="6.7"/>
<circle cx="455.4" cy="810.4" r="6.7"/>
<circle cx="455.4" cy="812.1" r="6.7"/>
<circle cx="455.4" cy="813.8" r="6.7"/>
<circle cx="455.4" cy="815.5" r="6.7"/>
<circle cx="455.4" cy="817.2" r="6.7"/>
<circle cx="455.4" cy="818.9" r="6.7"/>
<circle cx="455.4" cy="820.6" r="6.7"/>
<circle cx="455.4" cy="822.3" r="6.7"/>
<circle cx="455.5" cy="824" r="6.7"/>
<circle cx="455.5" cy="825.7" r="6.7"/>
<circle cx="455.5" cy="827.4" r="6.7"/>
<circle cx="455.5" cy="829.1" r="6.7"/>
<circle cx="455.5" cy="830.8" r="6.7"/>
<circle cx="455.5" cy="832.5" r="6.7"/>
<circle cx="455.5" cy="834.2" r="6.7"/>
<circle cx="455.5" cy="835.9" r="6.7"/>
<circle cx="455.5" cy="837.6" r="6.7"/>
<circle cx="455.5" cy="839.3" r="6.7"/>
<circle cx="455.5" cy="841" r="6.7"/>
<circle cx="455.5" cy="842.7" r="6.7"/>
<circle cx="455.5" cy="844.4" r="6.7"/>
<circle cx="455.6" cy="846.1" r="6.7"/>
<circle cx="455.6" cy="847.8" r="6.7"/>
<circle cx="455.6" cy="849.5" r="6.7"/>
<circle cx="455.6" cy="851.2" r="6.7"/>
<circle cx="455.6" cy="852.9" r="6.7"/>
<circle cx="455.6" cy="854.6" r="6.7"/>
<circle cx="455.6" cy="856.3" r="6.7"/>
<circle cx="455.6" cy="858" r="6.7"/>
<circle cx="455.6" cy="859.7" r="6.7"/>
<circle cx="455.6" cy="861.4" r="6.7"/>
<circle cx="455.6" cy="863.1" r="6.7"/>
<circle cx="455.6" cy="864.8" r="6.7"/>
<circle cx="455.7" cy="866.5" r="6.7"/>
<circle cx="455.7" cy="868.2" r="6.7"/>
<circle cx="455.7" cy="869.9" r="6.7"/>
<circle cx="455.7" cy="871.6" r="6.7"/>
<circle cx="455.7" cy="873.3" r="6.7"/>
<circle cx="455.7" cy="875" r="6.7"/>
<circle cx="455.7" cy="876.7" r="6.7"/>
<circle cx="455.7" cy="878.4" r="6.7"/>
<circle cx="455.7" cy="880.1" r="6.7"/>
<circle cx="455.7" cy="881.8" r="6.7"/>
<circle cx="455.7" cy="883.5" r="6.7"/>
<circle cx="455.7" cy="885.2" r="6.7"/>
<circle cx="455.8" cy="886.9" r="6.7"/>
<circle cx="455.8" cy="888.6" r="6.7"/>
<circle cx="455.8" cy="890.3" r="6.7"/>
<circle cx="455.8" cy="892" r="6.7"/>
<circle cx="455.8" cy="893.7" r="6.7"/>
<circle cx="455.8" cy="895.4" r="6.7"/>
<circle cx="455.8" cy="897.1" r="6.7"/>
<circle cx="455.8" cy="898.8" r="6.7"/>
<circle cx="455.8" cy="900.5" r="6.7"/>
<circle cx="455.8" cy="902.2" r="6.7"/>
<circle cx="455.8" cy="903.9" r="6.7"/>
<circle cx="455.8" cy="905.6" r="6.7"/>
<circle cx="455.8" cy="907.3" r="6.7"/>
<circle cx="455.9" cy="909" r="6.7"/>
<circle cx="455.9" cy="910.7" r="6.7"/>
<circle cx="455.9" cy="912.4" r="6.7"/>
<circle cx="455.9" cy="914.1" r="6.7"/>
<circle cx="455.9" cy="915.8" r="6.7"/>
<circle cx="455.9" cy="917.5" r="6.7"/>
<circle cx="482.9" cy="712.9" r="6.7"/>
<circle cx="482.9" cy="714.6" r="6.7"/>
<circle cx="482.9" cy="716.3" r="6.7"/>
<circle cx="482.9" cy="718" r="6.7"/>
<circle cx="482.9" cy="719.7" r="6.7"/>
<circle cx="482.9" cy="721.4" r="6.7"/>
<circle cx="482.9" cy="723.1" r="6.7"/>
<circle cx="482.9" cy="724.8" r="6.7"/>
<circle cx="482.9" cy="726.5" r="6.7"/>
<circle cx="482.9" cy="728.2" r="6.7"/>
<circle cx="482.9" cy="729.9" r="6.7"/>
<circle cx="482.9" cy="731.6" r="6.7"/>
<circle cx="482.9" cy="733.3" r="6.7"/>
<circle cx="482.9" cy="735" r="6.7"/>
<circle cx="482.9" cy="736.7" r="6.7"/>
<circle cx="482.9" cy="738.4" r="6.7"/>
<circle cx="483" cy="740.1" r="6.7"/>
<circle cx="483" cy="741.8" r="6.7"/>
<circle cx="483" cy="743.5" r="6.7"/>
<circle cx="483" cy="745.2" r="6.7"/>
<circle cx="483" cy="746.9" r="6.7"/>
<circle cx="483" cy="748.6" r="6.7"/>
<circle cx="483" cy="750.3" r="6.7"/>
<circle cx="483" cy="752" r="6.7"/>
<circle cx="483" cy="753.7" r="6.7"/>
<circle cx="483" cy="755.4" r="6.7"/>
<circle cx="483" cy="757.1" r="6.7"/>
<circle cx="483" cy="758.8" r="6.7"/>
<circle cx="483" cy="760.5" r="6.7"/>
<circle cx="483" cy="762.2" r="6.7"/>
<circle cx="483" cy="763.9" r="6.7"/>
<circle cx="483" cy="765.6" r="6.7"/>
<circle cx="483" cy="767.3" r="6.7"/>
<circle cx="483" cy="769" r="6.7"/>
<circle cx="483" cy="770.7" r="6.7"/>
<circle cx="483.1" cy="772.4" r="6.7"/>
<circle cx="483.1" cy="774.1" r="6.7"/>
<circle cx="483.1" cy="775.8" r="6.7"/>
<circle cx="483.1" cy="777.5" r="6.7"/>
<circle cx="483.1" cy="779.2" r="6.7"/>
<circle cx="483.1" cy="780.9" r="6.7"/>
<circle cx="483.1" cy="782.6" r="6.7"/>
<circle cx="483.1" cy="784.3" r="6.7"/>
<circle cx="483.1" cy="786" r="6.7"/>
<circle cx="483.1" cy="787.7" r="6.7"/>
<circle cx="483.1" cy="789.4" r="6.7"/>
<circle cx="483.1" cy="791.1" r="6.7"/>
<circle cx="483.1" cy="792.8" r="6.7"/>
<circle cx="483.1" cy="794.5" r="6.7"/>
<circle cx="483.1" cy="796.2" r="6.7"/>
<circle cx="483.1" cy="797.9" r="6.7"/>
<circle cx="483.1" cy="799.6" r="6.7"/>
<circle cx="483.1" cy="801.3" r="6.7"/>
<circle cx="483.1" cy="803" r="6.7"/>
<circle cx="483.2" cy="804.7" r="6.7"/>
<circle cx="483.2" cy="806.4" r="6.7"/>
<circle cx="483.2" cy="808.1" r="6.7"/>
<circle cx="483.2" cy="809.8" r="6.7"/>
<circle cx="483.2" cy="811.5" r="6.7"/>
<circle cx="483.2" cy="813.2" r="6.7"/>
<circle cx="483.2" cy="814.9" r="6.7"/>
<circle cx="483.2" cy="816.6" r="6.7"/>
<circle cx="483.2" cy="818.3" r="6.7"/>
<circle cx="483.2" cy="820" r="6.7"/>
<circle cx="483.2" cy="821.7" r="6.7"/>
<circle cx="483.2" cy="823.4" r="6.7"/>
<circle cx="483.2" cy="825.1" r="6.7"/>
<circle cx="483.2" cy="826.8" r="6.7"/>
<circle cx="483.2" cy="828.5" r="6.7"/>
<circle cx="483.2" cy="830.2" r="6.7"/>
<circle cx="483.2" cy="831.9" r="6.7"/>
<circle cx="483.2" cy="833.6" r="6.7"/>
<circle cx="483.2" cy="835.3" r="6.7"/>
<circle cx="483.3" cy="837" r="6.7"/>
<circle cx="483.3" cy="838.7" r="6.7"/>
<circle cx="483.3" cy="840.4" r="6.7"/>
<circle cx="483.3" cy="842.1" r="6.7"/>
<circle cx="483.3" cy="843.8" r="6.7"/>
<circle cx="483.3" cy="845.5" r="6.7"/>
<circle cx="483.3" cy="847.2" r="6.7"/>
<circle cx="483.3" cy="848.9" r="6.7"/>
<circle cx="483.3" cy="850.6" r="6.7"/>
<circle cx="483.3" cy="852.3" r="6.7"/>
<circle cx="483.3" cy="854" r="6.7"/>
<circle cx="483.3" cy="855.7" r="6.7"/>
<circle cx="483.3" cy="857.4" r="6.7"/>
<circle cx="483.3" cy="859.1" r="6.7"/>
<circle cx="483.3" cy="860.8" r="6.7"/>
<circle cx="483.3" cy="862.5" r="6.7"/>
<circle cx="483.3" cy="864.2" r="6.7"/>
<circle cx="483.3" cy="865.9" r="6.7"/>
<circle cx="483.3" cy="867.6" r="6.7"/>
<circle cx="483.4" cy="869.3" r="6.7"/>
<circle cx="483.4" cy="871" r="6.7"/>
<circle cx="483.4" cy="872.7" r="6.7"/>
<circle cx="483.4" cy="874.4" r="6.7"/>
<circle cx="483.4" cy="876.1" r="6.7"/>
<circle cx="483.4" cy="877.8" r="6.7"/>
<circle cx="483.4" cy="879.5" r="6.7"/>
<circle cx="483.4" cy="881.2" r="6.7"/>
<circle cx="483.4" cy="882.9" r="6.7"/>
<circle cx="483.4" cy="884.6" r="6.7"/>
<circle cx="510.9" cy="713.6" r="6.7"/>
<circle cx="510.9" cy="715.3" r="6.7"/>
<circle cx="510.9" cy="717" r="6.7"/>
<circle cx="510.9" cy="718.7" r="6.7"/>
<circle cx="510.9" cy="720.4" r="6.7"/>
<circle cx="510.9" cy="722.1" r="6.7"/>
<circle cx="510.9" cy="723.8" r="6.7"/>
<circle cx="510.9" cy="725.5" r="6.7"/>
<circle cx="510.9" cy="727.2" r="6.7"/>
<circle cx="511" cy="728.9" r="6.7"/>
<circle cx="511" cy="730.6" r="6.7"/>
<circle cx="511" cy="732.3" r="6.7"/>
<circle cx="511" cy="734" r="6.7"/>
<circle cx="511" cy="735.7" r="6.7"/>
<circle cx="511" cy="737.4" r="6.7"/>
<circle cx="511" cy="739.1" r="6.7"/>
<circle cx="511" cy="740.8" r="6.7"/>
<circle cx="511" cy="742.5" r="6.7"/>
<circle cx="511" cy="744.2" r="6.7"/>
<circle cx="511" cy="745.9" r="6.7"/>
<circle cx="511" cy="747.6" r="6.7"/>
<circle cx="511" cy="749.3" r="6.7"/>
<circle cx="511" cy="751" r="6.7"/>
<circle cx="511" cy="752.7" r="6.7"/>
<circle cx="511" cy="754.4" r="6.7"/>
<circle cx="511" cy="756.1" r="6.7"/>
<circle cx="511.1" cy="757.8" r="6.7"/>
<circle cx="511.1" cy="759.5" r="6.7"/>
<circle cx="511.1" cy="761.2" r="6.7"/>
<circle cx="511.1" cy="762.9" r="6.7"/>
<circle cx="511.1" cy="764.6" r="6.7"/>
<circle cx="511.1" cy="766.3" r="6.7"/>
<circle cx="511.1" cy="768" r="6.7"/>
<circle cx="511.1" cy="769.7" r="6.7"/>
<circle cx="511.1" cy="771.4" r="6.7"/>
<circle cx="511.1" cy="773.1" r="6.7"/>
<circle cx="511.1" cy="774.8" r="6.7"/>
<circle cx="511.1" cy="776.5" r="6.7"/>
<circle cx="511.1" cy="778.2" r="6.7"/>
<circle cx="511.1" cy="779.9" r="6.7"/>
<circle cx="511.1" cy="781.6" r="6.7"/>
<circle cx="511.1" cy="783.3" r="6.7"/>
<circle cx="511.1" cy="785" r="6.7"/>
<circle cx="511.2" cy="786.7" r="6.7"/>
<circle cx="511.2" cy="788.4" r="6.7"/>
<circle cx="511.2" cy="790.1" r="6.7"/>
<circle cx="511.2" cy="791.8" r="6.7"/>
<circle cx="511.2" cy="793.5" r="6.7"/>
<circle cx="511.2" cy="795.2" r="6.7"/>
<circle cx="511.2" cy="796.9" r="6.7"/>
<circle cx="511.2" cy="798.6" r="6.7"/>
<circle cx="511.2" cy="800.3" r="6.7"/>
<circle cx="511.2" cy="802" r="6.7"/>
<circle cx="511.2" cy="803.7" r="6.7"/>
<circle cx="511.2" cy="805.4" r="6.7"/>
<circle cx="511.2" cy="807.1" r="6.7"/>
<circle cx="511.2" cy="808.8" r="6.7"/>
<circle cx="511.2" cy="810.5" r="6.7"/>
<circle cx="511.2" cy="812.2" r="6.7"/>
<circle cx="511.2" cy="813.9" r="6.7"/>
<circle cx="511.3" cy="815.6" r="6.7"/>
<circle cx="511.3" cy="817.3" r="6.7"/>
<circle cx="511.3" cy="819" r="6.7"/>
<circle cx="511.3" cy="820.7" r="6.7"/>
<circle cx="511.3" cy="822.4" r="6.7"/>
<circle cx="511.3" cy="824.1" r="6.7"/>
<circle cx="511.3" cy="825.8" r="6.7"/>
<circle cx="511.3" cy="827.5" r="6.7"/>
<circle cx="511.3" cy="829.2" r="6.7"/>
<circle cx="511.3" cy="830.9" r="6.7"/>
<circle cx="511.3" cy="832.6" r="6.7"/>
<circle cx="511.3" cy="834.3" r="6.7"/>
<circle cx="511.3" cy="836" r="6.7"/>
<circle cx="511.3" cy="837.7" r="6.7"/>
<circle cx="511.3" cy="839.4" r="6.7"/>
<circle cx="511.3" cy="841.1" r="6.7"/>
<circle cx="511.4" cy="842.8" r="6.7"/>
<circle cx="511.4" cy="844.5" r="6.7"/>
<circle cx="511.4" cy="846.2" r="6.7"/>
<circle cx="511.4" cy="847.9" r="6.7"/>
<circle cx="511.4" cy="849.6" r="6.7"/>
<circle cx="511.4" cy="851.3" r="6.7"/>
<circle cx="511.4" cy="853" r="6.7"/>
<circle cx="511.4" cy="854.7" r="6.7"/>
<circle cx="511.4" cy="856.4" r="6.7"/>
<circle cx="539.1" cy="713.1" r="6.7"/>
<circle cx="539.1" cy="714.8" r="6.7"/>
<circle cx="539.1" cy="716.5" r="6.7"/>
<circle cx="539.1" cy="718.2" r="6.7"/>
<circle cx="539.1" cy="719.9" r="6.7"/>
<circle cx="539.1" cy="721.6" r="6.7"/>
<circle cx="539.1" cy="723.3" r="6.7"/>
<circle cx="539.1" cy="725" r="6.7"/>
<circle cx="539.1" cy="726.7" r="6.7"/>
<circle cx="539.1" cy="728.4" r="6.7"/>
<circle cx="539.1" cy="730.1" r="6.7"/>
<circle cx="539.1" cy="731.8" r="6.7"/>
<circle cx="539.1" cy="733.5" r="6.7"/>
<circle cx="539.2" cy="735.2" r="6.7"/>
<circle cx="539.2" cy="736.9" r="6.7"/>
<circle cx="539.2" cy="738.6" r="6.7"/>
<circle cx="539.2" cy="740.3" r="6.7"/>
<circle cx="539.2" cy="742" r="6.7"/>
<circle cx="539.2" cy="743.7" r="6.7"/>
<circle cx="539.2" cy="745.4" r="6.7"/>
<circle cx="539.2" cy="747.1" r="6.7"/>
<circle cx="539.2" cy="748.8" r="6.7"/>
<circle cx="539.2" cy="750.5" r="6.7"/>
<circle cx="539.2" cy="752.2" r="6.7"/>
<circle cx="539.2" cy="753.9" r="6.7"/>
<circle cx="539.2" cy="755.6" r="6.7"/>
<circle cx="539.2" cy="757.3" r="6.7"/>
<circle cx="539.2" cy="759" r="6.7"/>
<circle cx="539.2" cy="760.7" r="6.7"/>
<circle cx="539.2" cy="762.4" r="6.7"/>
<circle cx="539.2" cy="764.1" r="6.7"/>
<circle cx="539.2" cy="765.8" r="6.7"/>
<circle cx="539.2" cy="767.5" r="6.7"/>
<circle cx="539.2" cy="769.2" r="6.7"/>
<circle cx="539.2" cy="770.9" r="6.7"/>
<circle cx="539.3" cy="772.6" r="6.7"/>
<circle cx="539.3" cy="774.3" r="6.7"/>
<circle cx="539.3" cy="776" r="6.7"/>
<circle cx="539.3" cy="777.7" r="6.7"/>
<circle cx="539.3" cy="779.4" r="6.7"/>
<circle cx="539.3" cy="781.1" r="6.7"/>
<circle cx="539.3" cy="782.8" r="6.7"/>
<circle cx="539.3" cy="784.5" r="6.7"/>
<circle cx="539.3" cy="786.2" r="6.7"/>
<circle cx="539.3" cy="787.9" r="6.7"/>
<circle cx="539.3" cy="789.6" r="6.7"/>
<circle cx="539.3" cy="791.3" r="6.7"/>
<circle cx="539.3" cy="793" r="6.7"/>
<circle cx="539.3" cy="794.7" r="6.7"/>
<circle cx="539.3" cy="796.4" r="6.7"/>
<circle cx="539.3" cy="798.1" r="6.7"/>
<circle cx="539.3" cy="799.8" r="6.7"/>
<circle cx="539.3" cy="801.5" r="6.7"/>
<circle cx="539.3" cy="803.2" r="6.7"/>
<circle cx="539.3" cy="804.9" r="6.7"/>
<circle cx="539.3" cy="806.6" r="6.7"/>
<circle cx="539.3" cy="808.3" r="6.7"/>
<circle cx="539.3" cy="810" r="6.7"/>
<circle cx="539.4" cy="811.7" r="6.7"/>
<circle cx="539.4" cy="813.4" r="6.7"/>
<circle cx="539.4" cy="815.1" r="6.7"/>
<circle cx="539.4" cy="816.8" r="6.7"/>
<circle cx="539.4" cy="818.5" r="6.7"/>
<circle cx="539.4" cy="820.2" r="6.7"/>
<circle cx="539.4" cy="821.9" r="6.7"/>
<circle cx="539.4" cy="823.6" r="6.7"/>
<circle cx="539.4" cy="825.3" r="6.7"/>
<circle cx="539.4" cy="827" r="6.7"/>
<circle cx="539.4" cy="828.7" r="6.7"/>
<circle cx="566.9" cy="712.1" r="6.7"/>
<circle cx="566.9" cy="713.8" r="6.7"/>
<circle cx="566.9" cy="715.5" r="6.7"/>
<circle cx="567" cy="717.2" r="6.7"/>
<circle cx="567" cy="718.9" r="6.7"/>
<circle cx="567" cy="720.6" r="6.7"/>
<circle cx="567" cy="722.3" r="6.7"/>
<circle cx="567" cy="724" r="6.7"/>
<circle cx="567" cy="725.7" r="6.7"/>
<circle cx="567" cy="727.4" r="6.7"/>
<circle cx="567" cy="729.1" r="6.7"/>
<circle cx="567" cy="730.8" r="6.7"/>
<circle cx="567" cy="732.5" r="6.7"/>
<circle cx="567" cy="734.2" r="6.7"/>
<circle cx="567.1" cy="735.9" r="6.7"/>
<circle cx="567.1" cy="737.6" r="6.7"/>
<circle cx="567.1" cy="739.3" r="6.7"/>
<circle cx="567.1" cy="741" r="6.7"/>
<circle cx="567.1" cy="742.7" r="6.7"/>
<circle cx="567.1" cy="744.4" r="6.7"/>
<circle cx="567.1" cy="746.1" r="6.7"/>
<circle cx="567.1" cy="747.8" r="6.7"/>
<circle cx="567.1" cy="749.5" r="6.7"/>
<circle cx="567.1" cy="751.2" r="6.7"/>
<circle cx="567.1" cy="752.9" r="6.7"/>
<circle cx="567.2" cy="754.6" r="6.7"/>
<circle cx="567.2" cy="756.3" r="6.7"/>
<circle cx="567.2" cy="758" r="6.7"/>
<circle cx="567.2" cy="759.7" r="6.7"/>
<circle cx="567.2" cy="761.4" r="6.7"/>
<circle cx="567.2" cy="763.1" r="6.7"/>
<circle cx="567.2" cy="764.8" r="6.7"/>
<circle cx="567.2" cy="766.5" r="6.7"/>
<circle cx="567.2" cy="768.2" r="6.7"/>
<circle cx="567.2" cy="769.9" r="6.7"/>
<circle cx="567.2" cy="771.6" r="6.7"/>
<circle cx="567.2" cy="773.3" r="6.7"/>
<circle cx="567.3" cy="775" r="6.7"/>
<circle cx="567.3" cy="776.7" r="6.7"/>
<circle cx="567.3" cy="778.4" r="6.7"/>
<circle cx="567.3" cy="780.1" r="6.7"/>
<circle cx="567.3" cy="781.8" r="6.7"/>
<circle cx="567.3" cy="783.5" r="6.7"/>
<circle cx="567.3" cy="785.2" r="6.7"/>
<circle cx="567.3" cy="786.9" r="6.7"/>
<circle cx="567.3" cy="788.6" r="6.7"/>
<circle cx="567.3" cy="790.3" r="6.7"/>
<circle cx="567.3" cy="792" r="6.7"/>
<circle cx="567.4" cy="793.7" r="6.7"/>
<circle cx="567.4" cy="795.4" r="6.7"/>
<circle cx="567.4" cy="797.1" r="6.7"/>
<circle cx="567.4" cy="798.8" r="6.7"/>
<circle cx="567.4" cy="800.5" r="6.7"/>
<circle cx="567.4" cy="802.2" r="6.7"/>
<circle cx="594.7" cy="713.2" r="6.7"/>
<circle cx="594.7" cy="714.9" r="6.7"/>
<circle cx="594.7" cy="716.6" r="6.7"/>
<circle cx="594.7" cy="718.3" r="6.7"/>
<circle cx="594.7" cy="720" r="6.7"/>
<circle cx="594.7" cy="721.7" r="6.7"/>
<circle cx="594.7" cy="723.4" r="6.7"/>
<circle cx="594.7" cy="725.1" r="6.7"/>
<circle cx="594.7" cy="726.8" r="6.7"/>
<circle cx="594.7" cy="728.5" r="6.7"/>
<circle cx="594.7" cy="730.2" r="6.7"/>
<circle cx="594.8" cy="731.9" r="6.7"/>
<circle cx="594.8" cy="733.6" r="6.7"/>
<circle cx="594.8" cy="735.3" r="6.7"/>
<circle cx="594.8" cy="737" r="6.7"/>
<circle cx="594.8" cy="738.7" r="6.7"/>
<circle cx="594.8" cy="740.4" r="6.7"/>
<circle cx="594.8" cy="742.1" r="6.7"/>
<circle cx="594.8" cy="743.8" r="6.7"/>
<circle cx="594.8" cy="745.5" r="6.7"/>
<circle cx="594.8" cy="747.2" r="6.7"/>
<circle cx="594.8" cy="748.9" r="6.7"/>
<circle cx="594.8" cy="750.6" r="6.7"/>
<circle cx="594.8" cy="752.3" r="6.7"/>
<circle cx="594.8" cy="754" r="6.7"/>
<circle cx="594.8" cy="755.7" r="6.7"/>
<circle cx="594.8" cy="757.4" r="6.7"/>
<circle cx="594.8" cy="759.1" r="6.7"/>
<circle cx="594.8" cy="760.8" r="6.7"/>
<circle cx="594.8" cy="762.5" r="6.7"/>
<circle cx="594.8" cy="764.2" r="6.7"/>
<circle cx="594.9" cy="765.9" r="6.7"/>
<circle cx="594.9" cy="767.6" r="6.7"/>
<circle cx="594.9" cy="769.3" r="6.7"/>
<circle cx="594.9" cy="771" r="6.7"/>
<circle cx="594.9" cy="772.7" r="6.7"/>
<circle cx="594.9" cy="774.4" r="6.7"/>
<circle cx="594.9" cy="776.1" r="6.7"/>
<circle cx="594.9" cy="777.8" r="6.7"/>
<circle cx="594.9" cy="779.5" r="6.7"/>
<circle cx="594.9" cy="781.2" r="6.7"/>
<circle cx="621.8" cy="713.3" r="6.7"/>
<circle cx="621.8" cy="715" r="6.7"/>
<circle cx="621.8" cy="716.7" r="6.7"/>
<circle cx="621.9" cy="718.4" r="6.7"/>
<circle cx="621.9" cy="720.1" r="6.7"/>
<circle cx="621.9" cy="721.8" r="6.7"/>
<circle cx="621.9" cy="723.5" r="6.7"/>
<circle cx="621.9" cy="725.2" r="6.7"/>
<circle cx="621.9" cy="726.9" r="6.7"/>
<circle cx="621.9" cy="728.6" r="6.7"/>
<circle cx="621.9" cy="730.3" r="6.7"/>
<circle cx="621.9" cy="732" r="6.7"/>
<circle cx="621.9" cy="733.7" r="6.7"/>
<circle cx="621.9" cy="735.4" r="6.7"/>
<circle cx="621.9" cy="737.1" r="6.7"/>
<circle cx="621.9" cy="738.8" r="6.7"/>
<circle cx="621.9" cy="740.5" r="6.7"/>
<circle cx="621.9" cy="742.2" r="6.7"/>
<circle cx="621.9" cy="743.9" r="6.7"/>
<circle cx="621.9" cy="745.6" r="6.7"/>
<circle cx="621.9" cy="747.3" r="6.7"/>
<circle cx="621.9" cy="749" r="6.7"/>
<circle cx="621.9" cy="750.7" r="6.7"/>
<circle cx="621.9" cy="752.4" r="6.7"/>
<circle cx="621.9" cy="754.1" r="6.7"/>
<circle cx="621.9" cy="755.8" r="6.7"/>
<circle cx="621.9" cy="757.5" r="6.7"/>
<circle cx="648.4" cy="712" r="6.7"/>
<circle cx="648.4" cy="713.7" r="6.7"/>
<circle cx="648.4" cy="715.4" r="6.7"/>
<circle cx="648.4" cy="717.1" r="6.7"/>
<circle cx="648.4" cy="718.8" r="6.7"/>
<circle cx="648.4" cy="720.5" r="6.7"/>
<circle cx="648.4" cy="722.2" r="6.7"/>
<circle cx="648.4" cy="723.9" r="6.7"/>
<circle cx="648.4" cy="725.6" r="6.7"/>
<circle cx="648.4" cy="727.3" r="6.7"/>
<circle cx="648.4" cy="729" r="6.7"/>
</g>
</g>
<rect x="250.5" y="144.5" width="1550.0" height="923.8499999999999" fill="none" stroke="#000" stroke-width="1.2"/>
<path d="M313.1 1068.3v16.5M511.1 1068.3v16.5M709.1 1068.3v16.5M907.1 1068.3v16.5M1105 1068.3v16.5M1303 1068.3v16.5M1501 1068.3v16.5M1699 1068.3v16.5M250.5 1041.3h-17.3M250.5 913.2h-17.3M250.5 785h-17.3M250.5 656.8h-17.3M250.5 528.7h-17.3M250.5 400.5h-17.3M250.5 272.4h-17.3M250.5 144.2h-17.3M273.5 1068.3v10.5M352.7 1068.3v10.5M392.3 1068.3v10.5M431.9 1068.3v10.5M471.5 1068.3v10.5M550.7 1068.3v10.5M590.3 1068.3v10.5M629.9 1068.3v10.5M669.5 1068.3v10.5M748.7 1068.3v10.5M788.3 1068.3v10.5M827.9 1068.3v10.5M867.5 1068.3v10.5M946.7 1068.3v10.5M986.2 1068.3v10.5M1025.8 1068.3v10.5M1065.4 1068.3v10.5M1144.6 1068.3v10.5M1184.2 1068.3v10.5M1223.8 1068.3v10.5M1263.4 1068.3v10.5M1342.6 1068.3v10.5M1382.2 1068.3v10.5M1421.8 1068.3v10.5M1461.4 1068.3v10.5M1540.6 1068.3v10.5M1580.2 1068.3v10.5M1619.8 1068.3v10.5M1659.4 1068.3v10.5M1738.6 1068.3v10.5M1778.2 1068.3v10.5M250.5 1067h-11.2M250.5 1015.7h-11.2M250.5 990.1h-11.2M250.5 964.4h-11.2M250.5 938.8h-11.2M250.5 887.5h-11.2M250.5 861.9h-11.2M250.5 836.3h-11.2M250.5 810.6h-11.2M250.5 759.4h-11.2M250.5 733.7h-11.2M250.5 708.1h-11.2M250.5 682.5h-11.2M250.5 631.2h-11.2M250.5 605.6h-11.2M250.5 579.9h-11.2M250.5 554.3h-11.2M250.5 503h-11.2M250.5 477.4h-11.2M250.5 451.8h-11.2M250.5 426.2h-11.2M250.5 374.9h-11.2M250.5 349.3h-11.2M250.5 323.6h-11.2M250.5 298h-11.2M250.5 246.7h-11.2M250.5 221.1h-11.2M250.5 195.5h-11.2M250.5 169.8h-11.2" stroke="#000" stroke-width="5.56"/>
<g style="font-family:'DejaVu Sans','Liberation Sans',sans-serif;font-size:36.1px" fill="#000">
<text x="313.1" y="1117.2" text-anchor="middle">136.40</text>
<text x="511.1" y="1117.2" text-anchor="middle">136.45</text>
<text x="709.1" y="1117.2" text-anchor="middle">136.50</text>
<text x="907.1" y="1117.2" text-anchor="middle">136.55</text>
<text x="1105" y="1117.2" text-anchor="middle">136.60</text>
<text x="1303" y="1117.2" text-anchor="middle">136.65</text>
<text x="1501" y="1117.2" text-anchor="middle">136.70</text>
<text x="1699" y="1117.2" text-anchor="middle">136.75</text>
<text x="228.1" y="1055.5" text-anchor="end">300</text>
<text x="228.1" y="927.4" text-anchor="end">400</text>
<text x="228.1" y="799.2" text-anchor="end">500</text>
<text x="228.1" y="671" text-anchor="end">600</text>
<text x="228.1" y="542.9" text-anchor="end">700</text>
<text x="228.1" y="414.7" text-anchor="end">800</text>
<text x="228.1" y="286.6" text-anchor="end">900</text>
<text x="228.1" y="158.4" text-anchor="end">1000</text>
</g>
<text x="1025" y="1170.6" text-anchor="middle" style="font-family:'DejaVu Sans','Liberation Sans',sans-serif;font-size:55.6px">Age (Myr)</text>
<text transform="translate(117.9 606.3) rotate(-90)" text-anchor="middle" style="font-family:'DejaVu Sans','Liberation Sans',sans-serif;font-size:55.6px">FM period (days)</text>
<text transform="translate(357.9 858.7) rotate(-80)" style="font-family:'DejaVu Sans','Liberation Sans',sans-serif;font-size:15.3px">n=1</text>
<text transform="translate(384.1 771.7) rotate(-80)" style="font-family:'DejaVu Sans','Liberation Sans',sans-serif;font-size:15.3px">n=2</text>
<text transform="translate(410.6 686.7) rotate(-80)" style="font-family:'DejaVu Sans','Liberation Sans',sans-serif;font-size:15.3px">n=3</text>
<text transform="translate(438.6 610.2) rotate(-80)" style="font-family:'DejaVu Sans','Liberation Sans',sans-serif;font-size:15.3px">n=4</text>
<text transform="translate(466.8 536.2) rotate(-80)" style="font-family:'DejaVu Sans','Liberation Sans',sans-serif;font-size:15.3px">n=5</text>
<text transform="translate(494.6 464.7) rotate(-80)" style="font-family:'DejaVu Sans','Liberation Sans',sans-serif;font-size:15.3px">n=6</text>
<text transform="translate(522.6 395.7) rotate(-80)" style="font-family:'DejaVu Sans','Liberation Sans',sans-serif;font-size:15.3px">n=7</text>
<text transform="translate(550.4 334.2) rotate(-80)" style="font-family:'DejaVu Sans','Liberation Sans',sans-serif;font-size:15.3px">n=8</text>
<text transform="translate(578.4 267.4) rotate(-80)" style="font-family:'DejaVu Sans','Liberation Sans',sans-serif;font-size:15.3px">n=9</text>
<text transform="translate(605.6 210.2) rotate(-80)" style="font-family:'DejaVu Sans','Liberation Sans',sans-serif;font-size:15.3px">n=10</text>
<text transform="translate(633.4 159.7) rotate(-80)" style="font-family:'DejaVu Sans','Liberation Sans',sans-serif;font-size:15.3px">n=11</text>
<rect x="264.0" y="157.6" width="534.3" height="217.6" rx="5.5" fill="#fff" fill-opacity="0.8" stroke="#ccc" stroke-opacity="0.8" stroke-width="2"/>
<g stroke-linecap="square">
<path d="M273.1 177H322.7" stroke="#000" stroke-width="2.1"/>
<circle cx="298.4" cy="177" r="2.4" fill="#000"/>
<path d="M273.1 214H322.7" stroke="#00f" stroke-width="4.17"/>
<path d="M273.1 250.7H322.7" stroke="#008000" stroke-width="4.17"/>
<path d="M273.1 286.8H322.7" stroke="#ffa500" stroke-width="2.08"/>
</g>
<circle cx="298.4" cy="340.4" r="6.7" fill="#ff0" fill-opacity="0.22" stroke="#ff0" stroke-opacity="0.22" stroke-width="1.8"/>
<g style="font-family:'DejaVu Sans','Liberation Sans',sans-serif;font-size:25px" fill="#000">
<text x="342.6" y="186.2">m4.80_z0.0036</text>
<text x="342.6" y="222.6">peak detector horizontal bounds</text>
<text x="342.6" y="259.5">min. P consistent with observations</text>
<text x="342.6" y="295.6">max. P must fall within this span</text>
<text x="342.6" y="332.3">intersection w/ P,L,T,R</text>
<text x="342.6" y="359.8">loosely defined</text>
</g></svg>
</body></html>
